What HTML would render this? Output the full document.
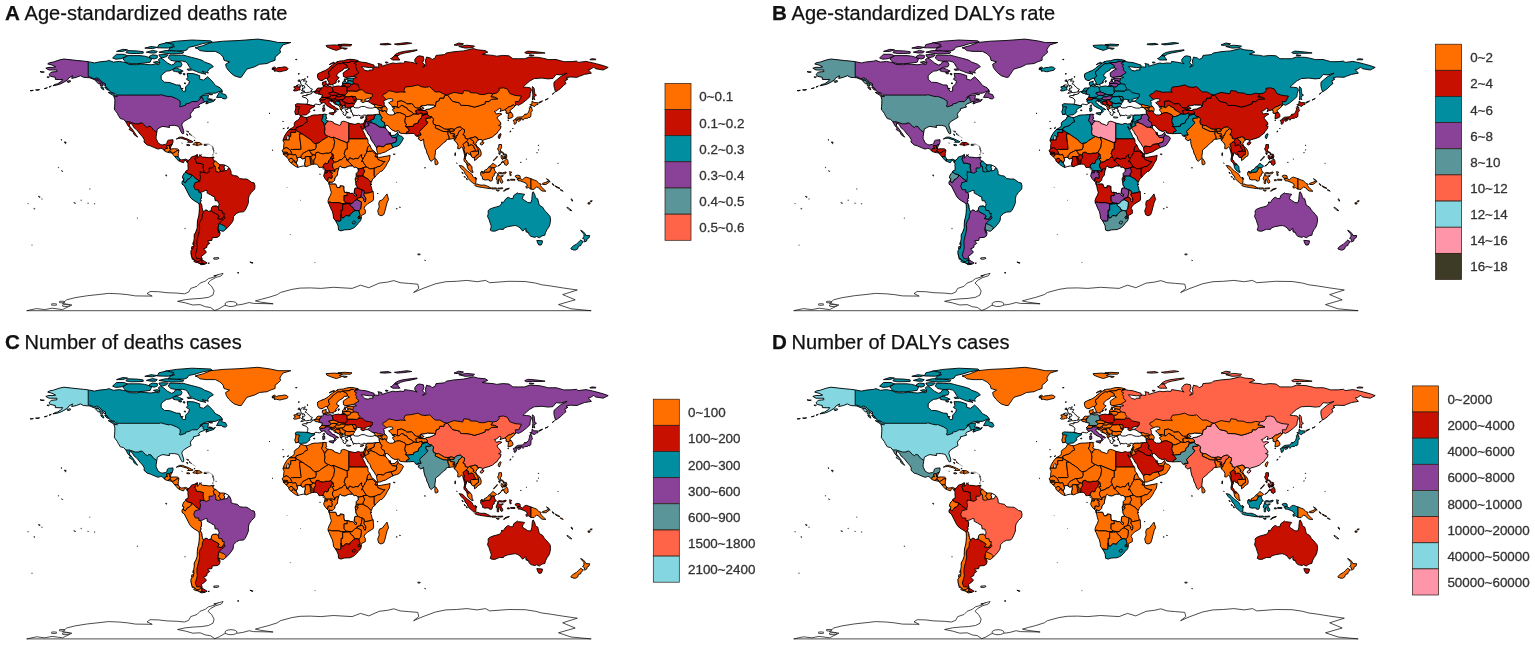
<!DOCTYPE html>
<html lang="en"><head><meta charset="utf-8"><title>Global burden maps</title>
<style>html,body{margin:0;padding:0;background:#fff}svg{display:block;filter:blur(0.4px)}text{font-family:"Liberation Sans",Arial,Helvetica,sans-serif;fill:#111}.t{font-size:20.05px;stroke:#111;stroke-width:0.25px}.t tspan.b{font-weight:700;font-size:20.6px}.l{font-size:13.4px;fill:#333;stroke:#333;stroke-width:0.3px}.m path{stroke:#000;stroke-width:0.9;stroke-linejoin:round}</style></head><body>
<svg width="1535" height="647" viewBox="0 0 1535 647">
<rect width="1535" height="647" fill="#fff"/>
<defs>
<clipPath id="c_namerica"><path d="M45.8 68.2L49.0 67.3L52.9 67.4L55.6 66.9L52.1 65.1L47.7 63.9L49.0 62.9L53.7 61.9L59.2 60.0L63.9 59.0L71.0 59.8L77.2 60.5L83.5 61.1L88.2 61.7L94.5 62.9L99.2 61.9L107.1 61.1L108.6 60.3L113.4 62.1L119.6 61.4L125.9 62.7L129.1 64.5L136.9 64.7L140.0 64.0L144.8 64.3L151.0 64.8L155.7 63.9L158.9 64.7L159.7 62.7L158.4 59.5L160.5 58.0L163.6 59.5L165.2 61.1L167.5 63.0L171.4 65.1L173.8 64.3L175.4 61.9L177.7 61.4L180.9 62.2L182.0 64.3L180.9 66.8L176.2 67.3L173.0 69.2L169.9 70.8L166.7 71.1L163.6 73.2L161.2 75.7L161.2 79.2L164.4 82.2L169.9 82.5L176.2 84.9L180.1 85.1L180.9 88.6L183.2 91.4L185.6 91.1L185.6 87.0L188.7 83.8L189.5 81.3L186.4 79.2L187.9 77.3L187.1 73.4L193.4 73.6L199.7 75.7L199.7 79.2L203.6 80.1L207.6 76.8L212.3 81.3L215.4 85.4L220.1 87.8L222.2 90.3L220.1 91.2L215.4 93.2L209.1 93.2L204.4 94.3L199.7 97.5L203.6 95.4L208.3 94.8L208.3 96.7L207.6 99.2L209.1 100.0L213.0 100.3L215.4 99.2L213.8 101.3L209.1 102.7L206.0 104.0L206.0 102.4L208.3 101.1L204.4 101.6L204.4 102.2L199.7 104.0L198.6 105.6L199.7 106.9L196.6 107.8L193.4 108.7L193.4 110.5L191.4 112.1L190.3 114.6L191.1 117.3L187.9 119.1L184.8 121.0L182.4 123.0L181.8 125.1L183.7 130.8L183.7 133.5L182.4 133.8L180.9 131.6L179.8 129.1L178.5 126.4L176.9 125.9L174.6 125.4L171.4 125.4L169.1 125.6L169.6 127.4L166.7 127.0L162.8 126.4L160.5 127.2L157.3 129.1L156.8 132.4L156.2 136.4L156.1 138.4L158.1 142.9L160.5 144.4L162.0 145.0L165.2 144.4L166.7 143.7L167.5 140.8L168.3 140.2L173.0 139.7L173.0 142.1L171.9 144.9L171.1 146.2L170.2 148.6L171.4 148.9L174.6 148.7L177.7 148.9L179.0 150.2L178.3 153.4L178.2 156.7L179.3 158.3L180.9 159.9L184.0 159.6L185.6 159.1L188.1 160.4L187.3 162.8L186.4 160.9L184.8 160.1L183.5 162.7L181.3 162.0L179.3 161.1L178.2 160.6L176.2 158.3L174.9 156.8L172.2 153.6L171.8 153.0L169.1 152.6L165.9 151.8L164.7 151.0L162.0 148.4L160.5 148.4L158.1 149.1L154.2 147.6L150.2 145.8L147.1 144.9L144.0 142.1L144.3 139.7L142.6 136.9L140.0 134.0L137.8 131.2L136.1 129.3L133.8 127.5L132.2 124.3L129.5 123.1L129.5 125.9L132.2 129.1L134.5 132.4L136.4 135.3L137.7 137.1L136.4 136.4L133.8 134.3L133.3 132.1L130.6 130.4L129.1 129.5L130.3 128.0L128.0 125.9L126.5 123.0L125.8 121.8L123.7 119.4L120.3 118.6L118.2 115.2L117.3 113.3L115.2 110.5L114.3 109.1L114.6 106.5L114.8 103.2L114.9 99.7L113.8 96.1L117.3 96.7L116.5 95.1L114.9 93.5L110.2 91.9L108.6 89.4L105.5 86.2L103.9 84.6L100.8 82.2L97.7 79.7L94.5 79.7L89.8 77.8L83.5 77.3L80.4 75.7L76.5 77.3L71.7 78.4L72.5 75.7L68.6 78.1L67.8 79.7L63.9 82.2L60.8 83.8L56.8 85.1L52.9 85.7L55.3 84.3L57.6 83.8L61.5 81.3L62.6 79.4L60.0 79.6L55.3 79.4L55.3 77.3L50.5 76.3L49.0 74.5L50.5 73.1L51.3 72.1L56.8 71.6L56.8 70.0L53.7 70.0L49.0 70.0Z"/></clipPath>
<clipPath id="c_samerica"><path d="M188.1 160.4L190.3 159.1L191.1 157.3L192.2 156.7L195.0 155.9L197.3 154.4L197.7 156.7L197.0 158.3L199.7 155.9L199.7 154.7L202.1 157.0L206.0 157.3L209.1 157.8L212.3 157.2L212.6 158.3L213.8 160.7L215.7 161.1L217.8 163.2L220.1 164.8L223.2 164.8L224.8 165.1L228.0 166.7L229.5 168.0L231.1 171.6L231.1 174.5L233.5 175.3L234.2 175.6L237.4 176.1L239.7 178.6L243.7 179.0L246.8 179.0L249.2 180.5L251.5 182.3L254.2 182.9L255.0 185.8L254.7 189.1L251.5 192.3L249.2 195.6L248.4 198.8L248.4 202.8L246.8 206.9L245.2 210.1L243.7 211.8L239.7 212.1L236.6 213.4L233.5 216.6L233.1 220.7L230.3 224.7L228.0 227.2L225.6 229.6L223.4 231.2L221.4 231.0L218.1 229.6L219.8 232.0L220.1 233.6L219.3 236.1L217.0 237.4L212.3 237.7L211.8 240.4L207.6 240.9L209.7 243.4L207.1 245.0L206.8 247.4L203.6 249.0L206.0 251.4L206.3 252.3L203.6 254.7L201.3 256.3L202.2 259.2L198.1 261.7L196.6 261.2L194.2 259.6L191.8 257.1L191.1 253.9L190.9 250.6L193.4 248.2L193.9 245.0L193.7 241.7L194.2 238.5L194.2 234.8L195.8 232.0L197.2 228.0L197.3 223.1L197.7 219.9L198.8 215.8L199.1 212.6L199.4 208.5L199.2 204.3L197.3 202.5L194.2 200.7L191.1 198.3L189.7 196.4L188.4 193.9L186.4 189.9L184.3 185.8L182.0 184.2L182.0 181.8L183.5 180.0L184.0 178.6L182.4 178.1L182.7 176.1L184.0 173.7L185.6 172.1L185.9 170.9L187.9 170.3L188.2 168.0L187.9 165.6L188.1 163.2L187.3 162.8Z"/></clipPath>
<clipPath id="c_africa"><path d="M300.3 116.5L301.3 116.3L304.9 117.3L306.5 117.6L309.6 116.5L312.0 115.4L314.3 114.9L317.4 114.9L321.4 114.6L325.0 114.1L326.9 114.6L326.1 115.4L326.2 117.0L326.9 118.6L325.3 119.4L326.9 120.7L329.2 121.2L330.3 121.2L333.5 122.2L333.9 123.5L337.1 124.4L339.4 125.4L341.0 124.3L341.0 122.2L343.4 121.2L345.7 121.7L348.9 123.1L352.0 123.8L355.1 124.4L356.7 123.8L358.3 123.3L360.3 124.0L363.3 123.8L364.4 126.7L363.5 129.1L363.3 129.6L362.2 128.7L360.8 126.1L360.6 126.7L361.4 128.3L362.7 130.4L363.8 132.4L365.3 135.6L365.5 136.4L367.5 138.9L368.0 140.5L368.0 142.9L370.0 145.3L371.6 149.2L374.0 151.0L376.3 153.4L377.6 154.2L377.1 155.9L378.7 157.5L381.8 157.0L385.0 156.4L388.1 155.9L390.1 155.2L389.8 157.5L389.4 159.9L387.3 163.2L385.7 166.4L383.4 169.6L381.8 171.3L380.7 171.3L378.7 172.9L376.3 175.3L374.9 177.3L372.7 178.9L371.9 181.0L371.1 182.6L370.5 185.0L371.6 187.5L372.1 190.7L373.2 191.5L373.3 194.8L373.7 198.0L373.2 200.4L370.8 202.0L367.7 203.7L366.1 205.3L364.6 206.9L364.1 208.5L365.3 210.1L365.3 213.4L361.4 215.5L361.3 216.6L361.3 218.2L360.6 220.7L358.3 223.1L356.7 225.2L354.3 227.5L352.8 228.4L349.9 229.6L347.3 229.7L344.1 229.9L341.0 230.9L338.6 230.1L338.3 227.6L338.2 225.9L336.8 223.1L335.5 220.8L333.5 218.2L333.2 215.0L332.4 211.6L330.8 208.5L329.2 204.5L328.1 202.4L328.1 200.4L328.9 198.0L330.6 194.8L331.3 192.3L330.3 189.1L329.7 185.8L328.9 184.2L328.8 182.6L328.1 181.8L326.9 180.7L325.0 178.6L323.7 176.1L324.2 173.7L324.7 172.9L325.0 170.8L324.8 168.8L324.5 168.0L322.9 167.2L320.6 167.4L319.0 167.5L318.2 165.6L316.7 164.3L314.9 164.1L312.7 164.3L311.5 164.6L309.6 165.3L306.5 166.7L304.9 166.2L303.3 165.9L300.2 166.6L297.8 167.4L295.5 166.4L292.6 164.3L291.5 163.3L290.0 162.3L288.9 160.7L288.7 159.1L286.8 157.5L286.1 156.7L284.5 155.1L283.4 154.4L283.2 152.6L282.1 150.7L283.7 148.6L283.7 145.3L284.2 142.9L282.9 140.5L284.5 136.1L286.8 132.4L289.2 129.6L292.3 127.8L293.9 126.7L294.4 125.1L294.2 123.5L295.2 121.8L297.7 120.1L298.9 119.4Z"/></clipPath>
<clipPath id="c_eurasia"><path d="M295.6 114.6L294.8 111.8L295.8 108.9L295.8 106.6L295.2 104.8L297.0 103.7L301.0 103.9L304.1 104.0L306.8 104.2L307.7 102.4L307.9 100.0L306.1 98.0L302.5 96.9L302.2 96.1L304.9 95.4L307.1 95.8L306.8 94.0L307.9 94.5L309.9 94.3L312.0 93.3L312.1 92.0L313.5 91.7L315.1 91.2L316.2 90.3L317.0 88.6L318.2 88.0L320.6 88.0L322.5 87.7L323.3 87.0L323.1 85.4L322.3 84.4L322.5 82.2L324.5 81.8L326.2 81.0L325.9 83.0L326.6 83.5L325.3 84.6L324.7 85.4L325.3 86.2L326.9 86.4L326.9 87.0L328.4 86.7L330.8 86.4L331.9 87.2L334.7 86.5L338.6 85.9L340.2 86.4L341.0 86.2L342.6 85.1L342.6 83.8L342.6 82.2L343.7 81.2L344.9 81.0L346.5 82.2L347.8 81.8L347.9 80.1L346.5 79.4L346.5 78.6L348.9 78.1L353.6 78.1L356.7 77.5L354.3 76.5L352.0 76.5L348.9 77.0L345.7 77.5L343.4 76.5L343.4 74.9L343.0 73.2L344.9 71.6L348.1 69.5L349.5 69.0L347.6 67.9L344.1 68.2L342.9 70.0L339.4 72.1L337.1 74.1L336.6 76.2L339.1 77.6L337.9 78.9L335.8 81.3L335.3 82.8L334.4 83.6L332.1 84.6L330.0 84.8L329.5 83.5L328.4 81.3L327.2 78.9L326.2 78.1L324.5 79.1L322.2 80.4L320.6 80.5L318.5 79.4L317.6 77.3L317.4 74.9L317.9 73.7L320.6 72.4L323.7 71.3L326.1 70.0L328.4 68.4L330.0 66.8L332.4 65.1L333.9 63.9L337.1 62.2L339.4 61.1L343.4 60.8L346.5 59.8L349.9 59.3L353.6 59.5L358.3 60.6L355.1 61.4L358.0 61.4L361.4 62.1L366.1 62.6L374.0 65.1L374.4 66.8L372.4 67.4L369.3 67.6L363.8 66.8L361.4 66.6L363.8 69.2L364.6 70.3L368.5 71.1L369.3 70.0L373.2 70.0L372.4 68.4L375.5 66.8L378.7 67.3L378.7 64.7L377.9 63.5L381.8 64.3L381.8 66.3L386.5 64.7L392.8 63.0L395.9 63.5L400.7 62.9L403.8 63.4L404.6 61.4L410.1 62.2L414.8 63.0L417.1 63.9L414.8 61.4L414.8 59.5L417.1 56.6L419.5 55.8L423.4 56.6L423.9 59.5L422.6 62.7L425.0 65.1L422.6 67.1L425.8 66.0L425.8 63.5L425.3 61.1L426.6 57.0L428.1 57.5L430.5 57.9L432.1 59.5L435.2 57.9L436.0 55.4L444.6 54.6L446.2 53.0L454.0 51.7L463.5 50.9L473.4 48.6L477.6 49.8L485.4 50.6L487.8 52.2L482.3 54.3L487.0 54.9L493.3 55.4L496.4 56.2L502.7 55.4L509.0 55.8L512.9 58.7L518.4 58.7L524.7 58.7L529.4 57.0L538.8 57.4L545.1 58.7L548.2 59.6L556.1 59.5L560.8 60.8L563.9 61.7L571.8 61.6L576.5 61.1L578.1 62.4L585.9 61.4L592.2 62.7L596.9 63.9L603.2 65.6L608.2 67.4L603.2 70.0L595.3 68.7L593.8 67.1L590.6 69.2L588.3 69.7L591.4 73.2L584.4 74.4L579.6 76.2L577.0 77.3L570.2 77.0L566.3 77.6L567.1 79.7L564.7 80.9L566.0 83.5L563.6 85.4L560.8 88.3L558.1 90.3L555.6 91.9L554.5 88.6L553.9 85.4L554.0 82.2L556.9 79.7L560.8 76.5L565.5 74.1L567.1 73.2L560.8 74.9L556.1 74.5L553.0 78.4L548.2 78.9L542.0 78.1L534.1 78.6L529.4 81.3L524.7 85.4L523.1 87.0L526.3 87.3L530.2 87.8L531.4 89.9L530.2 93.5L529.9 96.7L526.3 100.0L522.3 103.2L518.4 105.3L516.8 104.5L514.8 106.0L513.2 108.1L510.6 109.7L509.8 111.0L511.3 112.6L512.8 114.6L512.9 116.5L512.1 117.6L509.8 118.3L508.0 118.8L508.2 116.2L508.4 114.6L507.4 113.4L505.9 112.9L506.3 110.8L504.8 109.9L501.1 111.0L500.0 111.6L501.1 108.9L499.6 108.2L496.4 110.8L494.4 111.3L495.6 112.9L496.4 114.1L499.3 113.3L501.9 114.1L499.6 115.4L497.2 117.3L497.2 118.6L498.8 120.2L500.8 123.0L500.8 124.6L498.5 125.4L501.1 126.2L500.4 128.7L498.0 131.6L497.2 133.2L494.9 134.8L492.5 136.9L488.9 138.4L487.0 138.9L483.9 139.8L482.8 140.5L482.6 141.6L482.0 139.7L479.6 139.5L477.3 140.8L475.7 143.7L476.8 146.2L479.5 148.6L481.0 151.8L481.2 154.2L480.7 155.9L477.6 157.7L476.8 159.1L474.5 160.6L474.5 158.3L473.5 157.7L472.1 157.3L471.3 155.9L470.5 154.7L468.2 153.9L467.9 152.8L466.6 153.0L466.4 155.1L465.3 157.5L465.5 159.6L466.9 160.9L467.4 162.8L469.1 163.3L470.1 164.5L471.9 166.7L472.1 170.0L473.2 172.2L472.1 172.4L470.1 170.9L468.6 169.6L467.5 167.7L467.1 165.6L466.8 164.0L465.8 162.8L464.2 161.2L463.9 159.1L464.4 157.5L464.6 155.1L463.8 151.8L463.0 149.4L462.8 147.8L461.6 147.0L459.2 148.9L457.7 148.6L458.0 145.3L456.9 142.9L455.3 141.6L454.4 140.5L453.7 138.4L451.7 138.9L449.3 139.2L447.8 139.3L446.2 140.0L445.9 141.3L443.8 142.6L441.5 144.9L438.8 147.4L436.8 148.9L435.5 150.2L435.4 152.6L434.9 155.9L434.9 157.8L433.6 159.4L432.4 160.1L431.3 161.4L429.7 159.9L429.2 158.3L428.1 155.4L427.0 153.4L426.3 150.2L425.0 147.8L423.9 143.7L423.7 140.5L423.4 138.9L422.8 140.0L420.8 140.8L417.9 138.4L419.5 137.2L417.1 136.4L415.4 135.6L414.8 134.3L414.0 133.4L410.1 133.5L406.3 133.7L402.2 133.4L399.6 132.9L398.8 130.8L395.2 131.4L392.0 129.9L389.7 127.8L388.1 125.7L386.5 125.3L385.7 125.9L385.0 126.9L385.7 128.3L387.3 130.4L388.4 131.6L389.4 133.2L390.0 132.2L390.6 134.0L390.5 135.1L392.8 135.5L395.2 135.0L396.4 133.5L397.8 132.1L398.1 134.0L399.1 135.6L401.6 136.3L403.5 138.1L401.9 141.3L400.3 143.7L399.1 145.3L396.3 146.5L394.4 147.0L391.6 148.3L388.1 150.2L385.7 151.8L381.8 153.0L380.2 153.8L377.9 153.9L377.4 152.6L376.8 150.2L376.6 147.9L375.5 146.2L374.0 143.7L371.1 139.7L370.0 136.4L368.0 134.0L366.9 131.6L365.0 129.1L364.4 126.7L363.3 123.8L364.2 122.3L364.7 120.9L365.3 119.6L366.0 118.4L365.8 117.0L366.1 116.2L366.4 115.2L365.3 115.2L363.8 115.0L362.2 116.0L360.6 116.0L358.3 114.9L357.5 115.7L355.1 115.4L353.6 115.0L352.5 114.6L352.5 112.9L351.2 112.1L351.7 110.5L350.7 109.7L350.7 109.2L350.4 108.4L348.9 108.2L347.3 108.6L347.6 109.5L346.5 109.4L345.6 108.9L345.1 109.7L345.7 110.8L346.5 112.1L347.3 112.9L346.0 112.9L346.0 113.8L345.7 115.4L344.8 115.4L343.7 114.9L342.9 113.3L343.7 112.5L342.6 112.1L342.1 111.3L341.3 110.3L340.2 108.9L340.1 107.3L339.7 106.5L338.6 105.6L337.1 104.8L334.7 104.0L333.5 102.9L332.4 101.3L331.1 101.8L331.0 100.6L329.1 101.0L328.9 102.7L330.8 103.9L331.9 105.6L334.7 106.6L334.7 107.4L337.1 108.4L338.6 109.5L337.9 110.0L336.3 108.9L335.7 110.0L336.4 111.3L335.5 112.3L334.7 113.1L334.2 112.6L334.7 110.8L333.9 109.7L332.8 108.7L331.9 108.4L330.0 107.6L328.8 106.8L326.9 105.6L325.9 104.4L325.3 103.2L323.4 102.6L321.4 103.5L319.8 104.7L317.4 104.4L315.9 104.0L314.5 104.7L314.6 105.8L314.6 106.6L313.1 107.4L310.9 108.4L309.3 110.5L309.9 111.6L308.7 112.9L307.2 114.1L306.1 114.9L302.7 115.0L301.1 116.0L299.7 115.2L298.6 114.2Z"/></clipPath>
</defs>
<g class="m" transform="translate(0,0)">
<path d="M300.7 93.3L303.3 93.0L304.1 92.5L306.5 92.5L309.6 92.2L311.6 91.7L311.8 91.2L310.7 91.1L312.1 90.1L312.3 89.1L310.4 88.6L309.9 87.8L309.4 87.0L307.7 86.0L307.2 85.1L306.5 84.1L304.9 83.8L305.7 83.1L306.5 82.2L306.8 81.2L304.1 81.0L303.3 81.2L304.7 79.6L301.8 79.6L301.3 80.4L300.5 81.7L300.7 83.0L301.0 84.6L301.9 84.9L301.8 85.7L304.1 85.6L304.9 87.0L304.7 88.0L302.5 88.2L303.0 89.0L302.1 89.0L303.2 89.6L301.4 90.4L303.0 90.9L304.9 91.2L304.1 91.6L302.5 91.9Z" fill="#FFFFFF"/>
<path d="M300.2 89.9L299.7 88.2L300.2 86.7L298.1 86.9L296.7 86.2L298.1 84.9L296.3 85.7L296.3 86.5L293.9 86.7L294.2 88.0L295.5 88.3L294.7 89.3L293.4 90.1L293.9 90.9L296.3 90.9L298.6 90.1Z" fill="#C71000"/>
<path d="M300.2 86.7L301.0 86.2L299.9 85.1L298.1 84.9L296.7 86.2L298.1 86.9Z" fill="#FFFFFF"/>
<path d="M271.9 68.4L274.3 66.9L276.6 68.4L278.2 67.6L281.3 67.4L284.5 66.8L286.8 67.3L288.2 68.9L286.8 70.2L282.9 71.1L279.8 71.8L276.6 71.1L274.0 71.1L275.1 70.3L271.9 69.4L275.1 68.7Z" fill="#C71000"/>
<path d="M326.1 45.4L334.7 44.9L342.6 45.7L339.4 47.3L342.6 48.1L336.3 50.4L331.6 48.9L326.9 47.0Z" fill="#C71000"/>
<path d="M337.9 44.6L344.1 44.1L352.0 44.6L350.4 46.0L342.6 45.9Z" fill="#C71000"/>
<path d="M342.6 47.8L347.3 48.3L345.7 49.3L343.4 48.9Z" fill="#C71000"/>
<path d="M390.5 58.5L392.8 60.0L395.9 60.0L399.9 60.0L398.3 57.9L397.2 55.9L394.4 55.8L392.8 57.0L392.0 58.2Z" fill="#C71000"/>
<path d="M394.4 55.4L398.3 55.6L400.7 54.1L404.6 53.0L411.7 51.7L417.1 50.4L417.1 49.8L411.7 50.4L403.8 51.4L399.1 52.5L395.9 54.1Z" fill="#C71000"/>
<path d="M380.2 43.9L388.1 43.4L391.2 44.4L385.0 44.9L380.2 44.6Z" fill="#C71000"/>
<path d="M394.4 44.1L400.7 43.3L406.9 42.5L411.7 43.3L403.8 44.4L397.5 44.9Z" fill="#C71000"/>
<path d="M458.8 46.5L466.6 45.2L474.5 46.0L472.9 47.7L465.0 48.1Z" fill="#C71000"/>
<path d="M454.0 44.9L458.8 43.0L463.5 43.8L461.9 44.9L455.6 45.4Z" fill="#C71000"/>
<path d="M524.7 52.5L527.8 51.1L537.2 51.9L542.0 52.5L545.1 53.0L538.8 53.3L532.5 53.2L526.3 53.5Z" fill="#C71000"/>
<path d="M529.4 54.8L534.1 55.3L532.5 55.9L529.4 55.6Z" fill="#C71000"/>
<path d="M589.8 59.5L592.2 58.7L596.1 59.2L595.3 59.8L590.3 59.8Z" fill="#C71000"/>
<path d="M385.7 61.9L388.1 62.4L387.3 63.2L385.4 62.7Z" fill="#C71000"/>
<path d="M532.5 86.5L534.1 88.2L534.6 91.9L534.9 94.3L536.5 95.1L534.1 96.7L534.4 98.8L534.9 99.8L533.3 98.8L532.5 100.0L532.5 97.5L532.9 95.1L532.5 91.9L532.2 88.6Z" fill="#C71000"/>
<path d="M529.4 107.3L531.0 105.6L529.9 104.4L531.8 104.4L532.1 101.0L534.1 102.6L537.7 102.7L538.0 104.4L535.7 105.0L534.6 106.5L532.1 105.5L530.2 106.5Z" fill="#FF6F00"/>
<path d="M531.0 107.3L531.8 107.4L531.8 108.9L532.5 110.5L531.0 112.5L531.0 114.6L530.7 116.7L529.1 117.8L528.9 117.0L527.5 118.3L524.7 118.4L524.4 118.9L522.8 120.2L521.7 118.9L522.0 118.3L518.4 118.9L515.3 119.4L515.3 118.8L517.6 117.2L520.0 117.0L523.1 116.7L524.4 114.6L525.2 113.8L525.2 114.9L527.0 113.9L528.6 112.1L529.4 109.7L529.4 108.1Z" fill="#FF6F00"/>
<path d="M515.1 119.6L516.4 120.1L516.7 121.4L515.9 123.6L514.8 124.3L514.0 123.8L514.2 121.8L513.2 121.0L513.4 120.2Z" fill="#FF6F00"/>
<path d="M517.6 119.4L520.8 119.1L521.1 119.7L520.3 120.6L518.4 121.4L517.5 120.4Z" fill="#FF6F00"/>
<path d="M500.4 133.5L501.1 134.0L500.4 136.4L499.3 138.9L498.2 137.2L498.5 135.6L499.6 134.0Z" fill="#C71000"/>
<path d="M480.3 143.2L481.5 142.1L483.4 141.9L483.9 142.7L483.1 144.0L481.7 145.0L480.3 144.5Z" fill="#FF6F00"/>
<path d="M435.0 158.8L435.7 158.6L437.1 160.7L438.0 162.3L437.9 164.0L436.1 164.9L435.2 164.5L434.9 162.3L434.9 160.7Z" fill="#FF6F00"/>
<path d="M498.9 144.5L501.5 144.5L501.6 147.8L500.5 149.4L500.7 151.5L502.7 152.0L504.4 154.1L503.2 153.4L501.1 152.3L499.3 152.1L498.9 151.0L498.0 150.2L497.7 148.1L498.6 147.6Z" fill="#FF6F00"/>
<path d="M501.1 163.2L502.4 161.2L504.0 161.2L505.5 160.2L506.6 158.6L507.9 160.7L508.2 164.0L506.6 164.8L506.5 165.4L504.6 164.5L504.3 162.7L502.7 162.3Z" fill="#FF6F00"/>
<path d="M504.8 154.2L506.3 154.2L506.9 156.4L506.2 158.0L505.5 158.0L505.1 156.2Z" fill="#FF6F00"/>
<path d="M501.1 155.4L502.9 155.9L503.2 157.5L502.7 159.8L501.9 159.1L501.1 157.5Z" fill="#FF6F00"/>
<path d="M498.6 152.8L500.2 153.0L500.0 154.6L499.4 154.6Z" fill="#FF6F00"/>
<path d="M493.6 160.9L494.9 159.6L497.1 157.3L497.2 156.2L496.4 157.5L494.9 158.6L493.6 160.2Z" fill="#FF6F00"/>
<path d="M480.7 172.1L481.7 171.3L482.3 172.9L483.9 172.9L485.8 172.1L489.4 172.1L490.9 169.6L491.1 167.7L494.1 167.7L494.2 168.8L494.9 170.9L496.4 172.9L494.5 173.2L494.1 175.8L492.5 176.9L492.5 179.4L491.7 181.0L489.7 181.1L489.4 180.0L487.0 179.7L485.0 180.0L482.6 179.2L482.3 176.9L480.7 175.0Z" fill="#FF6F00"/>
<path d="M481.7 171.3L484.2 172.1L484.5 170.3L487.0 169.3L488.6 167.2L490.9 165.6L492.8 163.2L494.4 164.3L496.7 166.1L495.2 167.5L494.1 167.7L491.1 167.7L490.9 169.6L489.4 172.1L485.8 172.1L483.9 172.9L482.3 172.9Z" fill="#FF6F00"/>
<path d="M488.6 167.2L489.5 166.4L490.6 166.6L490.2 167.7L489.4 167.7Z" fill="#FFFFFF"/>
<path d="M459.2 165.4L462.7 166.1L464.6 168.3L467.4 170.9L469.7 172.6L472.1 174.5L472.9 176.4L474.5 178.2L476.0 179.4L475.9 181.8L475.7 183.9L473.8 183.9L472.1 182.3L470.2 180.8L468.2 178.6L467.1 176.0L465.0 173.7L464.6 171.7L462.7 170.0L461.1 168.3Z" fill="#FF6F00"/>
<path d="M474.8 185.5L476.2 184.1L477.6 184.1L479.9 185.0L483.1 185.2L483.9 184.9L486.4 185.7L489.4 187.0L489.4 188.6L486.2 188.1L482.3 187.5L479.9 187.1L476.8 186.5Z" fill="#FF6F00"/>
<path d="M497.7 173.2L499.3 172.4L502.7 172.9L505.9 171.9L506.2 172.9L504.3 173.9L499.6 173.7L498.3 174.5L498.2 175.8L500.4 176.0L503.2 175.6L503.2 176.1L500.7 177.4L501.9 179.7L503.0 181.8L501.9 183.4L500.4 182.3L499.6 178.9L498.5 179.2L498.6 182.3L498.6 183.6L497.2 183.6L497.2 180.2L496.1 178.9L496.9 176.6L497.7 174.5Z" fill="#FF6F00"/>
<path d="M489.5 187.8L491.2 187.8L490.9 188.8L489.8 188.4Z" fill="#FF6F00"/>
<path d="M491.7 187.9L493.3 187.9L496.4 187.9L496.4 188.8L493.3 189.1L491.7 188.9Z" fill="#FF6F00"/>
<path d="M497.7 188.1L499.6 188.1L502.7 187.8L502.7 188.6L499.6 188.9L497.7 188.8Z" fill="#FF6F00"/>
<path d="M496.4 189.7L499.3 190.5L498.0 191.2L496.4 190.4Z" fill="#FF6F00"/>
<path d="M503.5 191.2L504.9 189.6L505.9 189.1L505.9 189.9L504.8 191.0Z" fill="#FF6F00"/>
<path d="M505.9 189.1L509.3 188.1L509.0 188.8L505.9 189.9Z" fill="#FF6F00"/>
<path d="M509.8 171.3L510.6 172.1L511.7 172.1L510.6 173.7L511.3 175.3L510.2 175.8L509.8 173.7Z" fill="#FF6F00"/>
<path d="M510.6 179.2L515.0 179.4L515.0 180.2L510.6 180.2Z" fill="#FF6F00"/>
<path d="M507.4 179.7L509.3 179.7L509.3 180.7L507.4 180.7Z" fill="#FF6F00"/>
<path d="M515.3 175.8L517.6 175.1L520.0 175.8L520.3 178.6L522.3 179.8L524.7 177.7L526.3 177.1L531.0 178.7L531.0 189.2L528.6 187.6L526.3 188.1L525.9 186.3L527.5 185.8L526.3 183.4L523.1 182.0L520.0 180.8L518.4 181.0L518.1 179.8L516.8 179.0L519.7 178.4L517.3 178.1L515.3 176.8Z" fill="#FF6F00"/>
<path d="M531.0 178.7L534.1 180.0L536.5 180.7L538.8 183.4L541.2 184.2L540.4 185.5L542.0 187.5L543.5 189.1L545.9 191.2L544.3 191.3L542.0 190.9L540.4 189.9L538.8 187.8L536.5 187.0L534.9 188.3L534.1 189.4L531.0 189.2Z" fill="#FF6F00"/>
<path d="M542.4 183.4L545.1 182.6L548.2 181.3L548.7 182.6L545.9 184.5L542.7 184.5Z" fill="#FF6F00"/>
<path d="M546.4 178.7L549.0 180.2L550.1 182.1L549.3 181.8L547.5 179.7Z" fill="#FF6F00"/>
<path d="M552.3 183.4L554.2 185.0L553.7 185.7L552.6 184.7Z" fill="#FF6F00"/>
<path d="M555.3 185.8L557.7 187.1L560.0 188.3L559.2 188.4L556.9 187.5L555.3 186.5Z" fill="#FF6F00"/>
<path d="M560.5 189.6L562.4 190.4L563.2 191.2L561.6 190.7L560.3 190.1Z" fill="#FF6F00"/>
<path d="M571.2 198.8L572.3 199.6L572.6 201.2L571.8 200.7L571.2 199.6Z" fill="#FF6F00"/>
<path d="M567.1 207.1L569.4 208.5L571.8 210.6L571.0 210.8L568.6 209.3L567.1 207.7Z" fill="#FFFFFF"/>
<path d="M588.0 202.7L590.0 202.8L590.0 204.0L588.0 204.0Z" fill="#FF6F00"/>
<path d="M590.3 200.9L592.2 200.7L591.4 201.9L590.2 201.7Z" fill="#FF6F00"/>
<path d="M536.8 240.4L542.4 240.8L542.4 242.5L541.2 245.0L538.8 245.0L537.6 242.9Z" fill="#008EA0"/>
<path d="M580.7 230.2L583.3 231.7L585.1 233.8L585.9 235.4L589.8 235.6L588.9 238.0L587.3 238.5L586.7 240.9L584.7 241.9L584.0 241.4L584.7 239.6L582.5 238.3L584.0 236.9L583.9 234.4L583.1 233.3L581.2 231.2Z" fill="#008EA0"/>
<path d="M580.7 240.1L583.3 241.7L581.2 244.2L580.9 245.5L578.5 246.3L577.6 248.9L575.7 250.0L573.8 250.0L571.0 249.0L571.0 248.2L573.4 245.8L576.5 244.2L578.5 242.2L580.0 240.6Z" fill="#008EA0"/>
<path d="M329.1 112.9L334.1 112.5L333.3 115.0L330.8 114.2L329.1 113.6Z" fill="#C71000"/>
<path d="M322.5 108.1L324.7 107.8L324.8 110.8L322.9 111.5L322.8 109.7Z" fill="#C71000"/>
<path d="M323.1 105.6L324.4 104.8L324.5 106.5L324.0 107.4L323.1 106.8Z" fill="#FFFFFF"/>
<path d="M346.5 116.8L348.1 117.0L350.9 117.3L350.7 117.8L348.1 118.0L346.5 117.5Z" fill="#FFFFFF"/>
<path d="M360.3 117.8L361.4 117.2L363.9 116.7L363.0 117.8L361.4 118.4L360.5 118.3Z" fill="#C71000"/>
<path d="M326.9 84.3L329.4 83.6L329.4 85.1L328.1 85.9L326.9 85.1Z" fill="#C71000"/>
<path d="M338.2 80.7L339.4 80.7L339.0 82.2L338.0 82.0Z" fill="#C71000"/>
<path d="M313.4 110.3L314.6 109.9L314.9 110.5L314.0 110.8Z" fill="#C71000"/>
<path d="M176.3 139.0L179.3 137.2L182.4 137.1L184.8 138.1L187.9 139.2L191.1 140.8L193.1 141.8L191.8 142.3L187.6 142.3L188.7 141.1L186.4 139.7L183.2 138.9L180.9 138.1L178.5 138.5Z" fill="#C71000"/>
<path d="M192.8 144.7L195.0 142.3L197.0 142.4L197.0 145.5L195.8 145.0Z" fill="#FF6F00"/>
<path d="M197.0 142.4L199.7 142.6L202.2 144.4L201.3 144.7L198.9 145.0L197.3 145.8L197.0 145.5Z" fill="#FF6F00"/>
<path d="M186.7 144.7L188.7 144.5L190.0 145.3L188.4 145.7L186.7 145.2Z" fill="#C71000"/>
<path d="M204.1 144.5L206.6 144.7L206.5 145.3L204.1 145.3Z" fill="#C71000"/>
<path d="M212.6 157.2L214.0 157.0L213.8 158.1L212.6 158.1Z" fill="#C71000"/>
<path d="M186.7 131.2L188.4 131.4L188.7 132.1L187.1 131.7Z" fill="#C71000"/>
<path d="M186.8 133.8L187.6 134.6L187.6 135.6L186.8 135.0Z" fill="#C71000"/>
<path d="M216.5 97.4L219.3 92.4L222.5 90.9L221.7 93.5L225.6 94.6L226.9 97.5L225.6 99.0L222.5 98.5L221.7 97.4Z" fill="#008EA0"/>
<path d="M108.2 92.4L112.9 93.2L115.7 95.9L113.4 95.6Z" fill="#008EA0"/>
<path d="M100.8 86.9L102.8 87.0L103.9 89.9L101.6 88.6Z" fill="#008EA0"/>
<path d="M208.3 93.7L212.6 94.6L210.7 94.8Z" fill="#008EA0"/>
<path d="M208.6 98.7L212.3 99.3L211.5 100.0L209.1 99.5Z" fill="#008EA0"/>
<path d="M67.0 81.3L70.2 80.5L70.5 81.7L67.8 82.5Z" fill="#8A4198"/>
<path d="M201.9 259.7L201.9 263.4L205.2 263.9L201.3 264.4L197.3 262.5L195.8 261.2L198.9 261.2L198.9 260.0Z" fill="#C71000"/>
<path d="M201.9 259.7L207.2 263.0L205.2 263.9L201.9 263.4Z" fill="#C71000"/>
<path d="M213.8 257.9L218.5 257.6L218.9 258.4L217.0 259.2L213.8 259.1Z" fill="#FFFFFF"/>
<path d="M193.1 242.2L194.2 242.2L194.2 244.8L192.8 244.5Z" fill="#C71000"/>
<path d="M173.0 68.9L176.2 67.9L179.3 69.2L183.2 71.1L179.3 72.0L175.4 71.6L173.0 70.8Z" fill="#008EA0"/>
<path d="M122.8 58.7L127.5 55.6L140.0 55.6L144.8 56.2L151.8 58.2L150.2 62.2L143.2 63.2L136.9 63.7L131.4 63.7L125.9 62.7L124.3 60.6Z" fill="#008EA0"/>
<path d="M112.6 57.9L116.5 54.3L124.3 54.3L127.5 55.8L121.2 58.7L115.7 59.2Z" fill="#008EA0"/>
<path d="M125.9 52.7L127.5 50.6L136.9 50.9L143.2 51.7L143.2 53.2L136.9 53.5L130.6 53.6Z" fill="#008EA0"/>
<path d="M149.5 56.2L152.6 54.8L157.3 55.4L157.3 57.9L154.2 59.0L149.5 57.9Z" fill="#008EA0"/>
<path d="M158.9 54.8L163.6 54.5L168.3 54.9L166.7 56.6L162.0 57.9L159.7 56.6Z" fill="#008EA0"/>
<path d="M153.4 62.2L157.3 61.4L159.7 62.7L156.5 63.5Z" fill="#008EA0"/>
<path d="M158.9 52.2L165.2 50.6L176.2 50.6L184.0 52.2L182.4 53.6L171.4 53.8L165.2 53.3Z" fill="#008EA0"/>
<path d="M146.3 52.2L152.6 50.4L157.3 51.4L155.7 53.0L151.0 53.0Z" fill="#008EA0"/>
<path d="M168.3 50.6L169.9 48.1L174.6 46.5L165.2 43.0L176.2 41.2L191.8 40.0L210.7 40.8L212.3 42.0L202.8 43.6L195.0 46.0L188.7 47.3L187.1 49.8L184.0 50.9L176.2 50.9Z" fill="#008EA0"/>
<path d="M157.3 47.8L158.9 44.6L166.7 42.8L173.8 44.4L172.2 46.8L168.3 48.0Z" fill="#008EA0"/>
<path d="M144.8 48.1L151.0 46.5L157.3 47.3L152.6 48.6Z" fill="#008EA0"/>
<path d="M116.5 51.4L122.8 49.3L127.5 49.8L122.8 51.4Z" fill="#008EA0"/>
<path d="M64.7 141.8L66.2 142.4L65.5 143.7L64.7 142.9Z" fill="#8A4198"/>
<path d="M61.2 139.5L62.0 140.0L61.5 140.2Z" fill="#8A4198"/>
<path d="M393.3 154.1L395.2 154.2L394.4 154.6Z" fill="#FF6F00"/>
<path d="M396.4 208.4L397.2 208.7L396.7 209.2Z" fill="#FFFFFF"/>
<path d="M399.7 206.9L400.3 207.2L399.9 207.7Z" fill="#FF6F00"/>
<path d="M377.4 193.0L377.9 193.6L377.6 193.9Z" fill="#FF6F00"/>
<path d="M283.1 128.5L284.2 128.3L283.5 129.1Z" fill="#C71000"/>
<path d="M287.3 128.2L288.4 127.2L287.9 128.8Z" fill="#C71000"/>
<path d="M272.2 149.9L272.9 150.2L272.5 150.4Z" fill="#FF6F00"/>
<path d="M269.1 113.3L270.0 113.3L269.6 113.4Z" fill="#C71000"/>
<path d="M282.6 121.4L283.4 121.5L282.9 121.7Z" fill="#C71000"/>
<path d="M165.9 174.8L166.7 175.3L166.4 176.1L165.8 175.6Z" fill="#008EA0"/>
<path d="M417.9 253.9L420.3 254.2L419.5 255.0L417.9 254.7Z" fill="#FFFFFF"/>
<path d="M249.9 262.0L253.1 262.8L252.3 263.3Z" fill="#FFFFFF"/>
<path d="M298.1 73.7L299.4 73.6L298.9 74.4Z" fill="#C71000"/>
<path d="M307.2 76.3L308.0 76.8L307.6 77.5Z" fill="#FFFFFF"/>
<path d="M295.5 59.5L297.0 59.3L296.6 59.8Z" fill="#C71000"/>
<path d="M538.8 102.4L542.7 100.8L542.0 101.6L538.8 103.2Z" fill="#C71000"/>
<path d="M545.1 100.0L548.2 98.4L547.5 99.2Z" fill="#C71000"/>
<path d="M552.2 94.3L554.5 92.4L553.7 93.5Z" fill="#C71000"/>
<path d="M566.3 78.9L567.9 78.9L567.1 79.7Z" fill="#C71000"/>
<path d="M322.9 168.5L323.6 168.8L323.3 169.3Z" fill="#C71000"/>
<path d="M371.1 183.9L371.6 184.2L371.5 184.9Z" fill="#C71000"/>
<path d="M49.0 87.0L51.3 86.0L50.5 86.7Z" fill="#8A4198"/>
<path d="M44.3 88.6L47.4 87.7L46.6 88.3Z" fill="#8A4198"/>
<path d="M35.6 89.9L39.6 89.6L38.0 90.3Z" fill="#8A4198"/>
<path d="M30.1 90.6L33.3 90.3L31.7 90.9Z" fill="#8A4198"/>
<path d="M40.0 71.6L44.3 72.0L41.9 72.4Z" fill="#8A4198"/>
<path d="M46.9 77.0L49.5 76.8L48.5 77.6Z" fill="#8A4198"/>
<path d="M95.3 80.5L98.0 80.1L100.5 82.8L98.4 83.8Z" fill="#8A4198"/>
<path d="M99.8 83.5L102.0 83.9L103.1 85.7L100.5 85.9Z" fill="#8A4198"/>
<path d="M104.7 87.0L107.1 87.7L108.6 90.3L107.1 89.8L105.5 88.3Z" fill="#008EA0"/>
<path d="M461.9 172.1L463.3 173.0L462.8 173.7Z" fill="#FF6F00"/>
<path d="M464.4 176.1L465.5 177.3L465.0 177.7L464.2 176.8Z" fill="#FF6F00"/>
<path d="M466.3 178.2L467.4 179.7L466.9 179.8Z" fill="#FF6F00"/>
<path d="M474.9 177.1L477.1 178.7L476.3 179.4L475.2 178.1Z" fill="#FF6F00"/>
<path d="M497.7 166.2L499.6 164.8L501.1 163.6L499.9 165.1Z" fill="#FF6F00"/>
<path d="M504.8 156.0L505.9 156.4L505.9 158.3L505.5 158.3Z" fill="#FF6F00"/>
<path d="M503.2 157.5L504.3 156.4L504.3 158.0L503.5 158.9Z" fill="#FF6F00"/>
<path d="M504.0 158.5L505.2 158.1L504.9 158.9Z" fill="#FF6F00"/>
<path d="M503.0 154.2L504.3 154.7L503.7 155.2Z" fill="#FF6F00"/>
<path d="M536.8 152.6L537.2 152.5L536.9 153.1Z" fill="#FFFFFF"/>
<path d="M538.2 149.9L538.7 149.7L538.5 150.2Z" fill="#FFFFFF"/>
<path d="M538.2 145.3L538.7 145.0L538.5 145.7Z" fill="#FFFFFF"/>
<path d="M520.6 162.2L521.1 162.0L520.9 162.7Z" fill="#FFFFFF"/>
<path d="M526.3 158.9L526.7 158.9L526.4 159.3Z" fill="#FFFFFF"/>
<path d="M557.8 163.2L558.3 163.2L558.0 163.5Z" fill="#FFFFFF"/>
<path d="M510.1 131.1L511.0 131.1L510.1 132.2Z" fill="#FF6F00"/>
<path d="M512.6 128.5L513.2 128.5L512.8 129.0Z" fill="#FF6F00"/>
<path d="M507.7 120.2L508.8 120.2L508.2 120.7Z" fill="#FF6F00"/>
<path d="M455.1 152.6L455.6 153.0L455.3 155.7L454.8 155.4Z" fill="#FF6F00"/>
<path d="M456.7 162.8L457.2 163.2L456.9 163.5Z" fill="#FF6F00"/>
<path d="M34.4 208.7L34.9 208.8L34.5 209.2Z" fill="#FFFFFF"/>
<path d="M38.5 196.4L40.2 197.0L39.1 197.2Z" fill="#FFFFFF"/>
<path d="M74.7 202.8L75.4 203.0L75.0 203.5Z" fill="#FFFFFF"/>
<path d="M62.3 171.3L62.8 171.4L62.5 171.7Z" fill="#FFFFFF"/>
<path d="M207.7 122.0L208.2 122.0L207.9 122.3Z" fill="#FFFFFF"/>
<path d="M212.6 147.9L213.5 147.9L213.0 148.6Z" fill="#FFFFFF"/>
<path d="M213.5 150.4L214.1 150.7L213.8 151.2Z" fill="#FFFFFF"/>
<path d="M213.7 151.8L214.0 152.1L213.8 152.3Z" fill="#FFFFFF"/>
<path d="M215.9 153.0L216.3 153.1L216.0 153.4Z" fill="#FFFFFF"/>
<path d="M212.6 154.7L212.9 154.9L212.7 155.1Z" fill="#FFFFFF"/>
<path d="M213.0 149.2L213.4 149.6L213.2 149.9Z" fill="#FFFFFF"/>
<path d="M212.4 146.6L212.7 146.8L212.6 147.0Z" fill="#FFFFFF"/>
<path d="M207.7 144.7L208.2 144.7L207.9 144.9Z" fill="#FFFFFF"/>
<path d="M201.0 154.4L201.6 154.9L201.3 154.9Z" fill="#FFFFFF"/>
<path d="M189.0 133.4L190.0 133.7L190.0 134.5L189.7 134.0Z" fill="#C71000"/>
<path d="M190.8 134.6L191.4 135.3L191.2 135.6Z" fill="#C71000"/>
<path d="M193.9 140.5L195.0 140.2L194.7 140.6Z" fill="#C71000"/>
<path d="M181.8 143.1L182.3 143.2L182.0 143.2Z" fill="#FFFFFF"/>
<path d="M319.8 173.9L320.3 174.0L320.0 174.5Z" fill="#FFFFFF"/>
<path d="M396.6 182.0L396.9 182.1L396.7 182.3Z" fill="#FFFFFF"/>
<path d="M424.8 167.2L425.2 167.7L425.0 168.3Z" fill="#FFFFFF"/>
<path d="M213.8 275.8L218.5 274.8L219.3 275.3L215.4 276.2Z" fill="#FFFFFF"/>
<path d="M237.4 272.7L239.0 272.7L238.2 273.0Z" fill="#FFFFFF"/>
<path d="M424.7 260.4L425.5 260.5L425.0 260.7Z" fill="#008EA0"/>
<path d="M314.8 262.6L315.1 262.6L314.9 262.8Z" fill="#C71000"/>
<path d="M290.1 234.6L290.4 234.6L290.3 234.8Z" fill="#FFFFFF"/>
<path d="M300.5 200.3L300.8 200.3L300.7 200.4Z" fill="#FFFFFF"/>
<path d="M287.0 187.3L287.1 187.3L287.1 187.5Z" fill="#FFFFFF"/>
<path d="M187.9 64.3L191.1 64.0L192.6 65.1L189.5 65.6Z" fill="#008EA0"/>
<path d="M178.5 72.6L181.6 72.6L181.2 73.9L179.3 73.7Z" fill="#008EA0"/>
<path d="M183.2 73.6L184.8 73.6L184.8 74.9L183.5 74.7Z" fill="#008EA0"/>
<path d="M180.9 88.3L183.2 88.5L182.4 89.1Z" fill="#008EA0"/>
<path d="M184.0 83.0L185.6 83.0L185.1 84.1Z" fill="#008EA0"/>
<path d="M329.2 64.7L332.4 63.5L334.7 62.9L333.9 62.2L330.8 63.5Z" fill="#C71000"/>
<path d="M336.3 62.4L337.9 61.7L337.1 61.6Z" fill="#C71000"/>
<path d="M322.5 71.6L323.7 71.3L322.9 71.1Z" fill="#C71000"/>
<path d="M344.0 79.7L346.2 79.6L345.4 80.5L344.0 80.4Z" fill="#008EA0"/>
<path d="M344.5 78.9L345.7 78.9L345.2 79.4Z" fill="#008EA0"/>
<path d="M335.3 83.3L336.4 81.7L335.7 83.3Z" fill="#C71000"/>
<path d="M332.7 84.9L333.3 85.2L332.8 85.4Z" fill="#C71000"/>
<path d="M325.0 84.6L326.6 84.6L326.4 85.2L325.3 85.2Z" fill="#C71000"/>
<path d="M353.1 115.5L353.9 115.5L353.4 116.3Z" fill="#FFFFFF"/>
<path d="M350.3 110.8L351.4 110.8L350.9 111.3Z" fill="#FFFFFF"/>
<path d="M346.0 111.5L347.6 112.0L348.1 112.8L346.7 112.1Z" fill="#FFFFFF"/>
<path d="M298.3 80.1L299.9 79.9L299.2 80.9L298.0 81.3Z" fill="#FFFFFF"/>
<path d="M299.2 81.2L300.5 81.2L300.2 82.0Z" fill="#FFFFFF"/>
<path d="M304.4 78.8L305.5 78.8L304.9 79.2Z" fill="#FFFFFF"/>
<path d="M302.2 86.4L302.8 86.5L302.4 86.9Z" fill="#FFFFFF"/>
<path d="M191.8 246.6L193.7 246.6L193.4 249.0L191.5 249.0Z" fill="#C71000"/>
<path d="M191.1 252.3L192.6 252.6L192.6 255.5L191.4 255.5Z" fill="#C71000"/>
<path d="M191.8 256.3L193.7 256.8L194.2 259.6L192.2 259.2Z" fill="#C71000"/>
<path d="M194.2 260.4L196.6 260.7L198.1 262.3L195.8 262.5L193.7 261.3Z" fill="#C71000"/>
<path d="M199.7 263.6L203.6 263.6L204.1 264.2L201.3 264.7Z" fill="#C71000"/>
<path d="M208.0 263.1L209.4 263.1L208.8 263.4Z" fill="#C71000"/>
<path d="M195.0 47.8L202.8 45.7L210.7 42.5L223.2 41.2L239.0 40.5L257.8 39.1L270.4 40.8L278.2 42.5L290.8 42.5L282.9 44.9L281.3 47.3L279.8 49.8L280.6 52.2L278.2 54.6L275.1 57.0L275.1 60.3L270.4 61.9L267.2 63.5L259.4 64.3L254.7 66.8L249.9 68.2L246.8 69.2L245.2 71.6L242.9 74.9L241.3 77.3L239.0 77.3L234.2 75.7L231.1 73.2L228.7 70.8L226.4 67.6L225.6 64.3L229.5 61.9L224.0 60.3L223.2 57.0L220.1 53.8L215.4 51.4L206.0 51.4L199.7 50.6L198.1 48.9Z" fill="#008EA0"/>
<path d="M213.4 66.6L209.1 69.2L207.6 71.6L208.3 73.1L202.1 71.3L206.0 74.2L199.7 72.8L196.6 71.6L192.6 70.0L187.9 70.3L187.1 69.2L191.1 68.7L189.5 67.1L188.4 65.1L187.5 63.5L185.6 61.9L182.4 61.1L176.9 61.3L174.6 61.1L170.7 60.3L169.9 59.5L168.3 57.9L169.9 54.9L176.2 55.1L181.6 55.4L183.2 55.1L187.1 56.2L191.8 57.4L198.1 59.0L202.1 60.3L204.4 61.9L210.7 64.3Z" fill="#008EA0"/>
<path d="M387.0 193.9L388.6 199.6L387.3 202.0L386.2 206.1L385.0 210.9L383.7 214.7L381.0 215.8L378.7 214.7L377.7 210.9L379.2 206.9L378.7 203.7L379.5 200.9L382.3 199.9L385.0 196.4Z" fill="#FF6F00"/>
<path d="M488.1 210.9L489.4 209.3L492.8 207.9L496.4 206.9L499.6 206.1L501.5 203.7L501.6 202.0L503.5 202.5L504.3 200.9L505.9 198.8L508.2 197.2L510.6 198.5L512.9 198.6L513.7 195.6L515.0 194.6L517.6 192.8L518.4 193.5L522.3 193.9L524.7 194.3L523.1 196.4L522.3 198.8L524.7 200.4L527.8 202.5L530.7 202.8L531.8 199.6L532.1 195.6L532.5 192.3L533.3 191.8L534.9 194.8L535.4 197.7L537.7 198.8L538.5 202.0L539.3 205.3L542.7 207.2L544.3 210.1L546.4 212.1L548.2 214.2L550.1 216.6L550.6 220.2L549.8 224.7L548.6 227.5L547.0 229.6L545.4 232.8L544.9 235.2L542.0 235.9L539.3 237.8L536.5 236.5L534.9 237.4L531.0 236.4L528.9 234.4L528.6 232.5L526.6 232.2L527.0 230.9L525.9 231.5L525.8 228.0L523.1 230.9L521.9 230.4L520.3 228.0L517.6 226.3L515.3 225.5L512.1 225.9L507.4 226.8L504.3 228.0L503.5 229.4L499.6 229.3L497.2 230.2L494.9 231.2L491.7 231.0L490.2 230.1L491.1 227.2L491.2 226.0L490.2 223.1L488.9 219.1L487.5 216.6L488.3 213.4Z" fill="#008EA0"/>
<g clip-path="url(#c_namerica)">
<path d="M42.7 36.8L231.1 36.8L231.1 109.7L42.7 109.7Z" fill="#008EA0"/>
<path d="M121.2 121.0L160.5 121.0L176.2 132.4L176.2 144.5L171.0 144.5L169.7 145.3L169.7 145.7L166.7 145.7L166.7 146.6L167.7 148.4L165.6 148.6L164.8 149.9L164.8 151.0L163.6 153.4L121.2 142.1Z" fill="#C71000"/>
<path d="M105.5 95.1L116.0 95.1L160.1 95.1L160.8 94.6L165.2 95.9L169.1 96.7L170.7 96.3L176.5 98.7L178.5 100.0L180.1 101.1L180.2 104.8L179.3 106.1L180.1 106.9L185.6 105.2L185.6 104.0L189.5 103.2L191.8 101.6L197.3 101.6L198.9 100.0L201.0 97.7L202.8 97.9L203.2 100.5L204.4 101.9L215.4 106.5L191.8 142.1L158.9 135.6L157.2 132.5L153.4 129.9L151.0 126.7L148.7 126.2L147.6 127.5L145.5 126.4L142.4 123.0L139.7 123.0L139.7 123.8L135.3 123.8L129.4 121.8L125.8 121.8L105.5 122.7Z" fill="#8A4198"/>
<path d="M88.2 57.9L88.2 76.8L91.4 77.3L93.7 78.9L96.9 77.8L100.0 79.7L102.4 82.2L105.5 83.8L105.5 85.9L97.7 88.6L34.9 93.5L34.9 57.9Z" fill="#8A4198"/>
<path d="M164.8 151.0L164.8 149.9L165.6 148.6L167.7 148.4L166.7 146.6L166.7 145.7L169.7 145.7L169.6 148.7L171.1 149.1L169.4 151.2L168.1 152.3L166.7 154.2L163.6 152.6Z" fill="#FF6F00"/>
<path d="M169.7 145.7L169.7 145.3L171.0 144.5L173.0 144.5L172.2 148.7L169.6 148.7Z" fill="#C71000"/>
<path d="M169.4 151.2L171.1 149.1L171.4 147.0L179.3 147.0L180.1 150.2L176.9 150.7L175.1 152.0L173.5 153.0L172.5 153.4L171.9 153.0L171.4 152.0Z" fill="#FF6F00"/>
<path d="M168.1 152.3L169.4 151.2L171.4 152.0L171.9 153.0L171.4 154.2L167.5 153.8Z" fill="#FF6F00"/>
<path d="M171.9 153.0L172.5 153.4L173.5 153.0L175.1 152.0L176.9 150.7L180.1 150.2L180.1 156.8L178.2 156.8L176.6 156.7L175.1 156.5L173.8 157.5L170.7 154.2Z" fill="#FF6F00"/>
<path d="M175.1 156.5L176.6 156.7L178.2 156.8L180.1 156.8L180.1 158.9L179.4 159.1L179.4 161.4L179.3 162.3L173.8 159.1Z" fill="#008EA0"/>
<path d="M180.1 158.9L179.4 159.1L179.4 161.4L179.3 162.3L184.0 164.0L187.3 162.8L188.1 160.4L188.7 158.3L180.9 158.3Z" fill="#C71000"/>
</g>
<path d="M45.8 68.2L49.0 67.3L52.9 67.4L55.6 66.9L52.1 65.1L47.7 63.9L49.0 62.9L53.7 61.9L59.2 60.0L63.9 59.0L71.0 59.8L77.2 60.5L83.5 61.1L88.2 61.7L94.5 62.9L99.2 61.9L107.1 61.1L108.6 60.3L113.4 62.1L119.6 61.4L125.9 62.7L129.1 64.5L136.9 64.7L140.0 64.0L144.8 64.3L151.0 64.8L155.7 63.9L158.9 64.7L159.7 62.7L158.4 59.5L160.5 58.0L163.6 59.5L165.2 61.1L167.5 63.0L171.4 65.1L173.8 64.3L175.4 61.9L177.7 61.4L180.9 62.2L182.0 64.3L180.9 66.8L176.2 67.3L173.0 69.2L169.9 70.8L166.7 71.1L163.6 73.2L161.2 75.7L161.2 79.2L164.4 82.2L169.9 82.5L176.2 84.9L180.1 85.1L180.9 88.6L183.2 91.4L185.6 91.1L185.6 87.0L188.7 83.8L189.5 81.3L186.4 79.2L187.9 77.3L187.1 73.4L193.4 73.6L199.7 75.7L199.7 79.2L203.6 80.1L207.6 76.8L212.3 81.3L215.4 85.4L220.1 87.8L222.2 90.3L220.1 91.2L215.4 93.2L209.1 93.2L204.4 94.3L199.7 97.5L203.6 95.4L208.3 94.8L208.3 96.7L207.6 99.2L209.1 100.0L213.0 100.3L215.4 99.2L213.8 101.3L209.1 102.7L206.0 104.0L206.0 102.4L208.3 101.1L204.4 101.6L204.4 102.2L199.7 104.0L198.6 105.6L199.7 106.9L196.6 107.8L193.4 108.7L193.4 110.5L191.4 112.1L190.3 114.6L191.1 117.3L187.9 119.1L184.8 121.0L182.4 123.0L181.8 125.1L183.7 130.8L183.7 133.5L182.4 133.8L180.9 131.6L179.8 129.1L178.5 126.4L176.9 125.9L174.6 125.4L171.4 125.4L169.1 125.6L169.6 127.4L166.7 127.0L162.8 126.4L160.5 127.2L157.3 129.1L156.8 132.4L156.2 136.4L156.1 138.4L158.1 142.9L160.5 144.4L162.0 145.0L165.2 144.4L166.7 143.7L167.5 140.8L168.3 140.2L173.0 139.7L173.0 142.1L171.9 144.9L171.1 146.2L170.2 148.6L171.4 148.9L174.6 148.7L177.7 148.9L179.0 150.2L178.3 153.4L178.2 156.7L179.3 158.3L180.9 159.9L184.0 159.6L185.6 159.1L188.1 160.4L187.3 162.8L186.4 160.9L184.8 160.1L183.5 162.7L181.3 162.0L179.3 161.1L178.2 160.6L176.2 158.3L174.9 156.8L172.2 153.6L171.8 153.0L169.1 152.6L165.9 151.8L164.7 151.0L162.0 148.4L160.5 148.4L158.1 149.1L154.2 147.6L150.2 145.8L147.1 144.9L144.0 142.1L144.3 139.7L142.6 136.9L140.0 134.0L137.8 131.2L136.1 129.3L133.8 127.5L132.2 124.3L129.5 123.1L129.5 125.9L132.2 129.1L134.5 132.4L136.4 135.3L137.7 137.1L136.4 136.4L133.8 134.3L133.3 132.1L130.6 130.4L129.1 129.5L130.3 128.0L128.0 125.9L126.5 123.0L125.8 121.8L123.7 119.4L120.3 118.6L118.2 115.2L117.3 113.3L115.2 110.5L114.3 109.1L114.6 106.5L114.8 103.2L114.9 99.7L113.8 96.1L117.3 96.7L116.5 95.1L114.9 93.5L110.2 91.9L108.6 89.4L105.5 86.2L103.9 84.6L100.8 82.2L97.7 79.7L94.5 79.7L89.8 77.8L83.5 77.3L80.4 75.7L76.5 77.3L71.7 78.4L72.5 75.7L68.6 78.1L67.8 79.7L63.9 82.2L60.8 83.8L56.8 85.1L52.9 85.7L55.3 84.3L57.6 83.8L61.5 81.3L62.6 79.4L60.0 79.6L55.3 79.4L55.3 77.3L50.5 76.3L49.0 74.5L50.5 73.1L51.3 72.1L56.8 71.6L56.8 70.0L53.7 70.0L49.0 70.0Z" fill="none"/>
<g clip-path="url(#c_samerica)">
<path d="M176.2 150.2L262.5 150.2L262.5 271.7L176.2 271.7Z" fill="#C71000"/>
<path d="M204.1 211.4L205.5 209.8L207.2 210.3L208.6 211.4L211.2 210.5L213.0 212.2L215.4 213.4L217.8 214.7L219.2 216.0L217.6 218.7L220.9 219.1L222.0 218.9L223.9 216.0L225.1 217.8L224.0 219.1L222.0 220.3L219.2 223.4L218.5 225.5L218.2 228.0L217.9 229.6L221.7 232.8L223.2 268.5L184.0 268.5L184.0 211.4Z" fill="#C71000"/>
<path d="M200.5 202.8L201.1 203.7L201.9 205.3L202.1 207.7L202.5 209.3L203.2 211.4L204.1 211.4L202.4 214.2L202.1 218.2L200.0 221.5L199.2 224.7L199.7 228.4L198.9 232.8L197.8 236.9L196.9 240.9L197.0 245.0L197.3 247.4L196.6 250.6L195.3 254.7L196.1 257.1L196.7 258.7L199.7 258.7L202.2 259.4L202.8 265.2L184.0 265.2L184.0 202.8Z" fill="#C71000"/>
<path d="M225.8 229.1L226.1 227.5L224.8 226.2L223.2 225.2L221.7 224.6L219.2 223.4L218.5 225.5L218.2 228.0L217.9 229.6L218.5 232.8L226.4 232.8Z" fill="#008EA0"/>
<path d="M218.2 207.1L218.9 210.3L222.0 210.6L222.5 213.4L224.3 213.4L223.9 216.0L222.0 218.9L220.9 219.1L217.6 218.7L219.2 216.0L217.8 214.7L215.4 213.4L213.0 212.2L211.2 210.5L211.5 207.7L212.6 206.3L216.2 205.8Z" fill="#C71000"/>
<path d="M200.5 192.3L202.8 191.8L205.2 190.5L207.1 190.4L207.2 193.1L210.7 194.9L213.0 196.4L214.6 196.9L215.1 200.7L217.9 200.9L218.2 202.8L219.2 203.7L218.5 206.6L218.2 207.1L216.2 205.8L212.6 206.3L211.5 207.7L211.2 210.5L208.6 211.4L207.2 210.3L205.5 209.8L204.1 211.4L203.2 211.4L202.5 209.3L202.1 207.7L201.9 205.3L201.1 203.7L200.5 202.8L200.3 202.5L201.0 200.7L200.5 199.6L201.3 198.0L201.6 194.8Z" fill="#FFFFFF"/>
<path d="M199.7 181.3L195.0 182.6L193.7 186.3L195.3 189.7L198.9 189.9L198.8 192.3L200.5 192.3L201.6 194.8L201.3 198.0L200.5 199.6L201.0 200.7L200.3 202.5L200.5 202.8L199.2 204.3L196.6 205.3L179.3 190.7L179.3 180.0L183.5 180.0L183.5 181.6L185.3 182.6L186.4 181.0L187.5 179.4L189.5 178.6L191.1 176.9L191.5 174.7L194.2 176.9L195.8 178.4L199.2 180.7Z" fill="#008EA0"/>
<path d="M185.9 172.2L187.9 173.7L191.1 174.5L191.5 174.7L191.1 176.9L189.5 178.6L187.5 179.4L186.4 181.0L185.3 182.6L183.5 181.6L183.5 180.0L179.3 180.0L179.3 171.3Z" fill="#008EA0"/>
<path d="M188.1 160.4L187.3 162.8L184.0 164.8L184.0 171.3L185.9 172.2L187.9 173.7L191.1 174.5L191.5 174.7L194.2 176.9L195.8 178.4L199.2 180.7L199.7 181.3L200.6 176.4L199.7 174.5L200.5 173.4L200.0 171.7L204.6 172.6L203.9 171.3L203.2 167.2L203.6 164.5L199.7 163.2L196.6 163.2L196.1 161.5L195.0 159.1L195.8 156.7L197.7 155.4L198.1 153.4L190.3 155.1Z" fill="#C71000"/>
<path d="M197.7 155.4L195.8 156.7L195.0 159.1L196.1 161.5L196.6 163.2L199.7 163.2L203.6 164.5L203.2 167.2L203.9 171.3L204.6 172.6L206.8 173.2L209.9 171.3L209.1 170.4L209.1 168.0L212.3 168.0L214.3 166.1L213.4 163.2L215.4 160.7L217.0 158.3L212.3 153.4L198.1 153.4Z" fill="#C71000"/>
<path d="M215.4 160.7L213.4 163.2L214.3 166.1L215.2 166.1L215.7 168.0L215.9 171.6L218.5 172.1L220.9 171.4L219.6 169.2L218.5 168.0L219.6 166.4L220.0 164.9L220.1 162.3L217.0 159.1Z" fill="#FF6F00"/>
<path d="M220.0 164.9L219.6 166.4L218.5 168.0L219.6 169.2L220.9 171.4L221.7 171.4L223.9 170.8L224.8 168.8L224.0 167.2L224.8 165.1L224.8 162.3L220.1 162.3Z" fill="#C71000"/>
<path d="M224.8 165.1L224.0 167.2L224.8 168.8L223.9 170.8L227.2 170.4L228.6 167.7L231.1 166.4L224.8 162.3Z" fill="#FFFFFF"/>
</g>
<path d="M188.1 160.4L190.3 159.1L191.1 157.3L192.2 156.7L195.0 155.9L197.3 154.4L197.7 156.7L197.0 158.3L199.7 155.9L199.7 154.7L202.1 157.0L206.0 157.3L209.1 157.8L212.3 157.2L212.6 158.3L213.8 160.7L215.7 161.1L217.8 163.2L220.1 164.8L223.2 164.8L224.8 165.1L228.0 166.7L229.5 168.0L231.1 171.6L231.1 174.5L233.5 175.3L234.2 175.6L237.4 176.1L239.7 178.6L243.7 179.0L246.8 179.0L249.2 180.5L251.5 182.3L254.2 182.9L255.0 185.8L254.7 189.1L251.5 192.3L249.2 195.6L248.4 198.8L248.4 202.8L246.8 206.9L245.2 210.1L243.7 211.8L239.7 212.1L236.6 213.4L233.5 216.6L233.1 220.7L230.3 224.7L228.0 227.2L225.6 229.6L223.4 231.2L221.4 231.0L218.1 229.6L219.8 232.0L220.1 233.6L219.3 236.1L217.0 237.4L212.3 237.7L211.8 240.4L207.6 240.9L209.7 243.4L207.1 245.0L206.8 247.4L203.6 249.0L206.0 251.4L206.3 252.3L203.6 254.7L201.3 256.3L202.2 259.2L198.1 261.7L196.6 261.2L194.2 259.6L191.8 257.1L191.1 253.9L190.9 250.6L193.4 248.2L193.9 245.0L193.7 241.7L194.2 238.5L194.2 234.8L195.8 232.0L197.2 228.0L197.3 223.1L197.7 219.9L198.8 215.8L199.1 212.6L199.4 208.5L199.2 204.3L197.3 202.5L194.2 200.7L191.1 198.3L189.7 196.4L188.4 193.9L186.4 189.9L184.3 185.8L182.0 184.2L182.0 181.8L183.5 180.0L184.0 178.6L182.4 178.1L182.7 176.1L184.0 173.7L185.6 172.1L185.9 170.9L187.9 170.3L188.2 168.0L187.9 165.6L188.1 163.2L187.3 162.8Z" fill="none"/>
<g clip-path="url(#c_africa)">
<path d="M278.2 109.7L395.9 109.7L395.9 239.3L278.2 239.3Z" fill="#FF6F00"/>
<path d="M299.4 115.4L306.1 116.2L306.1 117.6L306.9 119.4L307.7 121.8L304.9 123.0L303.9 124.4L301.8 125.9L299.4 126.5L295.9 128.0L295.9 129.6L288.9 129.6L286.1 127.5L292.3 122.7L293.9 118.6Z" fill="#C71000"/>
<path d="M295.9 129.6L295.9 132.4L290.8 132.4L290.8 136.4L289.2 137.2L289.2 140.0L282.9 140.0L279.8 140.0L279.8 135.6L286.1 129.1L288.9 129.6Z" fill="#C71000"/>
<path d="M306.1 116.2L306.1 117.6L306.9 119.4L307.7 121.8L304.9 123.0L303.9 124.4L301.8 125.9L299.4 126.5L295.9 128.0L295.9 130.3L302.1 134.0L311.5 140.3L311.5 141.0L314.6 143.6L316.2 143.4L319.0 142.9L321.4 140.8L328.4 136.4L325.3 134.8L324.5 131.9L325.1 129.1L324.5 125.6L323.7 122.7L321.5 120.7L322.6 117.8L323.1 114.7L323.1 112.9L309.6 112.9Z" fill="#C71000"/>
<path d="M323.1 112.9L323.1 114.7L322.6 117.8L321.5 120.7L323.7 122.7L324.5 125.6L325.8 124.4L325.8 123.0L327.7 121.8L327.7 120.7L329.2 119.4L328.4 112.9Z" fill="#008EA0"/>
<path d="M327.7 120.2L327.7 121.8L325.8 123.0L325.8 124.4L324.5 125.6L325.1 129.1L324.5 131.9L325.3 134.8L328.4 136.4L331.9 137.9L333.2 137.2L347.3 142.9L347.3 142.1L348.9 142.1L348.9 138.9L348.9 120.2Z" fill="#FF6348"/>
<path d="M348.9 120.2L348.9 138.9L367.5 138.9L369.3 135.6L366.1 125.9L364.4 126.7L363.3 123.8L363.0 120.2Z" fill="#C71000"/>
<path d="M286.5 140.0L289.2 140.0L289.2 137.2L288.2 135.1L287.0 136.3Z" fill="#FFFFFF"/>
<path d="M279.8 140.0L289.2 140.0L289.2 137.2L290.8 136.4L290.8 132.4L295.9 132.4L295.9 130.3L302.1 134.0L299.4 134.0L301.0 147.8L301.3 148.1L300.8 149.4L295.0 149.4L292.8 149.6L291.5 149.2L290.4 150.5L289.2 149.4L286.8 147.6L283.7 148.6L279.8 148.6Z" fill="#FF6F00"/>
<path d="M302.1 134.0L311.5 140.3L311.5 141.0L314.6 143.6L316.2 143.4L316.2 147.3L315.1 149.6L311.0 150.4L308.8 150.2L306.5 151.5L304.9 152.3L303.3 153.0L302.5 154.2L301.3 155.4L301.0 157.7L299.9 157.3L297.0 158.0L296.6 156.7L295.5 154.4L293.1 155.1L291.7 154.4L291.7 153.4L290.4 150.5L291.5 149.2L292.8 149.6L295.0 149.4L300.8 149.4L301.3 148.1L301.0 147.8L299.4 134.0Z" fill="#FF6F00"/>
<path d="M279.8 148.6L283.7 148.6L286.8 147.6L289.2 149.4L290.4 150.5L291.7 153.4L291.7 154.4L288.1 154.1L286.1 153.9L283.4 154.4L279.8 154.4Z" fill="#FF6F00"/>
<path d="M279.8 152.1L286.1 152.1L287.9 152.6L286.1 153.1L279.8 153.1Z" fill="#FF6F00"/>
<path d="M283.4 154.4L286.1 153.9L288.1 154.1L288.1 155.5L286.1 156.7L282.9 157.5L281.3 154.4Z" fill="#FF6F00"/>
<path d="M286.1 156.7L288.1 155.5L288.1 154.1L291.7 154.4L293.1 155.1L295.5 154.4L296.6 156.7L297.0 158.0L297.7 159.9L296.6 162.2L294.8 162.5L294.8 160.9L293.4 160.7L293.0 159.8L292.0 158.3L290.0 158.5L288.7 159.9L286.1 160.7L283.7 157.5Z" fill="#FF6F00"/>
<path d="M288.7 159.9L290.0 158.5L292.0 158.3L293.0 159.8L293.4 160.7L291.5 163.3L290.0 164.8L286.8 160.7Z" fill="#FF6F00"/>
<path d="M291.5 163.3L293.4 160.7L294.8 160.9L294.8 162.5L296.6 162.2L296.3 164.0L297.8 165.1L297.8 167.4L297.8 168.8L290.8 165.6Z" fill="#FF6F00"/>
<path d="M297.8 168.8L297.8 167.4L297.8 165.1L296.3 164.0L296.6 162.2L297.7 159.9L297.0 158.0L299.9 157.3L301.0 157.7L302.2 158.8L304.9 158.5L305.4 159.3L305.2 161.9L304.6 163.5L305.2 166.2L305.2 168.8Z" fill="#FFFFFF"/>
<path d="M301.0 157.7L301.3 155.4L302.5 154.2L303.3 153.0L304.9 152.3L306.5 151.5L308.8 150.2L309.9 150.4L310.2 151.8L311.2 152.8L311.2 153.8L313.1 154.4L313.4 155.2L311.8 156.0L311.0 156.7L309.4 156.5L305.2 156.7L305.2 158.8L304.9 158.5L302.2 158.8Z" fill="#FF6F00"/>
<path d="M305.2 168.8L305.2 166.2L304.6 163.5L305.2 161.9L305.4 159.3L305.2 158.8L305.2 156.7L309.4 156.5L310.1 157.8L310.4 160.2L310.5 162.5L310.4 163.5L311.5 164.6L311.5 168.0Z" fill="#FF6F00"/>
<path d="M311.5 168.0L311.5 164.6L310.4 163.5L310.5 162.5L310.4 160.2L310.1 157.8L309.4 156.5L311.0 156.7L310.9 157.8L312.1 159.9L312.1 164.5L312.1 168.0Z" fill="#FF6F00"/>
<path d="M312.1 168.0L312.1 164.5L312.1 159.9L310.9 157.8L311.0 156.7L311.8 156.0L313.4 155.2L314.0 154.4L315.3 155.5L315.6 157.5L314.0 159.9L313.8 164.1L313.8 168.0Z" fill="#FF6F00"/>
<path d="M313.8 168.0L313.8 164.1L314.0 159.9L315.6 157.5L315.3 155.5L315.9 152.6L318.2 152.0L320.6 153.4L323.7 153.8L325.3 153.0L328.4 153.1L331.0 152.3L331.9 154.2L332.5 155.9L331.3 156.7L330.3 159.1L328.8 160.7L328.1 163.2L326.9 163.8L325.6 163.2L324.2 164.0L323.1 166.7L323.1 169.6Z" fill="#FF6F00"/>
<path d="M316.2 143.4L319.0 142.9L321.4 140.8L328.4 136.4L331.9 137.9L333.2 137.2L334.7 141.6L334.1 145.3L333.9 147.1L331.0 152.3L328.4 153.1L325.3 153.0L323.7 153.8L320.6 153.4L318.2 152.0L315.9 152.6L315.3 155.5L314.0 154.4L313.1 154.4L311.2 153.8L311.2 152.8L310.2 151.8L309.9 150.4L311.0 150.4L315.1 149.6L316.2 147.3Z" fill="#FF6F00"/>
<path d="M333.2 137.2L347.3 142.9L347.3 149.1L345.6 149.4L344.8 151.8L344.1 153.9L345.6 156.0L344.9 156.8L343.7 157.3L341.6 159.8L339.4 159.9L339.3 160.6L336.3 162.0L333.9 162.3L333.3 160.7L331.6 158.6L333.9 158.3L333.2 156.7L333.2 154.9L332.5 153.9L331.9 154.2L331.0 152.3L333.9 147.1L334.1 145.3L334.7 141.6Z" fill="#FF6F00"/>
<path d="M348.9 138.9L348.9 142.1L347.3 142.1L347.3 149.1L345.6 149.4L344.8 151.8L344.1 153.9L345.6 156.0L344.9 156.8L346.8 158.8L346.5 160.1L348.5 160.2L349.6 157.8L352.0 158.9L353.6 159.3L355.9 158.3L358.0 158.8L360.3 155.5L361.7 154.7L361.4 157.0L363.0 159.1L363.5 157.5L364.6 156.7L365.3 154.2L366.4 153.4L366.9 151.3L367.7 147.0L370.0 145.3L372.4 142.1L367.5 138.9Z" fill="#FF6F00"/>
<path d="M346.5 160.1L348.5 160.2L349.6 157.8L352.0 158.9L353.6 159.3L355.9 158.3L358.0 158.8L360.3 155.5L361.7 154.7L361.4 157.0L363.0 159.1L361.4 161.7L362.7 160.9L364.1 163.6L365.8 165.9L366.0 167.0L363.0 167.7L362.2 168.3L359.8 168.7L358.1 168.8L355.9 167.2L354.2 167.5L352.6 166.1L351.0 164.0L349.2 162.3L348.1 161.2Z" fill="#FF6F00"/>
<path d="M366.9 151.3L368.5 151.5L370.0 151.0L372.4 151.0L374.0 152.6L376.2 154.2L375.2 155.9L375.2 156.7L377.0 156.8L377.9 159.3L380.2 160.4L383.4 161.5L385.0 161.5L380.2 166.4L377.9 166.6L375.5 167.9L374.0 168.2L371.6 168.8L369.3 168.7L367.5 167.4L366.0 167.0L365.8 165.9L364.1 163.6L362.7 160.9L361.4 161.7L363.0 159.1L363.5 157.5L364.6 156.7L365.3 154.2L366.4 153.4Z" fill="#FF6F00"/>
<path d="M370.0 145.3L367.7 147.0L366.9 151.3L368.5 151.5L370.0 151.0L372.4 151.0L374.0 152.6L376.2 154.2L377.3 153.9L378.7 153.4L372.4 143.7Z" fill="#FF6F00"/>
<path d="M377.3 153.9L376.2 154.2L375.2 155.9L375.2 156.7L377.0 156.8L377.6 155.9L378.7 155.1Z" fill="#FF6F00"/>
<path d="M377.0 156.8L377.9 159.3L380.2 160.4L383.4 161.5L385.0 161.5L380.2 166.4L377.9 166.6L375.5 167.9L374.0 168.2L374.0 175.8L374.9 177.3L375.5 179.4L392.8 166.4L392.8 153.4L378.7 155.1L377.6 155.9Z" fill="#FF6F00"/>
<path d="M374.9 177.3L374.0 175.8L374.0 168.2L371.6 168.8L369.3 168.7L367.5 167.4L366.0 167.0L363.0 167.7L363.8 169.6L364.6 171.7L363.1 173.9L362.8 176.1L368.6 179.4L368.8 180.2L371.1 182.1L373.2 183.4L376.3 178.6Z" fill="#FF6F00"/>
<path d="M358.1 168.8L359.8 168.7L362.2 168.3L363.0 167.7L363.8 169.6L364.6 171.7L363.1 173.9L362.8 176.1L357.5 176.1L356.1 176.8L356.1 175.3L356.2 173.4L358.6 170.9L358.0 170.6Z" fill="#C71000"/>
<path d="M362.8 176.1L368.6 179.4L368.8 180.2L371.1 182.1L374.0 182.6L374.8 191.5L373.2 191.5L369.3 192.8L366.1 193.3L364.4 193.1L363.8 190.7L362.2 189.9L360.6 189.4L358.3 188.4L357.8 187.9L355.9 185.0L355.6 181.8L356.7 181.5L358.0 179.8L357.5 178.4L358.0 177.3L357.5 176.1Z" fill="#C71000"/>
<path d="M355.1 178.9L356.1 176.8L357.5 176.1L358.0 177.3L357.5 178.4L356.4 179.0Z" fill="#FF6F00"/>
<path d="M355.1 178.9L356.4 179.0L357.5 178.4L358.0 179.8L356.7 181.5L355.6 181.8Z" fill="#FF6F00"/>
<path d="M323.1 169.6L323.1 166.7L324.2 164.0L325.6 163.2L326.9 163.8L328.1 163.2L328.8 160.7L330.3 159.1L331.3 156.7L332.5 155.9L331.9 154.2L332.5 153.9L333.2 154.9L333.2 156.7L333.9 158.3L331.6 158.6L333.3 160.7L333.9 162.3L332.4 164.8L332.7 167.0L334.4 169.6L334.9 170.9L334.9 171.7L332.4 170.9L330.5 170.9L327.3 170.9L325.0 170.8L322.9 170.8Z" fill="#C71000"/>
<path d="M333.9 162.3L336.3 162.0L339.3 160.6L339.4 159.9L341.6 159.8L343.7 157.3L344.9 156.8L346.8 158.8L346.5 160.1L348.1 161.2L349.2 162.3L351.0 164.0L352.6 166.1L349.6 166.1L348.1 166.4L344.9 167.9L341.8 167.4L340.2 166.2L338.8 167.5L338.8 168.8L337.1 168.7L335.5 169.2L334.9 170.9L334.4 169.6L332.7 167.0L332.4 164.8Z" fill="#FF6F00"/>
<path d="M322.9 170.8L325.0 170.8L327.3 170.9L327.3 172.9L324.7 172.9L322.9 172.9Z" fill="#C71000"/>
<path d="M322.2 172.9L324.7 172.9L327.3 172.9L327.3 170.9L330.5 170.9L330.3 172.4L331.9 172.2L332.4 173.7L331.4 174.5L332.2 175.3L332.2 177.6L331.7 178.4L330.0 178.2L329.2 177.7L327.8 178.4L328.3 180.2L327.0 180.8L325.3 181.8L322.2 176.1Z" fill="#C71000"/>
<path d="M325.3 181.8L327.0 180.8L328.3 180.2L327.8 178.4L329.2 177.7L330.0 178.2L331.7 178.4L332.2 177.6L332.2 175.3L331.4 174.5L332.4 173.7L331.9 172.2L330.3 172.4L330.5 170.9L332.4 170.9L334.9 171.7L334.9 170.9L335.5 169.2L337.1 168.7L338.8 168.8L338.0 170.8L337.5 173.7L337.4 175.3L336.0 176.4L335.0 178.1L334.7 180.2L333.5 181.5L332.2 182.4L330.8 182.3L330.0 182.0L329.4 181.6L328.8 182.6L326.9 183.4Z" fill="#FF6F00"/>
<path d="M326.9 183.9L328.9 184.2L330.3 184.1L335.7 184.1L337.1 187.6L340.1 187.5L340.2 185.8L343.8 186.3L343.8 189.9L344.6 192.6L347.1 192.2L347.8 192.8L349.3 192.6L349.5 193.6L352.3 193.3L354.2 194.8L355.1 196.2L356.4 196.2L356.4 194.3L354.2 193.6L354.5 189.9L355.0 188.3L357.8 187.9L355.9 185.0L355.6 181.8L355.1 178.9L356.1 176.8L356.1 175.3L356.2 173.4L358.6 170.9L358.0 170.6L358.1 168.8L355.9 167.2L354.2 167.5L352.6 166.1L349.6 166.1L348.1 166.4L344.9 167.9L341.8 167.4L340.2 166.2L338.8 167.5L338.8 168.8L338.0 170.8L337.5 173.7L337.4 175.3L336.0 176.4L335.0 178.1L334.7 180.2L333.5 181.5L332.2 182.4L330.8 182.3L330.0 182.0L329.4 182.9L328.8 183.9Z" fill="#FFFFFF"/>
<path d="M326.9 202.4L328.1 202.4L330.0 202.0L331.6 202.7L338.6 202.7L342.6 203.7L346.3 203.0L344.1 200.7L344.1 195.6L347.3 195.6L347.1 192.2L344.6 192.6L343.8 189.9L343.8 186.3L340.2 185.8L340.1 187.5L337.1 187.6L335.7 184.1L330.3 184.1L328.9 184.2L326.9 184.2Z" fill="#FF6F00"/>
<path d="M326.9 183.9L328.8 183.9L329.4 182.9L330.0 182.0L329.4 181.6L328.8 182.6L326.9 182.9Z" fill="#FF6F00"/>
<path d="M347.1 192.2L347.8 192.8L349.3 192.6L349.5 193.6L352.3 193.3L354.2 194.8L355.1 196.2L356.4 196.2L356.4 194.3L354.2 193.6L354.5 189.9L355.0 188.3L357.8 187.9L358.3 188.4L360.6 189.4L362.2 189.9L361.9 192.0L361.4 194.8L360.9 196.4L361.7 197.2L357.0 198.5L357.3 199.8L355.0 200.4L352.0 203.7L349.3 203.3L346.3 203.0L344.1 200.7L344.1 195.6L347.3 195.6Z" fill="#C71000"/>
<path d="M362.2 189.9L363.8 190.7L364.4 193.1L363.9 194.8L364.6 196.4L365.8 198.0L365.8 200.4L365.0 202.2L363.5 200.4L363.8 198.8L361.7 197.2L360.9 196.4L361.4 194.8L361.9 192.0Z" fill="#8A4198"/>
<path d="M374.8 191.5L373.2 191.5L369.3 192.8L366.1 193.3L364.4 193.1L363.9 194.8L364.6 196.4L365.8 198.0L365.8 200.4L365.0 202.2L363.5 200.4L363.8 198.8L361.7 197.2L357.0 198.5L357.3 199.8L359.8 201.2L361.4 202.0L361.1 205.3L360.6 209.0L358.7 210.8L359.8 214.2L359.8 216.5L360.0 217.9L361.3 218.1L363.0 218.2L367.7 213.4L375.5 198.8Z" fill="#FF6F00"/>
<path d="M349.3 203.3L352.0 203.7L355.0 200.4L357.3 199.8L359.8 201.2L361.4 202.0L361.1 205.3L360.6 209.0L358.7 210.8L355.8 210.5L353.6 209.5L353.1 207.7L350.7 206.1Z" fill="#8A4198"/>
<path d="M349.3 203.3L350.7 206.1L353.1 207.7L353.6 209.5L355.8 210.5L353.6 211.4L352.0 212.7L350.3 214.5L349.6 216.1L345.7 215.5L343.7 217.9L342.1 218.1L341.0 214.7L341.0 210.1L342.6 210.1L342.6 204.1L346.2 203.7L348.1 203.7Z" fill="#C71000"/>
<path d="M326.9 202.4L328.1 202.4L330.0 202.0L331.6 202.7L338.6 202.7L342.6 203.7L346.3 203.0L349.3 203.3L348.1 203.7L346.2 203.7L342.6 204.1L342.6 210.1L341.0 210.1L341.0 214.7L341.0 220.5L339.4 221.3L337.1 221.0L335.5 220.8L333.2 221.5L328.4 210.1Z" fill="#C71000"/>
<path d="M333.2 221.5L335.5 220.8L337.1 221.0L339.4 221.3L341.0 220.5L341.0 214.7L342.1 218.1L343.7 217.9L345.7 215.5L349.6 216.1L350.3 214.5L352.0 212.7L353.6 211.4L355.8 210.5L358.7 210.8L359.8 214.2L359.8 216.5L358.7 216.3L358.0 217.9L358.7 218.7L360.0 217.9L361.3 218.1L363.0 218.2L361.4 232.8L336.3 232.8Z" fill="#008EA0"/>
<path d="M352.0 222.5L353.6 221.2L354.8 221.0L355.8 222.3L355.1 223.4L353.9 224.1L352.5 223.6Z" fill="#008EA0"/>
<path d="M359.8 216.5L358.7 216.3L358.0 217.9L358.7 218.7L360.0 217.9Z" fill="#C71000"/>
</g>
<path d="M300.3 116.5L301.3 116.3L304.9 117.3L306.5 117.6L309.6 116.5L312.0 115.4L314.3 114.9L317.4 114.9L321.4 114.6L325.0 114.1L326.9 114.6L326.1 115.4L326.2 117.0L326.9 118.6L325.3 119.4L326.9 120.7L329.2 121.2L330.3 121.2L333.5 122.2L333.9 123.5L337.1 124.4L339.4 125.4L341.0 124.3L341.0 122.2L343.4 121.2L345.7 121.7L348.9 123.1L352.0 123.8L355.1 124.4L356.7 123.8L358.3 123.3L360.3 124.0L363.3 123.8L364.4 126.7L363.5 129.1L363.3 129.6L362.2 128.7L360.8 126.1L360.6 126.7L361.4 128.3L362.7 130.4L363.8 132.4L365.3 135.6L365.5 136.4L367.5 138.9L368.0 140.5L368.0 142.9L370.0 145.3L371.6 149.2L374.0 151.0L376.3 153.4L377.6 154.2L377.1 155.9L378.7 157.5L381.8 157.0L385.0 156.4L388.1 155.9L390.1 155.2L389.8 157.5L389.4 159.9L387.3 163.2L385.7 166.4L383.4 169.6L381.8 171.3L380.7 171.3L378.7 172.9L376.3 175.3L374.9 177.3L372.7 178.9L371.9 181.0L371.1 182.6L370.5 185.0L371.6 187.5L372.1 190.7L373.2 191.5L373.3 194.8L373.7 198.0L373.2 200.4L370.8 202.0L367.7 203.7L366.1 205.3L364.6 206.9L364.1 208.5L365.3 210.1L365.3 213.4L361.4 215.5L361.3 216.6L361.3 218.2L360.6 220.7L358.3 223.1L356.7 225.2L354.3 227.5L352.8 228.4L349.9 229.6L347.3 229.7L344.1 229.9L341.0 230.9L338.6 230.1L338.3 227.6L338.2 225.9L336.8 223.1L335.5 220.8L333.5 218.2L333.2 215.0L332.4 211.6L330.8 208.5L329.2 204.5L328.1 202.4L328.1 200.4L328.9 198.0L330.6 194.8L331.3 192.3L330.3 189.1L329.7 185.8L328.9 184.2L328.8 182.6L328.1 181.8L326.9 180.7L325.0 178.6L323.7 176.1L324.2 173.7L324.7 172.9L325.0 170.8L324.8 168.8L324.5 168.0L322.9 167.2L320.6 167.4L319.0 167.5L318.2 165.6L316.7 164.3L314.9 164.1L312.7 164.3L311.5 164.6L309.6 165.3L306.5 166.7L304.9 166.2L303.3 165.9L300.2 166.6L297.8 167.4L295.5 166.4L292.6 164.3L291.5 163.3L290.0 162.3L288.9 160.7L288.7 159.1L286.8 157.5L286.1 156.7L284.5 155.1L283.4 154.4L283.2 152.6L282.1 150.7L283.7 148.6L283.7 145.3L284.2 142.9L282.9 140.5L284.5 136.1L286.8 132.4L289.2 129.6L292.3 127.8L293.9 126.7L294.4 125.1L294.2 123.5L295.2 121.8L297.7 120.1L298.9 119.4Z" fill="none"/>
<g clip-path="url(#c_eurasia)">
<path d="M286.1 36.8L615.8 36.8L615.8 174.5L286.1 174.5Z" fill="#C71000"/>
<path d="M446.7 95.0L447.4 94.8L452.5 101.3L459.5 102.9L460.9 105.3L468.2 105.5L474.5 107.1L479.2 105.8L485.1 103.7L485.3 101.6L488.6 101.6L491.7 99.2L497.7 98.8L494.5 97.2L490.9 96.9L492.8 93.8L496.9 93.0L499.3 90.3L498.8 88.3L503.5 87.8L507.4 89.1L509.8 93.5L515.0 95.4L521.5 96.1L518.7 101.6L515.3 101.6L515.6 104.8L514.6 105.8L513.4 104.8L510.6 106.5L508.7 106.9L504.8 109.9L504.3 112.9L509.0 125.9L502.7 138.9L485.4 143.7L479.2 139.7L477.0 138.9L477.1 137.6L474.9 136.8L472.6 137.7L470.1 138.2L469.3 138.2L468.3 139.3L465.3 138.5L464.7 135.6L462.8 134.8L464.2 132.7L464.6 129.9L462.4 128.7L460.3 126.9L457.2 127.5L454.2 129.5L451.7 128.8L450.1 128.8L449.0 129.1L447.9 129.3L444.6 129.1L441.5 127.2L438.3 125.4L436.8 125.6L433.6 124.3L432.8 121.7L433.6 118.9L431.7 117.0L428.9 116.2L427.2 114.1L427.4 112.1L425.5 110.5L425.8 109.5L429.7 108.9L432.8 107.6L435.5 106.1L435.5 105.2L436.0 101.8L438.8 100.8L439.9 98.0L443.8 98.2L444.1 96.1Z" fill="#FF6F00"/>
<path d="M447.4 94.8L452.5 101.3L459.5 102.9L460.9 105.3L468.2 105.5L474.5 107.1L479.2 105.8L485.1 103.7L485.3 101.6L488.6 101.6L491.7 99.2L497.7 98.8L494.5 97.2L490.9 96.9L492.8 93.8L488.6 93.2L483.9 94.6L479.2 94.3L476.8 93.0L470.1 92.7L469.7 91.2L463.9 90.6L462.7 93.8L454.0 92.4Z" fill="#FF6F00"/>
<path d="M504.8 109.9L508.7 106.9L510.6 106.5L513.4 104.8L514.6 105.8L516.1 106.5L513.7 111.3L511.2 112.0L508.5 113.3L505.9 113.4L504.3 112.9Z" fill="#FF6F00"/>
<path d="M511.2 112.0L508.5 113.3L505.9 113.4L505.9 119.4L513.7 119.4L514.5 112.9Z" fill="#FF6F00"/>
<path d="M382.6 95.9L383.4 94.3L385.7 93.5L388.9 90.7L392.8 91.4L395.9 92.4L400.7 91.9L405.4 92.2L403.8 90.3L405.4 87.0L411.7 86.4L417.9 84.9L421.1 86.7L425.0 87.3L429.7 86.7L435.2 91.9L439.9 91.9L443.8 94.1L446.7 95.0L444.1 96.1L443.8 98.2L439.9 98.0L438.8 100.8L436.0 101.8L435.5 105.2L435.5 106.1L433.6 105.2L427.4 105.0L425.0 105.6L421.1 106.0L419.5 108.1L416.4 108.1L414.0 106.5L413.2 104.8L411.5 103.7L406.9 104.0L405.4 102.6L401.4 100.8L397.5 101.6L397.5 107.6L395.6 106.5L392.8 106.5L392.0 106.8L389.7 104.8L388.1 101.6L386.5 99.5L385.7 99.0L383.4 96.7Z" fill="#FF6F00"/>
<path d="M397.5 107.6L397.5 101.6L401.4 100.8L405.4 102.6L406.9 104.0L411.5 103.7L413.2 104.8L414.0 106.5L416.4 108.1L419.5 108.1L421.1 106.0L422.6 107.3L424.2 108.4L422.2 109.4L420.3 108.4L420.3 109.4L417.9 109.4L417.1 110.5L415.6 110.8L416.4 112.9L416.0 114.2L414.0 113.9L411.7 112.1L407.7 109.7L406.8 107.8L403.8 106.8L403.8 106.1L401.4 105.3L399.1 107.6Z" fill="#FF6F00"/>
<path d="M392.0 106.8L392.8 106.5L395.6 106.5L397.5 107.6L399.1 107.6L401.4 105.3L403.8 106.1L403.8 106.8L406.8 107.8L407.7 109.7L411.7 112.1L414.0 113.9L410.9 115.7L408.5 116.5L405.7 116.8L405.4 115.2L402.7 113.8L399.6 112.6L396.7 112.9L394.4 114.1L394.2 114.1L391.2 113.8L389.7 109.7Z" fill="#FF6F00"/>
<path d="M420.3 107.3L421.1 106.0L425.0 105.6L427.4 105.0L433.6 105.2L435.5 106.1L432.8 107.6L429.7 108.9L425.8 109.5L425.5 110.5L421.9 110.5L418.7 110.3L420.3 109.4L422.2 109.4L424.2 108.4L422.6 107.3L421.1 106.0Z" fill="#FFFFFF"/>
<path d="M416.0 114.2L416.4 112.9L415.6 110.8L417.1 110.5L417.9 109.4L420.3 109.4L420.3 108.4L420.3 109.4L418.7 110.3L421.9 110.5L425.5 110.5L427.4 112.1L427.2 114.1L424.2 114.1L421.9 114.9L421.9 112.9L419.8 113.6L418.7 114.2Z" fill="#C71000"/>
<path d="M405.7 116.8L408.5 116.5L410.9 115.7L414.0 113.9L416.0 114.2L418.7 114.2L419.8 113.6L421.9 112.9L421.9 114.9L424.2 114.1L427.2 114.1L425.0 114.7L421.9 115.7L421.4 118.3L419.5 119.4L418.7 121.0L418.4 122.8L415.6 123.8L413.8 124.4L413.5 126.2L407.7 126.9L405.2 126.2L406.6 124.3L405.1 123.5L404.7 120.2Z" fill="#FF6F00"/>
<path d="M431.7 117.0L433.6 118.9L432.8 121.7L433.6 124.3L436.8 125.6L435.4 125.6L435.4 127.8L440.4 130.1L443.1 131.4L447.9 131.7L447.9 129.3L449.0 129.1L449.3 130.3L449.3 131.1L454.0 131.1L454.2 129.5L457.2 127.5L460.3 126.9L462.4 128.7L460.6 130.4L458.9 131.6L458.1 133.8L457.2 135.8L456.1 135.6L456.2 138.1L455.0 139.0L454.5 136.1L453.3 137.2L452.8 135.6L454.4 135.1L454.7 134.0L450.6 133.5L450.6 132.5L448.5 131.7L447.9 132.7L448.1 134.8L449.2 136.9L449.0 138.1L449.3 139.2L449.3 142.1L438.3 166.4L419.5 166.4L413.2 138.9L416.7 136.1L417.6 135.1L421.1 135.0L420.0 132.9L419.5 131.4L421.1 129.5L424.2 126.7L426.6 124.3L427.8 122.2L425.8 121.0L425.8 118.3L430.5 117.8Z" fill="#FF6F00"/>
<path d="M406.3 133.7L406.5 131.9L408.8 131.1L409.0 130.4L408.2 128.7L405.2 126.2L407.7 126.9L413.5 126.2L413.8 124.4L415.6 123.8L418.4 122.8L418.7 121.0L419.5 119.4L421.4 118.3L421.9 115.7L425.0 114.7L427.2 114.1L428.9 116.2L431.7 117.0L430.5 117.8L425.8 118.3L425.8 121.0L427.8 122.2L426.6 124.3L424.2 126.7L421.1 129.5L419.5 131.4L420.0 132.9L421.1 135.0L417.6 135.1L416.7 136.1L413.2 138.9L406.3 137.2Z" fill="#C71000"/>
<path d="M435.4 125.6L436.8 125.6L438.3 125.4L441.5 127.2L444.6 129.1L447.9 129.3L447.9 131.7L443.1 131.4L440.4 130.1L435.4 127.8Z" fill="#FF6F00"/>
<path d="M449.3 130.3L449.3 131.1L454.0 131.1L454.2 129.5L451.7 128.8L450.1 128.8Z" fill="#FF6F00"/>
<path d="M449.3 142.1L449.3 139.2L449.0 138.1L449.2 136.9L448.1 134.8L447.9 132.7L448.5 131.7L450.6 132.5L450.6 133.5L454.7 134.0L454.4 135.1L452.8 135.6L453.3 137.2L454.5 136.1L455.0 139.0L454.5 140.8L454.0 142.1Z" fill="#FF6F00"/>
<path d="M454.0 142.1L454.5 140.8L455.0 139.0L456.2 138.1L456.1 135.6L457.2 135.8L458.1 133.8L458.9 131.6L460.6 130.4L462.4 128.7L464.6 129.9L464.2 132.7L462.8 134.8L464.7 135.6L465.3 138.5L468.3 139.3L466.8 141.5L464.9 142.6L463.1 144.5L464.4 147.8L463.8 149.9L465.3 153.4L466.0 155.4L464.7 158.3L461.9 159.9L454.0 150.2Z" fill="#FF6F00"/>
<path d="M466.8 141.5L467.5 142.9L468.5 142.9L468.2 146.0L469.9 145.0L471.8 144.7L474.0 146.3L474.1 148.1L475.4 149.2L475.2 151.2L471.3 151.5L470.4 152.5L471.2 155.5L469.7 158.3L471.3 162.3L469.9 164.5L468.3 165.3L466.8 164.1L465.0 164.8L461.9 159.9L464.7 158.3L466.0 155.4L465.3 153.4L463.8 149.9L464.4 147.8L463.1 144.5L464.9 142.6Z" fill="#FF6F00"/>
<path d="M466.8 141.5L468.3 139.3L469.3 138.2L470.1 138.2L471.3 139.7L472.9 140.6L474.1 142.3L472.9 142.9L474.8 144.4L477.0 147.0L478.4 149.9L478.4 151.0L476.0 151.3L475.2 151.2L475.4 149.2L474.1 148.1L474.0 146.3L471.8 144.7L469.9 145.0L468.2 146.0L468.5 142.9L467.5 142.9Z" fill="#FF6F00"/>
<path d="M470.1 138.2L472.6 137.7L474.9 136.8L477.1 137.6L477.0 138.9L479.2 139.7L482.3 142.1L483.9 155.1L477.6 163.2L472.1 160.7L473.5 157.7L475.7 156.7L476.0 155.5L478.5 154.2L478.4 151.0L478.4 149.9L477.0 147.0L474.8 144.4L472.9 142.9L474.1 142.3L472.9 140.6L471.3 139.7Z" fill="#FF6F00"/>
<path d="M471.2 155.5L470.4 152.5L471.3 151.5L475.2 151.2L476.0 151.3L478.4 151.0L478.5 154.2L476.0 155.5L475.7 156.7L473.5 157.7L472.1 159.1L470.5 157.5Z" fill="#FF6F00"/>
<path d="M466.8 164.1L468.3 165.3L469.9 164.5L471.3 162.3L474.5 168.0L474.5 172.9L472.1 173.2L466.6 169.6L465.0 164.8Z" fill="#FF6F00"/>
<path d="M379.0 110.7L379.9 110.2L382.6 111.5L385.0 110.3L386.4 112.3L387.3 112.1L389.7 112.9L393.6 112.9L394.2 114.1L394.4 114.1L396.7 112.9L399.6 112.6L402.7 113.8L405.4 115.2L405.7 116.8L404.7 120.2L405.1 123.5L406.6 124.3L405.2 126.2L408.2 128.7L409.0 130.4L408.8 131.1L406.5 131.9L406.3 133.7L406.3 137.2L398.3 133.2L392.8 133.2L387.3 127.5L385.7 125.9L384.5 124.3L384.6 122.7L381.8 121.0L381.0 119.4L382.1 117.8L381.0 116.2L379.9 114.2L379.3 112.9L379.0 111.3Z" fill="#FF6F00"/>
<path d="M385.7 125.9L385.0 125.9L384.5 125.7L382.6 127.4L379.8 127.2L375.5 124.3L371.1 122.5L370.5 120.4L374.0 118.8L374.3 116.2L376.2 114.4L379.9 114.2L381.0 116.2L382.1 117.8L381.0 119.4L381.8 121.0L384.6 122.7L384.5 124.3Z" fill="#008EA0"/>
<path d="M382.6 127.4L384.5 125.7L385.0 125.9L386.5 126.7L386.2 128.3L385.6 128.3L384.2 127.7Z" fill="#008EA0"/>
<path d="M365.3 116.3L366.0 116.3L366.4 116.3L367.2 114.9L369.3 114.9L372.4 114.9L376.2 114.4L374.3 116.2L374.0 118.8L370.5 120.4L367.4 122.2L365.8 121.5L365.8 120.6L366.7 119.4L366.7 118.4L366.0 118.4L365.3 118.4Z" fill="#C71000"/>
<path d="M364.2 120.9L364.7 120.9L365.8 120.6L366.7 119.4L366.7 118.4L366.0 118.4L365.0 118.4Z" fill="#C71000"/>
<path d="M362.7 123.8L363.3 123.8L364.4 126.7L365.2 123.8L365.3 121.8L365.8 121.5L365.8 120.6L364.7 120.9L363.8 120.9Z" fill="#C71000"/>
<path d="M364.4 126.7L365.2 123.8L365.3 121.8L365.8 121.5L367.4 122.2L370.5 120.4L371.1 122.5L367.7 123.5L369.3 125.1L368.5 125.9L367.2 126.1L366.1 127.2L364.4 126.9Z" fill="#8A4198"/>
<path d="M363.8 126.9L364.4 126.9L366.1 127.2L367.2 126.1L368.5 125.9L369.3 125.1L367.7 123.5L371.1 122.5L375.5 124.3L379.8 127.2L382.6 127.4L384.2 127.7L385.6 128.3L387.3 128.8L389.7 131.1L389.4 134.3L390.5 135.1L392.2 137.4L396.3 137.7L396.9 138.9L395.9 142.1L391.2 143.7L386.5 144.4L385.3 145.0L383.4 147.0L380.2 146.3L377.7 146.2L377.4 147.4L376.6 147.9L374.0 148.6L366.1 134.0Z" fill="#8A4198"/>
<path d="M376.6 147.9L377.4 147.4L377.7 146.2L380.2 146.3L383.4 147.0L385.3 145.0L386.5 144.4L391.2 143.7L393.0 147.6L393.6 150.2L380.2 156.7L375.5 154.2L374.8 148.6Z" fill="#FF6F00"/>
<path d="M393.0 147.6L391.2 143.7L395.9 142.1L396.9 138.9L396.3 137.7L397.5 135.5L398.0 134.2L399.9 133.2L405.4 138.1L400.7 147.0L393.6 150.2Z" fill="#008EA0"/>
<path d="M390.5 135.1L392.2 137.4L396.3 137.7L397.5 135.5L398.0 134.2L399.9 133.2L398.0 130.8L394.4 133.2L390.5 134.0Z" fill="#008EA0"/>
<path d="M389.4 134.3L390.5 135.1L391.2 134.0L390.5 131.6L389.0 132.4Z" fill="#008EA0"/>
<path d="M349.6 109.7L350.4 108.4L351.0 106.9L353.6 106.0L356.7 106.5L364.6 105.2L374.8 106.5L374.8 107.3L377.9 107.9L378.2 109.5L379.9 110.2L379.0 110.7L379.0 111.3L379.3 112.9L379.9 114.2L376.2 114.4L372.4 114.9L369.3 114.9L367.2 114.9L366.4 116.3L365.3 116.3L361.4 117.0L352.0 116.5L349.6 112.9Z" fill="#FFFFFF"/>
<path d="M372.4 104.2L376.3 104.5L378.4 105.5L381.0 105.6L382.4 106.6L382.6 107.9L380.2 107.6L377.9 107.9L374.8 107.3L374.0 106.5L371.6 104.8Z" fill="#FF6F00"/>
<path d="M377.9 107.9L380.2 107.6L381.2 108.4L382.6 110.5L382.6 111.5L381.0 110.5L379.9 110.2L378.2 109.5Z" fill="#FF6F00"/>
<path d="M380.2 107.6L382.6 107.9L382.4 106.6L385.9 106.8L388.9 108.1L388.1 112.3L386.4 112.3L385.0 110.3L382.6 111.5L382.6 110.5L381.2 108.4Z" fill="#FF6F00"/>
<path d="M344.5 96.1L345.1 95.0L347.3 92.7L346.7 90.9L352.0 90.9L357.5 91.2L358.3 90.1L362.2 89.8L365.3 92.7L369.3 93.5L372.4 94.1L372.4 96.7L369.7 98.2L367.7 101.6L361.4 103.2L356.2 101.3L353.9 100.8L356.5 99.2L355.4 96.7L351.4 96.3L348.1 96.9L345.6 96.7Z" fill="#FF6F00"/>
<path d="M351.4 96.3L353.7 98.7L353.9 100.8L356.5 99.2L355.4 96.7Z" fill="#C71000"/>
<path d="M346.5 87.0L347.1 89.1L346.7 90.9L352.0 90.9L357.5 91.2L358.3 90.1L359.8 88.3L358.3 86.2L358.1 84.4L353.9 83.6L351.4 84.3L349.6 86.7Z" fill="#C71000"/>
<path d="M342.6 84.9L342.6 83.6L348.7 83.1L351.4 84.3L349.6 86.7L346.5 87.0L345.4 86.4L345.2 85.6L341.8 84.9Z" fill="#C71000"/>
<path d="M341.8 83.6L342.6 83.6L348.7 83.1L351.4 84.3L353.9 83.6L352.6 81.3L349.6 80.5L347.9 80.7L345.7 80.2L341.8 80.9Z" fill="#008EA0"/>
<path d="M345.7 80.2L347.9 80.7L349.6 80.5L352.6 81.3L353.1 80.5L353.6 78.1L353.6 77.3L344.9 77.6Z" fill="#008EA0"/>
<path d="M347.6 67.9L346.7 65.1L341.9 62.7L349.9 62.4L350.4 61.1L353.6 61.1L355.1 62.6L354.3 63.5L356.7 64.8L355.1 66.3L356.7 68.1L356.1 69.7L359.1 72.6L353.2 76.5L347.3 77.8L341.8 77.3L341.8 71.6Z" fill="#C71000"/>
<path d="M347.6 67.9L346.7 65.1L341.9 62.7L341.0 63.7L337.9 63.5L334.7 66.0L332.4 67.6L330.8 70.0L328.4 71.6L328.8 74.9L329.7 75.7L328.1 77.6L327.2 78.9L326.6 80.5L328.4 85.4L332.4 85.4L340.2 78.9L339.4 74.1L344.1 70.0Z" fill="#C71000"/>
<path d="M341.9 62.7L341.0 63.7L337.9 63.5L334.7 66.0L332.4 67.6L330.8 70.0L328.4 71.6L328.8 74.9L329.7 75.7L328.1 77.6L327.2 78.9L326.6 80.5L320.6 81.3L315.1 78.9L315.9 72.4L328.4 64.3L341.0 58.7L359.8 58.7L358.0 61.4L355.1 62.6L353.6 61.1L350.4 61.1L349.9 62.4Z" fill="#C71000"/>
<path d="M331.9 86.2L331.9 87.2L332.5 89.4L333.2 91.9L334.7 92.5L336.3 92.9L339.1 94.3L341.0 94.8L345.1 95.0L347.3 92.7L346.7 90.9L347.1 89.1L346.5 87.0L345.4 86.4L340.7 86.4L339.4 85.4L334.7 85.4Z" fill="#C71000"/>
<path d="M320.9 87.0L323.1 85.6L325.1 85.7L326.9 85.4L331.9 86.2L331.9 87.2L332.5 89.4L333.2 91.9L328.8 93.0L331.3 95.6L329.7 97.2L326.1 97.5L324.7 97.5L321.5 97.4L322.5 95.1L319.6 94.3L319.6 93.0L319.2 92.4L319.0 90.6L320.6 89.9L320.9 88.2Z" fill="#C71000"/>
<path d="M323.1 85.6L325.1 85.7L327.7 85.4L327.7 80.5L321.4 80.5L321.4 85.4Z" fill="#C71000"/>
<path d="M314.3 91.2L314.9 91.2L316.4 91.2L317.4 91.1L318.9 91.9L319.2 92.4L319.0 90.6L320.6 89.9L320.9 88.2L320.9 87.0L315.9 87.0Z" fill="#C71000"/>
<path d="M313.5 91.7L314.9 91.2L316.4 91.2L317.4 91.1L318.9 91.9L319.2 92.4L319.6 93.0L318.7 94.3L317.1 93.3L316.2 93.5L314.3 92.4L313.2 91.4Z" fill="#C71000"/>
<path d="M313.2 91.4L313.5 91.7L314.3 92.4L316.2 93.5L317.1 93.3L318.7 94.3L319.6 94.3L322.5 95.1L321.5 97.4L319.2 99.7L320.6 100.1L320.1 101.4L321.7 103.1L321.4 103.5L321.4 105.6L314.6 106.5L314.6 105.8L310.7 105.2L306.8 104.2L304.9 102.4L300.2 95.9L306.5 92.7Z" fill="#FFFFFF"/>
<path d="M315.1 106.5L314.6 105.8L310.7 105.2L306.8 104.2L304.9 102.4L293.9 102.4L293.9 117.0L309.6 116.5L315.9 109.7Z" fill="#C71000"/>
<path d="M293.9 115.4L298.0 114.2L298.6 112.6L298.1 110.5L298.8 108.9L299.9 107.1L296.7 106.5L295.6 106.6L293.9 106.5Z" fill="#C71000"/>
<path d="M319.2 99.7L321.5 97.4L324.7 97.5L326.1 98.5L325.5 99.5L323.7 100.1L320.6 100.1Z" fill="#C71000"/>
<path d="M324.7 97.5L326.1 97.5L329.7 97.2L331.3 95.6L333.2 95.1L336.3 95.4L336.4 96.7L334.9 98.7L332.4 99.3L329.1 98.8L326.1 98.5Z" fill="#C71000"/>
<path d="M321.4 103.5L321.7 103.1L320.1 101.4L320.6 100.1L323.7 100.1L325.5 99.5L326.1 98.5L329.1 98.8L331.1 99.2L331.0 100.6L330.0 102.4L339.4 108.9L336.3 114.6L331.6 109.7L323.7 104.0Z" fill="#C71000"/>
<path d="M328.8 93.0L333.2 91.9L334.7 92.5L336.3 92.9L339.1 94.3L336.3 95.4L333.2 95.1L331.3 95.6Z" fill="#C71000"/>
<path d="M336.3 95.4L339.1 94.3L341.0 94.8L345.1 95.0L344.5 96.1L341.8 95.9L339.1 97.1L336.4 96.7Z" fill="#C71000"/>
<path d="M334.9 98.7L336.4 96.7L339.1 97.1L341.8 95.9L344.5 96.1L345.6 96.7L343.4 99.7L341.5 99.8L339.1 100.1L336.3 100.0Z" fill="#C71000"/>
<path d="M341.5 99.8L343.4 99.7L345.6 96.7L348.1 96.9L351.4 96.3L353.7 98.7L353.9 100.8L356.2 101.3L356.7 102.4L354.5 103.7L352.0 103.1L348.9 103.7L345.2 102.9L344.9 102.1L343.2 101.9Z" fill="#C71000"/>
<path d="M345.2 102.9L348.9 103.7L352.0 103.1L354.5 103.7L355.1 104.8L353.6 106.5L351.0 106.9L348.9 107.6L345.7 107.6L344.8 106.0L344.9 104.5Z" fill="#C71000"/>
<path d="M331.1 99.2L332.4 99.3L334.9 98.7L335.5 99.3L333.9 100.8L331.0 100.8Z" fill="#C71000"/>
<path d="M331.0 100.8L333.9 100.8L335.5 99.3L336.3 100.0L339.1 100.1L339.7 101.6L336.3 101.3L334.7 101.9L335.5 103.2L337.4 104.8L338.6 105.8L336.3 105.6L332.4 103.2L330.3 101.6Z" fill="#C71000"/>
<path d="M334.7 101.9L336.3 101.3L339.7 101.6L340.2 103.2L339.4 104.4L338.6 105.5L337.4 104.8L335.5 103.2Z" fill="#008EA0"/>
<path d="M339.1 100.1L341.5 99.8L343.2 101.9L344.9 102.1L345.2 102.9L344.9 104.5L344.8 106.0L343.4 106.1L341.8 105.2L340.2 104.5L340.2 103.2L339.7 101.6Z" fill="#C71000"/>
<path d="M338.6 105.8L338.6 105.5L339.4 104.4L340.2 104.5L341.5 105.2L340.4 105.6L339.9 106.6L338.6 106.5Z" fill="#FF6F00"/>
<path d="M341.5 105.2L341.8 105.2L343.4 106.1L343.0 106.5L341.9 106.5L341.2 105.6Z" fill="#FFFFFF"/>
<path d="M341.8 108.1L341.9 106.5L343.0 106.5L343.4 106.1L344.8 106.0L345.7 107.6L344.9 107.9L342.6 108.2Z" fill="#FFFFFF"/>
<path d="M339.4 106.5L339.9 106.6L340.4 105.6L341.2 105.6L341.9 106.5L341.8 108.1L342.6 108.2L342.1 109.2L341.0 110.2L339.4 109.7Z" fill="#FF6F00"/>
<path d="M341.0 110.2L342.1 109.2L342.6 108.2L344.9 107.9L345.7 107.6L348.9 107.6L351.0 106.9L350.4 108.4L349.6 109.7L348.9 116.2L342.6 116.2L340.2 111.3Z" fill="#FFFFFF"/>
</g>
<path d="M295.6 114.6L294.8 111.8L295.8 108.9L295.8 106.6L295.2 104.8L297.0 103.7L301.0 103.9L304.1 104.0L306.8 104.2L307.7 102.4L307.9 100.0L306.1 98.0L302.5 96.9L302.2 96.1L304.9 95.4L307.1 95.8L306.8 94.0L307.9 94.5L309.9 94.3L312.0 93.3L312.1 92.0L313.5 91.7L315.1 91.2L316.2 90.3L317.0 88.6L318.2 88.0L320.6 88.0L322.5 87.7L323.3 87.0L323.1 85.4L322.3 84.4L322.5 82.2L324.5 81.8L326.2 81.0L325.9 83.0L326.6 83.5L325.3 84.6L324.7 85.4L325.3 86.2L326.9 86.4L326.9 87.0L328.4 86.7L330.8 86.4L331.9 87.2L334.7 86.5L338.6 85.9L340.2 86.4L341.0 86.2L342.6 85.1L342.6 83.8L342.6 82.2L343.7 81.2L344.9 81.0L346.5 82.2L347.8 81.8L347.9 80.1L346.5 79.4L346.5 78.6L348.9 78.1L353.6 78.1L356.7 77.5L354.3 76.5L352.0 76.5L348.9 77.0L345.7 77.5L343.4 76.5L343.4 74.9L343.0 73.2L344.9 71.6L348.1 69.5L349.5 69.0L347.6 67.9L344.1 68.2L342.9 70.0L339.4 72.1L337.1 74.1L336.6 76.2L339.1 77.6L337.9 78.9L335.8 81.3L335.3 82.8L334.4 83.6L332.1 84.6L330.0 84.8L329.5 83.5L328.4 81.3L327.2 78.9L326.2 78.1L324.5 79.1L322.2 80.4L320.6 80.5L318.5 79.4L317.6 77.3L317.4 74.9L317.9 73.7L320.6 72.4L323.7 71.3L326.1 70.0L328.4 68.4L330.0 66.8L332.4 65.1L333.9 63.9L337.1 62.2L339.4 61.1L343.4 60.8L346.5 59.8L349.9 59.3L353.6 59.5L358.3 60.6L355.1 61.4L358.0 61.4L361.4 62.1L366.1 62.6L374.0 65.1L374.4 66.8L372.4 67.4L369.3 67.6L363.8 66.8L361.4 66.6L363.8 69.2L364.6 70.3L368.5 71.1L369.3 70.0L373.2 70.0L372.4 68.4L375.5 66.8L378.7 67.3L378.7 64.7L377.9 63.5L381.8 64.3L381.8 66.3L386.5 64.7L392.8 63.0L395.9 63.5L400.7 62.9L403.8 63.4L404.6 61.4L410.1 62.2L414.8 63.0L417.1 63.9L414.8 61.4L414.8 59.5L417.1 56.6L419.5 55.8L423.4 56.6L423.9 59.5L422.6 62.7L425.0 65.1L422.6 67.1L425.8 66.0L425.8 63.5L425.3 61.1L426.6 57.0L428.1 57.5L430.5 57.9L432.1 59.5L435.2 57.9L436.0 55.4L444.6 54.6L446.2 53.0L454.0 51.7L463.5 50.9L473.4 48.6L477.6 49.8L485.4 50.6L487.8 52.2L482.3 54.3L487.0 54.9L493.3 55.4L496.4 56.2L502.7 55.4L509.0 55.8L512.9 58.7L518.4 58.7L524.7 58.7L529.4 57.0L538.8 57.4L545.1 58.7L548.2 59.6L556.1 59.5L560.8 60.8L563.9 61.7L571.8 61.6L576.5 61.1L578.1 62.4L585.9 61.4L592.2 62.7L596.9 63.9L603.2 65.6L608.2 67.4L603.2 70.0L595.3 68.7L593.8 67.1L590.6 69.2L588.3 69.7L591.4 73.2L584.4 74.4L579.6 76.2L577.0 77.3L570.2 77.0L566.3 77.6L567.1 79.7L564.7 80.9L566.0 83.5L563.6 85.4L560.8 88.3L558.1 90.3L555.6 91.9L554.5 88.6L553.9 85.4L554.0 82.2L556.9 79.7L560.8 76.5L565.5 74.1L567.1 73.2L560.8 74.9L556.1 74.5L553.0 78.4L548.2 78.9L542.0 78.1L534.1 78.6L529.4 81.3L524.7 85.4L523.1 87.0L526.3 87.3L530.2 87.8L531.4 89.9L530.2 93.5L529.9 96.7L526.3 100.0L522.3 103.2L518.4 105.3L516.8 104.5L514.8 106.0L513.2 108.1L510.6 109.7L509.8 111.0L511.3 112.6L512.8 114.6L512.9 116.5L512.1 117.6L509.8 118.3L508.0 118.8L508.2 116.2L508.4 114.6L507.4 113.4L505.9 112.9L506.3 110.8L504.8 109.9L501.1 111.0L500.0 111.6L501.1 108.9L499.6 108.2L496.4 110.8L494.4 111.3L495.6 112.9L496.4 114.1L499.3 113.3L501.9 114.1L499.6 115.4L497.2 117.3L497.2 118.6L498.8 120.2L500.8 123.0L500.8 124.6L498.5 125.4L501.1 126.2L500.4 128.7L498.0 131.6L497.2 133.2L494.9 134.8L492.5 136.9L488.9 138.4L487.0 138.9L483.9 139.8L482.8 140.5L482.6 141.6L482.0 139.7L479.6 139.5L477.3 140.8L475.7 143.7L476.8 146.2L479.5 148.6L481.0 151.8L481.2 154.2L480.7 155.9L477.6 157.7L476.8 159.1L474.5 160.6L474.5 158.3L473.5 157.7L472.1 157.3L471.3 155.9L470.5 154.7L468.2 153.9L467.9 152.8L466.6 153.0L466.4 155.1L465.3 157.5L465.5 159.6L466.9 160.9L467.4 162.8L469.1 163.3L470.1 164.5L471.9 166.7L472.1 170.0L473.2 172.2L472.1 172.4L470.1 170.9L468.6 169.6L467.5 167.7L467.1 165.6L466.8 164.0L465.8 162.8L464.2 161.2L463.9 159.1L464.4 157.5L464.6 155.1L463.8 151.8L463.0 149.4L462.8 147.8L461.6 147.0L459.2 148.9L457.7 148.6L458.0 145.3L456.9 142.9L455.3 141.6L454.4 140.5L453.7 138.4L451.7 138.9L449.3 139.2L447.8 139.3L446.2 140.0L445.9 141.3L443.8 142.6L441.5 144.9L438.8 147.4L436.8 148.9L435.5 150.2L435.4 152.6L434.9 155.9L434.9 157.8L433.6 159.4L432.4 160.1L431.3 161.4L429.7 159.9L429.2 158.3L428.1 155.4L427.0 153.4L426.3 150.2L425.0 147.8L423.9 143.7L423.7 140.5L423.4 138.9L422.8 140.0L420.8 140.8L417.9 138.4L419.5 137.2L417.1 136.4L415.4 135.6L414.8 134.3L414.0 133.4L410.1 133.5L406.3 133.7L402.2 133.4L399.6 132.9L398.8 130.8L395.2 131.4L392.0 129.9L389.7 127.8L388.1 125.7L386.5 125.3L385.7 125.9L385.0 126.9L385.7 128.3L387.3 130.4L388.4 131.6L389.4 133.2L390.0 132.2L390.6 134.0L390.5 135.1L392.8 135.5L395.2 135.0L396.4 133.5L397.8 132.1L398.1 134.0L399.1 135.6L401.6 136.3L403.5 138.1L401.9 141.3L400.3 143.7L399.1 145.3L396.3 146.5L394.4 147.0L391.6 148.3L388.1 150.2L385.7 151.8L381.8 153.0L380.2 153.8L377.9 153.9L377.4 152.6L376.8 150.2L376.6 147.9L375.5 146.2L374.0 143.7L371.1 139.7L370.0 136.4L368.0 134.0L366.9 131.6L365.0 129.1L364.4 126.7L363.3 123.8L364.2 122.3L364.7 120.9L365.3 119.6L366.0 118.4L365.8 117.0L366.1 116.2L366.4 115.2L365.3 115.2L363.8 115.0L362.2 116.0L360.6 116.0L358.3 114.9L357.5 115.7L355.1 115.4L353.6 115.0L352.5 114.6L352.5 112.9L351.2 112.1L351.7 110.5L350.7 109.7L350.7 109.2L350.4 108.4L348.9 108.2L347.3 108.6L347.6 109.5L346.5 109.4L345.6 108.9L345.1 109.7L345.7 110.8L346.5 112.1L347.3 112.9L346.0 112.9L346.0 113.8L345.7 115.4L344.8 115.4L343.7 114.9L342.9 113.3L343.7 112.5L342.6 112.1L342.1 111.3L341.3 110.3L340.2 108.9L340.1 107.3L339.7 106.5L338.6 105.6L337.1 104.8L334.7 104.0L333.5 102.9L332.4 101.3L331.1 101.8L331.0 100.6L329.1 101.0L328.9 102.7L330.8 103.9L331.9 105.6L334.7 106.6L334.7 107.4L337.1 108.4L338.6 109.5L337.9 110.0L336.3 108.9L335.7 110.0L336.4 111.3L335.5 112.3L334.7 113.1L334.2 112.6L334.7 110.8L333.9 109.7L332.8 108.7L331.9 108.4L330.0 107.6L328.8 106.8L326.9 105.6L325.9 104.4L325.3 103.2L323.4 102.6L321.4 103.5L319.8 104.7L317.4 104.4L315.9 104.0L314.5 104.7L314.6 105.8L314.6 106.6L313.1 107.4L310.9 108.4L309.3 110.5L309.9 111.6L308.7 112.9L307.2 114.1L306.1 114.9L302.7 115.0L301.1 116.0L299.7 115.2L298.6 114.2Z" fill="none"/>
<path d="M26.7 310.7L36.5 308.6L44.8 309.6L52.1 308.2L62.5 309.6L71.9 305.0L62.5 303.4L66.7 299.8L75.0 297.7L87.6 295.7L98.0 294.6L108.4 293.4L118.8 293.8L127.2 294.6L135.5 295.9L152.2 296.1L147.0 293.6L150.1 291.5L158.4 291.7L166.8 292.7L177.2 293.1L184.5 293.8L188.7 292.1L190.7 288.4L197.0 286.3L200.1 283.1L205.3 281.1L208.5 278.6L214.7 276.9L217.8 274.8L223.1 273.3L221.4 275.8L215.8 277.5L210.5 280.4L208.0 283.1L211.6 286.3L214.1 290.9L213.0 295.0L208.5 297.3L201.2 298.4L193.9 298.8L185.5 299.6L177.6 301.3L185.5 302.9L192.8 305.0L200.1 304.6L205.3 306.7L210.5 307.5L214.7 310.5L218.9 308.8L224.1 305.7L229.3 304.6L237.6 305.0L242.9 304.2L249.1 302.5L253.3 303.4L273.1 303.8L260.6 302.1L255.4 300.9L261.6 299.2L268.9 297.3L277.3 294.6L280.4 292.5L291.8 289.4L300.2 288.1L310.4 287.9L320.8 288.4L333.4 287.3L352.1 288.4L360.5 285.2L368.8 287.7L379.2 283.1L387.6 282.1L393.8 280.6L400.1 282.7L408.4 283.4L417.8 284.2L418.8 288.4L413.6 292.5L423.0 288.4L435.5 283.8L445.9 281.7L456.3 281.3L466.8 280.4L477.2 281.7L485.5 280.4L489.7 282.7L498.0 282.1L508.5 281.3L525.1 281.5L535.6 283.1L541.8 284.8L550.2 285.9L562.7 287.9L577.3 290.0L562.7 294.6L575.2 299.8L558.5 304.6L571.0 308.8L591.2 310.7Z" fill="#fff" style="stroke-width:0.7"/>
<ellipse cx="54.0" cy="304.5" rx="3.0" ry="0.8" fill="#fff" stroke="#000" stroke-width="0.7"/>
<ellipse cx="62.0" cy="302.0" rx="3.0" ry="0.8" fill="#fff" stroke="#000" stroke-width="0.7"/>
<ellipse cx="66.0" cy="305.5" rx="4.0" ry="1.0" fill="#fff" stroke="#000" stroke-width="0.7"/>
<ellipse cx="231.0" cy="304.0" rx="6.0" ry="2.5" fill="#fff" stroke="#000" stroke-width="0.7"/>
<circle cx="39.0" cy="196.5" r="0.7" fill="#555" stroke="none"/>
<circle cx="34.2" cy="208.4" r="0.7" fill="#555" stroke="none"/>
<circle cx="28.1" cy="203.6" r="0.7" fill="#555" stroke="none"/>
<circle cx="74.2" cy="202.5" r="0.7" fill="#555" stroke="none"/>
<circle cx="81.2" cy="200.3" r="0.7" fill="#555" stroke="none"/>
<circle cx="88.1" cy="203.2" r="0.7" fill="#555" stroke="none"/>
<circle cx="94.6" cy="203.8" r="0.7" fill="#555" stroke="none"/>
<circle cx="89.8" cy="188.9" r="0.7" fill="#555" stroke="none"/>
<circle cx="61.7" cy="170.7" r="0.7" fill="#555" stroke="none"/>
<circle cx="58.5" cy="167.5" r="0.7" fill="#555" stroke="none"/>
<circle cx="32.0" cy="245.1" r="0.7" fill="#555" stroke="none"/>
<circle cx="137.4" cy="218.1" r="0.7" fill="#555" stroke="none"/>
<circle cx="42.0" cy="199.0" r="0.7" fill="#555" stroke="none"/>
<circle cx="185.0" cy="228.5" r="0.7" fill="#555" stroke="none"/>
<path d="M185.5 130.2L189.0 132.7L192.4 136.1L195.9 138.2" fill="none" style="stroke:#666;stroke-width:0.5"/>
<path d="M203.6 144.1L208.4 143.8L211.9 145.9L213.3 149.3L213.7 152.8L213.0 155.6" fill="none" style="stroke:#666;stroke-width:0.5"/>
<path d="M355.3 107.8L353.9 107.3L353.6 106.5L353.4 105.3L354.5 104.2L354.7 103.2L356.2 101.3L356.7 100.3L357.8 99.2L359.8 99.5L362.4 100.0L360.6 101.0L362.0 102.2L363.0 102.6L365.2 101.6L366.9 101.3L368.2 101.6L370.0 102.6L372.4 104.2L374.0 104.8L374.9 106.1L374.8 107.3L372.4 108.1L369.3 108.1L366.9 107.6L364.6 106.5L361.4 106.5L358.3 107.9Z" fill="#fff"/>
<path d="M364.6 99.7L366.9 98.8L369.3 98.2L371.3 98.0L369.6 99.5L368.9 100.3L367.4 101.0L365.3 101.0Z" fill="#fff"/>
<path d="M383.4 100.8L385.7 100.0L388.1 98.8L391.2 98.7L392.8 99.2L392.8 101.1L390.5 101.3L389.7 102.4L388.6 102.7L390.5 104.5L392.0 105.6L392.3 107.3L394.4 107.3L395.2 108.1L392.8 108.9L392.8 110.5L394.4 112.1L394.4 114.1L392.8 114.9L389.7 115.0L387.3 113.9L386.5 112.5L386.8 110.8L387.3 109.2L386.5 107.3L385.0 106.0L384.2 104.8L384.2 102.4Z" fill="#fff"/>
</g>
<g class="m" transform="translate(767,0)">
<path d="M300.7 93.3L303.3 93.0L304.1 92.5L306.5 92.5L309.6 92.2L311.6 91.7L311.8 91.2L310.7 91.1L312.1 90.1L312.3 89.1L310.4 88.6L309.9 87.8L309.4 87.0L307.7 86.0L307.2 85.1L306.5 84.1L304.9 83.8L305.7 83.1L306.5 82.2L306.8 81.2L304.1 81.0L303.3 81.2L304.7 79.6L301.8 79.6L301.3 80.4L300.5 81.7L300.7 83.0L301.0 84.6L301.9 84.9L301.8 85.7L304.1 85.6L304.9 87.0L304.7 88.0L302.5 88.2L303.0 89.0L302.1 89.0L303.2 89.6L301.4 90.4L303.0 90.9L304.9 91.2L304.1 91.6L302.5 91.9Z" fill="#FFFFFF"/>
<path d="M300.2 89.9L299.7 88.2L300.2 86.7L298.1 86.9L296.7 86.2L298.1 84.9L296.3 85.7L296.3 86.5L293.9 86.7L294.2 88.0L295.5 88.3L294.7 89.3L293.4 90.1L293.9 90.9L296.3 90.9L298.6 90.1Z" fill="#008EA0"/>
<path d="M300.2 86.7L301.0 86.2L299.9 85.1L298.1 84.9L296.7 86.2L298.1 86.9Z" fill="#FFFFFF"/>
<path d="M271.9 68.4L274.3 66.9L276.6 68.4L278.2 67.6L281.3 67.4L284.5 66.8L286.8 67.3L288.2 68.9L286.8 70.2L282.9 71.1L279.8 71.8L276.6 71.1L274.0 71.1L275.1 70.3L271.9 69.4L275.1 68.7Z" fill="#008EA0"/>
<path d="M326.1 45.4L334.7 44.9L342.6 45.7L339.4 47.3L342.6 48.1L336.3 50.4L331.6 48.9L326.9 47.0Z" fill="#008EA0"/>
<path d="M337.9 44.6L344.1 44.1L352.0 44.6L350.4 46.0L342.6 45.9Z" fill="#008EA0"/>
<path d="M342.6 47.8L347.3 48.3L345.7 49.3L343.4 48.9Z" fill="#008EA0"/>
<path d="M390.5 58.5L392.8 60.0L395.9 60.0L399.9 60.0L398.3 57.9L397.2 55.9L394.4 55.8L392.8 57.0L392.0 58.2Z" fill="#008EA0"/>
<path d="M394.4 55.4L398.3 55.6L400.7 54.1L404.6 53.0L411.7 51.7L417.1 50.4L417.1 49.8L411.7 50.4L403.8 51.4L399.1 52.5L395.9 54.1Z" fill="#008EA0"/>
<path d="M380.2 43.9L388.1 43.4L391.2 44.4L385.0 44.9L380.2 44.6Z" fill="#008EA0"/>
<path d="M394.4 44.1L400.7 43.3L406.9 42.5L411.7 43.3L403.8 44.4L397.5 44.9Z" fill="#008EA0"/>
<path d="M458.8 46.5L466.6 45.2L474.5 46.0L472.9 47.7L465.0 48.1Z" fill="#008EA0"/>
<path d="M454.0 44.9L458.8 43.0L463.5 43.8L461.9 44.9L455.6 45.4Z" fill="#008EA0"/>
<path d="M524.7 52.5L527.8 51.1L537.2 51.9L542.0 52.5L545.1 53.0L538.8 53.3L532.5 53.2L526.3 53.5Z" fill="#008EA0"/>
<path d="M529.4 54.8L534.1 55.3L532.5 55.9L529.4 55.6Z" fill="#008EA0"/>
<path d="M589.8 59.5L592.2 58.7L596.1 59.2L595.3 59.8L590.3 59.8Z" fill="#008EA0"/>
<path d="M385.7 61.9L388.1 62.4L387.3 63.2L385.4 62.7Z" fill="#008EA0"/>
<path d="M532.5 86.5L534.1 88.2L534.6 91.9L534.9 94.3L536.5 95.1L534.1 96.7L534.4 98.8L534.9 99.8L533.3 98.8L532.5 100.0L532.5 97.5L532.9 95.1L532.5 91.9L532.2 88.6Z" fill="#008EA0"/>
<path d="M529.4 107.3L531.0 105.6L529.9 104.4L531.8 104.4L532.1 101.0L534.1 102.6L537.7 102.7L538.0 104.4L535.7 105.0L534.6 106.5L532.1 105.5L530.2 106.5Z" fill="#C71000"/>
<path d="M531.0 107.3L531.8 107.4L531.8 108.9L532.5 110.5L531.0 112.5L531.0 114.6L530.7 116.7L529.1 117.8L528.9 117.0L527.5 118.3L524.7 118.4L524.4 118.9L522.8 120.2L521.7 118.9L522.0 118.3L518.4 118.9L515.3 119.4L515.3 118.8L517.6 117.2L520.0 117.0L523.1 116.7L524.4 114.6L525.2 113.8L525.2 114.9L527.0 113.9L528.6 112.1L529.4 109.7L529.4 108.1Z" fill="#C71000"/>
<path d="M515.1 119.6L516.4 120.1L516.7 121.4L515.9 123.6L514.8 124.3L514.0 123.8L514.2 121.8L513.2 121.0L513.4 120.2Z" fill="#C71000"/>
<path d="M517.6 119.4L520.8 119.1L521.1 119.7L520.3 120.6L518.4 121.4L517.5 120.4Z" fill="#C71000"/>
<path d="M500.4 133.5L501.1 134.0L500.4 136.4L499.3 138.9L498.2 137.2L498.5 135.6L499.6 134.0Z" fill="#008EA0"/>
<path d="M480.3 143.2L481.5 142.1L483.4 141.9L483.9 142.7L483.1 144.0L481.7 145.0L480.3 144.5Z" fill="#C71000"/>
<path d="M435.0 158.8L435.7 158.6L437.1 160.7L438.0 162.3L437.9 164.0L436.1 164.9L435.2 164.5L434.9 162.3L434.9 160.7Z" fill="#FF6F00"/>
<path d="M498.9 144.5L501.5 144.5L501.6 147.8L500.5 149.4L500.7 151.5L502.7 152.0L504.4 154.1L503.2 153.4L501.1 152.3L499.3 152.1L498.9 151.0L498.0 150.2L497.7 148.1L498.6 147.6Z" fill="#C71000"/>
<path d="M501.1 163.2L502.4 161.2L504.0 161.2L505.5 160.2L506.6 158.6L507.9 160.7L508.2 164.0L506.6 164.8L506.5 165.4L504.6 164.5L504.3 162.7L502.7 162.3Z" fill="#C71000"/>
<path d="M504.8 154.2L506.3 154.2L506.9 156.4L506.2 158.0L505.5 158.0L505.1 156.2Z" fill="#C71000"/>
<path d="M501.1 155.4L502.9 155.9L503.2 157.5L502.7 159.8L501.9 159.1L501.1 157.5Z" fill="#C71000"/>
<path d="M498.6 152.8L500.2 153.0L500.0 154.6L499.4 154.6Z" fill="#C71000"/>
<path d="M493.6 160.9L494.9 159.6L497.1 157.3L497.2 156.2L496.4 157.5L494.9 158.6L493.6 160.2Z" fill="#C71000"/>
<path d="M480.7 172.1L481.7 171.3L482.3 172.9L483.9 172.9L485.8 172.1L489.4 172.1L490.9 169.6L491.1 167.7L494.1 167.7L494.2 168.8L494.9 170.9L496.4 172.9L494.5 173.2L494.1 175.8L492.5 176.9L492.5 179.4L491.7 181.0L489.7 181.1L489.4 180.0L487.0 179.7L485.0 180.0L482.6 179.2L482.3 176.9L480.7 175.0Z" fill="#FF6F00"/>
<path d="M481.7 171.3L484.2 172.1L484.5 170.3L487.0 169.3L488.6 167.2L490.9 165.6L492.8 163.2L494.4 164.3L496.7 166.1L495.2 167.5L494.1 167.7L491.1 167.7L490.9 169.6L489.4 172.1L485.8 172.1L483.9 172.9L482.3 172.9Z" fill="#008EA0"/>
<path d="M488.6 167.2L489.5 166.4L490.6 166.6L490.2 167.7L489.4 167.7Z" fill="#FFFFFF"/>
<path d="M459.2 165.4L462.7 166.1L464.6 168.3L467.4 170.9L469.7 172.6L472.1 174.5L472.9 176.4L474.5 178.2L476.0 179.4L475.9 181.8L475.7 183.9L473.8 183.9L472.1 182.3L470.2 180.8L468.2 178.6L467.1 176.0L465.0 173.7L464.6 171.7L462.7 170.0L461.1 168.3Z" fill="#FF6F00"/>
<path d="M474.8 185.5L476.2 184.1L477.6 184.1L479.9 185.0L483.1 185.2L483.9 184.9L486.4 185.7L489.4 187.0L489.4 188.6L486.2 188.1L482.3 187.5L479.9 187.1L476.8 186.5Z" fill="#FF6F00"/>
<path d="M497.7 173.2L499.3 172.4L502.7 172.9L505.9 171.9L506.2 172.9L504.3 173.9L499.6 173.7L498.3 174.5L498.2 175.8L500.4 176.0L503.2 175.6L503.2 176.1L500.7 177.4L501.9 179.7L503.0 181.8L501.9 183.4L500.4 182.3L499.6 178.9L498.5 179.2L498.6 182.3L498.6 183.6L497.2 183.6L497.2 180.2L496.1 178.9L496.9 176.6L497.7 174.5Z" fill="#FF6F00"/>
<path d="M489.5 187.8L491.2 187.8L490.9 188.8L489.8 188.4Z" fill="#FF6F00"/>
<path d="M491.7 187.9L493.3 187.9L496.4 187.9L496.4 188.8L493.3 189.1L491.7 188.9Z" fill="#FF6F00"/>
<path d="M497.7 188.1L499.6 188.1L502.7 187.8L502.7 188.6L499.6 188.9L497.7 188.8Z" fill="#FF6F00"/>
<path d="M496.4 189.7L499.3 190.5L498.0 191.2L496.4 190.4Z" fill="#FF6F00"/>
<path d="M503.5 191.2L504.9 189.6L505.9 189.1L505.9 189.9L504.8 191.0Z" fill="#FF6F00"/>
<path d="M505.9 189.1L509.3 188.1L509.0 188.8L505.9 189.9Z" fill="#FF6F00"/>
<path d="M509.8 171.3L510.6 172.1L511.7 172.1L510.6 173.7L511.3 175.3L510.2 175.8L509.8 173.7Z" fill="#FF6F00"/>
<path d="M510.6 179.2L515.0 179.4L515.0 180.2L510.6 180.2Z" fill="#FF6F00"/>
<path d="M507.4 179.7L509.3 179.7L509.3 180.7L507.4 180.7Z" fill="#FF6F00"/>
<path d="M515.3 175.8L517.6 175.1L520.0 175.8L520.3 178.6L522.3 179.8L524.7 177.7L526.3 177.1L531.0 178.7L531.0 189.2L528.6 187.6L526.3 188.1L525.9 186.3L527.5 185.8L526.3 183.4L523.1 182.0L520.0 180.8L518.4 181.0L518.1 179.8L516.8 179.0L519.7 178.4L517.3 178.1L515.3 176.8Z" fill="#FF6F00"/>
<path d="M531.0 178.7L534.1 180.0L536.5 180.7L538.8 183.4L541.2 184.2L540.4 185.5L542.0 187.5L543.5 189.1L545.9 191.2L544.3 191.3L542.0 190.9L540.4 189.9L538.8 187.8L536.5 187.0L534.9 188.3L534.1 189.4L531.0 189.2Z" fill="#FF6F00"/>
<path d="M542.4 183.4L545.1 182.6L548.2 181.3L548.7 182.6L545.9 184.5L542.7 184.5Z" fill="#FF6F00"/>
<path d="M546.4 178.7L549.0 180.2L550.1 182.1L549.3 181.8L547.5 179.7Z" fill="#FF6F00"/>
<path d="M552.3 183.4L554.2 185.0L553.7 185.7L552.6 184.7Z" fill="#FF6F00"/>
<path d="M555.3 185.8L557.7 187.1L560.0 188.3L559.2 188.4L556.9 187.5L555.3 186.5Z" fill="#FF6F00"/>
<path d="M560.5 189.6L562.4 190.4L563.2 191.2L561.6 190.7L560.3 190.1Z" fill="#FF6F00"/>
<path d="M571.2 198.8L572.3 199.6L572.6 201.2L571.8 200.7L571.2 199.6Z" fill="#FF6F00"/>
<path d="M567.1 207.1L569.4 208.5L571.8 210.6L571.0 210.8L568.6 209.3L567.1 207.7Z" fill="#FFFFFF"/>
<path d="M588.0 202.7L590.0 202.8L590.0 204.0L588.0 204.0Z" fill="#FF6F00"/>
<path d="M590.3 200.9L592.2 200.7L591.4 201.9L590.2 201.7Z" fill="#FF6F00"/>
<path d="M536.8 240.4L542.4 240.8L542.4 242.5L541.2 245.0L538.8 245.0L537.6 242.9Z" fill="#8A4198"/>
<path d="M580.7 230.2L583.3 231.7L585.1 233.8L585.9 235.4L589.8 235.6L588.9 238.0L587.3 238.5L586.7 240.9L584.7 241.9L584.0 241.4L584.7 239.6L582.5 238.3L584.0 236.9L583.9 234.4L583.1 233.3L581.2 231.2Z" fill="#8A4198"/>
<path d="M580.7 240.1L583.3 241.7L581.2 244.2L580.9 245.5L578.5 246.3L577.6 248.9L575.7 250.0L573.8 250.0L571.0 249.0L571.0 248.2L573.4 245.8L576.5 244.2L578.5 242.2L580.0 240.6Z" fill="#8A4198"/>
<path d="M329.1 112.9L334.1 112.5L333.3 115.0L330.8 114.2L329.1 113.6Z" fill="#008EA0"/>
<path d="M322.5 108.1L324.7 107.8L324.8 110.8L322.9 111.5L322.8 109.7Z" fill="#008EA0"/>
<path d="M323.1 105.6L324.4 104.8L324.5 106.5L324.0 107.4L323.1 106.8Z" fill="#FFFFFF"/>
<path d="M346.5 116.8L348.1 117.0L350.9 117.3L350.7 117.8L348.1 118.0L346.5 117.5Z" fill="#FFFFFF"/>
<path d="M360.3 117.8L361.4 117.2L363.9 116.7L363.0 117.8L361.4 118.4L360.5 118.3Z" fill="#008EA0"/>
<path d="M326.9 84.3L329.4 83.6L329.4 85.1L328.1 85.9L326.9 85.1Z" fill="#008EA0"/>
<path d="M338.2 80.7L339.4 80.7L339.0 82.2L338.0 82.0Z" fill="#008EA0"/>
<path d="M313.4 110.3L314.6 109.9L314.9 110.5L314.0 110.8Z" fill="#008EA0"/>
<path d="M176.3 139.0L179.3 137.2L182.4 137.1L184.8 138.1L187.9 139.2L191.1 140.8L193.1 141.8L191.8 142.3L187.6 142.3L188.7 141.1L186.4 139.7L183.2 138.9L180.9 138.1L178.5 138.5Z" fill="#008EA0"/>
<path d="M192.8 144.7L195.0 142.3L197.0 142.4L197.0 145.5L195.8 145.0Z" fill="#C71000"/>
<path d="M197.0 142.4L199.7 142.6L202.2 144.4L201.3 144.7L198.9 145.0L197.3 145.8L197.0 145.5Z" fill="#C71000"/>
<path d="M186.7 144.7L188.7 144.5L190.0 145.3L188.4 145.7L186.7 145.2Z" fill="#008EA0"/>
<path d="M204.1 144.5L206.6 144.7L206.5 145.3L204.1 145.3Z" fill="#008EA0"/>
<path d="M212.6 157.2L214.0 157.0L213.8 158.1L212.6 158.1Z" fill="#008EA0"/>
<path d="M186.7 131.2L188.4 131.4L188.7 132.1L187.1 131.7Z" fill="#008EA0"/>
<path d="M186.8 133.8L187.6 134.6L187.6 135.6L186.8 135.0Z" fill="#008EA0"/>
<path d="M216.5 97.4L219.3 92.4L222.5 90.9L221.7 93.5L225.6 94.6L226.9 97.5L225.6 99.0L222.5 98.5L221.7 97.4Z" fill="#8A4198"/>
<path d="M108.2 92.4L112.9 93.2L115.7 95.9L113.4 95.6Z" fill="#8A4198"/>
<path d="M100.8 86.9L102.8 87.0L103.9 89.9L101.6 88.6Z" fill="#8A4198"/>
<path d="M208.3 93.7L212.6 94.6L210.7 94.8Z" fill="#8A4198"/>
<path d="M208.6 98.7L212.3 99.3L211.5 100.0L209.1 99.5Z" fill="#8A4198"/>
<path d="M67.0 81.3L70.2 80.5L70.5 81.7L67.8 82.5Z" fill="#5A9599"/>
<path d="M201.9 259.7L201.9 263.4L205.2 263.9L201.3 264.4L197.3 262.5L195.8 261.2L198.9 261.2L198.9 260.0Z" fill="#008EA0"/>
<path d="M201.9 259.7L207.2 263.0L205.2 263.9L201.9 263.4Z" fill="#8A4198"/>
<path d="M213.8 257.9L218.5 257.6L218.9 258.4L217.0 259.2L213.8 259.1Z" fill="#FFFFFF"/>
<path d="M193.1 242.2L194.2 242.2L194.2 244.8L192.8 244.5Z" fill="#008EA0"/>
<path d="M173.0 68.9L176.2 67.9L179.3 69.2L183.2 71.1L179.3 72.0L175.4 71.6L173.0 70.8Z" fill="#8A4198"/>
<path d="M122.8 58.7L127.5 55.6L140.0 55.6L144.8 56.2L151.8 58.2L150.2 62.2L143.2 63.2L136.9 63.7L131.4 63.7L125.9 62.7L124.3 60.6Z" fill="#8A4198"/>
<path d="M112.6 57.9L116.5 54.3L124.3 54.3L127.5 55.8L121.2 58.7L115.7 59.2Z" fill="#8A4198"/>
<path d="M125.9 52.7L127.5 50.6L136.9 50.9L143.2 51.7L143.2 53.2L136.9 53.5L130.6 53.6Z" fill="#8A4198"/>
<path d="M149.5 56.2L152.6 54.8L157.3 55.4L157.3 57.9L154.2 59.0L149.5 57.9Z" fill="#8A4198"/>
<path d="M158.9 54.8L163.6 54.5L168.3 54.9L166.7 56.6L162.0 57.9L159.7 56.6Z" fill="#8A4198"/>
<path d="M153.4 62.2L157.3 61.4L159.7 62.7L156.5 63.5Z" fill="#8A4198"/>
<path d="M158.9 52.2L165.2 50.6L176.2 50.6L184.0 52.2L182.4 53.6L171.4 53.8L165.2 53.3Z" fill="#8A4198"/>
<path d="M146.3 52.2L152.6 50.4L157.3 51.4L155.7 53.0L151.0 53.0Z" fill="#8A4198"/>
<path d="M168.3 50.6L169.9 48.1L174.6 46.5L165.2 43.0L176.2 41.2L191.8 40.0L210.7 40.8L212.3 42.0L202.8 43.6L195.0 46.0L188.7 47.3L187.1 49.8L184.0 50.9L176.2 50.9Z" fill="#8A4198"/>
<path d="M157.3 47.8L158.9 44.6L166.7 42.8L173.8 44.4L172.2 46.8L168.3 48.0Z" fill="#8A4198"/>
<path d="M144.8 48.1L151.0 46.5L157.3 47.3L152.6 48.6Z" fill="#8A4198"/>
<path d="M116.5 51.4L122.8 49.3L127.5 49.8L122.8 51.4Z" fill="#8A4198"/>
<path d="M64.7 141.8L66.2 142.4L65.5 143.7L64.7 142.9Z" fill="#5A9599"/>
<path d="M61.2 139.5L62.0 140.0L61.5 140.2Z" fill="#5A9599"/>
<path d="M393.3 154.1L395.2 154.2L394.4 154.6Z" fill="#C71000"/>
<path d="M396.4 208.4L397.2 208.7L396.7 209.2Z" fill="#FFFFFF"/>
<path d="M399.7 206.9L400.3 207.2L399.9 207.7Z" fill="#C71000"/>
<path d="M377.4 193.0L377.9 193.6L377.6 193.9Z" fill="#C71000"/>
<path d="M283.1 128.5L284.2 128.3L283.5 129.1Z" fill="#008EA0"/>
<path d="M287.3 128.2L288.4 127.2L287.9 128.8Z" fill="#008EA0"/>
<path d="M272.2 149.9L272.9 150.2L272.5 150.4Z" fill="#C71000"/>
<path d="M269.1 113.3L270.0 113.3L269.6 113.4Z" fill="#008EA0"/>
<path d="M282.6 121.4L283.4 121.5L282.9 121.7Z" fill="#008EA0"/>
<path d="M165.9 174.8L166.7 175.3L166.4 176.1L165.8 175.6Z" fill="#5A9599"/>
<path d="M417.9 253.9L420.3 254.2L419.5 255.0L417.9 254.7Z" fill="#FFFFFF"/>
<path d="M249.9 262.0L253.1 262.8L252.3 263.3Z" fill="#FFFFFF"/>
<path d="M298.1 73.7L299.4 73.6L298.9 74.4Z" fill="#008EA0"/>
<path d="M307.2 76.3L308.0 76.8L307.6 77.5Z" fill="#FFFFFF"/>
<path d="M295.5 59.5L297.0 59.3L296.6 59.8Z" fill="#008EA0"/>
<path d="M538.8 102.4L542.7 100.8L542.0 101.6L538.8 103.2Z" fill="#008EA0"/>
<path d="M545.1 100.0L548.2 98.4L547.5 99.2Z" fill="#008EA0"/>
<path d="M552.2 94.3L554.5 92.4L553.7 93.5Z" fill="#008EA0"/>
<path d="M566.3 78.9L567.9 78.9L567.1 79.7Z" fill="#008EA0"/>
<path d="M322.9 168.5L323.6 168.8L323.3 169.3Z" fill="#8A4198"/>
<path d="M371.1 183.9L371.6 184.2L371.5 184.9Z" fill="#008EA0"/>
<path d="M49.0 87.0L51.3 86.0L50.5 86.7Z" fill="#5A9599"/>
<path d="M44.3 88.6L47.4 87.7L46.6 88.3Z" fill="#5A9599"/>
<path d="M35.6 89.9L39.6 89.6L38.0 90.3Z" fill="#5A9599"/>
<path d="M30.1 90.6L33.3 90.3L31.7 90.9Z" fill="#5A9599"/>
<path d="M40.0 71.6L44.3 72.0L41.9 72.4Z" fill="#5A9599"/>
<path d="M46.9 77.0L49.5 76.8L48.5 77.6Z" fill="#5A9599"/>
<path d="M95.3 80.5L98.0 80.1L100.5 82.8L98.4 83.8Z" fill="#5A9599"/>
<path d="M99.8 83.5L102.0 83.9L103.1 85.7L100.5 85.9Z" fill="#5A9599"/>
<path d="M104.7 87.0L107.1 87.7L108.6 90.3L107.1 89.8L105.5 88.3Z" fill="#8A4198"/>
<path d="M461.9 172.1L463.3 173.0L462.8 173.7Z" fill="#FF6F00"/>
<path d="M464.4 176.1L465.5 177.3L465.0 177.7L464.2 176.8Z" fill="#FF6F00"/>
<path d="M466.3 178.2L467.4 179.7L466.9 179.8Z" fill="#FF6F00"/>
<path d="M474.9 177.1L477.1 178.7L476.3 179.4L475.2 178.1Z" fill="#FF6F00"/>
<path d="M497.7 166.2L499.6 164.8L501.1 163.6L499.9 165.1Z" fill="#C71000"/>
<path d="M504.8 156.0L505.9 156.4L505.9 158.3L505.5 158.3Z" fill="#C71000"/>
<path d="M503.2 157.5L504.3 156.4L504.3 158.0L503.5 158.9Z" fill="#C71000"/>
<path d="M504.0 158.5L505.2 158.1L504.9 158.9Z" fill="#C71000"/>
<path d="M503.0 154.2L504.3 154.7L503.7 155.2Z" fill="#C71000"/>
<path d="M536.8 152.6L537.2 152.5L536.9 153.1Z" fill="#FFFFFF"/>
<path d="M538.2 149.9L538.7 149.7L538.5 150.2Z" fill="#FFFFFF"/>
<path d="M538.2 145.3L538.7 145.0L538.5 145.7Z" fill="#FFFFFF"/>
<path d="M520.6 162.2L521.1 162.0L520.9 162.7Z" fill="#FFFFFF"/>
<path d="M526.3 158.9L526.7 158.9L526.4 159.3Z" fill="#FFFFFF"/>
<path d="M557.8 163.2L558.3 163.2L558.0 163.5Z" fill="#FFFFFF"/>
<path d="M510.1 131.1L511.0 131.1L510.1 132.2Z" fill="#C71000"/>
<path d="M512.6 128.5L513.2 128.5L512.8 129.0Z" fill="#C71000"/>
<path d="M507.7 120.2L508.8 120.2L508.2 120.7Z" fill="#C71000"/>
<path d="M455.1 152.6L455.6 153.0L455.3 155.7L454.8 155.4Z" fill="#FF6F00"/>
<path d="M456.7 162.8L457.2 163.2L456.9 163.5Z" fill="#FF6F00"/>
<path d="M34.4 208.7L34.9 208.8L34.5 209.2Z" fill="#FFFFFF"/>
<path d="M38.5 196.4L40.2 197.0L39.1 197.2Z" fill="#FFFFFF"/>
<path d="M74.7 202.8L75.4 203.0L75.0 203.5Z" fill="#FFFFFF"/>
<path d="M62.3 171.3L62.8 171.4L62.5 171.7Z" fill="#FFFFFF"/>
<path d="M207.7 122.0L208.2 122.0L207.9 122.3Z" fill="#FFFFFF"/>
<path d="M212.6 147.9L213.5 147.9L213.0 148.6Z" fill="#FFFFFF"/>
<path d="M213.5 150.4L214.1 150.7L213.8 151.2Z" fill="#FFFFFF"/>
<path d="M213.7 151.8L214.0 152.1L213.8 152.3Z" fill="#FFFFFF"/>
<path d="M215.9 153.0L216.3 153.1L216.0 153.4Z" fill="#FFFFFF"/>
<path d="M212.6 154.7L212.9 154.9L212.7 155.1Z" fill="#FFFFFF"/>
<path d="M213.0 149.2L213.4 149.6L213.2 149.9Z" fill="#FFFFFF"/>
<path d="M212.4 146.6L212.7 146.8L212.6 147.0Z" fill="#FFFFFF"/>
<path d="M207.7 144.7L208.2 144.7L207.9 144.9Z" fill="#FFFFFF"/>
<path d="M201.0 154.4L201.6 154.9L201.3 154.9Z" fill="#FFFFFF"/>
<path d="M189.0 133.4L190.0 133.7L190.0 134.5L189.7 134.0Z" fill="#008EA0"/>
<path d="M190.8 134.6L191.4 135.3L191.2 135.6Z" fill="#008EA0"/>
<path d="M193.9 140.5L195.0 140.2L194.7 140.6Z" fill="#008EA0"/>
<path d="M181.8 143.1L182.3 143.2L182.0 143.2Z" fill="#FFFFFF"/>
<path d="M319.8 173.9L320.3 174.0L320.0 174.5Z" fill="#FFFFFF"/>
<path d="M396.6 182.0L396.9 182.1L396.7 182.3Z" fill="#FFFFFF"/>
<path d="M424.8 167.2L425.2 167.7L425.0 168.3Z" fill="#FFFFFF"/>
<path d="M213.8 275.8L218.5 274.8L219.3 275.3L215.4 276.2Z" fill="#FFFFFF"/>
<path d="M237.4 272.7L239.0 272.7L238.2 273.0Z" fill="#FFFFFF"/>
<path d="M424.7 260.4L425.5 260.5L425.0 260.7Z" fill="#8A4198"/>
<path d="M314.8 262.6L315.1 262.6L314.9 262.8Z" fill="#008EA0"/>
<path d="M290.1 234.6L290.4 234.6L290.3 234.8Z" fill="#FFFFFF"/>
<path d="M300.5 200.3L300.8 200.3L300.7 200.4Z" fill="#FFFFFF"/>
<path d="M287.0 187.3L287.1 187.3L287.1 187.5Z" fill="#FFFFFF"/>
<path d="M187.9 64.3L191.1 64.0L192.6 65.1L189.5 65.6Z" fill="#8A4198"/>
<path d="M178.5 72.6L181.6 72.6L181.2 73.9L179.3 73.7Z" fill="#8A4198"/>
<path d="M183.2 73.6L184.8 73.6L184.8 74.9L183.5 74.7Z" fill="#8A4198"/>
<path d="M180.9 88.3L183.2 88.5L182.4 89.1Z" fill="#8A4198"/>
<path d="M184.0 83.0L185.6 83.0L185.1 84.1Z" fill="#8A4198"/>
<path d="M329.2 64.7L332.4 63.5L334.7 62.9L333.9 62.2L330.8 63.5Z" fill="#008EA0"/>
<path d="M336.3 62.4L337.9 61.7L337.1 61.6Z" fill="#008EA0"/>
<path d="M322.5 71.6L323.7 71.3L322.9 71.1Z" fill="#008EA0"/>
<path d="M344.0 79.7L346.2 79.6L345.4 80.5L344.0 80.4Z" fill="#8A4198"/>
<path d="M344.5 78.9L345.7 78.9L345.2 79.4Z" fill="#8A4198"/>
<path d="M335.3 83.3L336.4 81.7L335.7 83.3Z" fill="#008EA0"/>
<path d="M332.7 84.9L333.3 85.2L332.8 85.4Z" fill="#008EA0"/>
<path d="M325.0 84.6L326.6 84.6L326.4 85.2L325.3 85.2Z" fill="#008EA0"/>
<path d="M353.1 115.5L353.9 115.5L353.4 116.3Z" fill="#FFFFFF"/>
<path d="M350.3 110.8L351.4 110.8L350.9 111.3Z" fill="#FFFFFF"/>
<path d="M346.0 111.5L347.6 112.0L348.1 112.8L346.7 112.1Z" fill="#FFFFFF"/>
<path d="M298.3 80.1L299.9 79.9L299.2 80.9L298.0 81.3Z" fill="#FFFFFF"/>
<path d="M299.2 81.2L300.5 81.2L300.2 82.0Z" fill="#FFFFFF"/>
<path d="M304.4 78.8L305.5 78.8L304.9 79.2Z" fill="#FFFFFF"/>
<path d="M302.2 86.4L302.8 86.5L302.4 86.9Z" fill="#FFFFFF"/>
<path d="M191.8 246.6L193.7 246.6L193.4 249.0L191.5 249.0Z" fill="#008EA0"/>
<path d="M191.1 252.3L192.6 252.6L192.6 255.5L191.4 255.5Z" fill="#008EA0"/>
<path d="M191.8 256.3L193.7 256.8L194.2 259.6L192.2 259.2Z" fill="#008EA0"/>
<path d="M194.2 260.4L196.6 260.7L198.1 262.3L195.8 262.5L193.7 261.3Z" fill="#008EA0"/>
<path d="M199.7 263.6L203.6 263.6L204.1 264.2L201.3 264.7Z" fill="#008EA0"/>
<path d="M208.0 263.1L209.4 263.1L208.8 263.4Z" fill="#8A4198"/>
<path d="M195.0 47.8L202.8 45.7L210.7 42.5L223.2 41.2L239.0 40.5L257.8 39.1L270.4 40.8L278.2 42.5L290.8 42.5L282.9 44.9L281.3 47.3L279.8 49.8L280.6 52.2L278.2 54.6L275.1 57.0L275.1 60.3L270.4 61.9L267.2 63.5L259.4 64.3L254.7 66.8L249.9 68.2L246.8 69.2L245.2 71.6L242.9 74.9L241.3 77.3L239.0 77.3L234.2 75.7L231.1 73.2L228.7 70.8L226.4 67.6L225.6 64.3L229.5 61.9L224.0 60.3L223.2 57.0L220.1 53.8L215.4 51.4L206.0 51.4L199.7 50.6L198.1 48.9Z" fill="#8A4198"/>
<path d="M213.4 66.6L209.1 69.2L207.6 71.6L208.3 73.1L202.1 71.3L206.0 74.2L199.7 72.8L196.6 71.6L192.6 70.0L187.9 70.3L187.1 69.2L191.1 68.7L189.5 67.1L188.4 65.1L187.5 63.5L185.6 61.9L182.4 61.1L176.9 61.3L174.6 61.1L170.7 60.3L169.9 59.5L168.3 57.9L169.9 54.9L176.2 55.1L181.6 55.4L183.2 55.1L187.1 56.2L191.8 57.4L198.1 59.0L202.1 60.3L204.4 61.9L210.7 64.3Z" fill="#8A4198"/>
<path d="M387.0 193.9L388.6 199.6L387.3 202.0L386.2 206.1L385.0 210.9L383.7 214.7L381.0 215.8L378.7 214.7L377.7 210.9L379.2 206.9L378.7 203.7L379.5 200.9L382.3 199.9L385.0 196.4Z" fill="#C71000"/>
<path d="M488.1 210.9L489.4 209.3L492.8 207.9L496.4 206.9L499.6 206.1L501.5 203.7L501.6 202.0L503.5 202.5L504.3 200.9L505.9 198.8L508.2 197.2L510.6 198.5L512.9 198.6L513.7 195.6L515.0 194.6L517.6 192.8L518.4 193.5L522.3 193.9L524.7 194.3L523.1 196.4L522.3 198.8L524.7 200.4L527.8 202.5L530.7 202.8L531.8 199.6L532.1 195.6L532.5 192.3L533.3 191.8L534.9 194.8L535.4 197.7L537.7 198.8L538.5 202.0L539.3 205.3L542.7 207.2L544.3 210.1L546.4 212.1L548.2 214.2L550.1 216.6L550.6 220.2L549.8 224.7L548.6 227.5L547.0 229.6L545.4 232.8L544.9 235.2L542.0 235.9L539.3 237.8L536.5 236.5L534.9 237.4L531.0 236.4L528.9 234.4L528.6 232.5L526.6 232.2L527.0 230.9L525.9 231.5L525.8 228.0L523.1 230.9L521.9 230.4L520.3 228.0L517.6 226.3L515.3 225.5L512.1 225.9L507.4 226.8L504.3 228.0L503.5 229.4L499.6 229.3L497.2 230.2L494.9 231.2L491.7 231.0L490.2 230.1L491.1 227.2L491.2 226.0L490.2 223.1L488.9 219.1L487.5 216.6L488.3 213.4Z" fill="#8A4198"/>
<g clip-path="url(#c_namerica)">
<path d="M42.7 36.8L231.1 36.8L231.1 109.7L42.7 109.7Z" fill="#8A4198"/>
<path d="M121.2 121.0L160.5 121.0L176.2 132.4L176.2 144.5L171.0 144.5L169.7 145.3L169.7 145.7L166.7 145.7L166.7 146.6L167.7 148.4L165.6 148.6L164.8 149.9L164.8 151.0L163.6 153.4L121.2 142.1Z" fill="#8A4198"/>
<path d="M105.5 95.1L116.0 95.1L160.1 95.1L160.8 94.6L165.2 95.9L169.1 96.7L170.7 96.3L176.5 98.7L178.5 100.0L180.1 101.1L180.2 104.8L179.3 106.1L180.1 106.9L185.6 105.2L185.6 104.0L189.5 103.2L191.8 101.6L197.3 101.6L198.9 100.0L201.0 97.7L202.8 97.9L203.2 100.5L204.4 101.9L215.4 106.5L191.8 142.1L158.9 135.6L157.2 132.5L153.4 129.9L151.0 126.7L148.7 126.2L147.6 127.5L145.5 126.4L142.4 123.0L139.7 123.0L139.7 123.8L135.3 123.8L129.4 121.8L125.8 121.8L105.5 122.7Z" fill="#5A9599"/>
<path d="M88.2 57.9L88.2 76.8L91.4 77.3L93.7 78.9L96.9 77.8L100.0 79.7L102.4 82.2L105.5 83.8L105.5 85.9L97.7 88.6L34.9 93.5L34.9 57.9Z" fill="#5A9599"/>
<path d="M164.8 151.0L164.8 149.9L165.6 148.6L167.7 148.4L166.7 146.6L166.7 145.7L169.7 145.7L169.6 148.7L171.1 149.1L169.4 151.2L168.1 152.3L166.7 154.2L163.6 152.6Z" fill="#C71000"/>
<path d="M169.7 145.7L169.7 145.3L171.0 144.5L173.0 144.5L172.2 148.7L169.6 148.7Z" fill="#8A4198"/>
<path d="M169.4 151.2L171.1 149.1L171.4 147.0L179.3 147.0L180.1 150.2L176.9 150.7L175.1 152.0L173.5 153.0L172.5 153.4L171.9 153.0L171.4 152.0Z" fill="#C71000"/>
<path d="M168.1 152.3L169.4 151.2L171.4 152.0L171.9 153.0L171.4 154.2L167.5 153.8Z" fill="#C71000"/>
<path d="M171.9 153.0L172.5 153.4L173.5 153.0L175.1 152.0L176.9 150.7L180.1 150.2L180.1 156.8L178.2 156.8L176.6 156.7L175.1 156.5L173.8 157.5L170.7 154.2Z" fill="#C71000"/>
<path d="M175.1 156.5L176.6 156.7L178.2 156.8L180.1 156.8L180.1 158.9L179.4 159.1L179.4 161.4L179.3 162.3L173.8 159.1Z" fill="#008EA0"/>
<path d="M180.1 158.9L179.4 159.1L179.4 161.4L179.3 162.3L184.0 164.0L187.3 162.8L188.1 160.4L188.7 158.3L180.9 158.3Z" fill="#008EA0"/>
</g>
<path d="M45.8 68.2L49.0 67.3L52.9 67.4L55.6 66.9L52.1 65.1L47.7 63.9L49.0 62.9L53.7 61.9L59.2 60.0L63.9 59.0L71.0 59.8L77.2 60.5L83.5 61.1L88.2 61.7L94.5 62.9L99.2 61.9L107.1 61.1L108.6 60.3L113.4 62.1L119.6 61.4L125.9 62.7L129.1 64.5L136.9 64.7L140.0 64.0L144.8 64.3L151.0 64.8L155.7 63.9L158.9 64.7L159.7 62.7L158.4 59.5L160.5 58.0L163.6 59.5L165.2 61.1L167.5 63.0L171.4 65.1L173.8 64.3L175.4 61.9L177.7 61.4L180.9 62.2L182.0 64.3L180.9 66.8L176.2 67.3L173.0 69.2L169.9 70.8L166.7 71.1L163.6 73.2L161.2 75.7L161.2 79.2L164.4 82.2L169.9 82.5L176.2 84.9L180.1 85.1L180.9 88.6L183.2 91.4L185.6 91.1L185.6 87.0L188.7 83.8L189.5 81.3L186.4 79.2L187.9 77.3L187.1 73.4L193.4 73.6L199.7 75.7L199.7 79.2L203.6 80.1L207.6 76.8L212.3 81.3L215.4 85.4L220.1 87.8L222.2 90.3L220.1 91.2L215.4 93.2L209.1 93.2L204.4 94.3L199.7 97.5L203.6 95.4L208.3 94.8L208.3 96.7L207.6 99.2L209.1 100.0L213.0 100.3L215.4 99.2L213.8 101.3L209.1 102.7L206.0 104.0L206.0 102.4L208.3 101.1L204.4 101.6L204.4 102.2L199.7 104.0L198.6 105.6L199.7 106.9L196.6 107.8L193.4 108.7L193.4 110.5L191.4 112.1L190.3 114.6L191.1 117.3L187.9 119.1L184.8 121.0L182.4 123.0L181.8 125.1L183.7 130.8L183.7 133.5L182.4 133.8L180.9 131.6L179.8 129.1L178.5 126.4L176.9 125.9L174.6 125.4L171.4 125.4L169.1 125.6L169.6 127.4L166.7 127.0L162.8 126.4L160.5 127.2L157.3 129.1L156.8 132.4L156.2 136.4L156.1 138.4L158.1 142.9L160.5 144.4L162.0 145.0L165.2 144.4L166.7 143.7L167.5 140.8L168.3 140.2L173.0 139.7L173.0 142.1L171.9 144.9L171.1 146.2L170.2 148.6L171.4 148.9L174.6 148.7L177.7 148.9L179.0 150.2L178.3 153.4L178.2 156.7L179.3 158.3L180.9 159.9L184.0 159.6L185.6 159.1L188.1 160.4L187.3 162.8L186.4 160.9L184.8 160.1L183.5 162.7L181.3 162.0L179.3 161.1L178.2 160.6L176.2 158.3L174.9 156.8L172.2 153.6L171.8 153.0L169.1 152.6L165.9 151.8L164.7 151.0L162.0 148.4L160.5 148.4L158.1 149.1L154.2 147.6L150.2 145.8L147.1 144.9L144.0 142.1L144.3 139.7L142.6 136.9L140.0 134.0L137.8 131.2L136.1 129.3L133.8 127.5L132.2 124.3L129.5 123.1L129.5 125.9L132.2 129.1L134.5 132.4L136.4 135.3L137.7 137.1L136.4 136.4L133.8 134.3L133.3 132.1L130.6 130.4L129.1 129.5L130.3 128.0L128.0 125.9L126.5 123.0L125.8 121.8L123.7 119.4L120.3 118.6L118.2 115.2L117.3 113.3L115.2 110.5L114.3 109.1L114.6 106.5L114.8 103.2L114.9 99.7L113.8 96.1L117.3 96.7L116.5 95.1L114.9 93.5L110.2 91.9L108.6 89.4L105.5 86.2L103.9 84.6L100.8 82.2L97.7 79.7L94.5 79.7L89.8 77.8L83.5 77.3L80.4 75.7L76.5 77.3L71.7 78.4L72.5 75.7L68.6 78.1L67.8 79.7L63.9 82.2L60.8 83.8L56.8 85.1L52.9 85.7L55.3 84.3L57.6 83.8L61.5 81.3L62.6 79.4L60.0 79.6L55.3 79.4L55.3 77.3L50.5 76.3L49.0 74.5L50.5 73.1L51.3 72.1L56.8 71.6L56.8 70.0L53.7 70.0L49.0 70.0Z" fill="none"/>
<g clip-path="url(#c_samerica)">
<path d="M176.2 150.2L262.5 150.2L262.5 271.7L176.2 271.7Z" fill="#008EA0"/>
<path d="M204.1 211.4L205.5 209.8L207.2 210.3L208.6 211.4L211.2 210.5L213.0 212.2L215.4 213.4L217.8 214.7L219.2 216.0L217.6 218.7L220.9 219.1L222.0 218.9L223.9 216.0L225.1 217.8L224.0 219.1L222.0 220.3L219.2 223.4L218.5 225.5L218.2 228.0L217.9 229.6L221.7 232.8L223.2 268.5L184.0 268.5L184.0 211.4Z" fill="#8A4198"/>
<path d="M200.5 202.8L201.1 203.7L201.9 205.3L202.1 207.7L202.5 209.3L203.2 211.4L204.1 211.4L202.4 214.2L202.1 218.2L200.0 221.5L199.2 224.7L199.7 228.4L198.9 232.8L197.8 236.9L196.9 240.9L197.0 245.0L197.3 247.4L196.6 250.6L195.3 254.7L196.1 257.1L196.7 258.7L199.7 258.7L202.2 259.4L202.8 265.2L184.0 265.2L184.0 202.8Z" fill="#008EA0"/>
<path d="M225.8 229.1L226.1 227.5L224.8 226.2L223.2 225.2L221.7 224.6L219.2 223.4L218.5 225.5L218.2 228.0L217.9 229.6L218.5 232.8L226.4 232.8Z" fill="#5A9599"/>
<path d="M218.2 207.1L218.9 210.3L222.0 210.6L222.5 213.4L224.3 213.4L223.9 216.0L222.0 218.9L220.9 219.1L217.6 218.7L219.2 216.0L217.8 214.7L215.4 213.4L213.0 212.2L211.2 210.5L211.5 207.7L212.6 206.3L216.2 205.8Z" fill="#008EA0"/>
<path d="M200.5 192.3L202.8 191.8L205.2 190.5L207.1 190.4L207.2 193.1L210.7 194.9L213.0 196.4L214.6 196.9L215.1 200.7L217.9 200.9L218.2 202.8L219.2 203.7L218.5 206.6L218.2 207.1L216.2 205.8L212.6 206.3L211.5 207.7L211.2 210.5L208.6 211.4L207.2 210.3L205.5 209.8L204.1 211.4L203.2 211.4L202.5 209.3L202.1 207.7L201.9 205.3L201.1 203.7L200.5 202.8L200.3 202.5L201.0 200.7L200.5 199.6L201.3 198.0L201.6 194.8Z" fill="#FFFFFF"/>
<path d="M199.7 181.3L195.0 182.6L193.7 186.3L195.3 189.7L198.9 189.9L198.8 192.3L200.5 192.3L201.6 194.8L201.3 198.0L200.5 199.6L201.0 200.7L200.3 202.5L200.5 202.8L199.2 204.3L196.6 205.3L179.3 190.7L179.3 180.0L183.5 180.0L183.5 181.6L185.3 182.6L186.4 181.0L187.5 179.4L189.5 178.6L191.1 176.9L191.5 174.7L194.2 176.9L195.8 178.4L199.2 180.7Z" fill="#8A4198"/>
<path d="M185.9 172.2L187.9 173.7L191.1 174.5L191.5 174.7L191.1 176.9L189.5 178.6L187.5 179.4L186.4 181.0L185.3 182.6L183.5 181.6L183.5 180.0L179.3 180.0L179.3 171.3Z" fill="#5A9599"/>
<path d="M188.1 160.4L187.3 162.8L184.0 164.8L184.0 171.3L185.9 172.2L187.9 173.7L191.1 174.5L191.5 174.7L194.2 176.9L195.8 178.4L199.2 180.7L199.7 181.3L200.6 176.4L199.7 174.5L200.5 173.4L200.0 171.7L204.6 172.6L203.9 171.3L203.2 167.2L203.6 164.5L199.7 163.2L196.6 163.2L196.1 161.5L195.0 159.1L195.8 156.7L197.7 155.4L198.1 153.4L190.3 155.1Z" fill="#008EA0"/>
<path d="M197.7 155.4L195.8 156.7L195.0 159.1L196.1 161.5L196.6 163.2L199.7 163.2L203.6 164.5L203.2 167.2L203.9 171.3L204.6 172.6L206.8 173.2L209.9 171.3L209.1 170.4L209.1 168.0L212.3 168.0L214.3 166.1L213.4 163.2L215.4 160.7L217.0 158.3L212.3 153.4L198.1 153.4Z" fill="#8A4198"/>
<path d="M215.4 160.7L213.4 163.2L214.3 166.1L215.2 166.1L215.7 168.0L215.9 171.6L218.5 172.1L220.9 171.4L219.6 169.2L218.5 168.0L219.6 166.4L220.0 164.9L220.1 162.3L217.0 159.1Z" fill="#008EA0"/>
<path d="M220.0 164.9L219.6 166.4L218.5 168.0L219.6 169.2L220.9 171.4L221.7 171.4L223.9 170.8L224.8 168.8L224.0 167.2L224.8 165.1L224.8 162.3L220.1 162.3Z" fill="#008EA0"/>
<path d="M224.8 165.1L224.0 167.2L224.8 168.8L223.9 170.8L227.2 170.4L228.6 167.7L231.1 166.4L224.8 162.3Z" fill="#FFFFFF"/>
</g>
<path d="M188.1 160.4L190.3 159.1L191.1 157.3L192.2 156.7L195.0 155.9L197.3 154.4L197.7 156.7L197.0 158.3L199.7 155.9L199.7 154.7L202.1 157.0L206.0 157.3L209.1 157.8L212.3 157.2L212.6 158.3L213.8 160.7L215.7 161.1L217.8 163.2L220.1 164.8L223.2 164.8L224.8 165.1L228.0 166.7L229.5 168.0L231.1 171.6L231.1 174.5L233.5 175.3L234.2 175.6L237.4 176.1L239.7 178.6L243.7 179.0L246.8 179.0L249.2 180.5L251.5 182.3L254.2 182.9L255.0 185.8L254.7 189.1L251.5 192.3L249.2 195.6L248.4 198.8L248.4 202.8L246.8 206.9L245.2 210.1L243.7 211.8L239.7 212.1L236.6 213.4L233.5 216.6L233.1 220.7L230.3 224.7L228.0 227.2L225.6 229.6L223.4 231.2L221.4 231.0L218.1 229.6L219.8 232.0L220.1 233.6L219.3 236.1L217.0 237.4L212.3 237.7L211.8 240.4L207.6 240.9L209.7 243.4L207.1 245.0L206.8 247.4L203.6 249.0L206.0 251.4L206.3 252.3L203.6 254.7L201.3 256.3L202.2 259.2L198.1 261.7L196.6 261.2L194.2 259.6L191.8 257.1L191.1 253.9L190.9 250.6L193.4 248.2L193.9 245.0L193.7 241.7L194.2 238.5L194.2 234.8L195.8 232.0L197.2 228.0L197.3 223.1L197.7 219.9L198.8 215.8L199.1 212.6L199.4 208.5L199.2 204.3L197.3 202.5L194.2 200.7L191.1 198.3L189.7 196.4L188.4 193.9L186.4 189.9L184.3 185.8L182.0 184.2L182.0 181.8L183.5 180.0L184.0 178.6L182.4 178.1L182.7 176.1L184.0 173.7L185.6 172.1L185.9 170.9L187.9 170.3L188.2 168.0L187.9 165.6L188.1 163.2L187.3 162.8Z" fill="none"/>
<g clip-path="url(#c_africa)">
<path d="M278.2 109.7L395.9 109.7L395.9 239.3L278.2 239.3Z" fill="#C71000"/>
<path d="M299.4 115.4L306.1 116.2L306.1 117.6L306.9 119.4L307.7 121.8L304.9 123.0L303.9 124.4L301.8 125.9L299.4 126.5L295.9 128.0L295.9 129.6L288.9 129.6L286.1 127.5L292.3 122.7L293.9 118.6Z" fill="#008EA0"/>
<path d="M295.9 129.6L295.9 132.4L290.8 132.4L290.8 136.4L289.2 137.2L289.2 140.0L282.9 140.0L279.8 140.0L279.8 135.6L286.1 129.1L288.9 129.6Z" fill="#008EA0"/>
<path d="M306.1 116.2L306.1 117.6L306.9 119.4L307.7 121.8L304.9 123.0L303.9 124.4L301.8 125.9L299.4 126.5L295.9 128.0L295.9 130.3L302.1 134.0L311.5 140.3L311.5 141.0L314.6 143.6L316.2 143.4L319.0 142.9L321.4 140.8L328.4 136.4L325.3 134.8L324.5 131.9L325.1 129.1L324.5 125.6L323.7 122.7L321.5 120.7L322.6 117.8L323.1 114.7L323.1 112.9L309.6 112.9Z" fill="#008EA0"/>
<path d="M323.1 112.9L323.1 114.7L322.6 117.8L321.5 120.7L323.7 122.7L324.5 125.6L325.8 124.4L325.8 123.0L327.7 121.8L327.7 120.7L329.2 119.4L328.4 112.9Z" fill="#8A4198"/>
<path d="M327.7 120.2L327.7 121.8L325.8 123.0L325.8 124.4L324.5 125.6L325.1 129.1L324.5 131.9L325.3 134.8L328.4 136.4L331.9 137.9L333.2 137.2L347.3 142.9L347.3 142.1L348.9 142.1L348.9 138.9L348.9 120.2Z" fill="#FF95A8"/>
<path d="M348.9 120.2L348.9 138.9L367.5 138.9L369.3 135.6L366.1 125.9L364.4 126.7L363.3 123.8L363.0 120.2Z" fill="#008EA0"/>
<path d="M286.5 140.0L289.2 140.0L289.2 137.2L288.2 135.1L287.0 136.3Z" fill="#FFFFFF"/>
<path d="M279.8 140.0L289.2 140.0L289.2 137.2L290.8 136.4L290.8 132.4L295.9 132.4L295.9 130.3L302.1 134.0L299.4 134.0L301.0 147.8L301.3 148.1L300.8 149.4L295.0 149.4L292.8 149.6L291.5 149.2L290.4 150.5L289.2 149.4L286.8 147.6L283.7 148.6L279.8 148.6Z" fill="#C71000"/>
<path d="M302.1 134.0L311.5 140.3L311.5 141.0L314.6 143.6L316.2 143.4L316.2 147.3L315.1 149.6L311.0 150.4L308.8 150.2L306.5 151.5L304.9 152.3L303.3 153.0L302.5 154.2L301.3 155.4L301.0 157.7L299.9 157.3L297.0 158.0L296.6 156.7L295.5 154.4L293.1 155.1L291.7 154.4L291.7 153.4L290.4 150.5L291.5 149.2L292.8 149.6L295.0 149.4L300.8 149.4L301.3 148.1L301.0 147.8L299.4 134.0Z" fill="#FF6F00"/>
<path d="M279.8 148.6L283.7 148.6L286.8 147.6L289.2 149.4L290.4 150.5L291.7 153.4L291.7 154.4L288.1 154.1L286.1 153.9L283.4 154.4L279.8 154.4Z" fill="#C71000"/>
<path d="M279.8 152.1L286.1 152.1L287.9 152.6L286.1 153.1L279.8 153.1Z" fill="#C71000"/>
<path d="M283.4 154.4L286.1 153.9L288.1 154.1L288.1 155.5L286.1 156.7L282.9 157.5L281.3 154.4Z" fill="#C71000"/>
<path d="M286.1 156.7L288.1 155.5L288.1 154.1L291.7 154.4L293.1 155.1L295.5 154.4L296.6 156.7L297.0 158.0L297.7 159.9L296.6 162.2L294.8 162.5L294.8 160.9L293.4 160.7L293.0 159.8L292.0 158.3L290.0 158.5L288.7 159.9L286.1 160.7L283.7 157.5Z" fill="#FF6F00"/>
<path d="M288.7 159.9L290.0 158.5L292.0 158.3L293.0 159.8L293.4 160.7L291.5 163.3L290.0 164.8L286.8 160.7Z" fill="#C71000"/>
<path d="M291.5 163.3L293.4 160.7L294.8 160.9L294.8 162.5L296.6 162.2L296.3 164.0L297.8 165.1L297.8 167.4L297.8 168.8L290.8 165.6Z" fill="#008EA0"/>
<path d="M297.8 168.8L297.8 167.4L297.8 165.1L296.3 164.0L296.6 162.2L297.7 159.9L297.0 158.0L299.9 157.3L301.0 157.7L302.2 158.8L304.9 158.5L305.4 159.3L305.2 161.9L304.6 163.5L305.2 166.2L305.2 168.8Z" fill="#FFFFFF"/>
<path d="M301.0 157.7L301.3 155.4L302.5 154.2L303.3 153.0L304.9 152.3L306.5 151.5L308.8 150.2L309.9 150.4L310.2 151.8L311.2 152.8L311.2 153.8L313.1 154.4L313.4 155.2L311.8 156.0L311.0 156.7L309.4 156.5L305.2 156.7L305.2 158.8L304.9 158.5L302.2 158.8Z" fill="#FF6F00"/>
<path d="M305.2 168.8L305.2 166.2L304.6 163.5L305.2 161.9L305.4 159.3L305.2 158.8L305.2 156.7L309.4 156.5L310.1 157.8L310.4 160.2L310.5 162.5L310.4 163.5L311.5 164.6L311.5 168.0Z" fill="#C71000"/>
<path d="M311.5 168.0L311.5 164.6L310.4 163.5L310.5 162.5L310.4 160.2L310.1 157.8L309.4 156.5L311.0 156.7L310.9 157.8L312.1 159.9L312.1 164.5L312.1 168.0Z" fill="#C71000"/>
<path d="M312.1 168.0L312.1 164.5L312.1 159.9L310.9 157.8L311.0 156.7L311.8 156.0L313.4 155.2L314.0 154.4L315.3 155.5L315.6 157.5L314.0 159.9L313.8 164.1L313.8 168.0Z" fill="#C71000"/>
<path d="M313.8 168.0L313.8 164.1L314.0 159.9L315.6 157.5L315.3 155.5L315.9 152.6L318.2 152.0L320.6 153.4L323.7 153.8L325.3 153.0L328.4 153.1L331.0 152.3L331.9 154.2L332.5 155.9L331.3 156.7L330.3 159.1L328.8 160.7L328.1 163.2L326.9 163.8L325.6 163.2L324.2 164.0L323.1 166.7L323.1 169.6Z" fill="#C71000"/>
<path d="M316.2 143.4L319.0 142.9L321.4 140.8L328.4 136.4L331.9 137.9L333.2 137.2L334.7 141.6L334.1 145.3L333.9 147.1L331.0 152.3L328.4 153.1L325.3 153.0L323.7 153.8L320.6 153.4L318.2 152.0L315.9 152.6L315.3 155.5L314.0 154.4L313.1 154.4L311.2 153.8L311.2 152.8L310.2 151.8L309.9 150.4L311.0 150.4L315.1 149.6L316.2 147.3Z" fill="#FF6F00"/>
<path d="M333.2 137.2L347.3 142.9L347.3 149.1L345.6 149.4L344.8 151.8L344.1 153.9L345.6 156.0L344.9 156.8L343.7 157.3L341.6 159.8L339.4 159.9L339.3 160.6L336.3 162.0L333.9 162.3L333.3 160.7L331.6 158.6L333.9 158.3L333.2 156.7L333.2 154.9L332.5 153.9L331.9 154.2L331.0 152.3L333.9 147.1L334.1 145.3L334.7 141.6Z" fill="#FF6F00"/>
<path d="M348.9 138.9L348.9 142.1L347.3 142.1L347.3 149.1L345.6 149.4L344.8 151.8L344.1 153.9L345.6 156.0L344.9 156.8L346.8 158.8L346.5 160.1L348.5 160.2L349.6 157.8L352.0 158.9L353.6 159.3L355.9 158.3L358.0 158.8L360.3 155.5L361.7 154.7L361.4 157.0L363.0 159.1L363.5 157.5L364.6 156.7L365.3 154.2L366.4 153.4L366.9 151.3L367.7 147.0L370.0 145.3L372.4 142.1L367.5 138.9Z" fill="#C71000"/>
<path d="M346.5 160.1L348.5 160.2L349.6 157.8L352.0 158.9L353.6 159.3L355.9 158.3L358.0 158.8L360.3 155.5L361.7 154.7L361.4 157.0L363.0 159.1L361.4 161.7L362.7 160.9L364.1 163.6L365.8 165.9L366.0 167.0L363.0 167.7L362.2 168.3L359.8 168.7L358.1 168.8L355.9 167.2L354.2 167.5L352.6 166.1L351.0 164.0L349.2 162.3L348.1 161.2Z" fill="#C71000"/>
<path d="M366.9 151.3L368.5 151.5L370.0 151.0L372.4 151.0L374.0 152.6L376.2 154.2L375.2 155.9L375.2 156.7L377.0 156.8L377.9 159.3L380.2 160.4L383.4 161.5L385.0 161.5L380.2 166.4L377.9 166.6L375.5 167.9L374.0 168.2L371.6 168.8L369.3 168.7L367.5 167.4L366.0 167.0L365.8 165.9L364.1 163.6L362.7 160.9L361.4 161.7L363.0 159.1L363.5 157.5L364.6 156.7L365.3 154.2L366.4 153.4Z" fill="#C71000"/>
<path d="M370.0 145.3L367.7 147.0L366.9 151.3L368.5 151.5L370.0 151.0L372.4 151.0L374.0 152.6L376.2 154.2L377.3 153.9L378.7 153.4L372.4 143.7Z" fill="#C71000"/>
<path d="M377.3 153.9L376.2 154.2L375.2 155.9L375.2 156.7L377.0 156.8L377.6 155.9L378.7 155.1Z" fill="#C71000"/>
<path d="M377.0 156.8L377.9 159.3L380.2 160.4L383.4 161.5L385.0 161.5L380.2 166.4L377.9 166.6L375.5 167.9L374.0 168.2L374.0 175.8L374.9 177.3L375.5 179.4L392.8 166.4L392.8 153.4L378.7 155.1L377.6 155.9Z" fill="#C71000"/>
<path d="M374.9 177.3L374.0 175.8L374.0 168.2L371.6 168.8L369.3 168.7L367.5 167.4L366.0 167.0L363.0 167.7L363.8 169.6L364.6 171.7L363.1 173.9L362.8 176.1L368.6 179.4L368.8 180.2L371.1 182.1L373.2 183.4L376.3 178.6Z" fill="#C71000"/>
<path d="M358.1 168.8L359.8 168.7L362.2 168.3L363.0 167.7L363.8 169.6L364.6 171.7L363.1 173.9L362.8 176.1L357.5 176.1L356.1 176.8L356.1 175.3L356.2 173.4L358.6 170.9L358.0 170.6Z" fill="#8A4198"/>
<path d="M362.8 176.1L368.6 179.4L368.8 180.2L371.1 182.1L374.0 182.6L374.8 191.5L373.2 191.5L369.3 192.8L366.1 193.3L364.4 193.1L363.8 190.7L362.2 189.9L360.6 189.4L358.3 188.4L357.8 187.9L355.9 185.0L355.6 181.8L356.7 181.5L358.0 179.8L357.5 178.4L358.0 177.3L357.5 176.1Z" fill="#008EA0"/>
<path d="M355.1 178.9L356.1 176.8L357.5 176.1L358.0 177.3L357.5 178.4L356.4 179.0Z" fill="#C71000"/>
<path d="M355.1 178.9L356.4 179.0L357.5 178.4L358.0 179.8L356.7 181.5L355.6 181.8Z" fill="#C71000"/>
<path d="M323.1 169.6L323.1 166.7L324.2 164.0L325.6 163.2L326.9 163.8L328.1 163.2L328.8 160.7L330.3 159.1L331.3 156.7L332.5 155.9L331.9 154.2L332.5 153.9L333.2 154.9L333.2 156.7L333.9 158.3L331.6 158.6L333.3 160.7L333.9 162.3L332.4 164.8L332.7 167.0L334.4 169.6L334.9 170.9L334.9 171.7L332.4 170.9L330.5 170.9L327.3 170.9L325.0 170.8L322.9 170.8Z" fill="#008EA0"/>
<path d="M333.9 162.3L336.3 162.0L339.3 160.6L339.4 159.9L341.6 159.8L343.7 157.3L344.9 156.8L346.8 158.8L346.5 160.1L348.1 161.2L349.2 162.3L351.0 164.0L352.6 166.1L349.6 166.1L348.1 166.4L344.9 167.9L341.8 167.4L340.2 166.2L338.8 167.5L338.8 168.8L337.1 168.7L335.5 169.2L334.9 170.9L334.4 169.6L332.7 167.0L332.4 164.8Z" fill="#C71000"/>
<path d="M322.9 170.8L325.0 170.8L327.3 170.9L327.3 172.9L324.7 172.9L322.9 172.9Z" fill="#8A4198"/>
<path d="M322.2 172.9L324.7 172.9L327.3 172.9L327.3 170.9L330.5 170.9L330.3 172.4L331.9 172.2L332.4 173.7L331.4 174.5L332.2 175.3L332.2 177.6L331.7 178.4L330.0 178.2L329.2 177.7L327.8 178.4L328.3 180.2L327.0 180.8L325.3 181.8L322.2 176.1Z" fill="#8A4198"/>
<path d="M325.3 181.8L327.0 180.8L328.3 180.2L327.8 178.4L329.2 177.7L330.0 178.2L331.7 178.4L332.2 177.6L332.2 175.3L331.4 174.5L332.4 173.7L331.9 172.2L330.3 172.4L330.5 170.9L332.4 170.9L334.9 171.7L334.9 170.9L335.5 169.2L337.1 168.7L338.8 168.8L338.0 170.8L337.5 173.7L337.4 175.3L336.0 176.4L335.0 178.1L334.7 180.2L333.5 181.5L332.2 182.4L330.8 182.3L330.0 182.0L329.4 181.6L328.8 182.6L326.9 183.4Z" fill="#C71000"/>
<path d="M326.9 183.9L328.9 184.2L330.3 184.1L335.7 184.1L337.1 187.6L340.1 187.5L340.2 185.8L343.8 186.3L343.8 189.9L344.6 192.6L347.1 192.2L347.8 192.8L349.3 192.6L349.5 193.6L352.3 193.3L354.2 194.8L355.1 196.2L356.4 196.2L356.4 194.3L354.2 193.6L354.5 189.9L355.0 188.3L357.8 187.9L355.9 185.0L355.6 181.8L355.1 178.9L356.1 176.8L356.1 175.3L356.2 173.4L358.6 170.9L358.0 170.6L358.1 168.8L355.9 167.2L354.2 167.5L352.6 166.1L349.6 166.1L348.1 166.4L344.9 167.9L341.8 167.4L340.2 166.2L338.8 167.5L338.8 168.8L338.0 170.8L337.5 173.7L337.4 175.3L336.0 176.4L335.0 178.1L334.7 180.2L333.5 181.5L332.2 182.4L330.8 182.3L330.0 182.0L329.4 182.9L328.8 183.9Z" fill="#FFFFFF"/>
<path d="M326.9 202.4L328.1 202.4L330.0 202.0L331.6 202.7L338.6 202.7L342.6 203.7L346.3 203.0L344.1 200.7L344.1 195.6L347.3 195.6L347.1 192.2L344.6 192.6L343.8 189.9L343.8 186.3L340.2 185.8L340.1 187.5L337.1 187.6L335.7 184.1L330.3 184.1L328.9 184.2L326.9 184.2Z" fill="#C71000"/>
<path d="M326.9 183.9L328.8 183.9L329.4 182.9L330.0 182.0L329.4 181.6L328.8 182.6L326.9 182.9Z" fill="#C71000"/>
<path d="M347.1 192.2L347.8 192.8L349.3 192.6L349.5 193.6L352.3 193.3L354.2 194.8L355.1 196.2L356.4 196.2L356.4 194.3L354.2 193.6L354.5 189.9L355.0 188.3L357.8 187.9L358.3 188.4L360.6 189.4L362.2 189.9L361.9 192.0L361.4 194.8L360.9 196.4L361.7 197.2L357.0 198.5L357.3 199.8L355.0 200.4L352.0 203.7L349.3 203.3L346.3 203.0L344.1 200.7L344.1 195.6L347.3 195.6Z" fill="#8A4198"/>
<path d="M362.2 189.9L363.8 190.7L364.4 193.1L363.9 194.8L364.6 196.4L365.8 198.0L365.8 200.4L365.0 202.2L363.5 200.4L363.8 198.8L361.7 197.2L360.9 196.4L361.4 194.8L361.9 192.0Z" fill="#FF6348"/>
<path d="M374.8 191.5L373.2 191.5L369.3 192.8L366.1 193.3L364.4 193.1L363.9 194.8L364.6 196.4L365.8 198.0L365.8 200.4L365.0 202.2L363.5 200.4L363.8 198.8L361.7 197.2L357.0 198.5L357.3 199.8L359.8 201.2L361.4 202.0L361.1 205.3L360.6 209.0L358.7 210.8L359.8 214.2L359.8 216.5L360.0 217.9L361.3 218.1L363.0 218.2L367.7 213.4L375.5 198.8Z" fill="#C71000"/>
<path d="M349.3 203.3L352.0 203.7L355.0 200.4L357.3 199.8L359.8 201.2L361.4 202.0L361.1 205.3L360.6 209.0L358.7 210.8L355.8 210.5L353.6 209.5L353.1 207.7L350.7 206.1Z" fill="#84D7E1"/>
<path d="M349.3 203.3L350.7 206.1L353.1 207.7L353.6 209.5L355.8 210.5L353.6 211.4L352.0 212.7L350.3 214.5L349.6 216.1L345.7 215.5L343.7 217.9L342.1 218.1L341.0 214.7L341.0 210.1L342.6 210.1L342.6 204.1L346.2 203.7L348.1 203.7Z" fill="#008EA0"/>
<path d="M326.9 202.4L328.1 202.4L330.0 202.0L331.6 202.7L338.6 202.7L342.6 203.7L346.3 203.0L349.3 203.3L348.1 203.7L346.2 203.7L342.6 204.1L342.6 210.1L341.0 210.1L341.0 214.7L341.0 220.5L339.4 221.3L337.1 221.0L335.5 220.8L333.2 221.5L328.4 210.1Z" fill="#8A4198"/>
<path d="M333.2 221.5L335.5 220.8L337.1 221.0L339.4 221.3L341.0 220.5L341.0 214.7L342.1 218.1L343.7 217.9L345.7 215.5L349.6 216.1L350.3 214.5L352.0 212.7L353.6 211.4L355.8 210.5L358.7 210.8L359.8 214.2L359.8 216.5L358.7 216.3L358.0 217.9L358.7 218.7L360.0 217.9L361.3 218.1L363.0 218.2L361.4 232.8L336.3 232.8Z" fill="#5A9599"/>
<path d="M352.0 222.5L353.6 221.2L354.8 221.0L355.8 222.3L355.1 223.4L353.9 224.1L352.5 223.6Z" fill="#5A9599"/>
<path d="M359.8 216.5L358.7 216.3L358.0 217.9L358.7 218.7L360.0 217.9Z" fill="#5A9599"/>
</g>
<path d="M300.3 116.5L301.3 116.3L304.9 117.3L306.5 117.6L309.6 116.5L312.0 115.4L314.3 114.9L317.4 114.9L321.4 114.6L325.0 114.1L326.9 114.6L326.1 115.4L326.2 117.0L326.9 118.6L325.3 119.4L326.9 120.7L329.2 121.2L330.3 121.2L333.5 122.2L333.9 123.5L337.1 124.4L339.4 125.4L341.0 124.3L341.0 122.2L343.4 121.2L345.7 121.7L348.9 123.1L352.0 123.8L355.1 124.4L356.7 123.8L358.3 123.3L360.3 124.0L363.3 123.8L364.4 126.7L363.5 129.1L363.3 129.6L362.2 128.7L360.8 126.1L360.6 126.7L361.4 128.3L362.7 130.4L363.8 132.4L365.3 135.6L365.5 136.4L367.5 138.9L368.0 140.5L368.0 142.9L370.0 145.3L371.6 149.2L374.0 151.0L376.3 153.4L377.6 154.2L377.1 155.9L378.7 157.5L381.8 157.0L385.0 156.4L388.1 155.9L390.1 155.2L389.8 157.5L389.4 159.9L387.3 163.2L385.7 166.4L383.4 169.6L381.8 171.3L380.7 171.3L378.7 172.9L376.3 175.3L374.9 177.3L372.7 178.9L371.9 181.0L371.1 182.6L370.5 185.0L371.6 187.5L372.1 190.7L373.2 191.5L373.3 194.8L373.7 198.0L373.2 200.4L370.8 202.0L367.7 203.7L366.1 205.3L364.6 206.9L364.1 208.5L365.3 210.1L365.3 213.4L361.4 215.5L361.3 216.6L361.3 218.2L360.6 220.7L358.3 223.1L356.7 225.2L354.3 227.5L352.8 228.4L349.9 229.6L347.3 229.7L344.1 229.9L341.0 230.9L338.6 230.1L338.3 227.6L338.2 225.9L336.8 223.1L335.5 220.8L333.5 218.2L333.2 215.0L332.4 211.6L330.8 208.5L329.2 204.5L328.1 202.4L328.1 200.4L328.9 198.0L330.6 194.8L331.3 192.3L330.3 189.1L329.7 185.8L328.9 184.2L328.8 182.6L328.1 181.8L326.9 180.7L325.0 178.6L323.7 176.1L324.2 173.7L324.7 172.9L325.0 170.8L324.8 168.8L324.5 168.0L322.9 167.2L320.6 167.4L319.0 167.5L318.2 165.6L316.7 164.3L314.9 164.1L312.7 164.3L311.5 164.6L309.6 165.3L306.5 166.7L304.9 166.2L303.3 165.9L300.2 166.6L297.8 167.4L295.5 166.4L292.6 164.3L291.5 163.3L290.0 162.3L288.9 160.7L288.7 159.1L286.8 157.5L286.1 156.7L284.5 155.1L283.4 154.4L283.2 152.6L282.1 150.7L283.7 148.6L283.7 145.3L284.2 142.9L282.9 140.5L284.5 136.1L286.8 132.4L289.2 129.6L292.3 127.8L293.9 126.7L294.4 125.1L294.2 123.5L295.2 121.8L297.7 120.1L298.9 119.4Z" fill="none"/>
<g clip-path="url(#c_eurasia)">
<path d="M286.1 36.8L615.8 36.8L615.8 174.5L286.1 174.5Z" fill="#008EA0"/>
<path d="M446.7 95.0L447.4 94.8L452.5 101.3L459.5 102.9L460.9 105.3L468.2 105.5L474.5 107.1L479.2 105.8L485.1 103.7L485.3 101.6L488.6 101.6L491.7 99.2L497.7 98.8L494.5 97.2L490.9 96.9L492.8 93.8L496.9 93.0L499.3 90.3L498.8 88.3L503.5 87.8L507.4 89.1L509.8 93.5L515.0 95.4L521.5 96.1L518.7 101.6L515.3 101.6L515.6 104.8L514.6 105.8L513.4 104.8L510.6 106.5L508.7 106.9L504.8 109.9L504.3 112.9L509.0 125.9L502.7 138.9L485.4 143.7L479.2 139.7L477.0 138.9L477.1 137.6L474.9 136.8L472.6 137.7L470.1 138.2L469.3 138.2L468.3 139.3L465.3 138.5L464.7 135.6L462.8 134.8L464.2 132.7L464.6 129.9L462.4 128.7L460.3 126.9L457.2 127.5L454.2 129.5L451.7 128.8L450.1 128.8L449.0 129.1L447.9 129.3L444.6 129.1L441.5 127.2L438.3 125.4L436.8 125.6L433.6 124.3L432.8 121.7L433.6 118.9L431.7 117.0L428.9 116.2L427.2 114.1L427.4 112.1L425.5 110.5L425.8 109.5L429.7 108.9L432.8 107.6L435.5 106.1L435.5 105.2L436.0 101.8L438.8 100.8L439.9 98.0L443.8 98.2L444.1 96.1Z" fill="#C71000"/>
<path d="M447.4 94.8L452.5 101.3L459.5 102.9L460.9 105.3L468.2 105.5L474.5 107.1L479.2 105.8L485.1 103.7L485.3 101.6L488.6 101.6L491.7 99.2L497.7 98.8L494.5 97.2L490.9 96.9L492.8 93.8L488.6 93.2L483.9 94.6L479.2 94.3L476.8 93.0L470.1 92.7L469.7 91.2L463.9 90.6L462.7 93.8L454.0 92.4Z" fill="#C71000"/>
<path d="M504.8 109.9L508.7 106.9L510.6 106.5L513.4 104.8L514.6 105.8L516.1 106.5L513.7 111.3L511.2 112.0L508.5 113.3L505.9 113.4L504.3 112.9Z" fill="#FF6F00"/>
<path d="M511.2 112.0L508.5 113.3L505.9 113.4L505.9 119.4L513.7 119.4L514.5 112.9Z" fill="#C71000"/>
<path d="M382.6 95.9L383.4 94.3L385.7 93.5L388.9 90.7L392.8 91.4L395.9 92.4L400.7 91.9L405.4 92.2L403.8 90.3L405.4 87.0L411.7 86.4L417.9 84.9L421.1 86.7L425.0 87.3L429.7 86.7L435.2 91.9L439.9 91.9L443.8 94.1L446.7 95.0L444.1 96.1L443.8 98.2L439.9 98.0L438.8 100.8L436.0 101.8L435.5 105.2L435.5 106.1L433.6 105.2L427.4 105.0L425.0 105.6L421.1 106.0L419.5 108.1L416.4 108.1L414.0 106.5L413.2 104.8L411.5 103.7L406.9 104.0L405.4 102.6L401.4 100.8L397.5 101.6L397.5 107.6L395.6 106.5L392.8 106.5L392.0 106.8L389.7 104.8L388.1 101.6L386.5 99.5L385.7 99.0L383.4 96.7Z" fill="#C71000"/>
<path d="M397.5 107.6L397.5 101.6L401.4 100.8L405.4 102.6L406.9 104.0L411.5 103.7L413.2 104.8L414.0 106.5L416.4 108.1L419.5 108.1L421.1 106.0L422.6 107.3L424.2 108.4L422.2 109.4L420.3 108.4L420.3 109.4L417.9 109.4L417.1 110.5L415.6 110.8L416.4 112.9L416.0 114.2L414.0 113.9L411.7 112.1L407.7 109.7L406.8 107.8L403.8 106.8L403.8 106.1L401.4 105.3L399.1 107.6Z" fill="#C71000"/>
<path d="M392.0 106.8L392.8 106.5L395.6 106.5L397.5 107.6L399.1 107.6L401.4 105.3L403.8 106.1L403.8 106.8L406.8 107.8L407.7 109.7L411.7 112.1L414.0 113.9L410.9 115.7L408.5 116.5L405.7 116.8L405.4 115.2L402.7 113.8L399.6 112.6L396.7 112.9L394.4 114.1L394.2 114.1L391.2 113.8L389.7 109.7Z" fill="#FF6F00"/>
<path d="M420.3 107.3L421.1 106.0L425.0 105.6L427.4 105.0L433.6 105.2L435.5 106.1L432.8 107.6L429.7 108.9L425.8 109.5L425.5 110.5L421.9 110.5L418.7 110.3L420.3 109.4L422.2 109.4L424.2 108.4L422.6 107.3L421.1 106.0Z" fill="#FFFFFF"/>
<path d="M416.0 114.2L416.4 112.9L415.6 110.8L417.1 110.5L417.9 109.4L420.3 109.4L420.3 108.4L420.3 109.4L418.7 110.3L421.9 110.5L425.5 110.5L427.4 112.1L427.2 114.1L424.2 114.1L421.9 114.9L421.9 112.9L419.8 113.6L418.7 114.2Z" fill="#C71000"/>
<path d="M405.7 116.8L408.5 116.5L410.9 115.7L414.0 113.9L416.0 114.2L418.7 114.2L419.8 113.6L421.9 112.9L421.9 114.9L424.2 114.1L427.2 114.1L425.0 114.7L421.9 115.7L421.4 118.3L419.5 119.4L418.7 121.0L418.4 122.8L415.6 123.8L413.8 124.4L413.5 126.2L407.7 126.9L405.2 126.2L406.6 124.3L405.1 123.5L404.7 120.2Z" fill="#008EA0"/>
<path d="M431.7 117.0L433.6 118.9L432.8 121.7L433.6 124.3L436.8 125.6L435.4 125.6L435.4 127.8L440.4 130.1L443.1 131.4L447.9 131.7L447.9 129.3L449.0 129.1L449.3 130.3L449.3 131.1L454.0 131.1L454.2 129.5L457.2 127.5L460.3 126.9L462.4 128.7L460.6 130.4L458.9 131.6L458.1 133.8L457.2 135.8L456.1 135.6L456.2 138.1L455.0 139.0L454.5 136.1L453.3 137.2L452.8 135.6L454.4 135.1L454.7 134.0L450.6 133.5L450.6 132.5L448.5 131.7L447.9 132.7L448.1 134.8L449.2 136.9L449.0 138.1L449.3 139.2L449.3 142.1L438.3 166.4L419.5 166.4L413.2 138.9L416.7 136.1L417.6 135.1L421.1 135.0L420.0 132.9L419.5 131.4L421.1 129.5L424.2 126.7L426.6 124.3L427.8 122.2L425.8 121.0L425.8 118.3L430.5 117.8Z" fill="#FF6F00"/>
<path d="M406.3 133.7L406.5 131.9L408.8 131.1L409.0 130.4L408.2 128.7L405.2 126.2L407.7 126.9L413.5 126.2L413.8 124.4L415.6 123.8L418.4 122.8L418.7 121.0L419.5 119.4L421.4 118.3L421.9 115.7L425.0 114.7L427.2 114.1L428.9 116.2L431.7 117.0L430.5 117.8L425.8 118.3L425.8 121.0L427.8 122.2L426.6 124.3L424.2 126.7L421.1 129.5L419.5 131.4L420.0 132.9L421.1 135.0L417.6 135.1L416.7 136.1L413.2 138.9L406.3 137.2Z" fill="#008EA0"/>
<path d="M435.4 125.6L436.8 125.6L438.3 125.4L441.5 127.2L444.6 129.1L447.9 129.3L447.9 131.7L443.1 131.4L440.4 130.1L435.4 127.8Z" fill="#FF6F00"/>
<path d="M449.3 130.3L449.3 131.1L454.0 131.1L454.2 129.5L451.7 128.8L450.1 128.8Z" fill="#FF6F00"/>
<path d="M449.3 142.1L449.3 139.2L449.0 138.1L449.2 136.9L448.1 134.8L447.9 132.7L448.5 131.7L450.6 132.5L450.6 133.5L454.7 134.0L454.4 135.1L452.8 135.6L453.3 137.2L454.5 136.1L455.0 139.0L454.5 140.8L454.0 142.1Z" fill="#FF6F00"/>
<path d="M454.0 142.1L454.5 140.8L455.0 139.0L456.2 138.1L456.1 135.6L457.2 135.8L458.1 133.8L458.9 131.6L460.6 130.4L462.4 128.7L464.6 129.9L464.2 132.7L462.8 134.8L464.7 135.6L465.3 138.5L468.3 139.3L466.8 141.5L464.9 142.6L463.1 144.5L464.4 147.8L463.8 149.9L465.3 153.4L466.0 155.4L464.7 158.3L461.9 159.9L454.0 150.2Z" fill="#FF6F00"/>
<path d="M466.8 141.5L467.5 142.9L468.5 142.9L468.2 146.0L469.9 145.0L471.8 144.7L474.0 146.3L474.1 148.1L475.4 149.2L475.2 151.2L471.3 151.5L470.4 152.5L471.2 155.5L469.7 158.3L471.3 162.3L469.9 164.5L468.3 165.3L466.8 164.1L465.0 164.8L461.9 159.9L464.7 158.3L466.0 155.4L465.3 153.4L463.8 149.9L464.4 147.8L463.1 144.5L464.9 142.6Z" fill="#C71000"/>
<path d="M466.8 141.5L468.3 139.3L469.3 138.2L470.1 138.2L471.3 139.7L472.9 140.6L474.1 142.3L472.9 142.9L474.8 144.4L477.0 147.0L478.4 149.9L478.4 151.0L476.0 151.3L475.2 151.2L475.4 149.2L474.1 148.1L474.0 146.3L471.8 144.7L469.9 145.0L468.2 146.0L468.5 142.9L467.5 142.9Z" fill="#C71000"/>
<path d="M470.1 138.2L472.6 137.7L474.9 136.8L477.1 137.6L477.0 138.9L479.2 139.7L482.3 142.1L483.9 155.1L477.6 163.2L472.1 160.7L473.5 157.7L475.7 156.7L476.0 155.5L478.5 154.2L478.4 151.0L478.4 149.9L477.0 147.0L474.8 144.4L472.9 142.9L474.1 142.3L472.9 140.6L471.3 139.7Z" fill="#FF6F00"/>
<path d="M471.2 155.5L470.4 152.5L471.3 151.5L475.2 151.2L476.0 151.3L478.4 151.0L478.5 154.2L476.0 155.5L475.7 156.7L473.5 157.7L472.1 159.1L470.5 157.5Z" fill="#C71000"/>
<path d="M466.8 164.1L468.3 165.3L469.9 164.5L471.3 162.3L474.5 168.0L474.5 172.9L472.1 173.2L466.6 169.6L465.0 164.8Z" fill="#008EA0"/>
<path d="M379.0 110.7L379.9 110.2L382.6 111.5L385.0 110.3L386.4 112.3L387.3 112.1L389.7 112.9L393.6 112.9L394.2 114.1L394.4 114.1L396.7 112.9L399.6 112.6L402.7 113.8L405.4 115.2L405.7 116.8L404.7 120.2L405.1 123.5L406.6 124.3L405.2 126.2L408.2 128.7L409.0 130.4L408.8 131.1L406.5 131.9L406.3 133.7L406.3 137.2L398.3 133.2L392.8 133.2L387.3 127.5L385.7 125.9L384.5 124.3L384.6 122.7L381.8 121.0L381.0 119.4L382.1 117.8L381.0 116.2L379.9 114.2L379.3 112.9L379.0 111.3Z" fill="#C71000"/>
<path d="M385.7 125.9L385.0 125.9L384.5 125.7L382.6 127.4L379.8 127.2L375.5 124.3L371.1 122.5L370.5 120.4L374.0 118.8L374.3 116.2L376.2 114.4L379.9 114.2L381.0 116.2L382.1 117.8L381.0 119.4L381.8 121.0L384.6 122.7L384.5 124.3Z" fill="#8A4198"/>
<path d="M382.6 127.4L384.5 125.7L385.0 125.9L386.5 126.7L386.2 128.3L385.6 128.3L384.2 127.7Z" fill="#8A4198"/>
<path d="M365.3 116.3L366.0 116.3L366.4 116.3L367.2 114.9L369.3 114.9L372.4 114.9L376.2 114.4L374.3 116.2L374.0 118.8L370.5 120.4L367.4 122.2L365.8 121.5L365.8 120.6L366.7 119.4L366.7 118.4L366.0 118.4L365.3 118.4Z" fill="#008EA0"/>
<path d="M364.2 120.9L364.7 120.9L365.8 120.6L366.7 119.4L366.7 118.4L366.0 118.4L365.0 118.4Z" fill="#008EA0"/>
<path d="M362.7 123.8L363.3 123.8L364.4 126.7L365.2 123.8L365.3 121.8L365.8 121.5L365.8 120.6L364.7 120.9L363.8 120.9Z" fill="#008EA0"/>
<path d="M364.4 126.7L365.2 123.8L365.3 121.8L365.8 121.5L367.4 122.2L370.5 120.4L371.1 122.5L367.7 123.5L369.3 125.1L368.5 125.9L367.2 126.1L366.1 127.2L364.4 126.9Z" fill="#008EA0"/>
<path d="M363.8 126.9L364.4 126.9L366.1 127.2L367.2 126.1L368.5 125.9L369.3 125.1L367.7 123.5L371.1 122.5L375.5 124.3L379.8 127.2L382.6 127.4L384.2 127.7L385.6 128.3L387.3 128.8L389.7 131.1L389.4 134.3L390.5 135.1L392.2 137.4L396.3 137.7L396.9 138.9L395.9 142.1L391.2 143.7L386.5 144.4L385.3 145.0L383.4 147.0L380.2 146.3L377.7 146.2L377.4 147.4L376.6 147.9L374.0 148.6L366.1 134.0Z" fill="#FF6348"/>
<path d="M376.6 147.9L377.4 147.4L377.7 146.2L380.2 146.3L383.4 147.0L385.3 145.0L386.5 144.4L391.2 143.7L393.0 147.6L393.6 150.2L380.2 156.7L375.5 154.2L374.8 148.6Z" fill="#C71000"/>
<path d="M393.0 147.6L391.2 143.7L395.9 142.1L396.9 138.9L396.3 137.7L397.5 135.5L398.0 134.2L399.9 133.2L405.4 138.1L400.7 147.0L393.6 150.2Z" fill="#8A4198"/>
<path d="M390.5 135.1L392.2 137.4L396.3 137.7L397.5 135.5L398.0 134.2L399.9 133.2L398.0 130.8L394.4 133.2L390.5 134.0Z" fill="#8A4198"/>
<path d="M389.4 134.3L390.5 135.1L391.2 134.0L390.5 131.6L389.0 132.4Z" fill="#8A4198"/>
<path d="M349.6 109.7L350.4 108.4L351.0 106.9L353.6 106.0L356.7 106.5L364.6 105.2L374.8 106.5L374.8 107.3L377.9 107.9L378.2 109.5L379.9 110.2L379.0 110.7L379.0 111.3L379.3 112.9L379.9 114.2L376.2 114.4L372.4 114.9L369.3 114.9L367.2 114.9L366.4 116.3L365.3 116.3L361.4 117.0L352.0 116.5L349.6 112.9Z" fill="#FFFFFF"/>
<path d="M372.4 104.2L376.3 104.5L378.4 105.5L381.0 105.6L382.4 106.6L382.6 107.9L380.2 107.6L377.9 107.9L374.8 107.3L374.0 106.5L371.6 104.8Z" fill="#FF6F00"/>
<path d="M377.9 107.9L380.2 107.6L381.2 108.4L382.6 110.5L382.6 111.5L381.0 110.5L379.9 110.2L378.2 109.5Z" fill="#FF6F00"/>
<path d="M380.2 107.6L382.6 107.9L382.4 106.6L385.9 106.8L388.9 108.1L388.1 112.3L386.4 112.3L385.0 110.3L382.6 111.5L382.6 110.5L381.2 108.4Z" fill="#FF6F00"/>
<path d="M344.5 96.1L345.1 95.0L347.3 92.7L346.7 90.9L352.0 90.9L357.5 91.2L358.3 90.1L362.2 89.8L365.3 92.7L369.3 93.5L372.4 94.1L372.4 96.7L369.7 98.2L367.7 101.6L361.4 103.2L356.2 101.3L353.9 100.8L356.5 99.2L355.4 96.7L351.4 96.3L348.1 96.9L345.6 96.7Z" fill="#008EA0"/>
<path d="M351.4 96.3L353.7 98.7L353.9 100.8L356.5 99.2L355.4 96.7Z" fill="#008EA0"/>
<path d="M346.5 87.0L347.1 89.1L346.7 90.9L352.0 90.9L357.5 91.2L358.3 90.1L359.8 88.3L358.3 86.2L358.1 84.4L353.9 83.6L351.4 84.3L349.6 86.7Z" fill="#008EA0"/>
<path d="M342.6 84.9L342.6 83.6L348.7 83.1L351.4 84.3L349.6 86.7L346.5 87.0L345.4 86.4L345.2 85.6L341.8 84.9Z" fill="#8A4198"/>
<path d="M341.8 83.6L342.6 83.6L348.7 83.1L351.4 84.3L353.9 83.6L352.6 81.3L349.6 80.5L347.9 80.7L345.7 80.2L341.8 80.9Z" fill="#8A4198"/>
<path d="M345.7 80.2L347.9 80.7L349.6 80.5L352.6 81.3L353.1 80.5L353.6 78.1L353.6 77.3L344.9 77.6Z" fill="#8A4198"/>
<path d="M347.6 67.9L346.7 65.1L341.9 62.7L349.9 62.4L350.4 61.1L353.6 61.1L355.1 62.6L354.3 63.5L356.7 64.8L355.1 66.3L356.7 68.1L356.1 69.7L359.1 72.6L353.2 76.5L347.3 77.8L341.8 77.3L341.8 71.6Z" fill="#8A4198"/>
<path d="M347.6 67.9L346.7 65.1L341.9 62.7L341.0 63.7L337.9 63.5L334.7 66.0L332.4 67.6L330.8 70.0L328.4 71.6L328.8 74.9L329.7 75.7L328.1 77.6L327.2 78.9L326.6 80.5L328.4 85.4L332.4 85.4L340.2 78.9L339.4 74.1L344.1 70.0Z" fill="#008EA0"/>
<path d="M341.9 62.7L341.0 63.7L337.9 63.5L334.7 66.0L332.4 67.6L330.8 70.0L328.4 71.6L328.8 74.9L329.7 75.7L328.1 77.6L327.2 78.9L326.6 80.5L320.6 81.3L315.1 78.9L315.9 72.4L328.4 64.3L341.0 58.7L359.8 58.7L358.0 61.4L355.1 62.6L353.6 61.1L350.4 61.1L349.9 62.4Z" fill="#008EA0"/>
<path d="M331.9 86.2L331.9 87.2L332.5 89.4L333.2 91.9L334.7 92.5L336.3 92.9L339.1 94.3L341.0 94.8L345.1 95.0L347.3 92.7L346.7 90.9L347.1 89.1L346.5 87.0L345.4 86.4L340.7 86.4L339.4 85.4L334.7 85.4Z" fill="#008EA0"/>
<path d="M320.9 87.0L323.1 85.6L325.1 85.7L326.9 85.4L331.9 86.2L331.9 87.2L332.5 89.4L333.2 91.9L328.8 93.0L331.3 95.6L329.7 97.2L326.1 97.5L324.7 97.5L321.5 97.4L322.5 95.1L319.6 94.3L319.6 93.0L319.2 92.4L319.0 90.6L320.6 89.9L320.9 88.2Z" fill="#008EA0"/>
<path d="M323.1 85.6L325.1 85.7L327.7 85.4L327.7 80.5L321.4 80.5L321.4 85.4Z" fill="#008EA0"/>
<path d="M314.3 91.2L314.9 91.2L316.4 91.2L317.4 91.1L318.9 91.9L319.2 92.4L319.0 90.6L320.6 89.9L320.9 88.2L320.9 87.0L315.9 87.0Z" fill="#008EA0"/>
<path d="M313.5 91.7L314.9 91.2L316.4 91.2L317.4 91.1L318.9 91.9L319.2 92.4L319.6 93.0L318.7 94.3L317.1 93.3L316.2 93.5L314.3 92.4L313.2 91.4Z" fill="#008EA0"/>
<path d="M313.2 91.4L313.5 91.7L314.3 92.4L316.2 93.5L317.1 93.3L318.7 94.3L319.6 94.3L322.5 95.1L321.5 97.4L319.2 99.7L320.6 100.1L320.1 101.4L321.7 103.1L321.4 103.5L321.4 105.6L314.6 106.5L314.6 105.8L310.7 105.2L306.8 104.2L304.9 102.4L300.2 95.9L306.5 92.7Z" fill="#FFFFFF"/>
<path d="M315.1 106.5L314.6 105.8L310.7 105.2L306.8 104.2L304.9 102.4L293.9 102.4L293.9 117.0L309.6 116.5L315.9 109.7Z" fill="#008EA0"/>
<path d="M293.9 115.4L298.0 114.2L298.6 112.6L298.1 110.5L298.8 108.9L299.9 107.1L296.7 106.5L295.6 106.6L293.9 106.5Z" fill="#008EA0"/>
<path d="M319.2 99.7L321.5 97.4L324.7 97.5L326.1 98.5L325.5 99.5L323.7 100.1L320.6 100.1Z" fill="#C71000"/>
<path d="M324.7 97.5L326.1 97.5L329.7 97.2L331.3 95.6L333.2 95.1L336.3 95.4L336.4 96.7L334.9 98.7L332.4 99.3L329.1 98.8L326.1 98.5Z" fill="#008EA0"/>
<path d="M321.4 103.5L321.7 103.1L320.1 101.4L320.6 100.1L323.7 100.1L325.5 99.5L326.1 98.5L329.1 98.8L331.1 99.2L331.0 100.6L330.0 102.4L339.4 108.9L336.3 114.6L331.6 109.7L323.7 104.0Z" fill="#008EA0"/>
<path d="M328.8 93.0L333.2 91.9L334.7 92.5L336.3 92.9L339.1 94.3L336.3 95.4L333.2 95.1L331.3 95.6Z" fill="#8A4198"/>
<path d="M336.3 95.4L339.1 94.3L341.0 94.8L345.1 95.0L344.5 96.1L341.8 95.9L339.1 97.1L336.4 96.7Z" fill="#008EA0"/>
<path d="M334.9 98.7L336.4 96.7L339.1 97.1L341.8 95.9L344.5 96.1L345.6 96.7L343.4 99.7L341.5 99.8L339.1 100.1L336.3 100.0Z" fill="#8A4198"/>
<path d="M341.5 99.8L343.4 99.7L345.6 96.7L348.1 96.9L351.4 96.3L353.7 98.7L353.9 100.8L356.2 101.3L356.7 102.4L354.5 103.7L352.0 103.1L348.9 103.7L345.2 102.9L344.9 102.1L343.2 101.9Z" fill="#008EA0"/>
<path d="M345.2 102.9L348.9 103.7L352.0 103.1L354.5 103.7L355.1 104.8L353.6 106.5L351.0 106.9L348.9 107.6L345.7 107.6L344.8 106.0L344.9 104.5Z" fill="#008EA0"/>
<path d="M331.1 99.2L332.4 99.3L334.9 98.7L335.5 99.3L333.9 100.8L331.0 100.8Z" fill="#008EA0"/>
<path d="M331.0 100.8L333.9 100.8L335.5 99.3L336.3 100.0L339.1 100.1L339.7 101.6L336.3 101.3L334.7 101.9L335.5 103.2L337.4 104.8L338.6 105.8L336.3 105.6L332.4 103.2L330.3 101.6Z" fill="#008EA0"/>
<path d="M334.7 101.9L336.3 101.3L339.7 101.6L340.2 103.2L339.4 104.4L338.6 105.5L337.4 104.8L335.5 103.2Z" fill="#C71000"/>
<path d="M339.1 100.1L341.5 99.8L343.2 101.9L344.9 102.1L345.2 102.9L344.9 104.5L344.8 106.0L343.4 106.1L341.8 105.2L340.2 104.5L340.2 103.2L339.7 101.6Z" fill="#C71000"/>
<path d="M338.6 105.8L338.6 105.5L339.4 104.4L340.2 104.5L341.5 105.2L340.4 105.6L339.9 106.6L338.6 106.5Z" fill="#FF6F00"/>
<path d="M341.5 105.2L341.8 105.2L343.4 106.1L343.0 106.5L341.9 106.5L341.2 105.6Z" fill="#FFFFFF"/>
<path d="M341.8 108.1L341.9 106.5L343.0 106.5L343.4 106.1L344.8 106.0L345.7 107.6L344.9 107.9L342.6 108.2Z" fill="#FFFFFF"/>
<path d="M339.4 106.5L339.9 106.6L340.4 105.6L341.2 105.6L341.9 106.5L341.8 108.1L342.6 108.2L342.1 109.2L341.0 110.2L339.4 109.7Z" fill="#FF6F00"/>
<path d="M341.0 110.2L342.1 109.2L342.6 108.2L344.9 107.9L345.7 107.6L348.9 107.6L351.0 106.9L350.4 108.4L349.6 109.7L348.9 116.2L342.6 116.2L340.2 111.3Z" fill="#FFFFFF"/>
</g>
<path d="M295.6 114.6L294.8 111.8L295.8 108.9L295.8 106.6L295.2 104.8L297.0 103.7L301.0 103.9L304.1 104.0L306.8 104.2L307.7 102.4L307.9 100.0L306.1 98.0L302.5 96.9L302.2 96.1L304.9 95.4L307.1 95.8L306.8 94.0L307.9 94.5L309.9 94.3L312.0 93.3L312.1 92.0L313.5 91.7L315.1 91.2L316.2 90.3L317.0 88.6L318.2 88.0L320.6 88.0L322.5 87.7L323.3 87.0L323.1 85.4L322.3 84.4L322.5 82.2L324.5 81.8L326.2 81.0L325.9 83.0L326.6 83.5L325.3 84.6L324.7 85.4L325.3 86.2L326.9 86.4L326.9 87.0L328.4 86.7L330.8 86.4L331.9 87.2L334.7 86.5L338.6 85.9L340.2 86.4L341.0 86.2L342.6 85.1L342.6 83.8L342.6 82.2L343.7 81.2L344.9 81.0L346.5 82.2L347.8 81.8L347.9 80.1L346.5 79.4L346.5 78.6L348.9 78.1L353.6 78.1L356.7 77.5L354.3 76.5L352.0 76.5L348.9 77.0L345.7 77.5L343.4 76.5L343.4 74.9L343.0 73.2L344.9 71.6L348.1 69.5L349.5 69.0L347.6 67.9L344.1 68.2L342.9 70.0L339.4 72.1L337.1 74.1L336.6 76.2L339.1 77.6L337.9 78.9L335.8 81.3L335.3 82.8L334.4 83.6L332.1 84.6L330.0 84.8L329.5 83.5L328.4 81.3L327.2 78.9L326.2 78.1L324.5 79.1L322.2 80.4L320.6 80.5L318.5 79.4L317.6 77.3L317.4 74.9L317.9 73.7L320.6 72.4L323.7 71.3L326.1 70.0L328.4 68.4L330.0 66.8L332.4 65.1L333.9 63.9L337.1 62.2L339.4 61.1L343.4 60.8L346.5 59.8L349.9 59.3L353.6 59.5L358.3 60.6L355.1 61.4L358.0 61.4L361.4 62.1L366.1 62.6L374.0 65.1L374.4 66.8L372.4 67.4L369.3 67.6L363.8 66.8L361.4 66.6L363.8 69.2L364.6 70.3L368.5 71.1L369.3 70.0L373.2 70.0L372.4 68.4L375.5 66.8L378.7 67.3L378.7 64.7L377.9 63.5L381.8 64.3L381.8 66.3L386.5 64.7L392.8 63.0L395.9 63.5L400.7 62.9L403.8 63.4L404.6 61.4L410.1 62.2L414.8 63.0L417.1 63.9L414.8 61.4L414.8 59.5L417.1 56.6L419.5 55.8L423.4 56.6L423.9 59.5L422.6 62.7L425.0 65.1L422.6 67.1L425.8 66.0L425.8 63.5L425.3 61.1L426.6 57.0L428.1 57.5L430.5 57.9L432.1 59.5L435.2 57.9L436.0 55.4L444.6 54.6L446.2 53.0L454.0 51.7L463.5 50.9L473.4 48.6L477.6 49.8L485.4 50.6L487.8 52.2L482.3 54.3L487.0 54.9L493.3 55.4L496.4 56.2L502.7 55.4L509.0 55.8L512.9 58.7L518.4 58.7L524.7 58.7L529.4 57.0L538.8 57.4L545.1 58.7L548.2 59.6L556.1 59.5L560.8 60.8L563.9 61.7L571.8 61.6L576.5 61.1L578.1 62.4L585.9 61.4L592.2 62.7L596.9 63.9L603.2 65.6L608.2 67.4L603.2 70.0L595.3 68.7L593.8 67.1L590.6 69.2L588.3 69.7L591.4 73.2L584.4 74.4L579.6 76.2L577.0 77.3L570.2 77.0L566.3 77.6L567.1 79.7L564.7 80.9L566.0 83.5L563.6 85.4L560.8 88.3L558.1 90.3L555.6 91.9L554.5 88.6L553.9 85.4L554.0 82.2L556.9 79.7L560.8 76.5L565.5 74.1L567.1 73.2L560.8 74.9L556.1 74.5L553.0 78.4L548.2 78.9L542.0 78.1L534.1 78.6L529.4 81.3L524.7 85.4L523.1 87.0L526.3 87.3L530.2 87.8L531.4 89.9L530.2 93.5L529.9 96.7L526.3 100.0L522.3 103.2L518.4 105.3L516.8 104.5L514.8 106.0L513.2 108.1L510.6 109.7L509.8 111.0L511.3 112.6L512.8 114.6L512.9 116.5L512.1 117.6L509.8 118.3L508.0 118.8L508.2 116.2L508.4 114.6L507.4 113.4L505.9 112.9L506.3 110.8L504.8 109.9L501.1 111.0L500.0 111.6L501.1 108.9L499.6 108.2L496.4 110.8L494.4 111.3L495.6 112.9L496.4 114.1L499.3 113.3L501.9 114.1L499.6 115.4L497.2 117.3L497.2 118.6L498.8 120.2L500.8 123.0L500.8 124.6L498.5 125.4L501.1 126.2L500.4 128.7L498.0 131.6L497.2 133.2L494.9 134.8L492.5 136.9L488.9 138.4L487.0 138.9L483.9 139.8L482.8 140.5L482.6 141.6L482.0 139.7L479.6 139.5L477.3 140.8L475.7 143.7L476.8 146.2L479.5 148.6L481.0 151.8L481.2 154.2L480.7 155.9L477.6 157.7L476.8 159.1L474.5 160.6L474.5 158.3L473.5 157.7L472.1 157.3L471.3 155.9L470.5 154.7L468.2 153.9L467.9 152.8L466.6 153.0L466.4 155.1L465.3 157.5L465.5 159.6L466.9 160.9L467.4 162.8L469.1 163.3L470.1 164.5L471.9 166.7L472.1 170.0L473.2 172.2L472.1 172.4L470.1 170.9L468.6 169.6L467.5 167.7L467.1 165.6L466.8 164.0L465.8 162.8L464.2 161.2L463.9 159.1L464.4 157.5L464.6 155.1L463.8 151.8L463.0 149.4L462.8 147.8L461.6 147.0L459.2 148.9L457.7 148.6L458.0 145.3L456.9 142.9L455.3 141.6L454.4 140.5L453.7 138.4L451.7 138.9L449.3 139.2L447.8 139.3L446.2 140.0L445.9 141.3L443.8 142.6L441.5 144.9L438.8 147.4L436.8 148.9L435.5 150.2L435.4 152.6L434.9 155.9L434.9 157.8L433.6 159.4L432.4 160.1L431.3 161.4L429.7 159.9L429.2 158.3L428.1 155.4L427.0 153.4L426.3 150.2L425.0 147.8L423.9 143.7L423.7 140.5L423.4 138.9L422.8 140.0L420.8 140.8L417.9 138.4L419.5 137.2L417.1 136.4L415.4 135.6L414.8 134.3L414.0 133.4L410.1 133.5L406.3 133.7L402.2 133.4L399.6 132.9L398.8 130.8L395.2 131.4L392.0 129.9L389.7 127.8L388.1 125.7L386.5 125.3L385.7 125.9L385.0 126.9L385.7 128.3L387.3 130.4L388.4 131.6L389.4 133.2L390.0 132.2L390.6 134.0L390.5 135.1L392.8 135.5L395.2 135.0L396.4 133.5L397.8 132.1L398.1 134.0L399.1 135.6L401.6 136.3L403.5 138.1L401.9 141.3L400.3 143.7L399.1 145.3L396.3 146.5L394.4 147.0L391.6 148.3L388.1 150.2L385.7 151.8L381.8 153.0L380.2 153.8L377.9 153.9L377.4 152.6L376.8 150.2L376.6 147.9L375.5 146.2L374.0 143.7L371.1 139.7L370.0 136.4L368.0 134.0L366.9 131.6L365.0 129.1L364.4 126.7L363.3 123.8L364.2 122.3L364.7 120.9L365.3 119.6L366.0 118.4L365.8 117.0L366.1 116.2L366.4 115.2L365.3 115.2L363.8 115.0L362.2 116.0L360.6 116.0L358.3 114.9L357.5 115.7L355.1 115.4L353.6 115.0L352.5 114.6L352.5 112.9L351.2 112.1L351.7 110.5L350.7 109.7L350.7 109.2L350.4 108.4L348.9 108.2L347.3 108.6L347.6 109.5L346.5 109.4L345.6 108.9L345.1 109.7L345.7 110.8L346.5 112.1L347.3 112.9L346.0 112.9L346.0 113.8L345.7 115.4L344.8 115.4L343.7 114.9L342.9 113.3L343.7 112.5L342.6 112.1L342.1 111.3L341.3 110.3L340.2 108.9L340.1 107.3L339.7 106.5L338.6 105.6L337.1 104.8L334.7 104.0L333.5 102.9L332.4 101.3L331.1 101.8L331.0 100.6L329.1 101.0L328.9 102.7L330.8 103.9L331.9 105.6L334.7 106.6L334.7 107.4L337.1 108.4L338.6 109.5L337.9 110.0L336.3 108.9L335.7 110.0L336.4 111.3L335.5 112.3L334.7 113.1L334.2 112.6L334.7 110.8L333.9 109.7L332.8 108.7L331.9 108.4L330.0 107.6L328.8 106.8L326.9 105.6L325.9 104.4L325.3 103.2L323.4 102.6L321.4 103.5L319.8 104.7L317.4 104.4L315.9 104.0L314.5 104.7L314.6 105.8L314.6 106.6L313.1 107.4L310.9 108.4L309.3 110.5L309.9 111.6L308.7 112.9L307.2 114.1L306.1 114.9L302.7 115.0L301.1 116.0L299.7 115.2L298.6 114.2Z" fill="none"/>
<path d="M26.7 310.7L36.5 308.6L44.8 309.6L52.1 308.2L62.5 309.6L71.9 305.0L62.5 303.4L66.7 299.8L75.0 297.7L87.6 295.7L98.0 294.6L108.4 293.4L118.8 293.8L127.2 294.6L135.5 295.9L152.2 296.1L147.0 293.6L150.1 291.5L158.4 291.7L166.8 292.7L177.2 293.1L184.5 293.8L188.7 292.1L190.7 288.4L197.0 286.3L200.1 283.1L205.3 281.1L208.5 278.6L214.7 276.9L217.8 274.8L223.1 273.3L221.4 275.8L215.8 277.5L210.5 280.4L208.0 283.1L211.6 286.3L214.1 290.9L213.0 295.0L208.5 297.3L201.2 298.4L193.9 298.8L185.5 299.6L177.6 301.3L185.5 302.9L192.8 305.0L200.1 304.6L205.3 306.7L210.5 307.5L214.7 310.5L218.9 308.8L224.1 305.7L229.3 304.6L237.6 305.0L242.9 304.2L249.1 302.5L253.3 303.4L273.1 303.8L260.6 302.1L255.4 300.9L261.6 299.2L268.9 297.3L277.3 294.6L280.4 292.5L291.8 289.4L300.2 288.1L310.4 287.9L320.8 288.4L333.4 287.3L352.1 288.4L360.5 285.2L368.8 287.7L379.2 283.1L387.6 282.1L393.8 280.6L400.1 282.7L408.4 283.4L417.8 284.2L418.8 288.4L413.6 292.5L423.0 288.4L435.5 283.8L445.9 281.7L456.3 281.3L466.8 280.4L477.2 281.7L485.5 280.4L489.7 282.7L498.0 282.1L508.5 281.3L525.1 281.5L535.6 283.1L541.8 284.8L550.2 285.9L562.7 287.9L577.3 290.0L562.7 294.6L575.2 299.8L558.5 304.6L571.0 308.8L591.2 310.7Z" fill="#fff" style="stroke-width:0.7"/>
<ellipse cx="54.0" cy="304.5" rx="3.0" ry="0.8" fill="#fff" stroke="#000" stroke-width="0.7"/>
<ellipse cx="62.0" cy="302.0" rx="3.0" ry="0.8" fill="#fff" stroke="#000" stroke-width="0.7"/>
<ellipse cx="66.0" cy="305.5" rx="4.0" ry="1.0" fill="#fff" stroke="#000" stroke-width="0.7"/>
<ellipse cx="231.0" cy="304.0" rx="6.0" ry="2.5" fill="#fff" stroke="#000" stroke-width="0.7"/>
<circle cx="39.0" cy="196.5" r="0.7" fill="#555" stroke="none"/>
<circle cx="34.2" cy="208.4" r="0.7" fill="#555" stroke="none"/>
<circle cx="28.1" cy="203.6" r="0.7" fill="#555" stroke="none"/>
<circle cx="74.2" cy="202.5" r="0.7" fill="#555" stroke="none"/>
<circle cx="81.2" cy="200.3" r="0.7" fill="#555" stroke="none"/>
<circle cx="88.1" cy="203.2" r="0.7" fill="#555" stroke="none"/>
<circle cx="94.6" cy="203.8" r="0.7" fill="#555" stroke="none"/>
<circle cx="89.8" cy="188.9" r="0.7" fill="#555" stroke="none"/>
<circle cx="61.7" cy="170.7" r="0.7" fill="#555" stroke="none"/>
<circle cx="58.5" cy="167.5" r="0.7" fill="#555" stroke="none"/>
<circle cx="32.0" cy="245.1" r="0.7" fill="#555" stroke="none"/>
<circle cx="137.4" cy="218.1" r="0.7" fill="#555" stroke="none"/>
<circle cx="42.0" cy="199.0" r="0.7" fill="#555" stroke="none"/>
<circle cx="185.0" cy="228.5" r="0.7" fill="#555" stroke="none"/>
<path d="M185.5 130.2L189.0 132.7L192.4 136.1L195.9 138.2" fill="none" style="stroke:#666;stroke-width:0.5"/>
<path d="M203.6 144.1L208.4 143.8L211.9 145.9L213.3 149.3L213.7 152.8L213.0 155.6" fill="none" style="stroke:#666;stroke-width:0.5"/>
<path d="M355.3 107.8L353.9 107.3L353.6 106.5L353.4 105.3L354.5 104.2L354.7 103.2L356.2 101.3L356.7 100.3L357.8 99.2L359.8 99.5L362.4 100.0L360.6 101.0L362.0 102.2L363.0 102.6L365.2 101.6L366.9 101.3L368.2 101.6L370.0 102.6L372.4 104.2L374.0 104.8L374.9 106.1L374.8 107.3L372.4 108.1L369.3 108.1L366.9 107.6L364.6 106.5L361.4 106.5L358.3 107.9Z" fill="#fff"/>
<path d="M364.6 99.7L366.9 98.8L369.3 98.2L371.3 98.0L369.6 99.5L368.9 100.3L367.4 101.0L365.3 101.0Z" fill="#fff"/>
<path d="M383.4 100.8L385.7 100.0L388.1 98.8L391.2 98.7L392.8 99.2L392.8 101.1L390.5 101.3L389.7 102.4L388.6 102.7L390.5 104.5L392.0 105.6L392.3 107.3L394.4 107.3L395.2 108.1L392.8 108.9L392.8 110.5L394.4 112.1L394.4 114.1L392.8 114.9L389.7 115.0L387.3 113.9L386.5 112.5L386.8 110.8L387.3 109.2L386.5 107.3L385.0 106.0L384.2 104.8L384.2 102.4Z" fill="#fff"/>
</g>
<g class="m" transform="translate(0,328.2)">
<path d="M300.7 93.3L303.3 93.0L304.1 92.5L306.5 92.5L309.6 92.2L311.6 91.7L311.8 91.2L310.7 91.1L312.1 90.1L312.3 89.1L310.4 88.6L309.9 87.8L309.4 87.0L307.7 86.0L307.2 85.1L306.5 84.1L304.9 83.8L305.7 83.1L306.5 82.2L306.8 81.2L304.1 81.0L303.3 81.2L304.7 79.6L301.8 79.6L301.3 80.4L300.5 81.7L300.7 83.0L301.0 84.6L301.9 84.9L301.8 85.7L304.1 85.6L304.9 87.0L304.7 88.0L302.5 88.2L303.0 89.0L302.1 89.0L303.2 89.6L301.4 90.4L303.0 90.9L304.9 91.2L304.1 91.6L302.5 91.9Z" fill="#FFFFFF"/>
<path d="M300.2 89.9L299.7 88.2L300.2 86.7L298.1 86.9L296.7 86.2L298.1 84.9L296.3 85.7L296.3 86.5L293.9 86.7L294.2 88.0L295.5 88.3L294.7 89.3L293.4 90.1L293.9 90.9L296.3 90.9L298.6 90.1Z" fill="#FF6F00"/>
<path d="M300.2 86.7L301.0 86.2L299.9 85.1L298.1 84.9L296.7 86.2L298.1 86.9Z" fill="#FFFFFF"/>
<path d="M271.9 68.4L274.3 66.9L276.6 68.4L278.2 67.6L281.3 67.4L284.5 66.8L286.8 67.3L288.2 68.9L286.8 70.2L282.9 71.1L279.8 71.8L276.6 71.1L274.0 71.1L275.1 70.3L271.9 69.4L275.1 68.7Z" fill="#FF6F00"/>
<path d="M326.1 45.4L334.7 44.9L342.6 45.7L339.4 47.3L342.6 48.1L336.3 50.4L331.6 48.9L326.9 47.0Z" fill="#FF6F00"/>
<path d="M337.9 44.6L344.1 44.1L352.0 44.6L350.4 46.0L342.6 45.9Z" fill="#FF6F00"/>
<path d="M342.6 47.8L347.3 48.3L345.7 49.3L343.4 48.9Z" fill="#FF6F00"/>
<path d="M390.5 58.5L392.8 60.0L395.9 60.0L399.9 60.0L398.3 57.9L397.2 55.9L394.4 55.8L392.8 57.0L392.0 58.2Z" fill="#8A4198"/>
<path d="M394.4 55.4L398.3 55.6L400.7 54.1L404.6 53.0L411.7 51.7L417.1 50.4L417.1 49.8L411.7 50.4L403.8 51.4L399.1 52.5L395.9 54.1Z" fill="#8A4198"/>
<path d="M380.2 43.9L388.1 43.4L391.2 44.4L385.0 44.9L380.2 44.6Z" fill="#8A4198"/>
<path d="M394.4 44.1L400.7 43.3L406.9 42.5L411.7 43.3L403.8 44.4L397.5 44.9Z" fill="#8A4198"/>
<path d="M458.8 46.5L466.6 45.2L474.5 46.0L472.9 47.7L465.0 48.1Z" fill="#8A4198"/>
<path d="M454.0 44.9L458.8 43.0L463.5 43.8L461.9 44.9L455.6 45.4Z" fill="#8A4198"/>
<path d="M524.7 52.5L527.8 51.1L537.2 51.9L542.0 52.5L545.1 53.0L538.8 53.3L532.5 53.2L526.3 53.5Z" fill="#8A4198"/>
<path d="M529.4 54.8L534.1 55.3L532.5 55.9L529.4 55.6Z" fill="#8A4198"/>
<path d="M589.8 59.5L592.2 58.7L596.1 59.2L595.3 59.8L590.3 59.8Z" fill="#8A4198"/>
<path d="M385.7 61.9L388.1 62.4L387.3 63.2L385.4 62.7Z" fill="#8A4198"/>
<path d="M532.5 86.5L534.1 88.2L534.6 91.9L534.9 94.3L536.5 95.1L534.1 96.7L534.4 98.8L534.9 99.8L533.3 98.8L532.5 100.0L532.5 97.5L532.9 95.1L532.5 91.9L532.2 88.6Z" fill="#8A4198"/>
<path d="M529.4 107.3L531.0 105.6L529.9 104.4L531.8 104.4L532.1 101.0L534.1 102.6L537.7 102.7L538.0 104.4L535.7 105.0L534.6 106.5L532.1 105.5L530.2 106.5Z" fill="#8A4198"/>
<path d="M531.0 107.3L531.8 107.4L531.8 108.9L532.5 110.5L531.0 112.5L531.0 114.6L530.7 116.7L529.1 117.8L528.9 117.0L527.5 118.3L524.7 118.4L524.4 118.9L522.8 120.2L521.7 118.9L522.0 118.3L518.4 118.9L515.3 119.4L515.3 118.8L517.6 117.2L520.0 117.0L523.1 116.7L524.4 114.6L525.2 113.8L525.2 114.9L527.0 113.9L528.6 112.1L529.4 109.7L529.4 108.1Z" fill="#8A4198"/>
<path d="M515.1 119.6L516.4 120.1L516.7 121.4L515.9 123.6L514.8 124.3L514.0 123.8L514.2 121.8L513.2 121.0L513.4 120.2Z" fill="#8A4198"/>
<path d="M517.6 119.4L520.8 119.1L521.1 119.7L520.3 120.6L518.4 121.4L517.5 120.4Z" fill="#8A4198"/>
<path d="M500.4 133.5L501.1 134.0L500.4 136.4L499.3 138.9L498.2 137.2L498.5 135.6L499.6 134.0Z" fill="#FF6F00"/>
<path d="M480.3 143.2L481.5 142.1L483.4 141.9L483.9 142.7L483.1 144.0L481.7 145.0L480.3 144.5Z" fill="#FF6348"/>
<path d="M435.0 158.8L435.7 158.6L437.1 160.7L438.0 162.3L437.9 164.0L436.1 164.9L435.2 164.5L434.9 162.3L434.9 160.7Z" fill="#FF6F00"/>
<path d="M498.9 144.5L501.5 144.5L501.6 147.8L500.5 149.4L500.7 151.5L502.7 152.0L504.4 154.1L503.2 153.4L501.1 152.3L499.3 152.1L498.9 151.0L498.0 150.2L497.7 148.1L498.6 147.6Z" fill="#FF6F00"/>
<path d="M501.1 163.2L502.4 161.2L504.0 161.2L505.5 160.2L506.6 158.6L507.9 160.7L508.2 164.0L506.6 164.8L506.5 165.4L504.6 164.5L504.3 162.7L502.7 162.3Z" fill="#FF6F00"/>
<path d="M504.8 154.2L506.3 154.2L506.9 156.4L506.2 158.0L505.5 158.0L505.1 156.2Z" fill="#FF6F00"/>
<path d="M501.1 155.4L502.9 155.9L503.2 157.5L502.7 159.8L501.9 159.1L501.1 157.5Z" fill="#FF6F00"/>
<path d="M498.6 152.8L500.2 153.0L500.0 154.6L499.4 154.6Z" fill="#FF6F00"/>
<path d="M493.6 160.9L494.9 159.6L497.1 157.3L497.2 156.2L496.4 157.5L494.9 158.6L493.6 160.2Z" fill="#FF6F00"/>
<path d="M480.7 172.1L481.7 171.3L482.3 172.9L483.9 172.9L485.8 172.1L489.4 172.1L490.9 169.6L491.1 167.7L494.1 167.7L494.2 168.8L494.9 170.9L496.4 172.9L494.5 173.2L494.1 175.8L492.5 176.9L492.5 179.4L491.7 181.0L489.7 181.1L489.4 180.0L487.0 179.7L485.0 180.0L482.6 179.2L482.3 176.9L480.7 175.0Z" fill="#C71000"/>
<path d="M481.7 171.3L484.2 172.1L484.5 170.3L487.0 169.3L488.6 167.2L490.9 165.6L492.8 163.2L494.4 164.3L496.7 166.1L495.2 167.5L494.1 167.7L491.1 167.7L490.9 169.6L489.4 172.1L485.8 172.1L483.9 172.9L482.3 172.9Z" fill="#FF6F00"/>
<path d="M488.6 167.2L489.5 166.4L490.6 166.6L490.2 167.7L489.4 167.7Z" fill="#FFFFFF"/>
<path d="M459.2 165.4L462.7 166.1L464.6 168.3L467.4 170.9L469.7 172.6L472.1 174.5L472.9 176.4L474.5 178.2L476.0 179.4L475.9 181.8L475.7 183.9L473.8 183.9L472.1 182.3L470.2 180.8L468.2 178.6L467.1 176.0L465.0 173.7L464.6 171.7L462.7 170.0L461.1 168.3Z" fill="#C71000"/>
<path d="M474.8 185.5L476.2 184.1L477.6 184.1L479.9 185.0L483.1 185.2L483.9 184.9L486.4 185.7L489.4 187.0L489.4 188.6L486.2 188.1L482.3 187.5L479.9 187.1L476.8 186.5Z" fill="#C71000"/>
<path d="M497.7 173.2L499.3 172.4L502.7 172.9L505.9 171.9L506.2 172.9L504.3 173.9L499.6 173.7L498.3 174.5L498.2 175.8L500.4 176.0L503.2 175.6L503.2 176.1L500.7 177.4L501.9 179.7L503.0 181.8L501.9 183.4L500.4 182.3L499.6 178.9L498.5 179.2L498.6 182.3L498.6 183.6L497.2 183.6L497.2 180.2L496.1 178.9L496.9 176.6L497.7 174.5Z" fill="#C71000"/>
<path d="M489.5 187.8L491.2 187.8L490.9 188.8L489.8 188.4Z" fill="#C71000"/>
<path d="M491.7 187.9L493.3 187.9L496.4 187.9L496.4 188.8L493.3 189.1L491.7 188.9Z" fill="#C71000"/>
<path d="M497.7 188.1L499.6 188.1L502.7 187.8L502.7 188.6L499.6 188.9L497.7 188.8Z" fill="#C71000"/>
<path d="M496.4 189.7L499.3 190.5L498.0 191.2L496.4 190.4Z" fill="#C71000"/>
<path d="M503.5 191.2L504.9 189.6L505.9 189.1L505.9 189.9L504.8 191.0Z" fill="#C71000"/>
<path d="M505.9 189.1L509.3 188.1L509.0 188.8L505.9 189.9Z" fill="#FF6F00"/>
<path d="M509.8 171.3L510.6 172.1L511.7 172.1L510.6 173.7L511.3 175.3L510.2 175.8L509.8 173.7Z" fill="#C71000"/>
<path d="M510.6 179.2L515.0 179.4L515.0 180.2L510.6 180.2Z" fill="#C71000"/>
<path d="M507.4 179.7L509.3 179.7L509.3 180.7L507.4 180.7Z" fill="#C71000"/>
<path d="M515.3 175.8L517.6 175.1L520.0 175.8L520.3 178.6L522.3 179.8L524.7 177.7L526.3 177.1L531.0 178.7L531.0 189.2L528.6 187.6L526.3 188.1L525.9 186.3L527.5 185.8L526.3 183.4L523.1 182.0L520.0 180.8L518.4 181.0L518.1 179.8L516.8 179.0L519.7 178.4L517.3 178.1L515.3 176.8Z" fill="#C71000"/>
<path d="M531.0 178.7L534.1 180.0L536.5 180.7L538.8 183.4L541.2 184.2L540.4 185.5L542.0 187.5L543.5 189.1L545.9 191.2L544.3 191.3L542.0 190.9L540.4 189.9L538.8 187.8L536.5 187.0L534.9 188.3L534.1 189.4L531.0 189.2Z" fill="#FF6F00"/>
<path d="M542.4 183.4L545.1 182.6L548.2 181.3L548.7 182.6L545.9 184.5L542.7 184.5Z" fill="#FF6F00"/>
<path d="M546.4 178.7L549.0 180.2L550.1 182.1L549.3 181.8L547.5 179.7Z" fill="#FF6F00"/>
<path d="M552.3 183.4L554.2 185.0L553.7 185.7L552.6 184.7Z" fill="#FF6F00"/>
<path d="M555.3 185.8L557.7 187.1L560.0 188.3L559.2 188.4L556.9 187.5L555.3 186.5Z" fill="#FF6F00"/>
<path d="M560.5 189.6L562.4 190.4L563.2 191.2L561.6 190.7L560.3 190.1Z" fill="#FF6F00"/>
<path d="M571.2 198.8L572.3 199.6L572.6 201.2L571.8 200.7L571.2 199.6Z" fill="#FF6F00"/>
<path d="M567.1 207.1L569.4 208.5L571.8 210.6L571.0 210.8L568.6 209.3L567.1 207.7Z" fill="#FFFFFF"/>
<path d="M588.0 202.7L590.0 202.8L590.0 204.0L588.0 204.0Z" fill="#FF6F00"/>
<path d="M590.3 200.9L592.2 200.7L591.4 201.9L590.2 201.7Z" fill="#FF6F00"/>
<path d="M536.8 240.4L542.4 240.8L542.4 242.5L541.2 245.0L538.8 245.0L537.6 242.9Z" fill="#C71000"/>
<path d="M580.7 230.2L583.3 231.7L585.1 233.8L585.9 235.4L589.8 235.6L588.9 238.0L587.3 238.5L586.7 240.9L584.7 241.9L584.0 241.4L584.7 239.6L582.5 238.3L584.0 236.9L583.9 234.4L583.1 233.3L581.2 231.2Z" fill="#FF6F00"/>
<path d="M580.7 240.1L583.3 241.7L581.2 244.2L580.9 245.5L578.5 246.3L577.6 248.9L575.7 250.0L573.8 250.0L571.0 249.0L571.0 248.2L573.4 245.8L576.5 244.2L578.5 242.2L580.0 240.6Z" fill="#FF6F00"/>
<path d="M329.1 112.9L334.1 112.5L333.3 115.0L330.8 114.2L329.1 113.6Z" fill="#8A4198"/>
<path d="M322.5 108.1L324.7 107.8L324.8 110.8L322.9 111.5L322.8 109.7Z" fill="#8A4198"/>
<path d="M323.1 105.6L324.4 104.8L324.5 106.5L324.0 107.4L323.1 106.8Z" fill="#FFFFFF"/>
<path d="M346.5 116.8L348.1 117.0L350.9 117.3L350.7 117.8L348.1 118.0L346.5 117.5Z" fill="#FFFFFF"/>
<path d="M360.3 117.8L361.4 117.2L363.9 116.7L363.0 117.8L361.4 118.4L360.5 118.3Z" fill="#FF6F00"/>
<path d="M326.9 84.3L329.4 83.6L329.4 85.1L328.1 85.9L326.9 85.1Z" fill="#FF6F00"/>
<path d="M338.2 80.7L339.4 80.7L339.0 82.2L338.0 82.0Z" fill="#FF6F00"/>
<path d="M313.4 110.3L314.6 109.9L314.9 110.5L314.0 110.8Z" fill="#008EA0"/>
<path d="M176.3 139.0L179.3 137.2L182.4 137.1L184.8 138.1L187.9 139.2L191.1 140.8L193.1 141.8L191.8 142.3L187.6 142.3L188.7 141.1L186.4 139.7L183.2 138.9L180.9 138.1L178.5 138.5Z" fill="#FF6F00"/>
<path d="M192.8 144.7L195.0 142.3L197.0 142.4L197.0 145.5L195.8 145.0Z" fill="#FF6F00"/>
<path d="M197.0 142.4L199.7 142.6L202.2 144.4L201.3 144.7L198.9 145.0L197.3 145.8L197.0 145.5Z" fill="#FF6F00"/>
<path d="M186.7 144.7L188.7 144.5L190.0 145.3L188.4 145.7L186.7 145.2Z" fill="#FF6F00"/>
<path d="M204.1 144.5L206.6 144.7L206.5 145.3L204.1 145.3Z" fill="#FF6F00"/>
<path d="M212.6 157.2L214.0 157.0L213.8 158.1L212.6 158.1Z" fill="#FF6F00"/>
<path d="M186.7 131.2L188.4 131.4L188.7 132.1L187.1 131.7Z" fill="#FF6F00"/>
<path d="M186.8 133.8L187.6 134.6L187.6 135.6L186.8 135.0Z" fill="#FF6F00"/>
<path d="M216.5 97.4L219.3 92.4L222.5 90.9L221.7 93.5L225.6 94.6L226.9 97.5L225.6 99.0L222.5 98.5L221.7 97.4Z" fill="#008EA0"/>
<path d="M108.2 92.4L112.9 93.2L115.7 95.9L113.4 95.6Z" fill="#008EA0"/>
<path d="M100.8 86.9L102.8 87.0L103.9 89.9L101.6 88.6Z" fill="#008EA0"/>
<path d="M208.3 93.7L212.6 94.6L210.7 94.8Z" fill="#008EA0"/>
<path d="M208.6 98.7L212.3 99.3L211.5 100.0L209.1 99.5Z" fill="#008EA0"/>
<path d="M67.0 81.3L70.2 80.5L70.5 81.7L67.8 82.5Z" fill="#84D7E1"/>
<path d="M201.9 259.7L201.9 263.4L205.2 263.9L201.3 264.4L197.3 262.5L195.8 261.2L198.9 261.2L198.9 260.0Z" fill="#FF6F00"/>
<path d="M201.9 259.7L207.2 263.0L205.2 263.9L201.9 263.4Z" fill="#C71000"/>
<path d="M213.8 257.9L218.5 257.6L218.9 258.4L217.0 259.2L213.8 259.1Z" fill="#FFFFFF"/>
<path d="M193.1 242.2L194.2 242.2L194.2 244.8L192.8 244.5Z" fill="#FF6F00"/>
<path d="M173.0 68.9L176.2 67.9L179.3 69.2L183.2 71.1L179.3 72.0L175.4 71.6L173.0 70.8Z" fill="#008EA0"/>
<path d="M122.8 58.7L127.5 55.6L140.0 55.6L144.8 56.2L151.8 58.2L150.2 62.2L143.2 63.2L136.9 63.7L131.4 63.7L125.9 62.7L124.3 60.6Z" fill="#008EA0"/>
<path d="M112.6 57.9L116.5 54.3L124.3 54.3L127.5 55.8L121.2 58.7L115.7 59.2Z" fill="#008EA0"/>
<path d="M125.9 52.7L127.5 50.6L136.9 50.9L143.2 51.7L143.2 53.2L136.9 53.5L130.6 53.6Z" fill="#008EA0"/>
<path d="M149.5 56.2L152.6 54.8L157.3 55.4L157.3 57.9L154.2 59.0L149.5 57.9Z" fill="#008EA0"/>
<path d="M158.9 54.8L163.6 54.5L168.3 54.9L166.7 56.6L162.0 57.9L159.7 56.6Z" fill="#008EA0"/>
<path d="M153.4 62.2L157.3 61.4L159.7 62.7L156.5 63.5Z" fill="#008EA0"/>
<path d="M158.9 52.2L165.2 50.6L176.2 50.6L184.0 52.2L182.4 53.6L171.4 53.8L165.2 53.3Z" fill="#008EA0"/>
<path d="M146.3 52.2L152.6 50.4L157.3 51.4L155.7 53.0L151.0 53.0Z" fill="#008EA0"/>
<path d="M168.3 50.6L169.9 48.1L174.6 46.5L165.2 43.0L176.2 41.2L191.8 40.0L210.7 40.8L212.3 42.0L202.8 43.6L195.0 46.0L188.7 47.3L187.1 49.8L184.0 50.9L176.2 50.9Z" fill="#008EA0"/>
<path d="M157.3 47.8L158.9 44.6L166.7 42.8L173.8 44.4L172.2 46.8L168.3 48.0Z" fill="#008EA0"/>
<path d="M144.8 48.1L151.0 46.5L157.3 47.3L152.6 48.6Z" fill="#008EA0"/>
<path d="M116.5 51.4L122.8 49.3L127.5 49.8L122.8 51.4Z" fill="#008EA0"/>
<path d="M64.7 141.8L66.2 142.4L65.5 143.7L64.7 142.9Z" fill="#84D7E1"/>
<path d="M61.2 139.5L62.0 140.0L61.5 140.2Z" fill="#84D7E1"/>
<path d="M393.3 154.1L395.2 154.2L394.4 154.6Z" fill="#FF6F00"/>
<path d="M396.4 208.4L397.2 208.7L396.7 209.2Z" fill="#FFFFFF"/>
<path d="M399.7 206.9L400.3 207.2L399.9 207.7Z" fill="#FF6F00"/>
<path d="M377.4 193.0L377.9 193.6L377.6 193.9Z" fill="#FF6F00"/>
<path d="M283.1 128.5L284.2 128.3L283.5 129.1Z" fill="#008EA0"/>
<path d="M287.3 128.2L288.4 127.2L287.9 128.8Z" fill="#008EA0"/>
<path d="M272.2 149.9L272.9 150.2L272.5 150.4Z" fill="#FF6F00"/>
<path d="M269.1 113.3L270.0 113.3L269.6 113.4Z" fill="#FF6F00"/>
<path d="M282.6 121.4L283.4 121.5L282.9 121.7Z" fill="#FF6F00"/>
<path d="M165.9 174.8L166.7 175.3L166.4 176.1L165.8 175.6Z" fill="#FF6F00"/>
<path d="M417.9 253.9L420.3 254.2L419.5 255.0L417.9 254.7Z" fill="#FFFFFF"/>
<path d="M249.9 262.0L253.1 262.8L252.3 263.3Z" fill="#FFFFFF"/>
<path d="M298.1 73.7L299.4 73.6L298.9 74.4Z" fill="#FF6F00"/>
<path d="M307.2 76.3L308.0 76.8L307.6 77.5Z" fill="#FFFFFF"/>
<path d="M295.5 59.5L297.0 59.3L296.6 59.8Z" fill="#FF6F00"/>
<path d="M538.8 102.4L542.7 100.8L542.0 101.6L538.8 103.2Z" fill="#8A4198"/>
<path d="M545.1 100.0L548.2 98.4L547.5 99.2Z" fill="#8A4198"/>
<path d="M552.2 94.3L554.5 92.4L553.7 93.5Z" fill="#8A4198"/>
<path d="M566.3 78.9L567.9 78.9L567.1 79.7Z" fill="#8A4198"/>
<path d="M322.9 168.5L323.6 168.8L323.3 169.3Z" fill="#FF6F00"/>
<path d="M371.1 183.9L371.6 184.2L371.5 184.9Z" fill="#FF6F00"/>
<path d="M49.0 87.0L51.3 86.0L50.5 86.7Z" fill="#84D7E1"/>
<path d="M44.3 88.6L47.4 87.7L46.6 88.3Z" fill="#84D7E1"/>
<path d="M35.6 89.9L39.6 89.6L38.0 90.3Z" fill="#84D7E1"/>
<path d="M30.1 90.6L33.3 90.3L31.7 90.9Z" fill="#84D7E1"/>
<path d="M40.0 71.6L44.3 72.0L41.9 72.4Z" fill="#84D7E1"/>
<path d="M46.9 77.0L49.5 76.8L48.5 77.6Z" fill="#84D7E1"/>
<path d="M95.3 80.5L98.0 80.1L100.5 82.8L98.4 83.8Z" fill="#84D7E1"/>
<path d="M99.8 83.5L102.0 83.9L103.1 85.7L100.5 85.9Z" fill="#84D7E1"/>
<path d="M104.7 87.0L107.1 87.7L108.6 90.3L107.1 89.8L105.5 88.3Z" fill="#008EA0"/>
<path d="M461.9 172.1L463.3 173.0L462.8 173.7Z" fill="#C71000"/>
<path d="M464.4 176.1L465.5 177.3L465.0 177.7L464.2 176.8Z" fill="#C71000"/>
<path d="M466.3 178.2L467.4 179.7L466.9 179.8Z" fill="#C71000"/>
<path d="M474.9 177.1L477.1 178.7L476.3 179.4L475.2 178.1Z" fill="#C71000"/>
<path d="M497.7 166.2L499.6 164.8L501.1 163.6L499.9 165.1Z" fill="#FF6F00"/>
<path d="M504.8 156.0L505.9 156.4L505.9 158.3L505.5 158.3Z" fill="#FF6F00"/>
<path d="M503.2 157.5L504.3 156.4L504.3 158.0L503.5 158.9Z" fill="#FF6F00"/>
<path d="M504.0 158.5L505.2 158.1L504.9 158.9Z" fill="#FF6F00"/>
<path d="M503.0 154.2L504.3 154.7L503.7 155.2Z" fill="#FF6F00"/>
<path d="M536.8 152.6L537.2 152.5L536.9 153.1Z" fill="#FFFFFF"/>
<path d="M538.2 149.9L538.7 149.7L538.5 150.2Z" fill="#FFFFFF"/>
<path d="M538.2 145.3L538.7 145.0L538.5 145.7Z" fill="#FFFFFF"/>
<path d="M520.6 162.2L521.1 162.0L520.9 162.7Z" fill="#FFFFFF"/>
<path d="M526.3 158.9L526.7 158.9L526.4 159.3Z" fill="#FFFFFF"/>
<path d="M557.8 163.2L558.3 163.2L558.0 163.5Z" fill="#FFFFFF"/>
<path d="M510.1 131.1L511.0 131.1L510.1 132.2Z" fill="#8A4198"/>
<path d="M512.6 128.5L513.2 128.5L512.8 129.0Z" fill="#8A4198"/>
<path d="M507.7 120.2L508.8 120.2L508.2 120.7Z" fill="#FF6F00"/>
<path d="M455.1 152.6L455.6 153.0L455.3 155.7L454.8 155.4Z" fill="#5A9599"/>
<path d="M456.7 162.8L457.2 163.2L456.9 163.5Z" fill="#5A9599"/>
<path d="M34.4 208.7L34.9 208.8L34.5 209.2Z" fill="#FFFFFF"/>
<path d="M38.5 196.4L40.2 197.0L39.1 197.2Z" fill="#FFFFFF"/>
<path d="M74.7 202.8L75.4 203.0L75.0 203.5Z" fill="#FFFFFF"/>
<path d="M62.3 171.3L62.8 171.4L62.5 171.7Z" fill="#FFFFFF"/>
<path d="M207.7 122.0L208.2 122.0L207.9 122.3Z" fill="#FFFFFF"/>
<path d="M212.6 147.9L213.5 147.9L213.0 148.6Z" fill="#FFFFFF"/>
<path d="M213.5 150.4L214.1 150.7L213.8 151.2Z" fill="#FFFFFF"/>
<path d="M213.7 151.8L214.0 152.1L213.8 152.3Z" fill="#FFFFFF"/>
<path d="M215.9 153.0L216.3 153.1L216.0 153.4Z" fill="#FFFFFF"/>
<path d="M212.6 154.7L212.9 154.9L212.7 155.1Z" fill="#FFFFFF"/>
<path d="M213.0 149.2L213.4 149.6L213.2 149.9Z" fill="#FFFFFF"/>
<path d="M212.4 146.6L212.7 146.8L212.6 147.0Z" fill="#FFFFFF"/>
<path d="M207.7 144.7L208.2 144.7L207.9 144.9Z" fill="#FFFFFF"/>
<path d="M201.0 154.4L201.6 154.9L201.3 154.9Z" fill="#FFFFFF"/>
<path d="M189.0 133.4L190.0 133.7L190.0 134.5L189.7 134.0Z" fill="#FF6F00"/>
<path d="M190.8 134.6L191.4 135.3L191.2 135.6Z" fill="#FF6F00"/>
<path d="M193.9 140.5L195.0 140.2L194.7 140.6Z" fill="#FF6F00"/>
<path d="M181.8 143.1L182.3 143.2L182.0 143.2Z" fill="#FFFFFF"/>
<path d="M319.8 173.9L320.3 174.0L320.0 174.5Z" fill="#FFFFFF"/>
<path d="M396.6 182.0L396.9 182.1L396.7 182.3Z" fill="#FFFFFF"/>
<path d="M424.8 167.2L425.2 167.7L425.0 168.3Z" fill="#FFFFFF"/>
<path d="M213.8 275.8L218.5 274.8L219.3 275.3L215.4 276.2Z" fill="#FFFFFF"/>
<path d="M237.4 272.7L239.0 272.7L238.2 273.0Z" fill="#FFFFFF"/>
<path d="M424.7 260.4L425.5 260.5L425.0 260.7Z" fill="#C71000"/>
<path d="M314.8 262.6L315.1 262.6L314.9 262.8Z" fill="#FF6F00"/>
<path d="M290.1 234.6L290.4 234.6L290.3 234.8Z" fill="#FFFFFF"/>
<path d="M300.5 200.3L300.8 200.3L300.7 200.4Z" fill="#FFFFFF"/>
<path d="M287.0 187.3L287.1 187.3L287.1 187.5Z" fill="#FFFFFF"/>
<path d="M187.9 64.3L191.1 64.0L192.6 65.1L189.5 65.6Z" fill="#008EA0"/>
<path d="M178.5 72.6L181.6 72.6L181.2 73.9L179.3 73.7Z" fill="#008EA0"/>
<path d="M183.2 73.6L184.8 73.6L184.8 74.9L183.5 74.7Z" fill="#008EA0"/>
<path d="M180.9 88.3L183.2 88.5L182.4 89.1Z" fill="#008EA0"/>
<path d="M184.0 83.0L185.6 83.0L185.1 84.1Z" fill="#008EA0"/>
<path d="M329.2 64.7L332.4 63.5L334.7 62.9L333.9 62.2L330.8 63.5Z" fill="#FF6F00"/>
<path d="M336.3 62.4L337.9 61.7L337.1 61.6Z" fill="#FF6F00"/>
<path d="M322.5 71.6L323.7 71.3L322.9 71.1Z" fill="#FF6F00"/>
<path d="M344.0 79.7L346.2 79.6L345.4 80.5L344.0 80.4Z" fill="#FF6F00"/>
<path d="M344.5 78.9L345.7 78.9L345.2 79.4Z" fill="#FF6F00"/>
<path d="M335.3 83.3L336.4 81.7L335.7 83.3Z" fill="#FF6F00"/>
<path d="M332.7 84.9L333.3 85.2L332.8 85.4Z" fill="#FF6F00"/>
<path d="M325.0 84.6L326.6 84.6L326.4 85.2L325.3 85.2Z" fill="#FF6F00"/>
<path d="M353.1 115.5L353.9 115.5L353.4 116.3Z" fill="#FFFFFF"/>
<path d="M350.3 110.8L351.4 110.8L350.9 111.3Z" fill="#FFFFFF"/>
<path d="M346.0 111.5L347.6 112.0L348.1 112.8L346.7 112.1Z" fill="#FFFFFF"/>
<path d="M298.3 80.1L299.9 79.9L299.2 80.9L298.0 81.3Z" fill="#FFFFFF"/>
<path d="M299.2 81.2L300.5 81.2L300.2 82.0Z" fill="#FFFFFF"/>
<path d="M304.4 78.8L305.5 78.8L304.9 79.2Z" fill="#FFFFFF"/>
<path d="M302.2 86.4L302.8 86.5L302.4 86.9Z" fill="#FFFFFF"/>
<path d="M191.8 246.6L193.7 246.6L193.4 249.0L191.5 249.0Z" fill="#FF6F00"/>
<path d="M191.1 252.3L192.6 252.6L192.6 255.5L191.4 255.5Z" fill="#FF6F00"/>
<path d="M191.8 256.3L193.7 256.8L194.2 259.6L192.2 259.2Z" fill="#FF6F00"/>
<path d="M194.2 260.4L196.6 260.7L198.1 262.3L195.8 262.5L193.7 261.3Z" fill="#FF6F00"/>
<path d="M199.7 263.6L203.6 263.6L204.1 264.2L201.3 264.7Z" fill="#FF6F00"/>
<path d="M208.0 263.1L209.4 263.1L208.8 263.4Z" fill="#C71000"/>
<path d="M195.0 47.8L202.8 45.7L210.7 42.5L223.2 41.2L239.0 40.5L257.8 39.1L270.4 40.8L278.2 42.5L290.8 42.5L282.9 44.9L281.3 47.3L279.8 49.8L280.6 52.2L278.2 54.6L275.1 57.0L275.1 60.3L270.4 61.9L267.2 63.5L259.4 64.3L254.7 66.8L249.9 68.2L246.8 69.2L245.2 71.6L242.9 74.9L241.3 77.3L239.0 77.3L234.2 75.7L231.1 73.2L228.7 70.8L226.4 67.6L225.6 64.3L229.5 61.9L224.0 60.3L223.2 57.0L220.1 53.8L215.4 51.4L206.0 51.4L199.7 50.6L198.1 48.9Z" fill="#FF6F00"/>
<path d="M213.4 66.6L209.1 69.2L207.6 71.6L208.3 73.1L202.1 71.3L206.0 74.2L199.7 72.8L196.6 71.6L192.6 70.0L187.9 70.3L187.1 69.2L191.1 68.7L189.5 67.1L188.4 65.1L187.5 63.5L185.6 61.9L182.4 61.1L176.9 61.3L174.6 61.1L170.7 60.3L169.9 59.5L168.3 57.9L169.9 54.9L176.2 55.1L181.6 55.4L183.2 55.1L187.1 56.2L191.8 57.4L198.1 59.0L202.1 60.3L204.4 61.9L210.7 64.3Z" fill="#008EA0"/>
<path d="M387.0 193.9L388.6 199.6L387.3 202.0L386.2 206.1L385.0 210.9L383.7 214.7L381.0 215.8L378.7 214.7L377.7 210.9L379.2 206.9L378.7 203.7L379.5 200.9L382.3 199.9L385.0 196.4Z" fill="#FF6F00"/>
<path d="M488.1 210.9L489.4 209.3L492.8 207.9L496.4 206.9L499.6 206.1L501.5 203.7L501.6 202.0L503.5 202.5L504.3 200.9L505.9 198.8L508.2 197.2L510.6 198.5L512.9 198.6L513.7 195.6L515.0 194.6L517.6 192.8L518.4 193.5L522.3 193.9L524.7 194.3L523.1 196.4L522.3 198.8L524.7 200.4L527.8 202.5L530.7 202.8L531.8 199.6L532.1 195.6L532.5 192.3L533.3 191.8L534.9 194.8L535.4 197.7L537.7 198.8L538.5 202.0L539.3 205.3L542.7 207.2L544.3 210.1L546.4 212.1L548.2 214.2L550.1 216.6L550.6 220.2L549.8 224.7L548.6 227.5L547.0 229.6L545.4 232.8L544.9 235.2L542.0 235.9L539.3 237.8L536.5 236.5L534.9 237.4L531.0 236.4L528.9 234.4L528.6 232.5L526.6 232.2L527.0 230.9L525.9 231.5L525.8 228.0L523.1 230.9L521.9 230.4L520.3 228.0L517.6 226.3L515.3 225.5L512.1 225.9L507.4 226.8L504.3 228.0L503.5 229.4L499.6 229.3L497.2 230.2L494.9 231.2L491.7 231.0L490.2 230.1L491.1 227.2L491.2 226.0L490.2 223.1L488.9 219.1L487.5 216.6L488.3 213.4Z" fill="#C71000"/>
<g clip-path="url(#c_namerica)">
<path d="M42.7 36.8L231.1 36.8L231.1 109.7L42.7 109.7Z" fill="#008EA0"/>
<path d="M121.2 121.0L160.5 121.0L176.2 132.4L176.2 144.5L171.0 144.5L169.7 145.3L169.7 145.7L166.7 145.7L166.7 146.6L167.7 148.4L165.6 148.6L164.8 149.9L164.8 151.0L163.6 153.4L121.2 142.1Z" fill="#008EA0"/>
<path d="M105.5 95.1L116.0 95.1L160.1 95.1L160.8 94.6L165.2 95.9L169.1 96.7L170.7 96.3L176.5 98.7L178.5 100.0L180.1 101.1L180.2 104.8L179.3 106.1L180.1 106.9L185.6 105.2L185.6 104.0L189.5 103.2L191.8 101.6L197.3 101.6L198.9 100.0L201.0 97.7L202.8 97.9L203.2 100.5L204.4 101.9L215.4 106.5L191.8 142.1L158.9 135.6L157.2 132.5L153.4 129.9L151.0 126.7L148.7 126.2L147.6 127.5L145.5 126.4L142.4 123.0L139.7 123.0L139.7 123.8L135.3 123.8L129.4 121.8L125.8 121.8L105.5 122.7Z" fill="#84D7E1"/>
<path d="M88.2 57.9L88.2 76.8L91.4 77.3L93.7 78.9L96.9 77.8L100.0 79.7L102.4 82.2L105.5 83.8L105.5 85.9L97.7 88.6L34.9 93.5L34.9 57.9Z" fill="#84D7E1"/>
<path d="M164.8 151.0L164.8 149.9L165.6 148.6L167.7 148.4L166.7 146.6L166.7 145.7L169.7 145.7L169.6 148.7L171.1 149.1L169.4 151.2L168.1 152.3L166.7 154.2L163.6 152.6Z" fill="#FF6F00"/>
<path d="M169.7 145.7L169.7 145.3L171.0 144.5L173.0 144.5L172.2 148.7L169.6 148.7Z" fill="#FF6F00"/>
<path d="M169.4 151.2L171.1 149.1L171.4 147.0L179.3 147.0L180.1 150.2L176.9 150.7L175.1 152.0L173.5 153.0L172.5 153.4L171.9 153.0L171.4 152.0Z" fill="#FF6F00"/>
<path d="M168.1 152.3L169.4 151.2L171.4 152.0L171.9 153.0L171.4 154.2L167.5 153.8Z" fill="#FF6F00"/>
<path d="M171.9 153.0L172.5 153.4L173.5 153.0L175.1 152.0L176.9 150.7L180.1 150.2L180.1 156.8L178.2 156.8L176.6 156.7L175.1 156.5L173.8 157.5L170.7 154.2Z" fill="#FF6F00"/>
<path d="M175.1 156.5L176.6 156.7L178.2 156.8L180.1 156.8L180.1 158.9L179.4 159.1L179.4 161.4L179.3 162.3L173.8 159.1Z" fill="#FF6F00"/>
<path d="M180.1 158.9L179.4 159.1L179.4 161.4L179.3 162.3L184.0 164.0L187.3 162.8L188.1 160.4L188.7 158.3L180.9 158.3Z" fill="#FF6F00"/>
</g>
<path d="M45.8 68.2L49.0 67.3L52.9 67.4L55.6 66.9L52.1 65.1L47.7 63.9L49.0 62.9L53.7 61.9L59.2 60.0L63.9 59.0L71.0 59.8L77.2 60.5L83.5 61.1L88.2 61.7L94.5 62.9L99.2 61.9L107.1 61.1L108.6 60.3L113.4 62.1L119.6 61.4L125.9 62.7L129.1 64.5L136.9 64.7L140.0 64.0L144.8 64.3L151.0 64.8L155.7 63.9L158.9 64.7L159.7 62.7L158.4 59.5L160.5 58.0L163.6 59.5L165.2 61.1L167.5 63.0L171.4 65.1L173.8 64.3L175.4 61.9L177.7 61.4L180.9 62.2L182.0 64.3L180.9 66.8L176.2 67.3L173.0 69.2L169.9 70.8L166.7 71.1L163.6 73.2L161.2 75.7L161.2 79.2L164.4 82.2L169.9 82.5L176.2 84.9L180.1 85.1L180.9 88.6L183.2 91.4L185.6 91.1L185.6 87.0L188.7 83.8L189.5 81.3L186.4 79.2L187.9 77.3L187.1 73.4L193.4 73.6L199.7 75.7L199.7 79.2L203.6 80.1L207.6 76.8L212.3 81.3L215.4 85.4L220.1 87.8L222.2 90.3L220.1 91.2L215.4 93.2L209.1 93.2L204.4 94.3L199.7 97.5L203.6 95.4L208.3 94.8L208.3 96.7L207.6 99.2L209.1 100.0L213.0 100.3L215.4 99.2L213.8 101.3L209.1 102.7L206.0 104.0L206.0 102.4L208.3 101.1L204.4 101.6L204.4 102.2L199.7 104.0L198.6 105.6L199.7 106.9L196.6 107.8L193.4 108.7L193.4 110.5L191.4 112.1L190.3 114.6L191.1 117.3L187.9 119.1L184.8 121.0L182.4 123.0L181.8 125.1L183.7 130.8L183.7 133.5L182.4 133.8L180.9 131.6L179.8 129.1L178.5 126.4L176.9 125.9L174.6 125.4L171.4 125.4L169.1 125.6L169.6 127.4L166.7 127.0L162.8 126.4L160.5 127.2L157.3 129.1L156.8 132.4L156.2 136.4L156.1 138.4L158.1 142.9L160.5 144.4L162.0 145.0L165.2 144.4L166.7 143.7L167.5 140.8L168.3 140.2L173.0 139.7L173.0 142.1L171.9 144.9L171.1 146.2L170.2 148.6L171.4 148.9L174.6 148.7L177.7 148.9L179.0 150.2L178.3 153.4L178.2 156.7L179.3 158.3L180.9 159.9L184.0 159.6L185.6 159.1L188.1 160.4L187.3 162.8L186.4 160.9L184.8 160.1L183.5 162.7L181.3 162.0L179.3 161.1L178.2 160.6L176.2 158.3L174.9 156.8L172.2 153.6L171.8 153.0L169.1 152.6L165.9 151.8L164.7 151.0L162.0 148.4L160.5 148.4L158.1 149.1L154.2 147.6L150.2 145.8L147.1 144.9L144.0 142.1L144.3 139.7L142.6 136.9L140.0 134.0L137.8 131.2L136.1 129.3L133.8 127.5L132.2 124.3L129.5 123.1L129.5 125.9L132.2 129.1L134.5 132.4L136.4 135.3L137.7 137.1L136.4 136.4L133.8 134.3L133.3 132.1L130.6 130.4L129.1 129.5L130.3 128.0L128.0 125.9L126.5 123.0L125.8 121.8L123.7 119.4L120.3 118.6L118.2 115.2L117.3 113.3L115.2 110.5L114.3 109.1L114.6 106.5L114.8 103.2L114.9 99.7L113.8 96.1L117.3 96.7L116.5 95.1L114.9 93.5L110.2 91.9L108.6 89.4L105.5 86.2L103.9 84.6L100.8 82.2L97.7 79.7L94.5 79.7L89.8 77.8L83.5 77.3L80.4 75.7L76.5 77.3L71.7 78.4L72.5 75.7L68.6 78.1L67.8 79.7L63.9 82.2L60.8 83.8L56.8 85.1L52.9 85.7L55.3 84.3L57.6 83.8L61.5 81.3L62.6 79.4L60.0 79.6L55.3 79.4L55.3 77.3L50.5 76.3L49.0 74.5L50.5 73.1L51.3 72.1L56.8 71.6L56.8 70.0L53.7 70.0L49.0 70.0Z" fill="none"/>
<g clip-path="url(#c_samerica)">
<path d="M176.2 150.2L262.5 150.2L262.5 271.7L176.2 271.7Z" fill="#8A4198"/>
<path d="M204.1 211.4L205.5 209.8L207.2 210.3L208.6 211.4L211.2 210.5L213.0 212.2L215.4 213.4L217.8 214.7L219.2 216.0L217.6 218.7L220.9 219.1L222.0 218.9L223.9 216.0L225.1 217.8L224.0 219.1L222.0 220.3L219.2 223.4L218.5 225.5L218.2 228.0L217.9 229.6L221.7 232.8L223.2 268.5L184.0 268.5L184.0 211.4Z" fill="#C71000"/>
<path d="M200.5 202.8L201.1 203.7L201.9 205.3L202.1 207.7L202.5 209.3L203.2 211.4L204.1 211.4L202.4 214.2L202.1 218.2L200.0 221.5L199.2 224.7L199.7 228.4L198.9 232.8L197.8 236.9L196.9 240.9L197.0 245.0L197.3 247.4L196.6 250.6L195.3 254.7L196.1 257.1L196.7 258.7L199.7 258.7L202.2 259.4L202.8 265.2L184.0 265.2L184.0 202.8Z" fill="#FF6F00"/>
<path d="M225.8 229.1L226.1 227.5L224.8 226.2L223.2 225.2L221.7 224.6L219.2 223.4L218.5 225.5L218.2 228.0L217.9 229.6L218.5 232.8L226.4 232.8Z" fill="#FF6F00"/>
<path d="M218.2 207.1L218.9 210.3L222.0 210.6L222.5 213.4L224.3 213.4L223.9 216.0L222.0 218.9L220.9 219.1L217.6 218.7L219.2 216.0L217.8 214.7L215.4 213.4L213.0 212.2L211.2 210.5L211.5 207.7L212.6 206.3L216.2 205.8Z" fill="#FF6F00"/>
<path d="M200.5 192.3L202.8 191.8L205.2 190.5L207.1 190.4L207.2 193.1L210.7 194.9L213.0 196.4L214.6 196.9L215.1 200.7L217.9 200.9L218.2 202.8L219.2 203.7L218.5 206.6L218.2 207.1L216.2 205.8L212.6 206.3L211.5 207.7L211.2 210.5L208.6 211.4L207.2 210.3L205.5 209.8L204.1 211.4L203.2 211.4L202.5 209.3L202.1 207.7L201.9 205.3L201.1 203.7L200.5 202.8L200.3 202.5L201.0 200.7L200.5 199.6L201.3 198.0L201.6 194.8Z" fill="#FFFFFF"/>
<path d="M199.7 181.3L195.0 182.6L193.7 186.3L195.3 189.7L198.9 189.9L198.8 192.3L200.5 192.3L201.6 194.8L201.3 198.0L200.5 199.6L201.0 200.7L200.3 202.5L200.5 202.8L199.2 204.3L196.6 205.3L179.3 190.7L179.3 180.0L183.5 180.0L183.5 181.6L185.3 182.6L186.4 181.0L187.5 179.4L189.5 178.6L191.1 176.9L191.5 174.7L194.2 176.9L195.8 178.4L199.2 180.7Z" fill="#FF6F00"/>
<path d="M185.9 172.2L187.9 173.7L191.1 174.5L191.5 174.7L191.1 176.9L189.5 178.6L187.5 179.4L186.4 181.0L185.3 182.6L183.5 181.6L183.5 180.0L179.3 180.0L179.3 171.3Z" fill="#FF6F00"/>
<path d="M188.1 160.4L187.3 162.8L184.0 164.8L184.0 171.3L185.9 172.2L187.9 173.7L191.1 174.5L191.5 174.7L194.2 176.9L195.8 178.4L199.2 180.7L199.7 181.3L200.6 176.4L199.7 174.5L200.5 173.4L200.0 171.7L204.6 172.6L203.9 171.3L203.2 167.2L203.6 164.5L199.7 163.2L196.6 163.2L196.1 161.5L195.0 159.1L195.8 156.7L197.7 155.4L198.1 153.4L190.3 155.1Z" fill="#C71000"/>
<path d="M197.7 155.4L195.8 156.7L195.0 159.1L196.1 161.5L196.6 163.2L199.7 163.2L203.6 164.5L203.2 167.2L203.9 171.3L204.6 172.6L206.8 173.2L209.9 171.3L209.1 170.4L209.1 168.0L212.3 168.0L214.3 166.1L213.4 163.2L215.4 160.7L217.0 158.3L212.3 153.4L198.1 153.4Z" fill="#FF6F00"/>
<path d="M215.4 160.7L213.4 163.2L214.3 166.1L215.2 166.1L215.7 168.0L215.9 171.6L218.5 172.1L220.9 171.4L219.6 169.2L218.5 168.0L219.6 166.4L220.0 164.9L220.1 162.3L217.0 159.1Z" fill="#FF6F00"/>
<path d="M220.0 164.9L219.6 166.4L218.5 168.0L219.6 169.2L220.9 171.4L221.7 171.4L223.9 170.8L224.8 168.8L224.0 167.2L224.8 165.1L224.8 162.3L220.1 162.3Z" fill="#FF6F00"/>
<path d="M224.8 165.1L224.0 167.2L224.8 168.8L223.9 170.8L227.2 170.4L228.6 167.7L231.1 166.4L224.8 162.3Z" fill="#FFFFFF"/>
</g>
<path d="M188.1 160.4L190.3 159.1L191.1 157.3L192.2 156.7L195.0 155.9L197.3 154.4L197.7 156.7L197.0 158.3L199.7 155.9L199.7 154.7L202.1 157.0L206.0 157.3L209.1 157.8L212.3 157.2L212.6 158.3L213.8 160.7L215.7 161.1L217.8 163.2L220.1 164.8L223.2 164.8L224.8 165.1L228.0 166.7L229.5 168.0L231.1 171.6L231.1 174.5L233.5 175.3L234.2 175.6L237.4 176.1L239.7 178.6L243.7 179.0L246.8 179.0L249.2 180.5L251.5 182.3L254.2 182.9L255.0 185.8L254.7 189.1L251.5 192.3L249.2 195.6L248.4 198.8L248.4 202.8L246.8 206.9L245.2 210.1L243.7 211.8L239.7 212.1L236.6 213.4L233.5 216.6L233.1 220.7L230.3 224.7L228.0 227.2L225.6 229.6L223.4 231.2L221.4 231.0L218.1 229.6L219.8 232.0L220.1 233.6L219.3 236.1L217.0 237.4L212.3 237.7L211.8 240.4L207.6 240.9L209.7 243.4L207.1 245.0L206.8 247.4L203.6 249.0L206.0 251.4L206.3 252.3L203.6 254.7L201.3 256.3L202.2 259.2L198.1 261.7L196.6 261.2L194.2 259.6L191.8 257.1L191.1 253.9L190.9 250.6L193.4 248.2L193.9 245.0L193.7 241.7L194.2 238.5L194.2 234.8L195.8 232.0L197.2 228.0L197.3 223.1L197.7 219.9L198.8 215.8L199.1 212.6L199.4 208.5L199.2 204.3L197.3 202.5L194.2 200.7L191.1 198.3L189.7 196.4L188.4 193.9L186.4 189.9L184.3 185.8L182.0 184.2L182.0 181.8L183.5 180.0L184.0 178.6L182.4 178.1L182.7 176.1L184.0 173.7L185.6 172.1L185.9 170.9L187.9 170.3L188.2 168.0L187.9 165.6L188.1 163.2L187.3 162.8Z" fill="none"/>
<g clip-path="url(#c_africa)">
<path d="M278.2 109.7L395.9 109.7L395.9 239.3L278.2 239.3Z" fill="#FF6F00"/>
<path d="M299.4 115.4L306.1 116.2L306.1 117.6L306.9 119.4L307.7 121.8L304.9 123.0L303.9 124.4L301.8 125.9L299.4 126.5L295.9 128.0L295.9 129.6L288.9 129.6L286.1 127.5L292.3 122.7L293.9 118.6Z" fill="#FF6F00"/>
<path d="M295.9 129.6L295.9 132.4L290.8 132.4L290.8 136.4L289.2 137.2L289.2 140.0L282.9 140.0L279.8 140.0L279.8 135.6L286.1 129.1L288.9 129.6Z" fill="#FF6F00"/>
<path d="M306.1 116.2L306.1 117.6L306.9 119.4L307.7 121.8L304.9 123.0L303.9 124.4L301.8 125.9L299.4 126.5L295.9 128.0L295.9 130.3L302.1 134.0L311.5 140.3L311.5 141.0L314.6 143.6L316.2 143.4L319.0 142.9L321.4 140.8L328.4 136.4L325.3 134.8L324.5 131.9L325.1 129.1L324.5 125.6L323.7 122.7L321.5 120.7L322.6 117.8L323.1 114.7L323.1 112.9L309.6 112.9Z" fill="#FF6F00"/>
<path d="M323.1 112.9L323.1 114.7L322.6 117.8L321.5 120.7L323.7 122.7L324.5 125.6L325.8 124.4L325.8 123.0L327.7 121.8L327.7 120.7L329.2 119.4L328.4 112.9Z" fill="#FF6F00"/>
<path d="M327.7 120.2L327.7 121.8L325.8 123.0L325.8 124.4L324.5 125.6L325.1 129.1L324.5 131.9L325.3 134.8L328.4 136.4L331.9 137.9L333.2 137.2L347.3 142.9L347.3 142.1L348.9 142.1L348.9 138.9L348.9 120.2Z" fill="#FF6F00"/>
<path d="M348.9 120.2L348.9 138.9L367.5 138.9L369.3 135.6L366.1 125.9L364.4 126.7L363.3 123.8L363.0 120.2Z" fill="#C71000"/>
<path d="M286.5 140.0L289.2 140.0L289.2 137.2L288.2 135.1L287.0 136.3Z" fill="#FFFFFF"/>
<path d="M279.8 140.0L289.2 140.0L289.2 137.2L290.8 136.4L290.8 132.4L295.9 132.4L295.9 130.3L302.1 134.0L299.4 134.0L301.0 147.8L301.3 148.1L300.8 149.4L295.0 149.4L292.8 149.6L291.5 149.2L290.4 150.5L289.2 149.4L286.8 147.6L283.7 148.6L279.8 148.6Z" fill="#FF6F00"/>
<path d="M302.1 134.0L311.5 140.3L311.5 141.0L314.6 143.6L316.2 143.4L316.2 147.3L315.1 149.6L311.0 150.4L308.8 150.2L306.5 151.5L304.9 152.3L303.3 153.0L302.5 154.2L301.3 155.4L301.0 157.7L299.9 157.3L297.0 158.0L296.6 156.7L295.5 154.4L293.1 155.1L291.7 154.4L291.7 153.4L290.4 150.5L291.5 149.2L292.8 149.6L295.0 149.4L300.8 149.4L301.3 148.1L301.0 147.8L299.4 134.0Z" fill="#FF6F00"/>
<path d="M279.8 148.6L283.7 148.6L286.8 147.6L289.2 149.4L290.4 150.5L291.7 153.4L291.7 154.4L288.1 154.1L286.1 153.9L283.4 154.4L279.8 154.4Z" fill="#FF6F00"/>
<path d="M279.8 152.1L286.1 152.1L287.9 152.6L286.1 153.1L279.8 153.1Z" fill="#FF6F00"/>
<path d="M283.4 154.4L286.1 153.9L288.1 154.1L288.1 155.5L286.1 156.7L282.9 157.5L281.3 154.4Z" fill="#FF6F00"/>
<path d="M286.1 156.7L288.1 155.5L288.1 154.1L291.7 154.4L293.1 155.1L295.5 154.4L296.6 156.7L297.0 158.0L297.7 159.9L296.6 162.2L294.8 162.5L294.8 160.9L293.4 160.7L293.0 159.8L292.0 158.3L290.0 158.5L288.7 159.9L286.1 160.7L283.7 157.5Z" fill="#FF6F00"/>
<path d="M288.7 159.9L290.0 158.5L292.0 158.3L293.0 159.8L293.4 160.7L291.5 163.3L290.0 164.8L286.8 160.7Z" fill="#FF6F00"/>
<path d="M291.5 163.3L293.4 160.7L294.8 160.9L294.8 162.5L296.6 162.2L296.3 164.0L297.8 165.1L297.8 167.4L297.8 168.8L290.8 165.6Z" fill="#FF6F00"/>
<path d="M297.8 168.8L297.8 167.4L297.8 165.1L296.3 164.0L296.6 162.2L297.7 159.9L297.0 158.0L299.9 157.3L301.0 157.7L302.2 158.8L304.9 158.5L305.4 159.3L305.2 161.9L304.6 163.5L305.2 166.2L305.2 168.8Z" fill="#FFFFFF"/>
<path d="M301.0 157.7L301.3 155.4L302.5 154.2L303.3 153.0L304.9 152.3L306.5 151.5L308.8 150.2L309.9 150.4L310.2 151.8L311.2 152.8L311.2 153.8L313.1 154.4L313.4 155.2L311.8 156.0L311.0 156.7L309.4 156.5L305.2 156.7L305.2 158.8L304.9 158.5L302.2 158.8Z" fill="#FF6F00"/>
<path d="M305.2 168.8L305.2 166.2L304.6 163.5L305.2 161.9L305.4 159.3L305.2 158.8L305.2 156.7L309.4 156.5L310.1 157.8L310.4 160.2L310.5 162.5L310.4 163.5L311.5 164.6L311.5 168.0Z" fill="#FF6F00"/>
<path d="M311.5 168.0L311.5 164.6L310.4 163.5L310.5 162.5L310.4 160.2L310.1 157.8L309.4 156.5L311.0 156.7L310.9 157.8L312.1 159.9L312.1 164.5L312.1 168.0Z" fill="#FF6F00"/>
<path d="M312.1 168.0L312.1 164.5L312.1 159.9L310.9 157.8L311.0 156.7L311.8 156.0L313.4 155.2L314.0 154.4L315.3 155.5L315.6 157.5L314.0 159.9L313.8 164.1L313.8 168.0Z" fill="#FF6F00"/>
<path d="M313.8 168.0L313.8 164.1L314.0 159.9L315.6 157.5L315.3 155.5L315.9 152.6L318.2 152.0L320.6 153.4L323.7 153.8L325.3 153.0L328.4 153.1L331.0 152.3L331.9 154.2L332.5 155.9L331.3 156.7L330.3 159.1L328.8 160.7L328.1 163.2L326.9 163.8L325.6 163.2L324.2 164.0L323.1 166.7L323.1 169.6Z" fill="#C71000"/>
<path d="M316.2 143.4L319.0 142.9L321.4 140.8L328.4 136.4L331.9 137.9L333.2 137.2L334.7 141.6L334.1 145.3L333.9 147.1L331.0 152.3L328.4 153.1L325.3 153.0L323.7 153.8L320.6 153.4L318.2 152.0L315.9 152.6L315.3 155.5L314.0 154.4L313.1 154.4L311.2 153.8L311.2 152.8L310.2 151.8L309.9 150.4L311.0 150.4L315.1 149.6L316.2 147.3Z" fill="#FF6F00"/>
<path d="M333.2 137.2L347.3 142.9L347.3 149.1L345.6 149.4L344.8 151.8L344.1 153.9L345.6 156.0L344.9 156.8L343.7 157.3L341.6 159.8L339.4 159.9L339.3 160.6L336.3 162.0L333.9 162.3L333.3 160.7L331.6 158.6L333.9 158.3L333.2 156.7L333.2 154.9L332.5 153.9L331.9 154.2L331.0 152.3L333.9 147.1L334.1 145.3L334.7 141.6Z" fill="#FF6F00"/>
<path d="M348.9 138.9L348.9 142.1L347.3 142.1L347.3 149.1L345.6 149.4L344.8 151.8L344.1 153.9L345.6 156.0L344.9 156.8L346.8 158.8L346.5 160.1L348.5 160.2L349.6 157.8L352.0 158.9L353.6 159.3L355.9 158.3L358.0 158.8L360.3 155.5L361.7 154.7L361.4 157.0L363.0 159.1L363.5 157.5L364.6 156.7L365.3 154.2L366.4 153.4L366.9 151.3L367.7 147.0L370.0 145.3L372.4 142.1L367.5 138.9Z" fill="#FF6F00"/>
<path d="M346.5 160.1L348.5 160.2L349.6 157.8L352.0 158.9L353.6 159.3L355.9 158.3L358.0 158.8L360.3 155.5L361.7 154.7L361.4 157.0L363.0 159.1L361.4 161.7L362.7 160.9L364.1 163.6L365.8 165.9L366.0 167.0L363.0 167.7L362.2 168.3L359.8 168.7L358.1 168.8L355.9 167.2L354.2 167.5L352.6 166.1L351.0 164.0L349.2 162.3L348.1 161.2Z" fill="#FF6F00"/>
<path d="M366.9 151.3L368.5 151.5L370.0 151.0L372.4 151.0L374.0 152.6L376.2 154.2L375.2 155.9L375.2 156.7L377.0 156.8L377.9 159.3L380.2 160.4L383.4 161.5L385.0 161.5L380.2 166.4L377.9 166.6L375.5 167.9L374.0 168.2L371.6 168.8L369.3 168.7L367.5 167.4L366.0 167.0L365.8 165.9L364.1 163.6L362.7 160.9L361.4 161.7L363.0 159.1L363.5 157.5L364.6 156.7L365.3 154.2L366.4 153.4Z" fill="#FF6F00"/>
<path d="M370.0 145.3L367.7 147.0L366.9 151.3L368.5 151.5L370.0 151.0L372.4 151.0L374.0 152.6L376.2 154.2L377.3 153.9L378.7 153.4L372.4 143.7Z" fill="#FF6F00"/>
<path d="M377.3 153.9L376.2 154.2L375.2 155.9L375.2 156.7L377.0 156.8L377.6 155.9L378.7 155.1Z" fill="#FF6F00"/>
<path d="M377.0 156.8L377.9 159.3L380.2 160.4L383.4 161.5L385.0 161.5L380.2 166.4L377.9 166.6L375.5 167.9L374.0 168.2L374.0 175.8L374.9 177.3L375.5 179.4L392.8 166.4L392.8 153.4L378.7 155.1L377.6 155.9Z" fill="#FF6F00"/>
<path d="M374.9 177.3L374.0 175.8L374.0 168.2L371.6 168.8L369.3 168.7L367.5 167.4L366.0 167.0L363.0 167.7L363.8 169.6L364.6 171.7L363.1 173.9L362.8 176.1L368.6 179.4L368.8 180.2L371.1 182.1L373.2 183.4L376.3 178.6Z" fill="#FF6F00"/>
<path d="M358.1 168.8L359.8 168.7L362.2 168.3L363.0 167.7L363.8 169.6L364.6 171.7L363.1 173.9L362.8 176.1L357.5 176.1L356.1 176.8L356.1 175.3L356.2 173.4L358.6 170.9L358.0 170.6Z" fill="#FF6F00"/>
<path d="M362.8 176.1L368.6 179.4L368.8 180.2L371.1 182.1L374.0 182.6L374.8 191.5L373.2 191.5L369.3 192.8L366.1 193.3L364.4 193.1L363.8 190.7L362.2 189.9L360.6 189.4L358.3 188.4L357.8 187.9L355.9 185.0L355.6 181.8L356.7 181.5L358.0 179.8L357.5 178.4L358.0 177.3L357.5 176.1Z" fill="#FF6F00"/>
<path d="M355.1 178.9L356.1 176.8L357.5 176.1L358.0 177.3L357.5 178.4L356.4 179.0Z" fill="#FF6F00"/>
<path d="M355.1 178.9L356.4 179.0L357.5 178.4L358.0 179.8L356.7 181.5L355.6 181.8Z" fill="#FF6F00"/>
<path d="M323.1 169.6L323.1 166.7L324.2 164.0L325.6 163.2L326.9 163.8L328.1 163.2L328.8 160.7L330.3 159.1L331.3 156.7L332.5 155.9L331.9 154.2L332.5 153.9L333.2 154.9L333.2 156.7L333.9 158.3L331.6 158.6L333.3 160.7L333.9 162.3L332.4 164.8L332.7 167.0L334.4 169.6L334.9 170.9L334.9 171.7L332.4 170.9L330.5 170.9L327.3 170.9L325.0 170.8L322.9 170.8Z" fill="#FF6F00"/>
<path d="M333.9 162.3L336.3 162.0L339.3 160.6L339.4 159.9L341.6 159.8L343.7 157.3L344.9 156.8L346.8 158.8L346.5 160.1L348.1 161.2L349.2 162.3L351.0 164.0L352.6 166.1L349.6 166.1L348.1 166.4L344.9 167.9L341.8 167.4L340.2 166.2L338.8 167.5L338.8 168.8L337.1 168.7L335.5 169.2L334.9 170.9L334.4 169.6L332.7 167.0L332.4 164.8Z" fill="#FF6F00"/>
<path d="M322.9 170.8L325.0 170.8L327.3 170.9L327.3 172.9L324.7 172.9L322.9 172.9Z" fill="#FF6F00"/>
<path d="M322.2 172.9L324.7 172.9L327.3 172.9L327.3 170.9L330.5 170.9L330.3 172.4L331.9 172.2L332.4 173.7L331.4 174.5L332.2 175.3L332.2 177.6L331.7 178.4L330.0 178.2L329.2 177.7L327.8 178.4L328.3 180.2L327.0 180.8L325.3 181.8L322.2 176.1Z" fill="#FF6F00"/>
<path d="M325.3 181.8L327.0 180.8L328.3 180.2L327.8 178.4L329.2 177.7L330.0 178.2L331.7 178.4L332.2 177.6L332.2 175.3L331.4 174.5L332.4 173.7L331.9 172.2L330.3 172.4L330.5 170.9L332.4 170.9L334.9 171.7L334.9 170.9L335.5 169.2L337.1 168.7L338.8 168.8L338.0 170.8L337.5 173.7L337.4 175.3L336.0 176.4L335.0 178.1L334.7 180.2L333.5 181.5L332.2 182.4L330.8 182.3L330.0 182.0L329.4 181.6L328.8 182.6L326.9 183.4Z" fill="#FF6F00"/>
<path d="M326.9 183.9L328.9 184.2L330.3 184.1L335.7 184.1L337.1 187.6L340.1 187.5L340.2 185.8L343.8 186.3L343.8 189.9L344.6 192.6L347.1 192.2L347.8 192.8L349.3 192.6L349.5 193.6L352.3 193.3L354.2 194.8L355.1 196.2L356.4 196.2L356.4 194.3L354.2 193.6L354.5 189.9L355.0 188.3L357.8 187.9L355.9 185.0L355.6 181.8L355.1 178.9L356.1 176.8L356.1 175.3L356.2 173.4L358.6 170.9L358.0 170.6L358.1 168.8L355.9 167.2L354.2 167.5L352.6 166.1L349.6 166.1L348.1 166.4L344.9 167.9L341.8 167.4L340.2 166.2L338.8 167.5L338.8 168.8L338.0 170.8L337.5 173.7L337.4 175.3L336.0 176.4L335.0 178.1L334.7 180.2L333.5 181.5L332.2 182.4L330.8 182.3L330.0 182.0L329.4 182.9L328.8 183.9Z" fill="#FFFFFF"/>
<path d="M326.9 202.4L328.1 202.4L330.0 202.0L331.6 202.7L338.6 202.7L342.6 203.7L346.3 203.0L344.1 200.7L344.1 195.6L347.3 195.6L347.1 192.2L344.6 192.6L343.8 189.9L343.8 186.3L340.2 185.8L340.1 187.5L337.1 187.6L335.7 184.1L330.3 184.1L328.9 184.2L326.9 184.2Z" fill="#FF6F00"/>
<path d="M326.9 183.9L328.8 183.9L329.4 182.9L330.0 182.0L329.4 181.6L328.8 182.6L326.9 182.9Z" fill="#FF6F00"/>
<path d="M347.1 192.2L347.8 192.8L349.3 192.6L349.5 193.6L352.3 193.3L354.2 194.8L355.1 196.2L356.4 196.2L356.4 194.3L354.2 193.6L354.5 189.9L355.0 188.3L357.8 187.9L358.3 188.4L360.6 189.4L362.2 189.9L361.9 192.0L361.4 194.8L360.9 196.4L361.7 197.2L357.0 198.5L357.3 199.8L355.0 200.4L352.0 203.7L349.3 203.3L346.3 203.0L344.1 200.7L344.1 195.6L347.3 195.6Z" fill="#FF6F00"/>
<path d="M362.2 189.9L363.8 190.7L364.4 193.1L363.9 194.8L364.6 196.4L365.8 198.0L365.8 200.4L365.0 202.2L363.5 200.4L363.8 198.8L361.7 197.2L360.9 196.4L361.4 194.8L361.9 192.0Z" fill="#FF6F00"/>
<path d="M374.8 191.5L373.2 191.5L369.3 192.8L366.1 193.3L364.4 193.1L363.9 194.8L364.6 196.4L365.8 198.0L365.8 200.4L365.0 202.2L363.5 200.4L363.8 198.8L361.7 197.2L357.0 198.5L357.3 199.8L359.8 201.2L361.4 202.0L361.1 205.3L360.6 209.0L358.7 210.8L359.8 214.2L359.8 216.5L360.0 217.9L361.3 218.1L363.0 218.2L367.7 213.4L375.5 198.8Z" fill="#FF6F00"/>
<path d="M349.3 203.3L352.0 203.7L355.0 200.4L357.3 199.8L359.8 201.2L361.4 202.0L361.1 205.3L360.6 209.0L358.7 210.8L355.8 210.5L353.6 209.5L353.1 207.7L350.7 206.1Z" fill="#FF6F00"/>
<path d="M349.3 203.3L350.7 206.1L353.1 207.7L353.6 209.5L355.8 210.5L353.6 211.4L352.0 212.7L350.3 214.5L349.6 216.1L345.7 215.5L343.7 217.9L342.1 218.1L341.0 214.7L341.0 210.1L342.6 210.1L342.6 204.1L346.2 203.7L348.1 203.7Z" fill="#FF6F00"/>
<path d="M326.9 202.4L328.1 202.4L330.0 202.0L331.6 202.7L338.6 202.7L342.6 203.7L346.3 203.0L349.3 203.3L348.1 203.7L346.2 203.7L342.6 204.1L342.6 210.1L341.0 210.1L341.0 214.7L341.0 220.5L339.4 221.3L337.1 221.0L335.5 220.8L333.2 221.5L328.4 210.1Z" fill="#FF6F00"/>
<path d="M333.2 221.5L335.5 220.8L337.1 221.0L339.4 221.3L341.0 220.5L341.0 214.7L342.1 218.1L343.7 217.9L345.7 215.5L349.6 216.1L350.3 214.5L352.0 212.7L353.6 211.4L355.8 210.5L358.7 210.8L359.8 214.2L359.8 216.5L358.7 216.3L358.0 217.9L358.7 218.7L360.0 217.9L361.3 218.1L363.0 218.2L361.4 232.8L336.3 232.8Z" fill="#C71000"/>
<path d="M352.0 222.5L353.6 221.2L354.8 221.0L355.8 222.3L355.1 223.4L353.9 224.1L352.5 223.6Z" fill="#C71000"/>
<path d="M359.8 216.5L358.7 216.3L358.0 217.9L358.7 218.7L360.0 217.9Z" fill="#FF6F00"/>
</g>
<path d="M300.3 116.5L301.3 116.3L304.9 117.3L306.5 117.6L309.6 116.5L312.0 115.4L314.3 114.9L317.4 114.9L321.4 114.6L325.0 114.1L326.9 114.6L326.1 115.4L326.2 117.0L326.9 118.6L325.3 119.4L326.9 120.7L329.2 121.2L330.3 121.2L333.5 122.2L333.9 123.5L337.1 124.4L339.4 125.4L341.0 124.3L341.0 122.2L343.4 121.2L345.7 121.7L348.9 123.1L352.0 123.8L355.1 124.4L356.7 123.8L358.3 123.3L360.3 124.0L363.3 123.8L364.4 126.7L363.5 129.1L363.3 129.6L362.2 128.7L360.8 126.1L360.6 126.7L361.4 128.3L362.7 130.4L363.8 132.4L365.3 135.6L365.5 136.4L367.5 138.9L368.0 140.5L368.0 142.9L370.0 145.3L371.6 149.2L374.0 151.0L376.3 153.4L377.6 154.2L377.1 155.9L378.7 157.5L381.8 157.0L385.0 156.4L388.1 155.9L390.1 155.2L389.8 157.5L389.4 159.9L387.3 163.2L385.7 166.4L383.4 169.6L381.8 171.3L380.7 171.3L378.7 172.9L376.3 175.3L374.9 177.3L372.7 178.9L371.9 181.0L371.1 182.6L370.5 185.0L371.6 187.5L372.1 190.7L373.2 191.5L373.3 194.8L373.7 198.0L373.2 200.4L370.8 202.0L367.7 203.7L366.1 205.3L364.6 206.9L364.1 208.5L365.3 210.1L365.3 213.4L361.4 215.5L361.3 216.6L361.3 218.2L360.6 220.7L358.3 223.1L356.7 225.2L354.3 227.5L352.8 228.4L349.9 229.6L347.3 229.7L344.1 229.9L341.0 230.9L338.6 230.1L338.3 227.6L338.2 225.9L336.8 223.1L335.5 220.8L333.5 218.2L333.2 215.0L332.4 211.6L330.8 208.5L329.2 204.5L328.1 202.4L328.1 200.4L328.9 198.0L330.6 194.8L331.3 192.3L330.3 189.1L329.7 185.8L328.9 184.2L328.8 182.6L328.1 181.8L326.9 180.7L325.0 178.6L323.7 176.1L324.2 173.7L324.7 172.9L325.0 170.8L324.8 168.8L324.5 168.0L322.9 167.2L320.6 167.4L319.0 167.5L318.2 165.6L316.7 164.3L314.9 164.1L312.7 164.3L311.5 164.6L309.6 165.3L306.5 166.7L304.9 166.2L303.3 165.9L300.2 166.6L297.8 167.4L295.5 166.4L292.6 164.3L291.5 163.3L290.0 162.3L288.9 160.7L288.7 159.1L286.8 157.5L286.1 156.7L284.5 155.1L283.4 154.4L283.2 152.6L282.1 150.7L283.7 148.6L283.7 145.3L284.2 142.9L282.9 140.5L284.5 136.1L286.8 132.4L289.2 129.6L292.3 127.8L293.9 126.7L294.4 125.1L294.2 123.5L295.2 121.8L297.7 120.1L298.9 119.4Z" fill="none"/>
<g clip-path="url(#c_eurasia)">
<path d="M286.1 36.8L615.8 36.8L615.8 174.5L286.1 174.5Z" fill="#8A4198"/>
<path d="M446.7 95.0L447.4 94.8L452.5 101.3L459.5 102.9L460.9 105.3L468.2 105.5L474.5 107.1L479.2 105.8L485.1 103.7L485.3 101.6L488.6 101.6L491.7 99.2L497.7 98.8L494.5 97.2L490.9 96.9L492.8 93.8L496.9 93.0L499.3 90.3L498.8 88.3L503.5 87.8L507.4 89.1L509.8 93.5L515.0 95.4L521.5 96.1L518.7 101.6L515.3 101.6L515.6 104.8L514.6 105.8L513.4 104.8L510.6 106.5L508.7 106.9L504.8 109.9L504.3 112.9L509.0 125.9L502.7 138.9L485.4 143.7L479.2 139.7L477.0 138.9L477.1 137.6L474.9 136.8L472.6 137.7L470.1 138.2L469.3 138.2L468.3 139.3L465.3 138.5L464.7 135.6L462.8 134.8L464.2 132.7L464.6 129.9L462.4 128.7L460.3 126.9L457.2 127.5L454.2 129.5L451.7 128.8L450.1 128.8L449.0 129.1L447.9 129.3L444.6 129.1L441.5 127.2L438.3 125.4L436.8 125.6L433.6 124.3L432.8 121.7L433.6 118.9L431.7 117.0L428.9 116.2L427.2 114.1L427.4 112.1L425.5 110.5L425.8 109.5L429.7 108.9L432.8 107.6L435.5 106.1L435.5 105.2L436.0 101.8L438.8 100.8L439.9 98.0L443.8 98.2L444.1 96.1Z" fill="#FF6348"/>
<path d="M447.4 94.8L452.5 101.3L459.5 102.9L460.9 105.3L468.2 105.5L474.5 107.1L479.2 105.8L485.1 103.7L485.3 101.6L488.6 101.6L491.7 99.2L497.7 98.8L494.5 97.2L490.9 96.9L492.8 93.8L488.6 93.2L483.9 94.6L479.2 94.3L476.8 93.0L470.1 92.7L469.7 91.2L463.9 90.6L462.7 93.8L454.0 92.4Z" fill="#FF6F00"/>
<path d="M504.8 109.9L508.7 106.9L510.6 106.5L513.4 104.8L514.6 105.8L516.1 106.5L513.7 111.3L511.2 112.0L508.5 113.3L505.9 113.4L504.3 112.9Z" fill="#FF6F00"/>
<path d="M511.2 112.0L508.5 113.3L505.9 113.4L505.9 119.4L513.7 119.4L514.5 112.9Z" fill="#FF6F00"/>
<path d="M382.6 95.9L383.4 94.3L385.7 93.5L388.9 90.7L392.8 91.4L395.9 92.4L400.7 91.9L405.4 92.2L403.8 90.3L405.4 87.0L411.7 86.4L417.9 84.9L421.1 86.7L425.0 87.3L429.7 86.7L435.2 91.9L439.9 91.9L443.8 94.1L446.7 95.0L444.1 96.1L443.8 98.2L439.9 98.0L438.8 100.8L436.0 101.8L435.5 105.2L435.5 106.1L433.6 105.2L427.4 105.0L425.0 105.6L421.1 106.0L419.5 108.1L416.4 108.1L414.0 106.5L413.2 104.8L411.5 103.7L406.9 104.0L405.4 102.6L401.4 100.8L397.5 101.6L397.5 107.6L395.6 106.5L392.8 106.5L392.0 106.8L389.7 104.8L388.1 101.6L386.5 99.5L385.7 99.0L383.4 96.7Z" fill="#FF6F00"/>
<path d="M397.5 107.6L397.5 101.6L401.4 100.8L405.4 102.6L406.9 104.0L411.5 103.7L413.2 104.8L414.0 106.5L416.4 108.1L419.5 108.1L421.1 106.0L422.6 107.3L424.2 108.4L422.2 109.4L420.3 108.4L420.3 109.4L417.9 109.4L417.1 110.5L415.6 110.8L416.4 112.9L416.0 114.2L414.0 113.9L411.7 112.1L407.7 109.7L406.8 107.8L403.8 106.8L403.8 106.1L401.4 105.3L399.1 107.6Z" fill="#FF6F00"/>
<path d="M392.0 106.8L392.8 106.5L395.6 106.5L397.5 107.6L399.1 107.6L401.4 105.3L403.8 106.1L403.8 106.8L406.8 107.8L407.7 109.7L411.7 112.1L414.0 113.9L410.9 115.7L408.5 116.5L405.7 116.8L405.4 115.2L402.7 113.8L399.6 112.6L396.7 112.9L394.4 114.1L394.2 114.1L391.2 113.8L389.7 109.7Z" fill="#FF6F00"/>
<path d="M420.3 107.3L421.1 106.0L425.0 105.6L427.4 105.0L433.6 105.2L435.5 106.1L432.8 107.6L429.7 108.9L425.8 109.5L425.5 110.5L421.9 110.5L418.7 110.3L420.3 109.4L422.2 109.4L424.2 108.4L422.6 107.3L421.1 106.0Z" fill="#FFFFFF"/>
<path d="M416.0 114.2L416.4 112.9L415.6 110.8L417.1 110.5L417.9 109.4L420.3 109.4L420.3 108.4L420.3 109.4L418.7 110.3L421.9 110.5L425.5 110.5L427.4 112.1L427.2 114.1L424.2 114.1L421.9 114.9L421.9 112.9L419.8 113.6L418.7 114.2Z" fill="#FF6F00"/>
<path d="M405.7 116.8L408.5 116.5L410.9 115.7L414.0 113.9L416.0 114.2L418.7 114.2L419.8 113.6L421.9 112.9L421.9 114.9L424.2 114.1L427.2 114.1L425.0 114.7L421.9 115.7L421.4 118.3L419.5 119.4L418.7 121.0L418.4 122.8L415.6 123.8L413.8 124.4L413.5 126.2L407.7 126.9L405.2 126.2L406.6 124.3L405.1 123.5L404.7 120.2Z" fill="#FF6F00"/>
<path d="M431.7 117.0L433.6 118.9L432.8 121.7L433.6 124.3L436.8 125.6L435.4 125.6L435.4 127.8L440.4 130.1L443.1 131.4L447.9 131.7L447.9 129.3L449.0 129.1L449.3 130.3L449.3 131.1L454.0 131.1L454.2 129.5L457.2 127.5L460.3 126.9L462.4 128.7L460.6 130.4L458.9 131.6L458.1 133.8L457.2 135.8L456.1 135.6L456.2 138.1L455.0 139.0L454.5 136.1L453.3 137.2L452.8 135.6L454.4 135.1L454.7 134.0L450.6 133.5L450.6 132.5L448.5 131.7L447.9 132.7L448.1 134.8L449.2 136.9L449.0 138.1L449.3 139.2L449.3 142.1L438.3 166.4L419.5 166.4L413.2 138.9L416.7 136.1L417.6 135.1L421.1 135.0L420.0 132.9L419.5 131.4L421.1 129.5L424.2 126.7L426.6 124.3L427.8 122.2L425.8 121.0L425.8 118.3L430.5 117.8Z" fill="#5A9599"/>
<path d="M406.3 133.7L406.5 131.9L408.8 131.1L409.0 130.4L408.2 128.7L405.2 126.2L407.7 126.9L413.5 126.2L413.8 124.4L415.6 123.8L418.4 122.8L418.7 121.0L419.5 119.4L421.4 118.3L421.9 115.7L425.0 114.7L427.2 114.1L428.9 116.2L431.7 117.0L430.5 117.8L425.8 118.3L425.8 121.0L427.8 122.2L426.6 124.3L424.2 126.7L421.1 129.5L419.5 131.4L420.0 132.9L421.1 135.0L417.6 135.1L416.7 136.1L413.2 138.9L406.3 137.2Z" fill="#008EA0"/>
<path d="M435.4 125.6L436.8 125.6L438.3 125.4L441.5 127.2L444.6 129.1L447.9 129.3L447.9 131.7L443.1 131.4L440.4 130.1L435.4 127.8Z" fill="#FF6F00"/>
<path d="M449.3 130.3L449.3 131.1L454.0 131.1L454.2 129.5L451.7 128.8L450.1 128.8Z" fill="#FF6F00"/>
<path d="M449.3 142.1L449.3 139.2L449.0 138.1L449.2 136.9L448.1 134.8L447.9 132.7L448.5 131.7L450.6 132.5L450.6 133.5L454.7 134.0L454.4 135.1L452.8 135.6L453.3 137.2L454.5 136.1L455.0 139.0L454.5 140.8L454.0 142.1Z" fill="#FF6F00"/>
<path d="M454.0 142.1L454.5 140.8L455.0 139.0L456.2 138.1L456.1 135.6L457.2 135.8L458.1 133.8L458.9 131.6L460.6 130.4L462.4 128.7L464.6 129.9L464.2 132.7L462.8 134.8L464.7 135.6L465.3 138.5L468.3 139.3L466.8 141.5L464.9 142.6L463.1 144.5L464.4 147.8L463.8 149.9L465.3 153.4L466.0 155.4L464.7 158.3L461.9 159.9L454.0 150.2Z" fill="#FF6F00"/>
<path d="M466.8 141.5L467.5 142.9L468.5 142.9L468.2 146.0L469.9 145.0L471.8 144.7L474.0 146.3L474.1 148.1L475.4 149.2L475.2 151.2L471.3 151.5L470.4 152.5L471.2 155.5L469.7 158.3L471.3 162.3L469.9 164.5L468.3 165.3L466.8 164.1L465.0 164.8L461.9 159.9L464.7 158.3L466.0 155.4L465.3 153.4L463.8 149.9L464.4 147.8L463.1 144.5L464.9 142.6Z" fill="#C71000"/>
<path d="M466.8 141.5L468.3 139.3L469.3 138.2L470.1 138.2L471.3 139.7L472.9 140.6L474.1 142.3L472.9 142.9L474.8 144.4L477.0 147.0L478.4 149.9L478.4 151.0L476.0 151.3L475.2 151.2L475.4 149.2L474.1 148.1L474.0 146.3L471.8 144.7L469.9 145.0L468.2 146.0L468.5 142.9L467.5 142.9Z" fill="#FF6F00"/>
<path d="M470.1 138.2L472.6 137.7L474.9 136.8L477.1 137.6L477.0 138.9L479.2 139.7L482.3 142.1L483.9 155.1L477.6 163.2L472.1 160.7L473.5 157.7L475.7 156.7L476.0 155.5L478.5 154.2L478.4 151.0L478.4 149.9L477.0 147.0L474.8 144.4L472.9 142.9L474.1 142.3L472.9 140.6L471.3 139.7Z" fill="#FF6F00"/>
<path d="M471.2 155.5L470.4 152.5L471.3 151.5L475.2 151.2L476.0 151.3L478.4 151.0L478.5 154.2L476.0 155.5L475.7 156.7L473.5 157.7L472.1 159.1L470.5 157.5Z" fill="#FF6F00"/>
<path d="M466.8 164.1L468.3 165.3L469.9 164.5L471.3 162.3L474.5 168.0L474.5 172.9L472.1 173.2L466.6 169.6L465.0 164.8Z" fill="#FF6F00"/>
<path d="M379.0 110.7L379.9 110.2L382.6 111.5L385.0 110.3L386.4 112.3L387.3 112.1L389.7 112.9L393.6 112.9L394.2 114.1L394.4 114.1L396.7 112.9L399.6 112.6L402.7 113.8L405.4 115.2L405.7 116.8L404.7 120.2L405.1 123.5L406.6 124.3L405.2 126.2L408.2 128.7L409.0 130.4L408.8 131.1L406.5 131.9L406.3 133.7L406.3 137.2L398.3 133.2L392.8 133.2L387.3 127.5L385.7 125.9L384.5 124.3L384.6 122.7L381.8 121.0L381.0 119.4L382.1 117.8L381.0 116.2L379.9 114.2L379.3 112.9L379.0 111.3Z" fill="#FF6F00"/>
<path d="M385.7 125.9L385.0 125.9L384.5 125.7L382.6 127.4L379.8 127.2L375.5 124.3L371.1 122.5L370.5 120.4L374.0 118.8L374.3 116.2L376.2 114.4L379.9 114.2L381.0 116.2L382.1 117.8L381.0 119.4L381.8 121.0L384.6 122.7L384.5 124.3Z" fill="#FF6F00"/>
<path d="M382.6 127.4L384.5 125.7L385.0 125.9L386.5 126.7L386.2 128.3L385.6 128.3L384.2 127.7Z" fill="#FF6F00"/>
<path d="M365.3 116.3L366.0 116.3L366.4 116.3L367.2 114.9L369.3 114.9L372.4 114.9L376.2 114.4L374.3 116.2L374.0 118.8L370.5 120.4L367.4 122.2L365.8 121.5L365.8 120.6L366.7 119.4L366.7 118.4L366.0 118.4L365.3 118.4Z" fill="#FF6F00"/>
<path d="M364.2 120.9L364.7 120.9L365.8 120.6L366.7 119.4L366.7 118.4L366.0 118.4L365.0 118.4Z" fill="#FF6F00"/>
<path d="M362.7 123.8L363.3 123.8L364.4 126.7L365.2 123.8L365.3 121.8L365.8 121.5L365.8 120.6L364.7 120.9L363.8 120.9Z" fill="#FF6F00"/>
<path d="M364.4 126.7L365.2 123.8L365.3 121.8L365.8 121.5L367.4 122.2L370.5 120.4L371.1 122.5L367.7 123.5L369.3 125.1L368.5 125.9L367.2 126.1L366.1 127.2L364.4 126.9Z" fill="#FF6F00"/>
<path d="M363.8 126.9L364.4 126.9L366.1 127.2L367.2 126.1L368.5 125.9L369.3 125.1L367.7 123.5L371.1 122.5L375.5 124.3L379.8 127.2L382.6 127.4L384.2 127.7L385.6 128.3L387.3 128.8L389.7 131.1L389.4 134.3L390.5 135.1L392.2 137.4L396.3 137.7L396.9 138.9L395.9 142.1L391.2 143.7L386.5 144.4L385.3 145.0L383.4 147.0L380.2 146.3L377.7 146.2L377.4 147.4L376.6 147.9L374.0 148.6L366.1 134.0Z" fill="#FF6F00"/>
<path d="M376.6 147.9L377.4 147.4L377.7 146.2L380.2 146.3L383.4 147.0L385.3 145.0L386.5 144.4L391.2 143.7L393.0 147.6L393.6 150.2L380.2 156.7L375.5 154.2L374.8 148.6Z" fill="#FF6F00"/>
<path d="M393.0 147.6L391.2 143.7L395.9 142.1L396.9 138.9L396.3 137.7L397.5 135.5L398.0 134.2L399.9 133.2L405.4 138.1L400.7 147.0L393.6 150.2Z" fill="#FF6F00"/>
<path d="M390.5 135.1L392.2 137.4L396.3 137.7L397.5 135.5L398.0 134.2L399.9 133.2L398.0 130.8L394.4 133.2L390.5 134.0Z" fill="#FF6F00"/>
<path d="M389.4 134.3L390.5 135.1L391.2 134.0L390.5 131.6L389.0 132.4Z" fill="#FF6F00"/>
<path d="M349.6 109.7L350.4 108.4L351.0 106.9L353.6 106.0L356.7 106.5L364.6 105.2L374.8 106.5L374.8 107.3L377.9 107.9L378.2 109.5L379.9 110.2L379.0 110.7L379.0 111.3L379.3 112.9L379.9 114.2L376.2 114.4L372.4 114.9L369.3 114.9L367.2 114.9L366.4 116.3L365.3 116.3L361.4 117.0L352.0 116.5L349.6 112.9Z" fill="#FFFFFF"/>
<path d="M372.4 104.2L376.3 104.5L378.4 105.5L381.0 105.6L382.4 106.6L382.6 107.9L380.2 107.6L377.9 107.9L374.8 107.3L374.0 106.5L371.6 104.8Z" fill="#FF6F00"/>
<path d="M377.9 107.9L380.2 107.6L381.2 108.4L382.6 110.5L382.6 111.5L381.0 110.5L379.9 110.2L378.2 109.5Z" fill="#FF6F00"/>
<path d="M380.2 107.6L382.6 107.9L382.4 106.6L385.9 106.8L388.9 108.1L388.1 112.3L386.4 112.3L385.0 110.3L382.6 111.5L382.6 110.5L381.2 108.4Z" fill="#FF6F00"/>
<path d="M344.5 96.1L345.1 95.0L347.3 92.7L346.7 90.9L352.0 90.9L357.5 91.2L358.3 90.1L362.2 89.8L365.3 92.7L369.3 93.5L372.4 94.1L372.4 96.7L369.7 98.2L367.7 101.6L361.4 103.2L356.2 101.3L353.9 100.8L356.5 99.2L355.4 96.7L351.4 96.3L348.1 96.9L345.6 96.7Z" fill="#C71000"/>
<path d="M351.4 96.3L353.7 98.7L353.9 100.8L356.5 99.2L355.4 96.7Z" fill="#FF6F00"/>
<path d="M346.5 87.0L347.1 89.1L346.7 90.9L352.0 90.9L357.5 91.2L358.3 90.1L359.8 88.3L358.3 86.2L358.1 84.4L353.9 83.6L351.4 84.3L349.6 86.7Z" fill="#FF6F00"/>
<path d="M342.6 84.9L342.6 83.6L348.7 83.1L351.4 84.3L349.6 86.7L346.5 87.0L345.4 86.4L345.2 85.6L341.8 84.9Z" fill="#FF6F00"/>
<path d="M341.8 83.6L342.6 83.6L348.7 83.1L351.4 84.3L353.9 83.6L352.6 81.3L349.6 80.5L347.9 80.7L345.7 80.2L341.8 80.9Z" fill="#FF6F00"/>
<path d="M345.7 80.2L347.9 80.7L349.6 80.5L352.6 81.3L353.1 80.5L353.6 78.1L353.6 77.3L344.9 77.6Z" fill="#FF6F00"/>
<path d="M347.6 67.9L346.7 65.1L341.9 62.7L349.9 62.4L350.4 61.1L353.6 61.1L355.1 62.6L354.3 63.5L356.7 64.8L355.1 66.3L356.7 68.1L356.1 69.7L359.1 72.6L353.2 76.5L347.3 77.8L341.8 77.3L341.8 71.6Z" fill="#FF6F00"/>
<path d="M347.6 67.9L346.7 65.1L341.9 62.7L341.0 63.7L337.9 63.5L334.7 66.0L332.4 67.6L330.8 70.0L328.4 71.6L328.8 74.9L329.7 75.7L328.1 77.6L327.2 78.9L326.6 80.5L328.4 85.4L332.4 85.4L340.2 78.9L339.4 74.1L344.1 70.0Z" fill="#FF6F00"/>
<path d="M341.9 62.7L341.0 63.7L337.9 63.5L334.7 66.0L332.4 67.6L330.8 70.0L328.4 71.6L328.8 74.9L329.7 75.7L328.1 77.6L327.2 78.9L326.6 80.5L320.6 81.3L315.1 78.9L315.9 72.4L328.4 64.3L341.0 58.7L359.8 58.7L358.0 61.4L355.1 62.6L353.6 61.1L350.4 61.1L349.9 62.4Z" fill="#FF6F00"/>
<path d="M331.9 86.2L331.9 87.2L332.5 89.4L333.2 91.9L334.7 92.5L336.3 92.9L339.1 94.3L341.0 94.8L345.1 95.0L347.3 92.7L346.7 90.9L347.1 89.1L346.5 87.0L345.4 86.4L340.7 86.4L339.4 85.4L334.7 85.4Z" fill="#C71000"/>
<path d="M320.9 87.0L323.1 85.6L325.1 85.7L326.9 85.4L331.9 86.2L331.9 87.2L332.5 89.4L333.2 91.9L328.8 93.0L331.3 95.6L329.7 97.2L326.1 97.5L324.7 97.5L321.5 97.4L322.5 95.1L319.6 94.3L319.6 93.0L319.2 92.4L319.0 90.6L320.6 89.9L320.9 88.2Z" fill="#8A4198"/>
<path d="M323.1 85.6L325.1 85.7L327.7 85.4L327.7 80.5L321.4 80.5L321.4 85.4Z" fill="#FF6F00"/>
<path d="M314.3 91.2L314.9 91.2L316.4 91.2L317.4 91.1L318.9 91.9L319.2 92.4L319.0 90.6L320.6 89.9L320.9 88.2L320.9 87.0L315.9 87.0Z" fill="#FF6F00"/>
<path d="M313.5 91.7L314.9 91.2L316.4 91.2L317.4 91.1L318.9 91.9L319.2 92.4L319.6 93.0L318.7 94.3L317.1 93.3L316.2 93.5L314.3 92.4L313.2 91.4Z" fill="#FF6F00"/>
<path d="M313.2 91.4L313.5 91.7L314.3 92.4L316.2 93.5L317.1 93.3L318.7 94.3L319.6 94.3L322.5 95.1L321.5 97.4L319.2 99.7L320.6 100.1L320.1 101.4L321.7 103.1L321.4 103.5L321.4 105.6L314.6 106.5L314.6 105.8L310.7 105.2L306.8 104.2L304.9 102.4L300.2 95.9L306.5 92.7Z" fill="#FFFFFF"/>
<path d="M315.1 106.5L314.6 105.8L310.7 105.2L306.8 104.2L304.9 102.4L293.9 102.4L293.9 117.0L309.6 116.5L315.9 109.7Z" fill="#008EA0"/>
<path d="M293.9 115.4L298.0 114.2L298.6 112.6L298.1 110.5L298.8 108.9L299.9 107.1L296.7 106.5L295.6 106.6L293.9 106.5Z" fill="#FF6F00"/>
<path d="M319.2 99.7L321.5 97.4L324.7 97.5L326.1 98.5L325.5 99.5L323.7 100.1L320.6 100.1Z" fill="#FF6F00"/>
<path d="M324.7 97.5L326.1 97.5L329.7 97.2L331.3 95.6L333.2 95.1L336.3 95.4L336.4 96.7L334.9 98.7L332.4 99.3L329.1 98.8L326.1 98.5Z" fill="#FF6F00"/>
<path d="M321.4 103.5L321.7 103.1L320.1 101.4L320.6 100.1L323.7 100.1L325.5 99.5L326.1 98.5L329.1 98.8L331.1 99.2L331.0 100.6L330.0 102.4L339.4 108.9L336.3 114.6L331.6 109.7L323.7 104.0Z" fill="#8A4198"/>
<path d="M328.8 93.0L333.2 91.9L334.7 92.5L336.3 92.9L339.1 94.3L336.3 95.4L333.2 95.1L331.3 95.6Z" fill="#FF6F00"/>
<path d="M336.3 95.4L339.1 94.3L341.0 94.8L345.1 95.0L344.5 96.1L341.8 95.9L339.1 97.1L336.4 96.7Z" fill="#FF6F00"/>
<path d="M334.9 98.7L336.4 96.7L339.1 97.1L341.8 95.9L344.5 96.1L345.6 96.7L343.4 99.7L341.5 99.8L339.1 100.1L336.3 100.0Z" fill="#FF6F00"/>
<path d="M341.5 99.8L343.4 99.7L345.6 96.7L348.1 96.9L351.4 96.3L353.7 98.7L353.9 100.8L356.2 101.3L356.7 102.4L354.5 103.7L352.0 103.1L348.9 103.7L345.2 102.9L344.9 102.1L343.2 101.9Z" fill="#FF6F00"/>
<path d="M345.2 102.9L348.9 103.7L352.0 103.1L354.5 103.7L355.1 104.8L353.6 106.5L351.0 106.9L348.9 107.6L345.7 107.6L344.8 106.0L344.9 104.5Z" fill="#FF6F00"/>
<path d="M331.1 99.2L332.4 99.3L334.9 98.7L335.5 99.3L333.9 100.8L331.0 100.8Z" fill="#FF6F00"/>
<path d="M331.0 100.8L333.9 100.8L335.5 99.3L336.3 100.0L339.1 100.1L339.7 101.6L336.3 101.3L334.7 101.9L335.5 103.2L337.4 104.8L338.6 105.8L336.3 105.6L332.4 103.2L330.3 101.6Z" fill="#FF6F00"/>
<path d="M334.7 101.9L336.3 101.3L339.7 101.6L340.2 103.2L339.4 104.4L338.6 105.5L337.4 104.8L335.5 103.2Z" fill="#FF6F00"/>
<path d="M339.1 100.1L341.5 99.8L343.2 101.9L344.9 102.1L345.2 102.9L344.9 104.5L344.8 106.0L343.4 106.1L341.8 105.2L340.2 104.5L340.2 103.2L339.7 101.6Z" fill="#FF6F00"/>
<path d="M338.6 105.8L338.6 105.5L339.4 104.4L340.2 104.5L341.5 105.2L340.4 105.6L339.9 106.6L338.6 106.5Z" fill="#FF6F00"/>
<path d="M341.5 105.2L341.8 105.2L343.4 106.1L343.0 106.5L341.9 106.5L341.2 105.6Z" fill="#FFFFFF"/>
<path d="M341.8 108.1L341.9 106.5L343.0 106.5L343.4 106.1L344.8 106.0L345.7 107.6L344.9 107.9L342.6 108.2Z" fill="#FFFFFF"/>
<path d="M339.4 106.5L339.9 106.6L340.4 105.6L341.2 105.6L341.9 106.5L341.8 108.1L342.6 108.2L342.1 109.2L341.0 110.2L339.4 109.7Z" fill="#FF6F00"/>
<path d="M341.0 110.2L342.1 109.2L342.6 108.2L344.9 107.9L345.7 107.6L348.9 107.6L351.0 106.9L350.4 108.4L349.6 109.7L348.9 116.2L342.6 116.2L340.2 111.3Z" fill="#FFFFFF"/>
</g>
<path d="M295.6 114.6L294.8 111.8L295.8 108.9L295.8 106.6L295.2 104.8L297.0 103.7L301.0 103.9L304.1 104.0L306.8 104.2L307.7 102.4L307.9 100.0L306.1 98.0L302.5 96.9L302.2 96.1L304.9 95.4L307.1 95.8L306.8 94.0L307.9 94.5L309.9 94.3L312.0 93.3L312.1 92.0L313.5 91.7L315.1 91.2L316.2 90.3L317.0 88.6L318.2 88.0L320.6 88.0L322.5 87.7L323.3 87.0L323.1 85.4L322.3 84.4L322.5 82.2L324.5 81.8L326.2 81.0L325.9 83.0L326.6 83.5L325.3 84.6L324.7 85.4L325.3 86.2L326.9 86.4L326.9 87.0L328.4 86.7L330.8 86.4L331.9 87.2L334.7 86.5L338.6 85.9L340.2 86.4L341.0 86.2L342.6 85.1L342.6 83.8L342.6 82.2L343.7 81.2L344.9 81.0L346.5 82.2L347.8 81.8L347.9 80.1L346.5 79.4L346.5 78.6L348.9 78.1L353.6 78.1L356.7 77.5L354.3 76.5L352.0 76.5L348.9 77.0L345.7 77.5L343.4 76.5L343.4 74.9L343.0 73.2L344.9 71.6L348.1 69.5L349.5 69.0L347.6 67.9L344.1 68.2L342.9 70.0L339.4 72.1L337.1 74.1L336.6 76.2L339.1 77.6L337.9 78.9L335.8 81.3L335.3 82.8L334.4 83.6L332.1 84.6L330.0 84.8L329.5 83.5L328.4 81.3L327.2 78.9L326.2 78.1L324.5 79.1L322.2 80.4L320.6 80.5L318.5 79.4L317.6 77.3L317.4 74.9L317.9 73.7L320.6 72.4L323.7 71.3L326.1 70.0L328.4 68.4L330.0 66.8L332.4 65.1L333.9 63.9L337.1 62.2L339.4 61.1L343.4 60.8L346.5 59.8L349.9 59.3L353.6 59.5L358.3 60.6L355.1 61.4L358.0 61.4L361.4 62.1L366.1 62.6L374.0 65.1L374.4 66.8L372.4 67.4L369.3 67.6L363.8 66.8L361.4 66.6L363.8 69.2L364.6 70.3L368.5 71.1L369.3 70.0L373.2 70.0L372.4 68.4L375.5 66.8L378.7 67.3L378.7 64.7L377.9 63.5L381.8 64.3L381.8 66.3L386.5 64.7L392.8 63.0L395.9 63.5L400.7 62.9L403.8 63.4L404.6 61.4L410.1 62.2L414.8 63.0L417.1 63.9L414.8 61.4L414.8 59.5L417.1 56.6L419.5 55.8L423.4 56.6L423.9 59.5L422.6 62.7L425.0 65.1L422.6 67.1L425.8 66.0L425.8 63.5L425.3 61.1L426.6 57.0L428.1 57.5L430.5 57.9L432.1 59.5L435.2 57.9L436.0 55.4L444.6 54.6L446.2 53.0L454.0 51.7L463.5 50.9L473.4 48.6L477.6 49.8L485.4 50.6L487.8 52.2L482.3 54.3L487.0 54.9L493.3 55.4L496.4 56.2L502.7 55.4L509.0 55.8L512.9 58.7L518.4 58.7L524.7 58.7L529.4 57.0L538.8 57.4L545.1 58.7L548.2 59.6L556.1 59.5L560.8 60.8L563.9 61.7L571.8 61.6L576.5 61.1L578.1 62.4L585.9 61.4L592.2 62.7L596.9 63.9L603.2 65.6L608.2 67.4L603.2 70.0L595.3 68.7L593.8 67.1L590.6 69.2L588.3 69.7L591.4 73.2L584.4 74.4L579.6 76.2L577.0 77.3L570.2 77.0L566.3 77.6L567.1 79.7L564.7 80.9L566.0 83.5L563.6 85.4L560.8 88.3L558.1 90.3L555.6 91.9L554.5 88.6L553.9 85.4L554.0 82.2L556.9 79.7L560.8 76.5L565.5 74.1L567.1 73.2L560.8 74.9L556.1 74.5L553.0 78.4L548.2 78.9L542.0 78.1L534.1 78.6L529.4 81.3L524.7 85.4L523.1 87.0L526.3 87.3L530.2 87.8L531.4 89.9L530.2 93.5L529.9 96.7L526.3 100.0L522.3 103.2L518.4 105.3L516.8 104.5L514.8 106.0L513.2 108.1L510.6 109.7L509.8 111.0L511.3 112.6L512.8 114.6L512.9 116.5L512.1 117.6L509.8 118.3L508.0 118.8L508.2 116.2L508.4 114.6L507.4 113.4L505.9 112.9L506.3 110.8L504.8 109.9L501.1 111.0L500.0 111.6L501.1 108.9L499.6 108.2L496.4 110.8L494.4 111.3L495.6 112.9L496.4 114.1L499.3 113.3L501.9 114.1L499.6 115.4L497.2 117.3L497.2 118.6L498.8 120.2L500.8 123.0L500.8 124.6L498.5 125.4L501.1 126.2L500.4 128.7L498.0 131.6L497.2 133.2L494.9 134.8L492.5 136.9L488.9 138.4L487.0 138.9L483.9 139.8L482.8 140.5L482.6 141.6L482.0 139.7L479.6 139.5L477.3 140.8L475.7 143.7L476.8 146.2L479.5 148.6L481.0 151.8L481.2 154.2L480.7 155.9L477.6 157.7L476.8 159.1L474.5 160.6L474.5 158.3L473.5 157.7L472.1 157.3L471.3 155.9L470.5 154.7L468.2 153.9L467.9 152.8L466.6 153.0L466.4 155.1L465.3 157.5L465.5 159.6L466.9 160.9L467.4 162.8L469.1 163.3L470.1 164.5L471.9 166.7L472.1 170.0L473.2 172.2L472.1 172.4L470.1 170.9L468.6 169.6L467.5 167.7L467.1 165.6L466.8 164.0L465.8 162.8L464.2 161.2L463.9 159.1L464.4 157.5L464.6 155.1L463.8 151.8L463.0 149.4L462.8 147.8L461.6 147.0L459.2 148.9L457.7 148.6L458.0 145.3L456.9 142.9L455.3 141.6L454.4 140.5L453.7 138.4L451.7 138.9L449.3 139.2L447.8 139.3L446.2 140.0L445.9 141.3L443.8 142.6L441.5 144.9L438.8 147.4L436.8 148.9L435.5 150.2L435.4 152.6L434.9 155.9L434.9 157.8L433.6 159.4L432.4 160.1L431.3 161.4L429.7 159.9L429.2 158.3L428.1 155.4L427.0 153.4L426.3 150.2L425.0 147.8L423.9 143.7L423.7 140.5L423.4 138.9L422.8 140.0L420.8 140.8L417.9 138.4L419.5 137.2L417.1 136.4L415.4 135.6L414.8 134.3L414.0 133.4L410.1 133.5L406.3 133.7L402.2 133.4L399.6 132.9L398.8 130.8L395.2 131.4L392.0 129.9L389.7 127.8L388.1 125.7L386.5 125.3L385.7 125.9L385.0 126.9L385.7 128.3L387.3 130.4L388.4 131.6L389.4 133.2L390.0 132.2L390.6 134.0L390.5 135.1L392.8 135.5L395.2 135.0L396.4 133.5L397.8 132.1L398.1 134.0L399.1 135.6L401.6 136.3L403.5 138.1L401.9 141.3L400.3 143.7L399.1 145.3L396.3 146.5L394.4 147.0L391.6 148.3L388.1 150.2L385.7 151.8L381.8 153.0L380.2 153.8L377.9 153.9L377.4 152.6L376.8 150.2L376.6 147.9L375.5 146.2L374.0 143.7L371.1 139.7L370.0 136.4L368.0 134.0L366.9 131.6L365.0 129.1L364.4 126.7L363.3 123.8L364.2 122.3L364.7 120.9L365.3 119.6L366.0 118.4L365.8 117.0L366.1 116.2L366.4 115.2L365.3 115.2L363.8 115.0L362.2 116.0L360.6 116.0L358.3 114.9L357.5 115.7L355.1 115.4L353.6 115.0L352.5 114.6L352.5 112.9L351.2 112.1L351.7 110.5L350.7 109.7L350.7 109.2L350.4 108.4L348.9 108.2L347.3 108.6L347.6 109.5L346.5 109.4L345.6 108.9L345.1 109.7L345.7 110.8L346.5 112.1L347.3 112.9L346.0 112.9L346.0 113.8L345.7 115.4L344.8 115.4L343.7 114.9L342.9 113.3L343.7 112.5L342.6 112.1L342.1 111.3L341.3 110.3L340.2 108.9L340.1 107.3L339.7 106.5L338.6 105.6L337.1 104.8L334.7 104.0L333.5 102.9L332.4 101.3L331.1 101.8L331.0 100.6L329.1 101.0L328.9 102.7L330.8 103.9L331.9 105.6L334.7 106.6L334.7 107.4L337.1 108.4L338.6 109.5L337.9 110.0L336.3 108.9L335.7 110.0L336.4 111.3L335.5 112.3L334.7 113.1L334.2 112.6L334.7 110.8L333.9 109.7L332.8 108.7L331.9 108.4L330.0 107.6L328.8 106.8L326.9 105.6L325.9 104.4L325.3 103.2L323.4 102.6L321.4 103.5L319.8 104.7L317.4 104.4L315.9 104.0L314.5 104.7L314.6 105.8L314.6 106.6L313.1 107.4L310.9 108.4L309.3 110.5L309.9 111.6L308.7 112.9L307.2 114.1L306.1 114.9L302.7 115.0L301.1 116.0L299.7 115.2L298.6 114.2Z" fill="none"/>
<path d="M26.7 310.7L36.5 308.6L44.8 309.6L52.1 308.2L62.5 309.6L71.9 305.0L62.5 303.4L66.7 299.8L75.0 297.7L87.6 295.7L98.0 294.6L108.4 293.4L118.8 293.8L127.2 294.6L135.5 295.9L152.2 296.1L147.0 293.6L150.1 291.5L158.4 291.7L166.8 292.7L177.2 293.1L184.5 293.8L188.7 292.1L190.7 288.4L197.0 286.3L200.1 283.1L205.3 281.1L208.5 278.6L214.7 276.9L217.8 274.8L223.1 273.3L221.4 275.8L215.8 277.5L210.5 280.4L208.0 283.1L211.6 286.3L214.1 290.9L213.0 295.0L208.5 297.3L201.2 298.4L193.9 298.8L185.5 299.6L177.6 301.3L185.5 302.9L192.8 305.0L200.1 304.6L205.3 306.7L210.5 307.5L214.7 310.5L218.9 308.8L224.1 305.7L229.3 304.6L237.6 305.0L242.9 304.2L249.1 302.5L253.3 303.4L273.1 303.8L260.6 302.1L255.4 300.9L261.6 299.2L268.9 297.3L277.3 294.6L280.4 292.5L291.8 289.4L300.2 288.1L310.4 287.9L320.8 288.4L333.4 287.3L352.1 288.4L360.5 285.2L368.8 287.7L379.2 283.1L387.6 282.1L393.8 280.6L400.1 282.7L408.4 283.4L417.8 284.2L418.8 288.4L413.6 292.5L423.0 288.4L435.5 283.8L445.9 281.7L456.3 281.3L466.8 280.4L477.2 281.7L485.5 280.4L489.7 282.7L498.0 282.1L508.5 281.3L525.1 281.5L535.6 283.1L541.8 284.8L550.2 285.9L562.7 287.9L577.3 290.0L562.7 294.6L575.2 299.8L558.5 304.6L571.0 308.8L591.2 310.7Z" fill="#fff" style="stroke-width:0.7"/>
<ellipse cx="54.0" cy="304.5" rx="3.0" ry="0.8" fill="#fff" stroke="#000" stroke-width="0.7"/>
<ellipse cx="62.0" cy="302.0" rx="3.0" ry="0.8" fill="#fff" stroke="#000" stroke-width="0.7"/>
<ellipse cx="66.0" cy="305.5" rx="4.0" ry="1.0" fill="#fff" stroke="#000" stroke-width="0.7"/>
<ellipse cx="231.0" cy="304.0" rx="6.0" ry="2.5" fill="#fff" stroke="#000" stroke-width="0.7"/>
<circle cx="39.0" cy="196.5" r="0.7" fill="#555" stroke="none"/>
<circle cx="34.2" cy="208.4" r="0.7" fill="#555" stroke="none"/>
<circle cx="28.1" cy="203.6" r="0.7" fill="#555" stroke="none"/>
<circle cx="74.2" cy="202.5" r="0.7" fill="#555" stroke="none"/>
<circle cx="81.2" cy="200.3" r="0.7" fill="#555" stroke="none"/>
<circle cx="88.1" cy="203.2" r="0.7" fill="#555" stroke="none"/>
<circle cx="94.6" cy="203.8" r="0.7" fill="#555" stroke="none"/>
<circle cx="89.8" cy="188.9" r="0.7" fill="#555" stroke="none"/>
<circle cx="61.7" cy="170.7" r="0.7" fill="#555" stroke="none"/>
<circle cx="58.5" cy="167.5" r="0.7" fill="#555" stroke="none"/>
<circle cx="32.0" cy="245.1" r="0.7" fill="#555" stroke="none"/>
<circle cx="137.4" cy="218.1" r="0.7" fill="#555" stroke="none"/>
<circle cx="42.0" cy="199.0" r="0.7" fill="#555" stroke="none"/>
<circle cx="185.0" cy="228.5" r="0.7" fill="#555" stroke="none"/>
<path d="M185.5 130.2L189.0 132.7L192.4 136.1L195.9 138.2" fill="none" style="stroke:#666;stroke-width:0.5"/>
<path d="M203.6 144.1L208.4 143.8L211.9 145.9L213.3 149.3L213.7 152.8L213.0 155.6" fill="none" style="stroke:#666;stroke-width:0.5"/>
<path d="M355.3 107.8L353.9 107.3L353.6 106.5L353.4 105.3L354.5 104.2L354.7 103.2L356.2 101.3L356.7 100.3L357.8 99.2L359.8 99.5L362.4 100.0L360.6 101.0L362.0 102.2L363.0 102.6L365.2 101.6L366.9 101.3L368.2 101.6L370.0 102.6L372.4 104.2L374.0 104.8L374.9 106.1L374.8 107.3L372.4 108.1L369.3 108.1L366.9 107.6L364.6 106.5L361.4 106.5L358.3 107.9Z" fill="#fff"/>
<path d="M364.6 99.7L366.9 98.8L369.3 98.2L371.3 98.0L369.6 99.5L368.9 100.3L367.4 101.0L365.3 101.0Z" fill="#fff"/>
<path d="M383.4 100.8L385.7 100.0L388.1 98.8L391.2 98.7L392.8 99.2L392.8 101.1L390.5 101.3L389.7 102.4L388.6 102.7L390.5 104.5L392.0 105.6L392.3 107.3L394.4 107.3L395.2 108.1L392.8 108.9L392.8 110.5L394.4 112.1L394.4 114.1L392.8 114.9L389.7 115.0L387.3 113.9L386.5 112.5L386.8 110.8L387.3 109.2L386.5 107.3L385.0 106.0L384.2 104.8L384.2 102.4Z" fill="#fff"/>
</g>
<g class="m" transform="translate(767,328.2)">
<path d="M300.7 93.3L303.3 93.0L304.1 92.5L306.5 92.5L309.6 92.2L311.6 91.7L311.8 91.2L310.7 91.1L312.1 90.1L312.3 89.1L310.4 88.6L309.9 87.8L309.4 87.0L307.7 86.0L307.2 85.1L306.5 84.1L304.9 83.8L305.7 83.1L306.5 82.2L306.8 81.2L304.1 81.0L303.3 81.2L304.7 79.6L301.8 79.6L301.3 80.4L300.5 81.7L300.7 83.0L301.0 84.6L301.9 84.9L301.8 85.7L304.1 85.6L304.9 87.0L304.7 88.0L302.5 88.2L303.0 89.0L302.1 89.0L303.2 89.6L301.4 90.4L303.0 90.9L304.9 91.2L304.1 91.6L302.5 91.9Z" fill="#FFFFFF"/>
<path d="M300.2 89.9L299.7 88.2L300.2 86.7L298.1 86.9L296.7 86.2L298.1 84.9L296.3 85.7L296.3 86.5L293.9 86.7L294.2 88.0L295.5 88.3L294.7 89.3L293.4 90.1L293.9 90.9L296.3 90.9L298.6 90.1Z" fill="#FF6F00"/>
<path d="M300.2 86.7L301.0 86.2L299.9 85.1L298.1 84.9L296.7 86.2L298.1 86.9Z" fill="#FFFFFF"/>
<path d="M271.9 68.4L274.3 66.9L276.6 68.4L278.2 67.6L281.3 67.4L284.5 66.8L286.8 67.3L288.2 68.9L286.8 70.2L282.9 71.1L279.8 71.8L276.6 71.1L274.0 71.1L275.1 70.3L271.9 69.4L275.1 68.7Z" fill="#FF6F00"/>
<path d="M326.1 45.4L334.7 44.9L342.6 45.7L339.4 47.3L342.6 48.1L336.3 50.4L331.6 48.9L326.9 47.0Z" fill="#FF6F00"/>
<path d="M337.9 44.6L344.1 44.1L352.0 44.6L350.4 46.0L342.6 45.9Z" fill="#FF6F00"/>
<path d="M342.6 47.8L347.3 48.3L345.7 49.3L343.4 48.9Z" fill="#FF6F00"/>
<path d="M390.5 58.5L392.8 60.0L395.9 60.0L399.9 60.0L398.3 57.9L397.2 55.9L394.4 55.8L392.8 57.0L392.0 58.2Z" fill="#FF6348"/>
<path d="M394.4 55.4L398.3 55.6L400.7 54.1L404.6 53.0L411.7 51.7L417.1 50.4L417.1 49.8L411.7 50.4L403.8 51.4L399.1 52.5L395.9 54.1Z" fill="#FF6348"/>
<path d="M380.2 43.9L388.1 43.4L391.2 44.4L385.0 44.9L380.2 44.6Z" fill="#FF6348"/>
<path d="M394.4 44.1L400.7 43.3L406.9 42.5L411.7 43.3L403.8 44.4L397.5 44.9Z" fill="#FF6348"/>
<path d="M458.8 46.5L466.6 45.2L474.5 46.0L472.9 47.7L465.0 48.1Z" fill="#FF6348"/>
<path d="M454.0 44.9L458.8 43.0L463.5 43.8L461.9 44.9L455.6 45.4Z" fill="#FF6348"/>
<path d="M524.7 52.5L527.8 51.1L537.2 51.9L542.0 52.5L545.1 53.0L538.8 53.3L532.5 53.2L526.3 53.5Z" fill="#FF6348"/>
<path d="M529.4 54.8L534.1 55.3L532.5 55.9L529.4 55.6Z" fill="#FF6348"/>
<path d="M589.8 59.5L592.2 58.7L596.1 59.2L595.3 59.8L590.3 59.8Z" fill="#FF6348"/>
<path d="M385.7 61.9L388.1 62.4L387.3 63.2L385.4 62.7Z" fill="#FF6348"/>
<path d="M532.5 86.5L534.1 88.2L534.6 91.9L534.9 94.3L536.5 95.1L534.1 96.7L534.4 98.8L534.9 99.8L533.3 98.8L532.5 100.0L532.5 97.5L532.9 95.1L532.5 91.9L532.2 88.6Z" fill="#FF6348"/>
<path d="M529.4 107.3L531.0 105.6L529.9 104.4L531.8 104.4L532.1 101.0L534.1 102.6L537.7 102.7L538.0 104.4L535.7 105.0L534.6 106.5L532.1 105.5L530.2 106.5Z" fill="#008EA0"/>
<path d="M531.0 107.3L531.8 107.4L531.8 108.9L532.5 110.5L531.0 112.5L531.0 114.6L530.7 116.7L529.1 117.8L528.9 117.0L527.5 118.3L524.7 118.4L524.4 118.9L522.8 120.2L521.7 118.9L522.0 118.3L518.4 118.9L515.3 119.4L515.3 118.8L517.6 117.2L520.0 117.0L523.1 116.7L524.4 114.6L525.2 113.8L525.2 114.9L527.0 113.9L528.6 112.1L529.4 109.7L529.4 108.1Z" fill="#008EA0"/>
<path d="M515.1 119.6L516.4 120.1L516.7 121.4L515.9 123.6L514.8 124.3L514.0 123.8L514.2 121.8L513.2 121.0L513.4 120.2Z" fill="#008EA0"/>
<path d="M517.6 119.4L520.8 119.1L521.1 119.7L520.3 120.6L518.4 121.4L517.5 120.4Z" fill="#008EA0"/>
<path d="M500.4 133.5L501.1 134.0L500.4 136.4L499.3 138.9L498.2 137.2L498.5 135.6L499.6 134.0Z" fill="#FF6F00"/>
<path d="M480.3 143.2L481.5 142.1L483.4 141.9L483.9 142.7L483.1 144.0L481.7 145.0L480.3 144.5Z" fill="#FF95A8"/>
<path d="M435.0 158.8L435.7 158.6L437.1 160.7L438.0 162.3L437.9 164.0L436.1 164.9L435.2 164.5L434.9 162.3L434.9 160.7Z" fill="#FF6F00"/>
<path d="M498.9 144.5L501.5 144.5L501.6 147.8L500.5 149.4L500.7 151.5L502.7 152.0L504.4 154.1L503.2 153.4L501.1 152.3L499.3 152.1L498.9 151.0L498.0 150.2L497.7 148.1L498.6 147.6Z" fill="#C71000"/>
<path d="M501.1 163.2L502.4 161.2L504.0 161.2L505.5 160.2L506.6 158.6L507.9 160.7L508.2 164.0L506.6 164.8L506.5 165.4L504.6 164.5L504.3 162.7L502.7 162.3Z" fill="#C71000"/>
<path d="M504.8 154.2L506.3 154.2L506.9 156.4L506.2 158.0L505.5 158.0L505.1 156.2Z" fill="#C71000"/>
<path d="M501.1 155.4L502.9 155.9L503.2 157.5L502.7 159.8L501.9 159.1L501.1 157.5Z" fill="#C71000"/>
<path d="M498.6 152.8L500.2 153.0L500.0 154.6L499.4 154.6Z" fill="#C71000"/>
<path d="M493.6 160.9L494.9 159.6L497.1 157.3L497.2 156.2L496.4 157.5L494.9 158.6L493.6 160.2Z" fill="#C71000"/>
<path d="M480.7 172.1L481.7 171.3L482.3 172.9L483.9 172.9L485.8 172.1L489.4 172.1L490.9 169.6L491.1 167.7L494.1 167.7L494.2 168.8L494.9 170.9L496.4 172.9L494.5 173.2L494.1 175.8L492.5 176.9L492.5 179.4L491.7 181.0L489.7 181.1L489.4 180.0L487.0 179.7L485.0 180.0L482.6 179.2L482.3 176.9L480.7 175.0Z" fill="#008EA0"/>
<path d="M481.7 171.3L484.2 172.1L484.5 170.3L487.0 169.3L488.6 167.2L490.9 165.6L492.8 163.2L494.4 164.3L496.7 166.1L495.2 167.5L494.1 167.7L491.1 167.7L490.9 169.6L489.4 172.1L485.8 172.1L483.9 172.9L482.3 172.9Z" fill="#FF6F00"/>
<path d="M488.6 167.2L489.5 166.4L490.6 166.6L490.2 167.7L489.4 167.7Z" fill="#FFFFFF"/>
<path d="M459.2 165.4L462.7 166.1L464.6 168.3L467.4 170.9L469.7 172.6L472.1 174.5L472.9 176.4L474.5 178.2L476.0 179.4L475.9 181.8L475.7 183.9L473.8 183.9L472.1 182.3L470.2 180.8L468.2 178.6L467.1 176.0L465.0 173.7L464.6 171.7L462.7 170.0L461.1 168.3Z" fill="#008EA0"/>
<path d="M474.8 185.5L476.2 184.1L477.6 184.1L479.9 185.0L483.1 185.2L483.9 184.9L486.4 185.7L489.4 187.0L489.4 188.6L486.2 188.1L482.3 187.5L479.9 187.1L476.8 186.5Z" fill="#008EA0"/>
<path d="M497.7 173.2L499.3 172.4L502.7 172.9L505.9 171.9L506.2 172.9L504.3 173.9L499.6 173.7L498.3 174.5L498.2 175.8L500.4 176.0L503.2 175.6L503.2 176.1L500.7 177.4L501.9 179.7L503.0 181.8L501.9 183.4L500.4 182.3L499.6 178.9L498.5 179.2L498.6 182.3L498.6 183.6L497.2 183.6L497.2 180.2L496.1 178.9L496.9 176.6L497.7 174.5Z" fill="#008EA0"/>
<path d="M489.5 187.8L491.2 187.8L490.9 188.8L489.8 188.4Z" fill="#008EA0"/>
<path d="M491.7 187.9L493.3 187.9L496.4 187.9L496.4 188.8L493.3 189.1L491.7 188.9Z" fill="#008EA0"/>
<path d="M497.7 188.1L499.6 188.1L502.7 187.8L502.7 188.6L499.6 188.9L497.7 188.8Z" fill="#008EA0"/>
<path d="M496.4 189.7L499.3 190.5L498.0 191.2L496.4 190.4Z" fill="#008EA0"/>
<path d="M503.5 191.2L504.9 189.6L505.9 189.1L505.9 189.9L504.8 191.0Z" fill="#008EA0"/>
<path d="M505.9 189.1L509.3 188.1L509.0 188.8L505.9 189.9Z" fill="#FF6F00"/>
<path d="M509.8 171.3L510.6 172.1L511.7 172.1L510.6 173.7L511.3 175.3L510.2 175.8L509.8 173.7Z" fill="#008EA0"/>
<path d="M510.6 179.2L515.0 179.4L515.0 180.2L510.6 180.2Z" fill="#008EA0"/>
<path d="M507.4 179.7L509.3 179.7L509.3 180.7L507.4 180.7Z" fill="#008EA0"/>
<path d="M515.3 175.8L517.6 175.1L520.0 175.8L520.3 178.6L522.3 179.8L524.7 177.7L526.3 177.1L531.0 178.7L531.0 189.2L528.6 187.6L526.3 188.1L525.9 186.3L527.5 185.8L526.3 183.4L523.1 182.0L520.0 180.8L518.4 181.0L518.1 179.8L516.8 179.0L519.7 178.4L517.3 178.1L515.3 176.8Z" fill="#008EA0"/>
<path d="M531.0 178.7L534.1 180.0L536.5 180.7L538.8 183.4L541.2 184.2L540.4 185.5L542.0 187.5L543.5 189.1L545.9 191.2L544.3 191.3L542.0 190.9L540.4 189.9L538.8 187.8L536.5 187.0L534.9 188.3L534.1 189.4L531.0 189.2Z" fill="#FF6F00"/>
<path d="M542.4 183.4L545.1 182.6L548.2 181.3L548.7 182.6L545.9 184.5L542.7 184.5Z" fill="#FF6F00"/>
<path d="M546.4 178.7L549.0 180.2L550.1 182.1L549.3 181.8L547.5 179.7Z" fill="#FF6F00"/>
<path d="M552.3 183.4L554.2 185.0L553.7 185.7L552.6 184.7Z" fill="#FF6F00"/>
<path d="M555.3 185.8L557.7 187.1L560.0 188.3L559.2 188.4L556.9 187.5L555.3 186.5Z" fill="#FF6F00"/>
<path d="M560.5 189.6L562.4 190.4L563.2 191.2L561.6 190.7L560.3 190.1Z" fill="#FF6F00"/>
<path d="M571.2 198.8L572.3 199.6L572.6 201.2L571.8 200.7L571.2 199.6Z" fill="#FF6F00"/>
<path d="M567.1 207.1L569.4 208.5L571.8 210.6L571.0 210.8L568.6 209.3L567.1 207.7Z" fill="#FFFFFF"/>
<path d="M588.0 202.7L590.0 202.8L590.0 204.0L588.0 204.0Z" fill="#FF6F00"/>
<path d="M590.3 200.9L592.2 200.7L591.4 201.9L590.2 201.7Z" fill="#FF6F00"/>
<path d="M536.8 240.4L542.4 240.8L542.4 242.5L541.2 245.0L538.8 245.0L537.6 242.9Z" fill="#C71000"/>
<path d="M580.7 230.2L583.3 231.7L585.1 233.8L585.9 235.4L589.8 235.6L588.9 238.0L587.3 238.5L586.7 240.9L584.7 241.9L584.0 241.4L584.7 239.6L582.5 238.3L584.0 236.9L583.9 234.4L583.1 233.3L581.2 231.2Z" fill="#FF6F00"/>
<path d="M580.7 240.1L583.3 241.7L581.2 244.2L580.9 245.5L578.5 246.3L577.6 248.9L575.7 250.0L573.8 250.0L571.0 249.0L571.0 248.2L573.4 245.8L576.5 244.2L578.5 242.2L580.0 240.6Z" fill="#FF6F00"/>
<path d="M329.1 112.9L334.1 112.5L333.3 115.0L330.8 114.2L329.1 113.6Z" fill="#8A4198"/>
<path d="M322.5 108.1L324.7 107.8L324.8 110.8L322.9 111.5L322.8 109.7Z" fill="#8A4198"/>
<path d="M323.1 105.6L324.4 104.8L324.5 106.5L324.0 107.4L323.1 106.8Z" fill="#FFFFFF"/>
<path d="M346.5 116.8L348.1 117.0L350.9 117.3L350.7 117.8L348.1 118.0L346.5 117.5Z" fill="#FFFFFF"/>
<path d="M360.3 117.8L361.4 117.2L363.9 116.7L363.0 117.8L361.4 118.4L360.5 118.3Z" fill="#FF6F00"/>
<path d="M326.9 84.3L329.4 83.6L329.4 85.1L328.1 85.9L326.9 85.1Z" fill="#FF6F00"/>
<path d="M338.2 80.7L339.4 80.7L339.0 82.2L338.0 82.0Z" fill="#FF6F00"/>
<path d="M313.4 110.3L314.6 109.9L314.9 110.5L314.0 110.8Z" fill="#008EA0"/>
<path d="M176.3 139.0L179.3 137.2L182.4 137.1L184.8 138.1L187.9 139.2L191.1 140.8L193.1 141.8L191.8 142.3L187.6 142.3L188.7 141.1L186.4 139.7L183.2 138.9L180.9 138.1L178.5 138.5Z" fill="#FF6F00"/>
<path d="M192.8 144.7L195.0 142.3L197.0 142.4L197.0 145.5L195.8 145.0Z" fill="#FF6F00"/>
<path d="M197.0 142.4L199.7 142.6L202.2 144.4L201.3 144.7L198.9 145.0L197.3 145.8L197.0 145.5Z" fill="#FF6F00"/>
<path d="M186.7 144.7L188.7 144.5L190.0 145.3L188.4 145.7L186.7 145.2Z" fill="#FF6F00"/>
<path d="M204.1 144.5L206.6 144.7L206.5 145.3L204.1 145.3Z" fill="#FF6F00"/>
<path d="M212.6 157.2L214.0 157.0L213.8 158.1L212.6 158.1Z" fill="#FF6F00"/>
<path d="M186.7 131.2L188.4 131.4L188.7 132.1L187.1 131.7Z" fill="#FF6F00"/>
<path d="M186.8 133.8L187.6 134.6L187.6 135.6L186.8 135.0Z" fill="#FF6F00"/>
<path d="M216.5 97.4L219.3 92.4L222.5 90.9L221.7 93.5L225.6 94.6L226.9 97.5L225.6 99.0L222.5 98.5L221.7 97.4Z" fill="#008EA0"/>
<path d="M108.2 92.4L112.9 93.2L115.7 95.9L113.4 95.6Z" fill="#008EA0"/>
<path d="M100.8 86.9L102.8 87.0L103.9 89.9L101.6 88.6Z" fill="#008EA0"/>
<path d="M208.3 93.7L212.6 94.6L210.7 94.8Z" fill="#008EA0"/>
<path d="M208.6 98.7L212.3 99.3L211.5 100.0L209.1 99.5Z" fill="#008EA0"/>
<path d="M67.0 81.3L70.2 80.5L70.5 81.7L67.8 82.5Z" fill="#84D7E1"/>
<path d="M201.9 259.7L201.9 263.4L205.2 263.9L201.3 264.4L197.3 262.5L195.8 261.2L198.9 261.2L198.9 260.0Z" fill="#FF6F00"/>
<path d="M201.9 259.7L207.2 263.0L205.2 263.9L201.9 263.4Z" fill="#C71000"/>
<path d="M213.8 257.9L218.5 257.6L218.9 258.4L217.0 259.2L213.8 259.1Z" fill="#FFFFFF"/>
<path d="M193.1 242.2L194.2 242.2L194.2 244.8L192.8 244.5Z" fill="#FF6F00"/>
<path d="M173.0 68.9L176.2 67.9L179.3 69.2L183.2 71.1L179.3 72.0L175.4 71.6L173.0 70.8Z" fill="#008EA0"/>
<path d="M122.8 58.7L127.5 55.6L140.0 55.6L144.8 56.2L151.8 58.2L150.2 62.2L143.2 63.2L136.9 63.7L131.4 63.7L125.9 62.7L124.3 60.6Z" fill="#008EA0"/>
<path d="M112.6 57.9L116.5 54.3L124.3 54.3L127.5 55.8L121.2 58.7L115.7 59.2Z" fill="#008EA0"/>
<path d="M125.9 52.7L127.5 50.6L136.9 50.9L143.2 51.7L143.2 53.2L136.9 53.5L130.6 53.6Z" fill="#008EA0"/>
<path d="M149.5 56.2L152.6 54.8L157.3 55.4L157.3 57.9L154.2 59.0L149.5 57.9Z" fill="#008EA0"/>
<path d="M158.9 54.8L163.6 54.5L168.3 54.9L166.7 56.6L162.0 57.9L159.7 56.6Z" fill="#008EA0"/>
<path d="M153.4 62.2L157.3 61.4L159.7 62.7L156.5 63.5Z" fill="#008EA0"/>
<path d="M158.9 52.2L165.2 50.6L176.2 50.6L184.0 52.2L182.4 53.6L171.4 53.8L165.2 53.3Z" fill="#008EA0"/>
<path d="M146.3 52.2L152.6 50.4L157.3 51.4L155.7 53.0L151.0 53.0Z" fill="#008EA0"/>
<path d="M168.3 50.6L169.9 48.1L174.6 46.5L165.2 43.0L176.2 41.2L191.8 40.0L210.7 40.8L212.3 42.0L202.8 43.6L195.0 46.0L188.7 47.3L187.1 49.8L184.0 50.9L176.2 50.9Z" fill="#008EA0"/>
<path d="M157.3 47.8L158.9 44.6L166.7 42.8L173.8 44.4L172.2 46.8L168.3 48.0Z" fill="#008EA0"/>
<path d="M144.8 48.1L151.0 46.5L157.3 47.3L152.6 48.6Z" fill="#008EA0"/>
<path d="M116.5 51.4L122.8 49.3L127.5 49.8L122.8 51.4Z" fill="#008EA0"/>
<path d="M64.7 141.8L66.2 142.4L65.5 143.7L64.7 142.9Z" fill="#84D7E1"/>
<path d="M61.2 139.5L62.0 140.0L61.5 140.2Z" fill="#84D7E1"/>
<path d="M393.3 154.1L395.2 154.2L394.4 154.6Z" fill="#FF6F00"/>
<path d="M396.4 208.4L397.2 208.7L396.7 209.2Z" fill="#FFFFFF"/>
<path d="M399.7 206.9L400.3 207.2L399.9 207.7Z" fill="#FF6F00"/>
<path d="M377.4 193.0L377.9 193.6L377.6 193.9Z" fill="#FF6F00"/>
<path d="M283.1 128.5L284.2 128.3L283.5 129.1Z" fill="#008EA0"/>
<path d="M287.3 128.2L288.4 127.2L287.9 128.8Z" fill="#008EA0"/>
<path d="M272.2 149.9L272.9 150.2L272.5 150.4Z" fill="#FF6F00"/>
<path d="M269.1 113.3L270.0 113.3L269.6 113.4Z" fill="#FF6F00"/>
<path d="M282.6 121.4L283.4 121.5L282.9 121.7Z" fill="#FF6F00"/>
<path d="M165.9 174.8L166.7 175.3L166.4 176.1L165.8 175.6Z" fill="#FF6F00"/>
<path d="M417.9 253.9L420.3 254.2L419.5 255.0L417.9 254.7Z" fill="#FFFFFF"/>
<path d="M249.9 262.0L253.1 262.8L252.3 263.3Z" fill="#FFFFFF"/>
<path d="M298.1 73.7L299.4 73.6L298.9 74.4Z" fill="#FF6F00"/>
<path d="M307.2 76.3L308.0 76.8L307.6 77.5Z" fill="#FFFFFF"/>
<path d="M295.5 59.5L297.0 59.3L296.6 59.8Z" fill="#FF6F00"/>
<path d="M538.8 102.4L542.7 100.8L542.0 101.6L538.8 103.2Z" fill="#FF6348"/>
<path d="M545.1 100.0L548.2 98.4L547.5 99.2Z" fill="#FF6348"/>
<path d="M552.2 94.3L554.5 92.4L553.7 93.5Z" fill="#FF6348"/>
<path d="M566.3 78.9L567.9 78.9L567.1 79.7Z" fill="#FF6348"/>
<path d="M322.9 168.5L323.6 168.8L323.3 169.3Z" fill="#FF6F00"/>
<path d="M371.1 183.9L371.6 184.2L371.5 184.9Z" fill="#FF6F00"/>
<path d="M49.0 87.0L51.3 86.0L50.5 86.7Z" fill="#84D7E1"/>
<path d="M44.3 88.6L47.4 87.7L46.6 88.3Z" fill="#84D7E1"/>
<path d="M35.6 89.9L39.6 89.6L38.0 90.3Z" fill="#84D7E1"/>
<path d="M30.1 90.6L33.3 90.3L31.7 90.9Z" fill="#84D7E1"/>
<path d="M40.0 71.6L44.3 72.0L41.9 72.4Z" fill="#84D7E1"/>
<path d="M46.9 77.0L49.5 76.8L48.5 77.6Z" fill="#84D7E1"/>
<path d="M95.3 80.5L98.0 80.1L100.5 82.8L98.4 83.8Z" fill="#84D7E1"/>
<path d="M99.8 83.5L102.0 83.9L103.1 85.7L100.5 85.9Z" fill="#84D7E1"/>
<path d="M104.7 87.0L107.1 87.7L108.6 90.3L107.1 89.8L105.5 88.3Z" fill="#008EA0"/>
<path d="M461.9 172.1L463.3 173.0L462.8 173.7Z" fill="#008EA0"/>
<path d="M464.4 176.1L465.5 177.3L465.0 177.7L464.2 176.8Z" fill="#008EA0"/>
<path d="M466.3 178.2L467.4 179.7L466.9 179.8Z" fill="#008EA0"/>
<path d="M474.9 177.1L477.1 178.7L476.3 179.4L475.2 178.1Z" fill="#008EA0"/>
<path d="M497.7 166.2L499.6 164.8L501.1 163.6L499.9 165.1Z" fill="#C71000"/>
<path d="M504.8 156.0L505.9 156.4L505.9 158.3L505.5 158.3Z" fill="#C71000"/>
<path d="M503.2 157.5L504.3 156.4L504.3 158.0L503.5 158.9Z" fill="#C71000"/>
<path d="M504.0 158.5L505.2 158.1L504.9 158.9Z" fill="#C71000"/>
<path d="M503.0 154.2L504.3 154.7L503.7 155.2Z" fill="#C71000"/>
<path d="M536.8 152.6L537.2 152.5L536.9 153.1Z" fill="#FFFFFF"/>
<path d="M538.2 149.9L538.7 149.7L538.5 150.2Z" fill="#FFFFFF"/>
<path d="M538.2 145.3L538.7 145.0L538.5 145.7Z" fill="#FFFFFF"/>
<path d="M520.6 162.2L521.1 162.0L520.9 162.7Z" fill="#FFFFFF"/>
<path d="M526.3 158.9L526.7 158.9L526.4 159.3Z" fill="#FFFFFF"/>
<path d="M557.8 163.2L558.3 163.2L558.0 163.5Z" fill="#FFFFFF"/>
<path d="M510.1 131.1L511.0 131.1L510.1 132.2Z" fill="#008EA0"/>
<path d="M512.6 128.5L513.2 128.5L512.8 129.0Z" fill="#008EA0"/>
<path d="M507.7 120.2L508.8 120.2L508.2 120.7Z" fill="#FF6F00"/>
<path d="M455.1 152.6L455.6 153.0L455.3 155.7L454.8 155.4Z" fill="#FF6348"/>
<path d="M456.7 162.8L457.2 163.2L456.9 163.5Z" fill="#FF6348"/>
<path d="M34.4 208.7L34.9 208.8L34.5 209.2Z" fill="#FFFFFF"/>
<path d="M38.5 196.4L40.2 197.0L39.1 197.2Z" fill="#FFFFFF"/>
<path d="M74.7 202.8L75.4 203.0L75.0 203.5Z" fill="#FFFFFF"/>
<path d="M62.3 171.3L62.8 171.4L62.5 171.7Z" fill="#FFFFFF"/>
<path d="M207.7 122.0L208.2 122.0L207.9 122.3Z" fill="#FFFFFF"/>
<path d="M212.6 147.9L213.5 147.9L213.0 148.6Z" fill="#FFFFFF"/>
<path d="M213.5 150.4L214.1 150.7L213.8 151.2Z" fill="#FFFFFF"/>
<path d="M213.7 151.8L214.0 152.1L213.8 152.3Z" fill="#FFFFFF"/>
<path d="M215.9 153.0L216.3 153.1L216.0 153.4Z" fill="#FFFFFF"/>
<path d="M212.6 154.7L212.9 154.9L212.7 155.1Z" fill="#FFFFFF"/>
<path d="M213.0 149.2L213.4 149.6L213.2 149.9Z" fill="#FFFFFF"/>
<path d="M212.4 146.6L212.7 146.8L212.6 147.0Z" fill="#FFFFFF"/>
<path d="M207.7 144.7L208.2 144.7L207.9 144.9Z" fill="#FFFFFF"/>
<path d="M201.0 154.4L201.6 154.9L201.3 154.9Z" fill="#FFFFFF"/>
<path d="M189.0 133.4L190.0 133.7L190.0 134.5L189.7 134.0Z" fill="#FF6F00"/>
<path d="M190.8 134.6L191.4 135.3L191.2 135.6Z" fill="#FF6F00"/>
<path d="M193.9 140.5L195.0 140.2L194.7 140.6Z" fill="#FF6F00"/>
<path d="M181.8 143.1L182.3 143.2L182.0 143.2Z" fill="#FFFFFF"/>
<path d="M319.8 173.9L320.3 174.0L320.0 174.5Z" fill="#FFFFFF"/>
<path d="M396.6 182.0L396.9 182.1L396.7 182.3Z" fill="#FFFFFF"/>
<path d="M424.8 167.2L425.2 167.7L425.0 168.3Z" fill="#FFFFFF"/>
<path d="M213.8 275.8L218.5 274.8L219.3 275.3L215.4 276.2Z" fill="#FFFFFF"/>
<path d="M237.4 272.7L239.0 272.7L238.2 273.0Z" fill="#FFFFFF"/>
<path d="M424.7 260.4L425.5 260.5L425.0 260.7Z" fill="#C71000"/>
<path d="M314.8 262.6L315.1 262.6L314.9 262.8Z" fill="#FF6F00"/>
<path d="M290.1 234.6L290.4 234.6L290.3 234.8Z" fill="#FFFFFF"/>
<path d="M300.5 200.3L300.8 200.3L300.7 200.4Z" fill="#FFFFFF"/>
<path d="M287.0 187.3L287.1 187.3L287.1 187.5Z" fill="#FFFFFF"/>
<path d="M187.9 64.3L191.1 64.0L192.6 65.1L189.5 65.6Z" fill="#008EA0"/>
<path d="M178.5 72.6L181.6 72.6L181.2 73.9L179.3 73.7Z" fill="#008EA0"/>
<path d="M183.2 73.6L184.8 73.6L184.8 74.9L183.5 74.7Z" fill="#008EA0"/>
<path d="M180.9 88.3L183.2 88.5L182.4 89.1Z" fill="#008EA0"/>
<path d="M184.0 83.0L185.6 83.0L185.1 84.1Z" fill="#008EA0"/>
<path d="M329.2 64.7L332.4 63.5L334.7 62.9L333.9 62.2L330.8 63.5Z" fill="#FF6F00"/>
<path d="M336.3 62.4L337.9 61.7L337.1 61.6Z" fill="#FF6F00"/>
<path d="M322.5 71.6L323.7 71.3L322.9 71.1Z" fill="#FF6F00"/>
<path d="M344.0 79.7L346.2 79.6L345.4 80.5L344.0 80.4Z" fill="#FF6F00"/>
<path d="M344.5 78.9L345.7 78.9L345.2 79.4Z" fill="#FF6F00"/>
<path d="M335.3 83.3L336.4 81.7L335.7 83.3Z" fill="#FF6F00"/>
<path d="M332.7 84.9L333.3 85.2L332.8 85.4Z" fill="#FF6F00"/>
<path d="M325.0 84.6L326.6 84.6L326.4 85.2L325.3 85.2Z" fill="#FF6F00"/>
<path d="M353.1 115.5L353.9 115.5L353.4 116.3Z" fill="#FFFFFF"/>
<path d="M350.3 110.8L351.4 110.8L350.9 111.3Z" fill="#FFFFFF"/>
<path d="M346.0 111.5L347.6 112.0L348.1 112.8L346.7 112.1Z" fill="#FFFFFF"/>
<path d="M298.3 80.1L299.9 79.9L299.2 80.9L298.0 81.3Z" fill="#FFFFFF"/>
<path d="M299.2 81.2L300.5 81.2L300.2 82.0Z" fill="#FFFFFF"/>
<path d="M304.4 78.8L305.5 78.8L304.9 79.2Z" fill="#FFFFFF"/>
<path d="M302.2 86.4L302.8 86.5L302.4 86.9Z" fill="#FFFFFF"/>
<path d="M191.8 246.6L193.7 246.6L193.4 249.0L191.5 249.0Z" fill="#FF6F00"/>
<path d="M191.1 252.3L192.6 252.6L192.6 255.5L191.4 255.5Z" fill="#FF6F00"/>
<path d="M191.8 256.3L193.7 256.8L194.2 259.6L192.2 259.2Z" fill="#FF6F00"/>
<path d="M194.2 260.4L196.6 260.7L198.1 262.3L195.8 262.5L193.7 261.3Z" fill="#FF6F00"/>
<path d="M199.7 263.6L203.6 263.6L204.1 264.2L201.3 264.7Z" fill="#FF6F00"/>
<path d="M208.0 263.1L209.4 263.1L208.8 263.4Z" fill="#C71000"/>
<path d="M195.0 47.8L202.8 45.7L210.7 42.5L223.2 41.2L239.0 40.5L257.8 39.1L270.4 40.8L278.2 42.5L290.8 42.5L282.9 44.9L281.3 47.3L279.8 49.8L280.6 52.2L278.2 54.6L275.1 57.0L275.1 60.3L270.4 61.9L267.2 63.5L259.4 64.3L254.7 66.8L249.9 68.2L246.8 69.2L245.2 71.6L242.9 74.9L241.3 77.3L239.0 77.3L234.2 75.7L231.1 73.2L228.7 70.8L226.4 67.6L225.6 64.3L229.5 61.9L224.0 60.3L223.2 57.0L220.1 53.8L215.4 51.4L206.0 51.4L199.7 50.6L198.1 48.9Z" fill="#FF6F00"/>
<path d="M213.4 66.6L209.1 69.2L207.6 71.6L208.3 73.1L202.1 71.3L206.0 74.2L199.7 72.8L196.6 71.6L192.6 70.0L187.9 70.3L187.1 69.2L191.1 68.7L189.5 67.1L188.4 65.1L187.5 63.5L185.6 61.9L182.4 61.1L176.9 61.3L174.6 61.1L170.7 60.3L169.9 59.5L168.3 57.9L169.9 54.9L176.2 55.1L181.6 55.4L183.2 55.1L187.1 56.2L191.8 57.4L198.1 59.0L202.1 60.3L204.4 61.9L210.7 64.3Z" fill="#008EA0"/>
<path d="M387.0 193.9L388.6 199.6L387.3 202.0L386.2 206.1L385.0 210.9L383.7 214.7L381.0 215.8L378.7 214.7L377.7 210.9L379.2 206.9L378.7 203.7L379.5 200.9L382.3 199.9L385.0 196.4Z" fill="#FF6F00"/>
<path d="M488.1 210.9L489.4 209.3L492.8 207.9L496.4 206.9L499.6 206.1L501.5 203.7L501.6 202.0L503.5 202.5L504.3 200.9L505.9 198.8L508.2 197.2L510.6 198.5L512.9 198.6L513.7 195.6L515.0 194.6L517.6 192.8L518.4 193.5L522.3 193.9L524.7 194.3L523.1 196.4L522.3 198.8L524.7 200.4L527.8 202.5L530.7 202.8L531.8 199.6L532.1 195.6L532.5 192.3L533.3 191.8L534.9 194.8L535.4 197.7L537.7 198.8L538.5 202.0L539.3 205.3L542.7 207.2L544.3 210.1L546.4 212.1L548.2 214.2L550.1 216.6L550.6 220.2L549.8 224.7L548.6 227.5L547.0 229.6L545.4 232.8L544.9 235.2L542.0 235.9L539.3 237.8L536.5 236.5L534.9 237.4L531.0 236.4L528.9 234.4L528.6 232.5L526.6 232.2L527.0 230.9L525.9 231.5L525.8 228.0L523.1 230.9L521.9 230.4L520.3 228.0L517.6 226.3L515.3 225.5L512.1 225.9L507.4 226.8L504.3 228.0L503.5 229.4L499.6 229.3L497.2 230.2L494.9 231.2L491.7 231.0L490.2 230.1L491.1 227.2L491.2 226.0L490.2 223.1L488.9 219.1L487.5 216.6L488.3 213.4Z" fill="#C71000"/>
<g clip-path="url(#c_namerica)">
<path d="M42.7 36.8L231.1 36.8L231.1 109.7L42.7 109.7Z" fill="#008EA0"/>
<path d="M121.2 121.0L160.5 121.0L176.2 132.4L176.2 144.5L171.0 144.5L169.7 145.3L169.7 145.7L166.7 145.7L166.7 146.6L167.7 148.4L165.6 148.6L164.8 149.9L164.8 151.0L163.6 153.4L121.2 142.1Z" fill="#5A9599"/>
<path d="M105.5 95.1L116.0 95.1L160.1 95.1L160.8 94.6L165.2 95.9L169.1 96.7L170.7 96.3L176.5 98.7L178.5 100.0L180.1 101.1L180.2 104.8L179.3 106.1L180.1 106.9L185.6 105.2L185.6 104.0L189.5 103.2L191.8 101.6L197.3 101.6L198.9 100.0L201.0 97.7L202.8 97.9L203.2 100.5L204.4 101.9L215.4 106.5L191.8 142.1L158.9 135.6L157.2 132.5L153.4 129.9L151.0 126.7L148.7 126.2L147.6 127.5L145.5 126.4L142.4 123.0L139.7 123.0L139.7 123.8L135.3 123.8L129.4 121.8L125.8 121.8L105.5 122.7Z" fill="#84D7E1"/>
<path d="M88.2 57.9L88.2 76.8L91.4 77.3L93.7 78.9L96.9 77.8L100.0 79.7L102.4 82.2L105.5 83.8L105.5 85.9L97.7 88.6L34.9 93.5L34.9 57.9Z" fill="#84D7E1"/>
<path d="M164.8 151.0L164.8 149.9L165.6 148.6L167.7 148.4L166.7 146.6L166.7 145.7L169.7 145.7L169.6 148.7L171.1 149.1L169.4 151.2L168.1 152.3L166.7 154.2L163.6 152.6Z" fill="#FF6F00"/>
<path d="M169.7 145.7L169.7 145.3L171.0 144.5L173.0 144.5L172.2 148.7L169.6 148.7Z" fill="#FF6F00"/>
<path d="M169.4 151.2L171.1 149.1L171.4 147.0L179.3 147.0L180.1 150.2L176.9 150.7L175.1 152.0L173.5 153.0L172.5 153.4L171.9 153.0L171.4 152.0Z" fill="#FF6F00"/>
<path d="M168.1 152.3L169.4 151.2L171.4 152.0L171.9 153.0L171.4 154.2L167.5 153.8Z" fill="#FF6F00"/>
<path d="M171.9 153.0L172.5 153.4L173.5 153.0L175.1 152.0L176.9 150.7L180.1 150.2L180.1 156.8L178.2 156.8L176.6 156.7L175.1 156.5L173.8 157.5L170.7 154.2Z" fill="#FF6F00"/>
<path d="M175.1 156.5L176.6 156.7L178.2 156.8L180.1 156.8L180.1 158.9L179.4 159.1L179.4 161.4L179.3 162.3L173.8 159.1Z" fill="#FF6F00"/>
<path d="M180.1 158.9L179.4 159.1L179.4 161.4L179.3 162.3L184.0 164.0L187.3 162.8L188.1 160.4L188.7 158.3L180.9 158.3Z" fill="#FF6F00"/>
</g>
<path d="M45.8 68.2L49.0 67.3L52.9 67.4L55.6 66.9L52.1 65.1L47.7 63.9L49.0 62.9L53.7 61.9L59.2 60.0L63.9 59.0L71.0 59.8L77.2 60.5L83.5 61.1L88.2 61.7L94.5 62.9L99.2 61.9L107.1 61.1L108.6 60.3L113.4 62.1L119.6 61.4L125.9 62.7L129.1 64.5L136.9 64.7L140.0 64.0L144.8 64.3L151.0 64.8L155.7 63.9L158.9 64.7L159.7 62.7L158.4 59.5L160.5 58.0L163.6 59.5L165.2 61.1L167.5 63.0L171.4 65.1L173.8 64.3L175.4 61.9L177.7 61.4L180.9 62.2L182.0 64.3L180.9 66.8L176.2 67.3L173.0 69.2L169.9 70.8L166.7 71.1L163.6 73.2L161.2 75.7L161.2 79.2L164.4 82.2L169.9 82.5L176.2 84.9L180.1 85.1L180.9 88.6L183.2 91.4L185.6 91.1L185.6 87.0L188.7 83.8L189.5 81.3L186.4 79.2L187.9 77.3L187.1 73.4L193.4 73.6L199.7 75.7L199.7 79.2L203.6 80.1L207.6 76.8L212.3 81.3L215.4 85.4L220.1 87.8L222.2 90.3L220.1 91.2L215.4 93.2L209.1 93.2L204.4 94.3L199.7 97.5L203.6 95.4L208.3 94.8L208.3 96.7L207.6 99.2L209.1 100.0L213.0 100.3L215.4 99.2L213.8 101.3L209.1 102.7L206.0 104.0L206.0 102.4L208.3 101.1L204.4 101.6L204.4 102.2L199.7 104.0L198.6 105.6L199.7 106.9L196.6 107.8L193.4 108.7L193.4 110.5L191.4 112.1L190.3 114.6L191.1 117.3L187.9 119.1L184.8 121.0L182.4 123.0L181.8 125.1L183.7 130.8L183.7 133.5L182.4 133.8L180.9 131.6L179.8 129.1L178.5 126.4L176.9 125.9L174.6 125.4L171.4 125.4L169.1 125.6L169.6 127.4L166.7 127.0L162.8 126.4L160.5 127.2L157.3 129.1L156.8 132.4L156.2 136.4L156.1 138.4L158.1 142.9L160.5 144.4L162.0 145.0L165.2 144.4L166.7 143.7L167.5 140.8L168.3 140.2L173.0 139.7L173.0 142.1L171.9 144.9L171.1 146.2L170.2 148.6L171.4 148.9L174.6 148.7L177.7 148.9L179.0 150.2L178.3 153.4L178.2 156.7L179.3 158.3L180.9 159.9L184.0 159.6L185.6 159.1L188.1 160.4L187.3 162.8L186.4 160.9L184.8 160.1L183.5 162.7L181.3 162.0L179.3 161.1L178.2 160.6L176.2 158.3L174.9 156.8L172.2 153.6L171.8 153.0L169.1 152.6L165.9 151.8L164.7 151.0L162.0 148.4L160.5 148.4L158.1 149.1L154.2 147.6L150.2 145.8L147.1 144.9L144.0 142.1L144.3 139.7L142.6 136.9L140.0 134.0L137.8 131.2L136.1 129.3L133.8 127.5L132.2 124.3L129.5 123.1L129.5 125.9L132.2 129.1L134.5 132.4L136.4 135.3L137.7 137.1L136.4 136.4L133.8 134.3L133.3 132.1L130.6 130.4L129.1 129.5L130.3 128.0L128.0 125.9L126.5 123.0L125.8 121.8L123.7 119.4L120.3 118.6L118.2 115.2L117.3 113.3L115.2 110.5L114.3 109.1L114.6 106.5L114.8 103.2L114.9 99.7L113.8 96.1L117.3 96.7L116.5 95.1L114.9 93.5L110.2 91.9L108.6 89.4L105.5 86.2L103.9 84.6L100.8 82.2L97.7 79.7L94.5 79.7L89.8 77.8L83.5 77.3L80.4 75.7L76.5 77.3L71.7 78.4L72.5 75.7L68.6 78.1L67.8 79.7L63.9 82.2L60.8 83.8L56.8 85.1L52.9 85.7L55.3 84.3L57.6 83.8L61.5 81.3L62.6 79.4L60.0 79.6L55.3 79.4L55.3 77.3L50.5 76.3L49.0 74.5L50.5 73.1L51.3 72.1L56.8 71.6L56.8 70.0L53.7 70.0L49.0 70.0Z" fill="none"/>
<g clip-path="url(#c_samerica)">
<path d="M176.2 150.2L262.5 150.2L262.5 271.7L176.2 271.7Z" fill="#FF6348"/>
<path d="M204.1 211.4L205.5 209.8L207.2 210.3L208.6 211.4L211.2 210.5L213.0 212.2L215.4 213.4L217.8 214.7L219.2 216.0L217.6 218.7L220.9 219.1L222.0 218.9L223.9 216.0L225.1 217.8L224.0 219.1L222.0 220.3L219.2 223.4L218.5 225.5L218.2 228.0L217.9 229.6L221.7 232.8L223.2 268.5L184.0 268.5L184.0 211.4Z" fill="#C71000"/>
<path d="M200.5 202.8L201.1 203.7L201.9 205.3L202.1 207.7L202.5 209.3L203.2 211.4L204.1 211.4L202.4 214.2L202.1 218.2L200.0 221.5L199.2 224.7L199.7 228.4L198.9 232.8L197.8 236.9L196.9 240.9L197.0 245.0L197.3 247.4L196.6 250.6L195.3 254.7L196.1 257.1L196.7 258.7L199.7 258.7L202.2 259.4L202.8 265.2L184.0 265.2L184.0 202.8Z" fill="#FF6F00"/>
<path d="M225.8 229.1L226.1 227.5L224.8 226.2L223.2 225.2L221.7 224.6L219.2 223.4L218.5 225.5L218.2 228.0L217.9 229.6L218.5 232.8L226.4 232.8Z" fill="#FF6F00"/>
<path d="M218.2 207.1L218.9 210.3L222.0 210.6L222.5 213.4L224.3 213.4L223.9 216.0L222.0 218.9L220.9 219.1L217.6 218.7L219.2 216.0L217.8 214.7L215.4 213.4L213.0 212.2L211.2 210.5L211.5 207.7L212.6 206.3L216.2 205.8Z" fill="#FF6F00"/>
<path d="M200.5 192.3L202.8 191.8L205.2 190.5L207.1 190.4L207.2 193.1L210.7 194.9L213.0 196.4L214.6 196.9L215.1 200.7L217.9 200.9L218.2 202.8L219.2 203.7L218.5 206.6L218.2 207.1L216.2 205.8L212.6 206.3L211.5 207.7L211.2 210.5L208.6 211.4L207.2 210.3L205.5 209.8L204.1 211.4L203.2 211.4L202.5 209.3L202.1 207.7L201.9 205.3L201.1 203.7L200.5 202.8L200.3 202.5L201.0 200.7L200.5 199.6L201.3 198.0L201.6 194.8Z" fill="#FFFFFF"/>
<path d="M199.7 181.3L195.0 182.6L193.7 186.3L195.3 189.7L198.9 189.9L198.8 192.3L200.5 192.3L201.6 194.8L201.3 198.0L200.5 199.6L201.0 200.7L200.3 202.5L200.5 202.8L199.2 204.3L196.6 205.3L179.3 190.7L179.3 180.0L183.5 180.0L183.5 181.6L185.3 182.6L186.4 181.0L187.5 179.4L189.5 178.6L191.1 176.9L191.5 174.7L194.2 176.9L195.8 178.4L199.2 180.7Z" fill="#C71000"/>
<path d="M185.9 172.2L187.9 173.7L191.1 174.5L191.5 174.7L191.1 176.9L189.5 178.6L187.5 179.4L186.4 181.0L185.3 182.6L183.5 181.6L183.5 180.0L179.3 180.0L179.3 171.3Z" fill="#FF6F00"/>
<path d="M188.1 160.4L187.3 162.8L184.0 164.8L184.0 171.3L185.9 172.2L187.9 173.7L191.1 174.5L191.5 174.7L194.2 176.9L195.8 178.4L199.2 180.7L199.7 181.3L200.6 176.4L199.7 174.5L200.5 173.4L200.0 171.7L204.6 172.6L203.9 171.3L203.2 167.2L203.6 164.5L199.7 163.2L196.6 163.2L196.1 161.5L195.0 159.1L195.8 156.7L197.7 155.4L198.1 153.4L190.3 155.1Z" fill="#C71000"/>
<path d="M197.7 155.4L195.8 156.7L195.0 159.1L196.1 161.5L196.6 163.2L199.7 163.2L203.6 164.5L203.2 167.2L203.9 171.3L204.6 172.6L206.8 173.2L209.9 171.3L209.1 170.4L209.1 168.0L212.3 168.0L214.3 166.1L213.4 163.2L215.4 160.7L217.0 158.3L212.3 153.4L198.1 153.4Z" fill="#C71000"/>
<path d="M215.4 160.7L213.4 163.2L214.3 166.1L215.2 166.1L215.7 168.0L215.9 171.6L218.5 172.1L220.9 171.4L219.6 169.2L218.5 168.0L219.6 166.4L220.0 164.9L220.1 162.3L217.0 159.1Z" fill="#FF6F00"/>
<path d="M220.0 164.9L219.6 166.4L218.5 168.0L219.6 169.2L220.9 171.4L221.7 171.4L223.9 170.8L224.8 168.8L224.0 167.2L224.8 165.1L224.8 162.3L220.1 162.3Z" fill="#FF6F00"/>
<path d="M224.8 165.1L224.0 167.2L224.8 168.8L223.9 170.8L227.2 170.4L228.6 167.7L231.1 166.4L224.8 162.3Z" fill="#FFFFFF"/>
</g>
<path d="M188.1 160.4L190.3 159.1L191.1 157.3L192.2 156.7L195.0 155.9L197.3 154.4L197.7 156.7L197.0 158.3L199.7 155.9L199.7 154.7L202.1 157.0L206.0 157.3L209.1 157.8L212.3 157.2L212.6 158.3L213.8 160.7L215.7 161.1L217.8 163.2L220.1 164.8L223.2 164.8L224.8 165.1L228.0 166.7L229.5 168.0L231.1 171.6L231.1 174.5L233.5 175.3L234.2 175.6L237.4 176.1L239.7 178.6L243.7 179.0L246.8 179.0L249.2 180.5L251.5 182.3L254.2 182.9L255.0 185.8L254.7 189.1L251.5 192.3L249.2 195.6L248.4 198.8L248.4 202.8L246.8 206.9L245.2 210.1L243.7 211.8L239.7 212.1L236.6 213.4L233.5 216.6L233.1 220.7L230.3 224.7L228.0 227.2L225.6 229.6L223.4 231.2L221.4 231.0L218.1 229.6L219.8 232.0L220.1 233.6L219.3 236.1L217.0 237.4L212.3 237.7L211.8 240.4L207.6 240.9L209.7 243.4L207.1 245.0L206.8 247.4L203.6 249.0L206.0 251.4L206.3 252.3L203.6 254.7L201.3 256.3L202.2 259.2L198.1 261.7L196.6 261.2L194.2 259.6L191.8 257.1L191.1 253.9L190.9 250.6L193.4 248.2L193.9 245.0L193.7 241.7L194.2 238.5L194.2 234.8L195.8 232.0L197.2 228.0L197.3 223.1L197.7 219.9L198.8 215.8L199.1 212.6L199.4 208.5L199.2 204.3L197.3 202.5L194.2 200.7L191.1 198.3L189.7 196.4L188.4 193.9L186.4 189.9L184.3 185.8L182.0 184.2L182.0 181.8L183.5 180.0L184.0 178.6L182.4 178.1L182.7 176.1L184.0 173.7L185.6 172.1L185.9 170.9L187.9 170.3L188.2 168.0L187.9 165.6L188.1 163.2L187.3 162.8Z" fill="none"/>
<g clip-path="url(#c_africa)">
<path d="M278.2 109.7L395.9 109.7L395.9 239.3L278.2 239.3Z" fill="#FF6F00"/>
<path d="M299.4 115.4L306.1 116.2L306.1 117.6L306.9 119.4L307.7 121.8L304.9 123.0L303.9 124.4L301.8 125.9L299.4 126.5L295.9 128.0L295.9 129.6L288.9 129.6L286.1 127.5L292.3 122.7L293.9 118.6Z" fill="#FF6F00"/>
<path d="M295.9 129.6L295.9 132.4L290.8 132.4L290.8 136.4L289.2 137.2L289.2 140.0L282.9 140.0L279.8 140.0L279.8 135.6L286.1 129.1L288.9 129.6Z" fill="#FF6F00"/>
<path d="M306.1 116.2L306.1 117.6L306.9 119.4L307.7 121.8L304.9 123.0L303.9 124.4L301.8 125.9L299.4 126.5L295.9 128.0L295.9 130.3L302.1 134.0L311.5 140.3L311.5 141.0L314.6 143.6L316.2 143.4L319.0 142.9L321.4 140.8L328.4 136.4L325.3 134.8L324.5 131.9L325.1 129.1L324.5 125.6L323.7 122.7L321.5 120.7L322.6 117.8L323.1 114.7L323.1 112.9L309.6 112.9Z" fill="#FF6F00"/>
<path d="M323.1 112.9L323.1 114.7L322.6 117.8L321.5 120.7L323.7 122.7L324.5 125.6L325.8 124.4L325.8 123.0L327.7 121.8L327.7 120.7L329.2 119.4L328.4 112.9Z" fill="#FF6F00"/>
<path d="M327.7 120.2L327.7 121.8L325.8 123.0L325.8 124.4L324.5 125.6L325.1 129.1L324.5 131.9L325.3 134.8L328.4 136.4L331.9 137.9L333.2 137.2L347.3 142.9L347.3 142.1L348.9 142.1L348.9 138.9L348.9 120.2Z" fill="#FF6F00"/>
<path d="M348.9 120.2L348.9 138.9L367.5 138.9L369.3 135.6L366.1 125.9L364.4 126.7L363.3 123.8L363.0 120.2Z" fill="#C71000"/>
<path d="M286.5 140.0L289.2 140.0L289.2 137.2L288.2 135.1L287.0 136.3Z" fill="#FFFFFF"/>
<path d="M279.8 140.0L289.2 140.0L289.2 137.2L290.8 136.4L290.8 132.4L295.9 132.4L295.9 130.3L302.1 134.0L299.4 134.0L301.0 147.8L301.3 148.1L300.8 149.4L295.0 149.4L292.8 149.6L291.5 149.2L290.4 150.5L289.2 149.4L286.8 147.6L283.7 148.6L279.8 148.6Z" fill="#FF6F00"/>
<path d="M302.1 134.0L311.5 140.3L311.5 141.0L314.6 143.6L316.2 143.4L316.2 147.3L315.1 149.6L311.0 150.4L308.8 150.2L306.5 151.5L304.9 152.3L303.3 153.0L302.5 154.2L301.3 155.4L301.0 157.7L299.9 157.3L297.0 158.0L296.6 156.7L295.5 154.4L293.1 155.1L291.7 154.4L291.7 153.4L290.4 150.5L291.5 149.2L292.8 149.6L295.0 149.4L300.8 149.4L301.3 148.1L301.0 147.8L299.4 134.0Z" fill="#FF6F00"/>
<path d="M279.8 148.6L283.7 148.6L286.8 147.6L289.2 149.4L290.4 150.5L291.7 153.4L291.7 154.4L288.1 154.1L286.1 153.9L283.4 154.4L279.8 154.4Z" fill="#FF6F00"/>
<path d="M279.8 152.1L286.1 152.1L287.9 152.6L286.1 153.1L279.8 153.1Z" fill="#FF6F00"/>
<path d="M283.4 154.4L286.1 153.9L288.1 154.1L288.1 155.5L286.1 156.7L282.9 157.5L281.3 154.4Z" fill="#FF6F00"/>
<path d="M286.1 156.7L288.1 155.5L288.1 154.1L291.7 154.4L293.1 155.1L295.5 154.4L296.6 156.7L297.0 158.0L297.7 159.9L296.6 162.2L294.8 162.5L294.8 160.9L293.4 160.7L293.0 159.8L292.0 158.3L290.0 158.5L288.7 159.9L286.1 160.7L283.7 157.5Z" fill="#FF6F00"/>
<path d="M288.7 159.9L290.0 158.5L292.0 158.3L293.0 159.8L293.4 160.7L291.5 163.3L290.0 164.8L286.8 160.7Z" fill="#FF6F00"/>
<path d="M291.5 163.3L293.4 160.7L294.8 160.9L294.8 162.5L296.6 162.2L296.3 164.0L297.8 165.1L297.8 167.4L297.8 168.8L290.8 165.6Z" fill="#FF6F00"/>
<path d="M297.8 168.8L297.8 167.4L297.8 165.1L296.3 164.0L296.6 162.2L297.7 159.9L297.0 158.0L299.9 157.3L301.0 157.7L302.2 158.8L304.9 158.5L305.4 159.3L305.2 161.9L304.6 163.5L305.2 166.2L305.2 168.8Z" fill="#FFFFFF"/>
<path d="M301.0 157.7L301.3 155.4L302.5 154.2L303.3 153.0L304.9 152.3L306.5 151.5L308.8 150.2L309.9 150.4L310.2 151.8L311.2 152.8L311.2 153.8L313.1 154.4L313.4 155.2L311.8 156.0L311.0 156.7L309.4 156.5L305.2 156.7L305.2 158.8L304.9 158.5L302.2 158.8Z" fill="#FF6F00"/>
<path d="M305.2 168.8L305.2 166.2L304.6 163.5L305.2 161.9L305.4 159.3L305.2 158.8L305.2 156.7L309.4 156.5L310.1 157.8L310.4 160.2L310.5 162.5L310.4 163.5L311.5 164.6L311.5 168.0Z" fill="#FF6F00"/>
<path d="M311.5 168.0L311.5 164.6L310.4 163.5L310.5 162.5L310.4 160.2L310.1 157.8L309.4 156.5L311.0 156.7L310.9 157.8L312.1 159.9L312.1 164.5L312.1 168.0Z" fill="#FF6F00"/>
<path d="M312.1 168.0L312.1 164.5L312.1 159.9L310.9 157.8L311.0 156.7L311.8 156.0L313.4 155.2L314.0 154.4L315.3 155.5L315.6 157.5L314.0 159.9L313.8 164.1L313.8 168.0Z" fill="#FF6F00"/>
<path d="M313.8 168.0L313.8 164.1L314.0 159.9L315.6 157.5L315.3 155.5L315.9 152.6L318.2 152.0L320.6 153.4L323.7 153.8L325.3 153.0L328.4 153.1L331.0 152.3L331.9 154.2L332.5 155.9L331.3 156.7L330.3 159.1L328.8 160.7L328.1 163.2L326.9 163.8L325.6 163.2L324.2 164.0L323.1 166.7L323.1 169.6Z" fill="#C71000"/>
<path d="M316.2 143.4L319.0 142.9L321.4 140.8L328.4 136.4L331.9 137.9L333.2 137.2L334.7 141.6L334.1 145.3L333.9 147.1L331.0 152.3L328.4 153.1L325.3 153.0L323.7 153.8L320.6 153.4L318.2 152.0L315.9 152.6L315.3 155.5L314.0 154.4L313.1 154.4L311.2 153.8L311.2 152.8L310.2 151.8L309.9 150.4L311.0 150.4L315.1 149.6L316.2 147.3Z" fill="#FF6F00"/>
<path d="M333.2 137.2L347.3 142.9L347.3 149.1L345.6 149.4L344.8 151.8L344.1 153.9L345.6 156.0L344.9 156.8L343.7 157.3L341.6 159.8L339.4 159.9L339.3 160.6L336.3 162.0L333.9 162.3L333.3 160.7L331.6 158.6L333.9 158.3L333.2 156.7L333.2 154.9L332.5 153.9L331.9 154.2L331.0 152.3L333.9 147.1L334.1 145.3L334.7 141.6Z" fill="#FF6F00"/>
<path d="M348.9 138.9L348.9 142.1L347.3 142.1L347.3 149.1L345.6 149.4L344.8 151.8L344.1 153.9L345.6 156.0L344.9 156.8L346.8 158.8L346.5 160.1L348.5 160.2L349.6 157.8L352.0 158.9L353.6 159.3L355.9 158.3L358.0 158.8L360.3 155.5L361.7 154.7L361.4 157.0L363.0 159.1L363.5 157.5L364.6 156.7L365.3 154.2L366.4 153.4L366.9 151.3L367.7 147.0L370.0 145.3L372.4 142.1L367.5 138.9Z" fill="#FF6F00"/>
<path d="M346.5 160.1L348.5 160.2L349.6 157.8L352.0 158.9L353.6 159.3L355.9 158.3L358.0 158.8L360.3 155.5L361.7 154.7L361.4 157.0L363.0 159.1L361.4 161.7L362.7 160.9L364.1 163.6L365.8 165.9L366.0 167.0L363.0 167.7L362.2 168.3L359.8 168.7L358.1 168.8L355.9 167.2L354.2 167.5L352.6 166.1L351.0 164.0L349.2 162.3L348.1 161.2Z" fill="#FF6F00"/>
<path d="M366.9 151.3L368.5 151.5L370.0 151.0L372.4 151.0L374.0 152.6L376.2 154.2L375.2 155.9L375.2 156.7L377.0 156.8L377.9 159.3L380.2 160.4L383.4 161.5L385.0 161.5L380.2 166.4L377.9 166.6L375.5 167.9L374.0 168.2L371.6 168.8L369.3 168.7L367.5 167.4L366.0 167.0L365.8 165.9L364.1 163.6L362.7 160.9L361.4 161.7L363.0 159.1L363.5 157.5L364.6 156.7L365.3 154.2L366.4 153.4Z" fill="#FF6F00"/>
<path d="M370.0 145.3L367.7 147.0L366.9 151.3L368.5 151.5L370.0 151.0L372.4 151.0L374.0 152.6L376.2 154.2L377.3 153.9L378.7 153.4L372.4 143.7Z" fill="#FF6F00"/>
<path d="M377.3 153.9L376.2 154.2L375.2 155.9L375.2 156.7L377.0 156.8L377.6 155.9L378.7 155.1Z" fill="#FF6F00"/>
<path d="M377.0 156.8L377.9 159.3L380.2 160.4L383.4 161.5L385.0 161.5L380.2 166.4L377.9 166.6L375.5 167.9L374.0 168.2L374.0 175.8L374.9 177.3L375.5 179.4L392.8 166.4L392.8 153.4L378.7 155.1L377.6 155.9Z" fill="#FF6F00"/>
<path d="M374.9 177.3L374.0 175.8L374.0 168.2L371.6 168.8L369.3 168.7L367.5 167.4L366.0 167.0L363.0 167.7L363.8 169.6L364.6 171.7L363.1 173.9L362.8 176.1L368.6 179.4L368.8 180.2L371.1 182.1L373.2 183.4L376.3 178.6Z" fill="#FF6F00"/>
<path d="M358.1 168.8L359.8 168.7L362.2 168.3L363.0 167.7L363.8 169.6L364.6 171.7L363.1 173.9L362.8 176.1L357.5 176.1L356.1 176.8L356.1 175.3L356.2 173.4L358.6 170.9L358.0 170.6Z" fill="#FF6F00"/>
<path d="M362.8 176.1L368.6 179.4L368.8 180.2L371.1 182.1L374.0 182.6L374.8 191.5L373.2 191.5L369.3 192.8L366.1 193.3L364.4 193.1L363.8 190.7L362.2 189.9L360.6 189.4L358.3 188.4L357.8 187.9L355.9 185.0L355.6 181.8L356.7 181.5L358.0 179.8L357.5 178.4L358.0 177.3L357.5 176.1Z" fill="#FF6F00"/>
<path d="M355.1 178.9L356.1 176.8L357.5 176.1L358.0 177.3L357.5 178.4L356.4 179.0Z" fill="#FF6F00"/>
<path d="M355.1 178.9L356.4 179.0L357.5 178.4L358.0 179.8L356.7 181.5L355.6 181.8Z" fill="#FF6F00"/>
<path d="M323.1 169.6L323.1 166.7L324.2 164.0L325.6 163.2L326.9 163.8L328.1 163.2L328.8 160.7L330.3 159.1L331.3 156.7L332.5 155.9L331.9 154.2L332.5 153.9L333.2 154.9L333.2 156.7L333.9 158.3L331.6 158.6L333.3 160.7L333.9 162.3L332.4 164.8L332.7 167.0L334.4 169.6L334.9 170.9L334.9 171.7L332.4 170.9L330.5 170.9L327.3 170.9L325.0 170.8L322.9 170.8Z" fill="#FF6F00"/>
<path d="M333.9 162.3L336.3 162.0L339.3 160.6L339.4 159.9L341.6 159.8L343.7 157.3L344.9 156.8L346.8 158.8L346.5 160.1L348.1 161.2L349.2 162.3L351.0 164.0L352.6 166.1L349.6 166.1L348.1 166.4L344.9 167.9L341.8 167.4L340.2 166.2L338.8 167.5L338.8 168.8L337.1 168.7L335.5 169.2L334.9 170.9L334.4 169.6L332.7 167.0L332.4 164.8Z" fill="#FF6F00"/>
<path d="M322.9 170.8L325.0 170.8L327.3 170.9L327.3 172.9L324.7 172.9L322.9 172.9Z" fill="#FF6F00"/>
<path d="M322.2 172.9L324.7 172.9L327.3 172.9L327.3 170.9L330.5 170.9L330.3 172.4L331.9 172.2L332.4 173.7L331.4 174.5L332.2 175.3L332.2 177.6L331.7 178.4L330.0 178.2L329.2 177.7L327.8 178.4L328.3 180.2L327.0 180.8L325.3 181.8L322.2 176.1Z" fill="#FF6F00"/>
<path d="M325.3 181.8L327.0 180.8L328.3 180.2L327.8 178.4L329.2 177.7L330.0 178.2L331.7 178.4L332.2 177.6L332.2 175.3L331.4 174.5L332.4 173.7L331.9 172.2L330.3 172.4L330.5 170.9L332.4 170.9L334.9 171.7L334.9 170.9L335.5 169.2L337.1 168.7L338.8 168.8L338.0 170.8L337.5 173.7L337.4 175.3L336.0 176.4L335.0 178.1L334.7 180.2L333.5 181.5L332.2 182.4L330.8 182.3L330.0 182.0L329.4 181.6L328.8 182.6L326.9 183.4Z" fill="#FF6F00"/>
<path d="M326.9 183.9L328.9 184.2L330.3 184.1L335.7 184.1L337.1 187.6L340.1 187.5L340.2 185.8L343.8 186.3L343.8 189.9L344.6 192.6L347.1 192.2L347.8 192.8L349.3 192.6L349.5 193.6L352.3 193.3L354.2 194.8L355.1 196.2L356.4 196.2L356.4 194.3L354.2 193.6L354.5 189.9L355.0 188.3L357.8 187.9L355.9 185.0L355.6 181.8L355.1 178.9L356.1 176.8L356.1 175.3L356.2 173.4L358.6 170.9L358.0 170.6L358.1 168.8L355.9 167.2L354.2 167.5L352.6 166.1L349.6 166.1L348.1 166.4L344.9 167.9L341.8 167.4L340.2 166.2L338.8 167.5L338.8 168.8L338.0 170.8L337.5 173.7L337.4 175.3L336.0 176.4L335.0 178.1L334.7 180.2L333.5 181.5L332.2 182.4L330.8 182.3L330.0 182.0L329.4 182.9L328.8 183.9Z" fill="#FFFFFF"/>
<path d="M326.9 202.4L328.1 202.4L330.0 202.0L331.6 202.7L338.6 202.7L342.6 203.7L346.3 203.0L344.1 200.7L344.1 195.6L347.3 195.6L347.1 192.2L344.6 192.6L343.8 189.9L343.8 186.3L340.2 185.8L340.1 187.5L337.1 187.6L335.7 184.1L330.3 184.1L328.9 184.2L326.9 184.2Z" fill="#FF6F00"/>
<path d="M326.9 183.9L328.8 183.9L329.4 182.9L330.0 182.0L329.4 181.6L328.8 182.6L326.9 182.9Z" fill="#FF6F00"/>
<path d="M347.1 192.2L347.8 192.8L349.3 192.6L349.5 193.6L352.3 193.3L354.2 194.8L355.1 196.2L356.4 196.2L356.4 194.3L354.2 193.6L354.5 189.9L355.0 188.3L357.8 187.9L358.3 188.4L360.6 189.4L362.2 189.9L361.9 192.0L361.4 194.8L360.9 196.4L361.7 197.2L357.0 198.5L357.3 199.8L355.0 200.4L352.0 203.7L349.3 203.3L346.3 203.0L344.1 200.7L344.1 195.6L347.3 195.6Z" fill="#FF6F00"/>
<path d="M362.2 189.9L363.8 190.7L364.4 193.1L363.9 194.8L364.6 196.4L365.8 198.0L365.8 200.4L365.0 202.2L363.5 200.4L363.8 198.8L361.7 197.2L360.9 196.4L361.4 194.8L361.9 192.0Z" fill="#FF6F00"/>
<path d="M374.8 191.5L373.2 191.5L369.3 192.8L366.1 193.3L364.4 193.1L363.9 194.8L364.6 196.4L365.8 198.0L365.8 200.4L365.0 202.2L363.5 200.4L363.8 198.8L361.7 197.2L357.0 198.5L357.3 199.8L359.8 201.2L361.4 202.0L361.1 205.3L360.6 209.0L358.7 210.8L359.8 214.2L359.8 216.5L360.0 217.9L361.3 218.1L363.0 218.2L367.7 213.4L375.5 198.8Z" fill="#FF6F00"/>
<path d="M349.3 203.3L352.0 203.7L355.0 200.4L357.3 199.8L359.8 201.2L361.4 202.0L361.1 205.3L360.6 209.0L358.7 210.8L355.8 210.5L353.6 209.5L353.1 207.7L350.7 206.1Z" fill="#FF6F00"/>
<path d="M349.3 203.3L350.7 206.1L353.1 207.7L353.6 209.5L355.8 210.5L353.6 211.4L352.0 212.7L350.3 214.5L349.6 216.1L345.7 215.5L343.7 217.9L342.1 218.1L341.0 214.7L341.0 210.1L342.6 210.1L342.6 204.1L346.2 203.7L348.1 203.7Z" fill="#FF6F00"/>
<path d="M326.9 202.4L328.1 202.4L330.0 202.0L331.6 202.7L338.6 202.7L342.6 203.7L346.3 203.0L349.3 203.3L348.1 203.7L346.2 203.7L342.6 204.1L342.6 210.1L341.0 210.1L341.0 214.7L341.0 220.5L339.4 221.3L337.1 221.0L335.5 220.8L333.2 221.5L328.4 210.1Z" fill="#FF6F00"/>
<path d="M333.2 221.5L335.5 220.8L337.1 221.0L339.4 221.3L341.0 220.5L341.0 214.7L342.1 218.1L343.7 217.9L345.7 215.5L349.6 216.1L350.3 214.5L352.0 212.7L353.6 211.4L355.8 210.5L358.7 210.8L359.8 214.2L359.8 216.5L358.7 216.3L358.0 217.9L358.7 218.7L360.0 217.9L361.3 218.1L363.0 218.2L361.4 232.8L336.3 232.8Z" fill="#008EA0"/>
<path d="M352.0 222.5L353.6 221.2L354.8 221.0L355.8 222.3L355.1 223.4L353.9 224.1L352.5 223.6Z" fill="#008EA0"/>
<path d="M359.8 216.5L358.7 216.3L358.0 217.9L358.7 218.7L360.0 217.9Z" fill="#FF6F00"/>
</g>
<path d="M300.3 116.5L301.3 116.3L304.9 117.3L306.5 117.6L309.6 116.5L312.0 115.4L314.3 114.9L317.4 114.9L321.4 114.6L325.0 114.1L326.9 114.6L326.1 115.4L326.2 117.0L326.9 118.6L325.3 119.4L326.9 120.7L329.2 121.2L330.3 121.2L333.5 122.2L333.9 123.5L337.1 124.4L339.4 125.4L341.0 124.3L341.0 122.2L343.4 121.2L345.7 121.7L348.9 123.1L352.0 123.8L355.1 124.4L356.7 123.8L358.3 123.3L360.3 124.0L363.3 123.8L364.4 126.7L363.5 129.1L363.3 129.6L362.2 128.7L360.8 126.1L360.6 126.7L361.4 128.3L362.7 130.4L363.8 132.4L365.3 135.6L365.5 136.4L367.5 138.9L368.0 140.5L368.0 142.9L370.0 145.3L371.6 149.2L374.0 151.0L376.3 153.4L377.6 154.2L377.1 155.9L378.7 157.5L381.8 157.0L385.0 156.4L388.1 155.9L390.1 155.2L389.8 157.5L389.4 159.9L387.3 163.2L385.7 166.4L383.4 169.6L381.8 171.3L380.7 171.3L378.7 172.9L376.3 175.3L374.9 177.3L372.7 178.9L371.9 181.0L371.1 182.6L370.5 185.0L371.6 187.5L372.1 190.7L373.2 191.5L373.3 194.8L373.7 198.0L373.2 200.4L370.8 202.0L367.7 203.7L366.1 205.3L364.6 206.9L364.1 208.5L365.3 210.1L365.3 213.4L361.4 215.5L361.3 216.6L361.3 218.2L360.6 220.7L358.3 223.1L356.7 225.2L354.3 227.5L352.8 228.4L349.9 229.6L347.3 229.7L344.1 229.9L341.0 230.9L338.6 230.1L338.3 227.6L338.2 225.9L336.8 223.1L335.5 220.8L333.5 218.2L333.2 215.0L332.4 211.6L330.8 208.5L329.2 204.5L328.1 202.4L328.1 200.4L328.9 198.0L330.6 194.8L331.3 192.3L330.3 189.1L329.7 185.8L328.9 184.2L328.8 182.6L328.1 181.8L326.9 180.7L325.0 178.6L323.7 176.1L324.2 173.7L324.7 172.9L325.0 170.8L324.8 168.8L324.5 168.0L322.9 167.2L320.6 167.4L319.0 167.5L318.2 165.6L316.7 164.3L314.9 164.1L312.7 164.3L311.5 164.6L309.6 165.3L306.5 166.7L304.9 166.2L303.3 165.9L300.2 166.6L297.8 167.4L295.5 166.4L292.6 164.3L291.5 163.3L290.0 162.3L288.9 160.7L288.7 159.1L286.8 157.5L286.1 156.7L284.5 155.1L283.4 154.4L283.2 152.6L282.1 150.7L283.7 148.6L283.7 145.3L284.2 142.9L282.9 140.5L284.5 136.1L286.8 132.4L289.2 129.6L292.3 127.8L293.9 126.7L294.4 125.1L294.2 123.5L295.2 121.8L297.7 120.1L298.9 119.4Z" fill="none"/>
<g clip-path="url(#c_eurasia)">
<path d="M286.1 36.8L615.8 36.8L615.8 174.5L286.1 174.5Z" fill="#FF6348"/>
<path d="M446.7 95.0L447.4 94.8L452.5 101.3L459.5 102.9L460.9 105.3L468.2 105.5L474.5 107.1L479.2 105.8L485.1 103.7L485.3 101.6L488.6 101.6L491.7 99.2L497.7 98.8L494.5 97.2L490.9 96.9L492.8 93.8L496.9 93.0L499.3 90.3L498.8 88.3L503.5 87.8L507.4 89.1L509.8 93.5L515.0 95.4L521.5 96.1L518.7 101.6L515.3 101.6L515.6 104.8L514.6 105.8L513.4 104.8L510.6 106.5L508.7 106.9L504.8 109.9L504.3 112.9L509.0 125.9L502.7 138.9L485.4 143.7L479.2 139.7L477.0 138.9L477.1 137.6L474.9 136.8L472.6 137.7L470.1 138.2L469.3 138.2L468.3 139.3L465.3 138.5L464.7 135.6L462.8 134.8L464.2 132.7L464.6 129.9L462.4 128.7L460.3 126.9L457.2 127.5L454.2 129.5L451.7 128.8L450.1 128.8L449.0 129.1L447.9 129.3L444.6 129.1L441.5 127.2L438.3 125.4L436.8 125.6L433.6 124.3L432.8 121.7L433.6 118.9L431.7 117.0L428.9 116.2L427.2 114.1L427.4 112.1L425.5 110.5L425.8 109.5L429.7 108.9L432.8 107.6L435.5 106.1L435.5 105.2L436.0 101.8L438.8 100.8L439.9 98.0L443.8 98.2L444.1 96.1Z" fill="#FF95A8"/>
<path d="M447.4 94.8L452.5 101.3L459.5 102.9L460.9 105.3L468.2 105.5L474.5 107.1L479.2 105.8L485.1 103.7L485.3 101.6L488.6 101.6L491.7 99.2L497.7 98.8L494.5 97.2L490.9 96.9L492.8 93.8L488.6 93.2L483.9 94.6L479.2 94.3L476.8 93.0L470.1 92.7L469.7 91.2L463.9 90.6L462.7 93.8L454.0 92.4Z" fill="#FF6F00"/>
<path d="M504.8 109.9L508.7 106.9L510.6 106.5L513.4 104.8L514.6 105.8L516.1 106.5L513.7 111.3L511.2 112.0L508.5 113.3L505.9 113.4L504.3 112.9Z" fill="#FF6F00"/>
<path d="M511.2 112.0L508.5 113.3L505.9 113.4L505.9 119.4L513.7 119.4L514.5 112.9Z" fill="#FF6F00"/>
<path d="M382.6 95.9L383.4 94.3L385.7 93.5L388.9 90.7L392.8 91.4L395.9 92.4L400.7 91.9L405.4 92.2L403.8 90.3L405.4 87.0L411.7 86.4L417.9 84.9L421.1 86.7L425.0 87.3L429.7 86.7L435.2 91.9L439.9 91.9L443.8 94.1L446.7 95.0L444.1 96.1L443.8 98.2L439.9 98.0L438.8 100.8L436.0 101.8L435.5 105.2L435.5 106.1L433.6 105.2L427.4 105.0L425.0 105.6L421.1 106.0L419.5 108.1L416.4 108.1L414.0 106.5L413.2 104.8L411.5 103.7L406.9 104.0L405.4 102.6L401.4 100.8L397.5 101.6L397.5 107.6L395.6 106.5L392.8 106.5L392.0 106.8L389.7 104.8L388.1 101.6L386.5 99.5L385.7 99.0L383.4 96.7Z" fill="#FF6F00"/>
<path d="M397.5 107.6L397.5 101.6L401.4 100.8L405.4 102.6L406.9 104.0L411.5 103.7L413.2 104.8L414.0 106.5L416.4 108.1L419.5 108.1L421.1 106.0L422.6 107.3L424.2 108.4L422.2 109.4L420.3 108.4L420.3 109.4L417.9 109.4L417.1 110.5L415.6 110.8L416.4 112.9L416.0 114.2L414.0 113.9L411.7 112.1L407.7 109.7L406.8 107.8L403.8 106.8L403.8 106.1L401.4 105.3L399.1 107.6Z" fill="#FF6F00"/>
<path d="M392.0 106.8L392.8 106.5L395.6 106.5L397.5 107.6L399.1 107.6L401.4 105.3L403.8 106.1L403.8 106.8L406.8 107.8L407.7 109.7L411.7 112.1L414.0 113.9L410.9 115.7L408.5 116.5L405.7 116.8L405.4 115.2L402.7 113.8L399.6 112.6L396.7 112.9L394.4 114.1L394.2 114.1L391.2 113.8L389.7 109.7Z" fill="#FF6F00"/>
<path d="M420.3 107.3L421.1 106.0L425.0 105.6L427.4 105.0L433.6 105.2L435.5 106.1L432.8 107.6L429.7 108.9L425.8 109.5L425.5 110.5L421.9 110.5L418.7 110.3L420.3 109.4L422.2 109.4L424.2 108.4L422.6 107.3L421.1 106.0Z" fill="#FFFFFF"/>
<path d="M416.0 114.2L416.4 112.9L415.6 110.8L417.1 110.5L417.9 109.4L420.3 109.4L420.3 108.4L420.3 109.4L418.7 110.3L421.9 110.5L425.5 110.5L427.4 112.1L427.2 114.1L424.2 114.1L421.9 114.9L421.9 112.9L419.8 113.6L418.7 114.2Z" fill="#FF6F00"/>
<path d="M405.7 116.8L408.5 116.5L410.9 115.7L414.0 113.9L416.0 114.2L418.7 114.2L419.8 113.6L421.9 112.9L421.9 114.9L424.2 114.1L427.2 114.1L425.0 114.7L421.9 115.7L421.4 118.3L419.5 119.4L418.7 121.0L418.4 122.8L415.6 123.8L413.8 124.4L413.5 126.2L407.7 126.9L405.2 126.2L406.6 124.3L405.1 123.5L404.7 120.2Z" fill="#FF6F00"/>
<path d="M431.7 117.0L433.6 118.9L432.8 121.7L433.6 124.3L436.8 125.6L435.4 125.6L435.4 127.8L440.4 130.1L443.1 131.4L447.9 131.7L447.9 129.3L449.0 129.1L449.3 130.3L449.3 131.1L454.0 131.1L454.2 129.5L457.2 127.5L460.3 126.9L462.4 128.7L460.6 130.4L458.9 131.6L458.1 133.8L457.2 135.8L456.1 135.6L456.2 138.1L455.0 139.0L454.5 136.1L453.3 137.2L452.8 135.6L454.4 135.1L454.7 134.0L450.6 133.5L450.6 132.5L448.5 131.7L447.9 132.7L448.1 134.8L449.2 136.9L449.0 138.1L449.3 139.2L449.3 142.1L438.3 166.4L419.5 166.4L413.2 138.9L416.7 136.1L417.6 135.1L421.1 135.0L420.0 132.9L419.5 131.4L421.1 129.5L424.2 126.7L426.6 124.3L427.8 122.2L425.8 121.0L425.8 118.3L430.5 117.8Z" fill="#FF6348"/>
<path d="M406.3 133.7L406.5 131.9L408.8 131.1L409.0 130.4L408.2 128.7L405.2 126.2L407.7 126.9L413.5 126.2L413.8 124.4L415.6 123.8L418.4 122.8L418.7 121.0L419.5 119.4L421.4 118.3L421.9 115.7L425.0 114.7L427.2 114.1L428.9 116.2L431.7 117.0L430.5 117.8L425.8 118.3L425.8 121.0L427.8 122.2L426.6 124.3L424.2 126.7L421.1 129.5L419.5 131.4L420.0 132.9L421.1 135.0L417.6 135.1L416.7 136.1L413.2 138.9L406.3 137.2Z" fill="#5A9599"/>
<path d="M435.4 125.6L436.8 125.6L438.3 125.4L441.5 127.2L444.6 129.1L447.9 129.3L447.9 131.7L443.1 131.4L440.4 130.1L435.4 127.8Z" fill="#FF6F00"/>
<path d="M449.3 130.3L449.3 131.1L454.0 131.1L454.2 129.5L451.7 128.8L450.1 128.8Z" fill="#FF6F00"/>
<path d="M449.3 142.1L449.3 139.2L449.0 138.1L449.2 136.9L448.1 134.8L447.9 132.7L448.5 131.7L450.6 132.5L450.6 133.5L454.7 134.0L454.4 135.1L452.8 135.6L453.3 137.2L454.5 136.1L455.0 139.0L454.5 140.8L454.0 142.1Z" fill="#FF6F00"/>
<path d="M454.0 142.1L454.5 140.8L455.0 139.0L456.2 138.1L456.1 135.6L457.2 135.8L458.1 133.8L458.9 131.6L460.6 130.4L462.4 128.7L464.6 129.9L464.2 132.7L462.8 134.8L464.7 135.6L465.3 138.5L468.3 139.3L466.8 141.5L464.9 142.6L463.1 144.5L464.4 147.8L463.8 149.9L465.3 153.4L466.0 155.4L464.7 158.3L461.9 159.9L454.0 150.2Z" fill="#FF6F00"/>
<path d="M466.8 141.5L467.5 142.9L468.5 142.9L468.2 146.0L469.9 145.0L471.8 144.7L474.0 146.3L474.1 148.1L475.4 149.2L475.2 151.2L471.3 151.5L470.4 152.5L471.2 155.5L469.7 158.3L471.3 162.3L469.9 164.5L468.3 165.3L466.8 164.1L465.0 164.8L461.9 159.9L464.7 158.3L466.0 155.4L465.3 153.4L463.8 149.9L464.4 147.8L463.1 144.5L464.9 142.6Z" fill="#C71000"/>
<path d="M466.8 141.5L468.3 139.3L469.3 138.2L470.1 138.2L471.3 139.7L472.9 140.6L474.1 142.3L472.9 142.9L474.8 144.4L477.0 147.0L478.4 149.9L478.4 151.0L476.0 151.3L475.2 151.2L475.4 149.2L474.1 148.1L474.0 146.3L471.8 144.7L469.9 145.0L468.2 146.0L468.5 142.9L467.5 142.9Z" fill="#FF6F00"/>
<path d="M470.1 138.2L472.6 137.7L474.9 136.8L477.1 137.6L477.0 138.9L479.2 139.7L482.3 142.1L483.9 155.1L477.6 163.2L472.1 160.7L473.5 157.7L475.7 156.7L476.0 155.5L478.5 154.2L478.4 151.0L478.4 149.9L477.0 147.0L474.8 144.4L472.9 142.9L474.1 142.3L472.9 140.6L471.3 139.7Z" fill="#FF6F00"/>
<path d="M471.2 155.5L470.4 152.5L471.3 151.5L475.2 151.2L476.0 151.3L478.4 151.0L478.5 154.2L476.0 155.5L475.7 156.7L473.5 157.7L472.1 159.1L470.5 157.5Z" fill="#FF6F00"/>
<path d="M466.8 164.1L468.3 165.3L469.9 164.5L471.3 162.3L474.5 168.0L474.5 172.9L472.1 173.2L466.6 169.6L465.0 164.8Z" fill="#FF6F00"/>
<path d="M379.0 110.7L379.9 110.2L382.6 111.5L385.0 110.3L386.4 112.3L387.3 112.1L389.7 112.9L393.6 112.9L394.2 114.1L394.4 114.1L396.7 112.9L399.6 112.6L402.7 113.8L405.4 115.2L405.7 116.8L404.7 120.2L405.1 123.5L406.6 124.3L405.2 126.2L408.2 128.7L409.0 130.4L408.8 131.1L406.5 131.9L406.3 133.7L406.3 137.2L398.3 133.2L392.8 133.2L387.3 127.5L385.7 125.9L384.5 124.3L384.6 122.7L381.8 121.0L381.0 119.4L382.1 117.8L381.0 116.2L379.9 114.2L379.3 112.9L379.0 111.3Z" fill="#C71000"/>
<path d="M385.7 125.9L385.0 125.9L384.5 125.7L382.6 127.4L379.8 127.2L375.5 124.3L371.1 122.5L370.5 120.4L374.0 118.8L374.3 116.2L376.2 114.4L379.9 114.2L381.0 116.2L382.1 117.8L381.0 119.4L381.8 121.0L384.6 122.7L384.5 124.3Z" fill="#C71000"/>
<path d="M382.6 127.4L384.5 125.7L385.0 125.9L386.5 126.7L386.2 128.3L385.6 128.3L384.2 127.7Z" fill="#FF6F00"/>
<path d="M365.3 116.3L366.0 116.3L366.4 116.3L367.2 114.9L369.3 114.9L372.4 114.9L376.2 114.4L374.3 116.2L374.0 118.8L370.5 120.4L367.4 122.2L365.8 121.5L365.8 120.6L366.7 119.4L366.7 118.4L366.0 118.4L365.3 118.4Z" fill="#FF6F00"/>
<path d="M364.2 120.9L364.7 120.9L365.8 120.6L366.7 119.4L366.7 118.4L366.0 118.4L365.0 118.4Z" fill="#FF6F00"/>
<path d="M362.7 123.8L363.3 123.8L364.4 126.7L365.2 123.8L365.3 121.8L365.8 121.5L365.8 120.6L364.7 120.9L363.8 120.9Z" fill="#FF6F00"/>
<path d="M364.4 126.7L365.2 123.8L365.3 121.8L365.8 121.5L367.4 122.2L370.5 120.4L371.1 122.5L367.7 123.5L369.3 125.1L368.5 125.9L367.2 126.1L366.1 127.2L364.4 126.9Z" fill="#FF6F00"/>
<path d="M363.8 126.9L364.4 126.9L366.1 127.2L367.2 126.1L368.5 125.9L369.3 125.1L367.7 123.5L371.1 122.5L375.5 124.3L379.8 127.2L382.6 127.4L384.2 127.7L385.6 128.3L387.3 128.8L389.7 131.1L389.4 134.3L390.5 135.1L392.2 137.4L396.3 137.7L396.9 138.9L395.9 142.1L391.2 143.7L386.5 144.4L385.3 145.0L383.4 147.0L380.2 146.3L377.7 146.2L377.4 147.4L376.6 147.9L374.0 148.6L366.1 134.0Z" fill="#C71000"/>
<path d="M376.6 147.9L377.4 147.4L377.7 146.2L380.2 146.3L383.4 147.0L385.3 145.0L386.5 144.4L391.2 143.7L393.0 147.6L393.6 150.2L380.2 156.7L375.5 154.2L374.8 148.6Z" fill="#FF6F00"/>
<path d="M393.0 147.6L391.2 143.7L395.9 142.1L396.9 138.9L396.3 137.7L397.5 135.5L398.0 134.2L399.9 133.2L405.4 138.1L400.7 147.0L393.6 150.2Z" fill="#FF6F00"/>
<path d="M390.5 135.1L392.2 137.4L396.3 137.7L397.5 135.5L398.0 134.2L399.9 133.2L398.0 130.8L394.4 133.2L390.5 134.0Z" fill="#FF6F00"/>
<path d="M389.4 134.3L390.5 135.1L391.2 134.0L390.5 131.6L389.0 132.4Z" fill="#FF6F00"/>
<path d="M349.6 109.7L350.4 108.4L351.0 106.9L353.6 106.0L356.7 106.5L364.6 105.2L374.8 106.5L374.8 107.3L377.9 107.9L378.2 109.5L379.9 110.2L379.0 110.7L379.0 111.3L379.3 112.9L379.9 114.2L376.2 114.4L372.4 114.9L369.3 114.9L367.2 114.9L366.4 116.3L365.3 116.3L361.4 117.0L352.0 116.5L349.6 112.9Z" fill="#FFFFFF"/>
<path d="M372.4 104.2L376.3 104.5L378.4 105.5L381.0 105.6L382.4 106.6L382.6 107.9L380.2 107.6L377.9 107.9L374.8 107.3L374.0 106.5L371.6 104.8Z" fill="#FF6F00"/>
<path d="M377.9 107.9L380.2 107.6L381.2 108.4L382.6 110.5L382.6 111.5L381.0 110.5L379.9 110.2L378.2 109.5Z" fill="#FF6F00"/>
<path d="M380.2 107.6L382.6 107.9L382.4 106.6L385.9 106.8L388.9 108.1L388.1 112.3L386.4 112.3L385.0 110.3L382.6 111.5L382.6 110.5L381.2 108.4Z" fill="#FF6F00"/>
<path d="M344.5 96.1L345.1 95.0L347.3 92.7L346.7 90.9L352.0 90.9L357.5 91.2L358.3 90.1L362.2 89.8L365.3 92.7L369.3 93.5L372.4 94.1L372.4 96.7L369.7 98.2L367.7 101.6L361.4 103.2L356.2 101.3L353.9 100.8L356.5 99.2L355.4 96.7L351.4 96.3L348.1 96.9L345.6 96.7Z" fill="#C71000"/>
<path d="M351.4 96.3L353.7 98.7L353.9 100.8L356.5 99.2L355.4 96.7Z" fill="#FF6F00"/>
<path d="M346.5 87.0L347.1 89.1L346.7 90.9L352.0 90.9L357.5 91.2L358.3 90.1L359.8 88.3L358.3 86.2L358.1 84.4L353.9 83.6L351.4 84.3L349.6 86.7Z" fill="#FF6F00"/>
<path d="M342.6 84.9L342.6 83.6L348.7 83.1L351.4 84.3L349.6 86.7L346.5 87.0L345.4 86.4L345.2 85.6L341.8 84.9Z" fill="#FF6F00"/>
<path d="M341.8 83.6L342.6 83.6L348.7 83.1L351.4 84.3L353.9 83.6L352.6 81.3L349.6 80.5L347.9 80.7L345.7 80.2L341.8 80.9Z" fill="#FF6F00"/>
<path d="M345.7 80.2L347.9 80.7L349.6 80.5L352.6 81.3L353.1 80.5L353.6 78.1L353.6 77.3L344.9 77.6Z" fill="#FF6F00"/>
<path d="M347.6 67.9L346.7 65.1L341.9 62.7L349.9 62.4L350.4 61.1L353.6 61.1L355.1 62.6L354.3 63.5L356.7 64.8L355.1 66.3L356.7 68.1L356.1 69.7L359.1 72.6L353.2 76.5L347.3 77.8L341.8 77.3L341.8 71.6Z" fill="#FF6F00"/>
<path d="M347.6 67.9L346.7 65.1L341.9 62.7L341.0 63.7L337.9 63.5L334.7 66.0L332.4 67.6L330.8 70.0L328.4 71.6L328.8 74.9L329.7 75.7L328.1 77.6L327.2 78.9L326.6 80.5L328.4 85.4L332.4 85.4L340.2 78.9L339.4 74.1L344.1 70.0Z" fill="#FF6F00"/>
<path d="M341.9 62.7L341.0 63.7L337.9 63.5L334.7 66.0L332.4 67.6L330.8 70.0L328.4 71.6L328.8 74.9L329.7 75.7L328.1 77.6L327.2 78.9L326.6 80.5L320.6 81.3L315.1 78.9L315.9 72.4L328.4 64.3L341.0 58.7L359.8 58.7L358.0 61.4L355.1 62.6L353.6 61.1L350.4 61.1L349.9 62.4Z" fill="#FF6F00"/>
<path d="M331.9 86.2L331.9 87.2L332.5 89.4L333.2 91.9L334.7 92.5L336.3 92.9L339.1 94.3L341.0 94.8L345.1 95.0L347.3 92.7L346.7 90.9L347.1 89.1L346.5 87.0L345.4 86.4L340.7 86.4L339.4 85.4L334.7 85.4Z" fill="#C71000"/>
<path d="M320.9 87.0L323.1 85.6L325.1 85.7L326.9 85.4L331.9 86.2L331.9 87.2L332.5 89.4L333.2 91.9L328.8 93.0L331.3 95.6L329.7 97.2L326.1 97.5L324.7 97.5L321.5 97.4L322.5 95.1L319.6 94.3L319.6 93.0L319.2 92.4L319.0 90.6L320.6 89.9L320.9 88.2Z" fill="#5A9599"/>
<path d="M323.1 85.6L325.1 85.7L327.7 85.4L327.7 80.5L321.4 80.5L321.4 85.4Z" fill="#FF6F00"/>
<path d="M314.3 91.2L314.9 91.2L316.4 91.2L317.4 91.1L318.9 91.9L319.2 92.4L319.0 90.6L320.6 89.9L320.9 88.2L320.9 87.0L315.9 87.0Z" fill="#FF6F00"/>
<path d="M313.5 91.7L314.9 91.2L316.4 91.2L317.4 91.1L318.9 91.9L319.2 92.4L319.6 93.0L318.7 94.3L317.1 93.3L316.2 93.5L314.3 92.4L313.2 91.4Z" fill="#FF6F00"/>
<path d="M313.2 91.4L313.5 91.7L314.3 92.4L316.2 93.5L317.1 93.3L318.7 94.3L319.6 94.3L322.5 95.1L321.5 97.4L319.2 99.7L320.6 100.1L320.1 101.4L321.7 103.1L321.4 103.5L321.4 105.6L314.6 106.5L314.6 105.8L310.7 105.2L306.8 104.2L304.9 102.4L300.2 95.9L306.5 92.7Z" fill="#FFFFFF"/>
<path d="M315.1 106.5L314.6 105.8L310.7 105.2L306.8 104.2L304.9 102.4L293.9 102.4L293.9 117.0L309.6 116.5L315.9 109.7Z" fill="#008EA0"/>
<path d="M293.9 115.4L298.0 114.2L298.6 112.6L298.1 110.5L298.8 108.9L299.9 107.1L296.7 106.5L295.6 106.6L293.9 106.5Z" fill="#FF6F00"/>
<path d="M319.2 99.7L321.5 97.4L324.7 97.5L326.1 98.5L325.5 99.5L323.7 100.1L320.6 100.1Z" fill="#FF6F00"/>
<path d="M324.7 97.5L326.1 97.5L329.7 97.2L331.3 95.6L333.2 95.1L336.3 95.4L336.4 96.7L334.9 98.7L332.4 99.3L329.1 98.8L326.1 98.5Z" fill="#FF6F00"/>
<path d="M321.4 103.5L321.7 103.1L320.1 101.4L320.6 100.1L323.7 100.1L325.5 99.5L326.1 98.5L329.1 98.8L331.1 99.2L331.0 100.6L330.0 102.4L339.4 108.9L336.3 114.6L331.6 109.7L323.7 104.0Z" fill="#8A4198"/>
<path d="M328.8 93.0L333.2 91.9L334.7 92.5L336.3 92.9L339.1 94.3L336.3 95.4L333.2 95.1L331.3 95.6Z" fill="#FF6F00"/>
<path d="M336.3 95.4L339.1 94.3L341.0 94.8L345.1 95.0L344.5 96.1L341.8 95.9L339.1 97.1L336.4 96.7Z" fill="#FF6F00"/>
<path d="M334.9 98.7L336.4 96.7L339.1 97.1L341.8 95.9L344.5 96.1L345.6 96.7L343.4 99.7L341.5 99.8L339.1 100.1L336.3 100.0Z" fill="#FF6F00"/>
<path d="M341.5 99.8L343.4 99.7L345.6 96.7L348.1 96.9L351.4 96.3L353.7 98.7L353.9 100.8L356.2 101.3L356.7 102.4L354.5 103.7L352.0 103.1L348.9 103.7L345.2 102.9L344.9 102.1L343.2 101.9Z" fill="#FF6F00"/>
<path d="M345.2 102.9L348.9 103.7L352.0 103.1L354.5 103.7L355.1 104.8L353.6 106.5L351.0 106.9L348.9 107.6L345.7 107.6L344.8 106.0L344.9 104.5Z" fill="#FF6F00"/>
<path d="M331.1 99.2L332.4 99.3L334.9 98.7L335.5 99.3L333.9 100.8L331.0 100.8Z" fill="#FF6F00"/>
<path d="M331.0 100.8L333.9 100.8L335.5 99.3L336.3 100.0L339.1 100.1L339.7 101.6L336.3 101.3L334.7 101.9L335.5 103.2L337.4 104.8L338.6 105.8L336.3 105.6L332.4 103.2L330.3 101.6Z" fill="#FF6F00"/>
<path d="M334.7 101.9L336.3 101.3L339.7 101.6L340.2 103.2L339.4 104.4L338.6 105.5L337.4 104.8L335.5 103.2Z" fill="#FF6F00"/>
<path d="M339.1 100.1L341.5 99.8L343.2 101.9L344.9 102.1L345.2 102.9L344.9 104.5L344.8 106.0L343.4 106.1L341.8 105.2L340.2 104.5L340.2 103.2L339.7 101.6Z" fill="#FF6F00"/>
<path d="M338.6 105.8L338.6 105.5L339.4 104.4L340.2 104.5L341.5 105.2L340.4 105.6L339.9 106.6L338.6 106.5Z" fill="#FF6F00"/>
<path d="M341.5 105.2L341.8 105.2L343.4 106.1L343.0 106.5L341.9 106.5L341.2 105.6Z" fill="#FFFFFF"/>
<path d="M341.8 108.1L341.9 106.5L343.0 106.5L343.4 106.1L344.8 106.0L345.7 107.6L344.9 107.9L342.6 108.2Z" fill="#FFFFFF"/>
<path d="M339.4 106.5L339.9 106.6L340.4 105.6L341.2 105.6L341.9 106.5L341.8 108.1L342.6 108.2L342.1 109.2L341.0 110.2L339.4 109.7Z" fill="#FF6F00"/>
<path d="M341.0 110.2L342.1 109.2L342.6 108.2L344.9 107.9L345.7 107.6L348.9 107.6L351.0 106.9L350.4 108.4L349.6 109.7L348.9 116.2L342.6 116.2L340.2 111.3Z" fill="#FFFFFF"/>
</g>
<path d="M295.6 114.6L294.8 111.8L295.8 108.9L295.8 106.6L295.2 104.8L297.0 103.7L301.0 103.9L304.1 104.0L306.8 104.2L307.7 102.4L307.9 100.0L306.1 98.0L302.5 96.9L302.2 96.1L304.9 95.4L307.1 95.8L306.8 94.0L307.9 94.5L309.9 94.3L312.0 93.3L312.1 92.0L313.5 91.7L315.1 91.2L316.2 90.3L317.0 88.6L318.2 88.0L320.6 88.0L322.5 87.7L323.3 87.0L323.1 85.4L322.3 84.4L322.5 82.2L324.5 81.8L326.2 81.0L325.9 83.0L326.6 83.5L325.3 84.6L324.7 85.4L325.3 86.2L326.9 86.4L326.9 87.0L328.4 86.7L330.8 86.4L331.9 87.2L334.7 86.5L338.6 85.9L340.2 86.4L341.0 86.2L342.6 85.1L342.6 83.8L342.6 82.2L343.7 81.2L344.9 81.0L346.5 82.2L347.8 81.8L347.9 80.1L346.5 79.4L346.5 78.6L348.9 78.1L353.6 78.1L356.7 77.5L354.3 76.5L352.0 76.5L348.9 77.0L345.7 77.5L343.4 76.5L343.4 74.9L343.0 73.2L344.9 71.6L348.1 69.5L349.5 69.0L347.6 67.9L344.1 68.2L342.9 70.0L339.4 72.1L337.1 74.1L336.6 76.2L339.1 77.6L337.9 78.9L335.8 81.3L335.3 82.8L334.4 83.6L332.1 84.6L330.0 84.8L329.5 83.5L328.4 81.3L327.2 78.9L326.2 78.1L324.5 79.1L322.2 80.4L320.6 80.5L318.5 79.4L317.6 77.3L317.4 74.9L317.9 73.7L320.6 72.4L323.7 71.3L326.1 70.0L328.4 68.4L330.0 66.8L332.4 65.1L333.9 63.9L337.1 62.2L339.4 61.1L343.4 60.8L346.5 59.8L349.9 59.3L353.6 59.5L358.3 60.6L355.1 61.4L358.0 61.4L361.4 62.1L366.1 62.6L374.0 65.1L374.4 66.8L372.4 67.4L369.3 67.6L363.8 66.8L361.4 66.6L363.8 69.2L364.6 70.3L368.5 71.1L369.3 70.0L373.2 70.0L372.4 68.4L375.5 66.8L378.7 67.3L378.7 64.7L377.9 63.5L381.8 64.3L381.8 66.3L386.5 64.7L392.8 63.0L395.9 63.5L400.7 62.9L403.8 63.4L404.6 61.4L410.1 62.2L414.8 63.0L417.1 63.9L414.8 61.4L414.8 59.5L417.1 56.6L419.5 55.8L423.4 56.6L423.9 59.5L422.6 62.7L425.0 65.1L422.6 67.1L425.8 66.0L425.8 63.5L425.3 61.1L426.6 57.0L428.1 57.5L430.5 57.9L432.1 59.5L435.2 57.9L436.0 55.4L444.6 54.6L446.2 53.0L454.0 51.7L463.5 50.9L473.4 48.6L477.6 49.8L485.4 50.6L487.8 52.2L482.3 54.3L487.0 54.9L493.3 55.4L496.4 56.2L502.7 55.4L509.0 55.8L512.9 58.7L518.4 58.7L524.7 58.7L529.4 57.0L538.8 57.4L545.1 58.7L548.2 59.6L556.1 59.5L560.8 60.8L563.9 61.7L571.8 61.6L576.5 61.1L578.1 62.4L585.9 61.4L592.2 62.7L596.9 63.9L603.2 65.6L608.2 67.4L603.2 70.0L595.3 68.7L593.8 67.1L590.6 69.2L588.3 69.7L591.4 73.2L584.4 74.4L579.6 76.2L577.0 77.3L570.2 77.0L566.3 77.6L567.1 79.7L564.7 80.9L566.0 83.5L563.6 85.4L560.8 88.3L558.1 90.3L555.6 91.9L554.5 88.6L553.9 85.4L554.0 82.2L556.9 79.7L560.8 76.5L565.5 74.1L567.1 73.2L560.8 74.9L556.1 74.5L553.0 78.4L548.2 78.9L542.0 78.1L534.1 78.6L529.4 81.3L524.7 85.4L523.1 87.0L526.3 87.3L530.2 87.8L531.4 89.9L530.2 93.5L529.9 96.7L526.3 100.0L522.3 103.2L518.4 105.3L516.8 104.5L514.8 106.0L513.2 108.1L510.6 109.7L509.8 111.0L511.3 112.6L512.8 114.6L512.9 116.5L512.1 117.6L509.8 118.3L508.0 118.8L508.2 116.2L508.4 114.6L507.4 113.4L505.9 112.9L506.3 110.8L504.8 109.9L501.1 111.0L500.0 111.6L501.1 108.9L499.6 108.2L496.4 110.8L494.4 111.3L495.6 112.9L496.4 114.1L499.3 113.3L501.9 114.1L499.6 115.4L497.2 117.3L497.2 118.6L498.8 120.2L500.8 123.0L500.8 124.6L498.5 125.4L501.1 126.2L500.4 128.7L498.0 131.6L497.2 133.2L494.9 134.8L492.5 136.9L488.9 138.4L487.0 138.9L483.9 139.8L482.8 140.5L482.6 141.6L482.0 139.7L479.6 139.5L477.3 140.8L475.7 143.7L476.8 146.2L479.5 148.6L481.0 151.8L481.2 154.2L480.7 155.9L477.6 157.7L476.8 159.1L474.5 160.6L474.5 158.3L473.5 157.7L472.1 157.3L471.3 155.9L470.5 154.7L468.2 153.9L467.9 152.8L466.6 153.0L466.4 155.1L465.3 157.5L465.5 159.6L466.9 160.9L467.4 162.8L469.1 163.3L470.1 164.5L471.9 166.7L472.1 170.0L473.2 172.2L472.1 172.4L470.1 170.9L468.6 169.6L467.5 167.7L467.1 165.6L466.8 164.0L465.8 162.8L464.2 161.2L463.9 159.1L464.4 157.5L464.6 155.1L463.8 151.8L463.0 149.4L462.8 147.8L461.6 147.0L459.2 148.9L457.7 148.6L458.0 145.3L456.9 142.9L455.3 141.6L454.4 140.5L453.7 138.4L451.7 138.9L449.3 139.2L447.8 139.3L446.2 140.0L445.9 141.3L443.8 142.6L441.5 144.9L438.8 147.4L436.8 148.9L435.5 150.2L435.4 152.6L434.9 155.9L434.9 157.8L433.6 159.4L432.4 160.1L431.3 161.4L429.7 159.9L429.2 158.3L428.1 155.4L427.0 153.4L426.3 150.2L425.0 147.8L423.9 143.7L423.7 140.5L423.4 138.9L422.8 140.0L420.8 140.8L417.9 138.4L419.5 137.2L417.1 136.4L415.4 135.6L414.8 134.3L414.0 133.4L410.1 133.5L406.3 133.7L402.2 133.4L399.6 132.9L398.8 130.8L395.2 131.4L392.0 129.9L389.7 127.8L388.1 125.7L386.5 125.3L385.7 125.9L385.0 126.9L385.7 128.3L387.3 130.4L388.4 131.6L389.4 133.2L390.0 132.2L390.6 134.0L390.5 135.1L392.8 135.5L395.2 135.0L396.4 133.5L397.8 132.1L398.1 134.0L399.1 135.6L401.6 136.3L403.5 138.1L401.9 141.3L400.3 143.7L399.1 145.3L396.3 146.5L394.4 147.0L391.6 148.3L388.1 150.2L385.7 151.8L381.8 153.0L380.2 153.8L377.9 153.9L377.4 152.6L376.8 150.2L376.6 147.9L375.5 146.2L374.0 143.7L371.1 139.7L370.0 136.4L368.0 134.0L366.9 131.6L365.0 129.1L364.4 126.7L363.3 123.8L364.2 122.3L364.7 120.9L365.3 119.6L366.0 118.4L365.8 117.0L366.1 116.2L366.4 115.2L365.3 115.2L363.8 115.0L362.2 116.0L360.6 116.0L358.3 114.9L357.5 115.7L355.1 115.4L353.6 115.0L352.5 114.6L352.5 112.9L351.2 112.1L351.7 110.5L350.7 109.7L350.7 109.2L350.4 108.4L348.9 108.2L347.3 108.6L347.6 109.5L346.5 109.4L345.6 108.9L345.1 109.7L345.7 110.8L346.5 112.1L347.3 112.9L346.0 112.9L346.0 113.8L345.7 115.4L344.8 115.4L343.7 114.9L342.9 113.3L343.7 112.5L342.6 112.1L342.1 111.3L341.3 110.3L340.2 108.9L340.1 107.3L339.7 106.5L338.6 105.6L337.1 104.8L334.7 104.0L333.5 102.9L332.4 101.3L331.1 101.8L331.0 100.6L329.1 101.0L328.9 102.7L330.8 103.9L331.9 105.6L334.7 106.6L334.7 107.4L337.1 108.4L338.6 109.5L337.9 110.0L336.3 108.9L335.7 110.0L336.4 111.3L335.5 112.3L334.7 113.1L334.2 112.6L334.7 110.8L333.9 109.7L332.8 108.7L331.9 108.4L330.0 107.6L328.8 106.8L326.9 105.6L325.9 104.4L325.3 103.2L323.4 102.6L321.4 103.5L319.8 104.7L317.4 104.4L315.9 104.0L314.5 104.7L314.6 105.8L314.6 106.6L313.1 107.4L310.9 108.4L309.3 110.5L309.9 111.6L308.7 112.9L307.2 114.1L306.1 114.9L302.7 115.0L301.1 116.0L299.7 115.2L298.6 114.2Z" fill="none"/>
<path d="M26.7 310.7L36.5 308.6L44.8 309.6L52.1 308.2L62.5 309.6L71.9 305.0L62.5 303.4L66.7 299.8L75.0 297.7L87.6 295.7L98.0 294.6L108.4 293.4L118.8 293.8L127.2 294.6L135.5 295.9L152.2 296.1L147.0 293.6L150.1 291.5L158.4 291.7L166.8 292.7L177.2 293.1L184.5 293.8L188.7 292.1L190.7 288.4L197.0 286.3L200.1 283.1L205.3 281.1L208.5 278.6L214.7 276.9L217.8 274.8L223.1 273.3L221.4 275.8L215.8 277.5L210.5 280.4L208.0 283.1L211.6 286.3L214.1 290.9L213.0 295.0L208.5 297.3L201.2 298.4L193.9 298.8L185.5 299.6L177.6 301.3L185.5 302.9L192.8 305.0L200.1 304.6L205.3 306.7L210.5 307.5L214.7 310.5L218.9 308.8L224.1 305.7L229.3 304.6L237.6 305.0L242.9 304.2L249.1 302.5L253.3 303.4L273.1 303.8L260.6 302.1L255.4 300.9L261.6 299.2L268.9 297.3L277.3 294.6L280.4 292.5L291.8 289.4L300.2 288.1L310.4 287.9L320.8 288.4L333.4 287.3L352.1 288.4L360.5 285.2L368.8 287.7L379.2 283.1L387.6 282.1L393.8 280.6L400.1 282.7L408.4 283.4L417.8 284.2L418.8 288.4L413.6 292.5L423.0 288.4L435.5 283.8L445.9 281.7L456.3 281.3L466.8 280.4L477.2 281.7L485.5 280.4L489.7 282.7L498.0 282.1L508.5 281.3L525.1 281.5L535.6 283.1L541.8 284.8L550.2 285.9L562.7 287.9L577.3 290.0L562.7 294.6L575.2 299.8L558.5 304.6L571.0 308.8L591.2 310.7Z" fill="#fff" style="stroke-width:0.7"/>
<ellipse cx="54.0" cy="304.5" rx="3.0" ry="0.8" fill="#fff" stroke="#000" stroke-width="0.7"/>
<ellipse cx="62.0" cy="302.0" rx="3.0" ry="0.8" fill="#fff" stroke="#000" stroke-width="0.7"/>
<ellipse cx="66.0" cy="305.5" rx="4.0" ry="1.0" fill="#fff" stroke="#000" stroke-width="0.7"/>
<ellipse cx="231.0" cy="304.0" rx="6.0" ry="2.5" fill="#fff" stroke="#000" stroke-width="0.7"/>
<circle cx="39.0" cy="196.5" r="0.7" fill="#555" stroke="none"/>
<circle cx="34.2" cy="208.4" r="0.7" fill="#555" stroke="none"/>
<circle cx="28.1" cy="203.6" r="0.7" fill="#555" stroke="none"/>
<circle cx="74.2" cy="202.5" r="0.7" fill="#555" stroke="none"/>
<circle cx="81.2" cy="200.3" r="0.7" fill="#555" stroke="none"/>
<circle cx="88.1" cy="203.2" r="0.7" fill="#555" stroke="none"/>
<circle cx="94.6" cy="203.8" r="0.7" fill="#555" stroke="none"/>
<circle cx="89.8" cy="188.9" r="0.7" fill="#555" stroke="none"/>
<circle cx="61.7" cy="170.7" r="0.7" fill="#555" stroke="none"/>
<circle cx="58.5" cy="167.5" r="0.7" fill="#555" stroke="none"/>
<circle cx="32.0" cy="245.1" r="0.7" fill="#555" stroke="none"/>
<circle cx="137.4" cy="218.1" r="0.7" fill="#555" stroke="none"/>
<circle cx="42.0" cy="199.0" r="0.7" fill="#555" stroke="none"/>
<circle cx="185.0" cy="228.5" r="0.7" fill="#555" stroke="none"/>
<path d="M185.5 130.2L189.0 132.7L192.4 136.1L195.9 138.2" fill="none" style="stroke:#666;stroke-width:0.5"/>
<path d="M203.6 144.1L208.4 143.8L211.9 145.9L213.3 149.3L213.7 152.8L213.0 155.6" fill="none" style="stroke:#666;stroke-width:0.5"/>
<path d="M355.3 107.8L353.9 107.3L353.6 106.5L353.4 105.3L354.5 104.2L354.7 103.2L356.2 101.3L356.7 100.3L357.8 99.2L359.8 99.5L362.4 100.0L360.6 101.0L362.0 102.2L363.0 102.6L365.2 101.6L366.9 101.3L368.2 101.6L370.0 102.6L372.4 104.2L374.0 104.8L374.9 106.1L374.8 107.3L372.4 108.1L369.3 108.1L366.9 107.6L364.6 106.5L361.4 106.5L358.3 107.9Z" fill="#fff"/>
<path d="M364.6 99.7L366.9 98.8L369.3 98.2L371.3 98.0L369.6 99.5L368.9 100.3L367.4 101.0L365.3 101.0Z" fill="#fff"/>
<path d="M383.4 100.8L385.7 100.0L388.1 98.8L391.2 98.7L392.8 99.2L392.8 101.1L390.5 101.3L389.7 102.4L388.6 102.7L390.5 104.5L392.0 105.6L392.3 107.3L394.4 107.3L395.2 108.1L392.8 108.9L392.8 110.5L394.4 112.1L394.4 114.1L392.8 114.9L389.7 115.0L387.3 113.9L386.5 112.5L386.8 110.8L387.3 109.2L386.5 107.3L385.0 106.0L384.2 104.8L384.2 102.4Z" fill="#fff"/>
</g>
<text class="t" x="5.1" y="20.4"><tspan class="b">A</tspan></text>
<text class="t" x="24.6" y="20.4">Age-standardized deaths rate</text>
<text class="t" x="772.1" y="20.4"><tspan class="b">B</tspan></text>
<text class="t" x="791.6" y="20.4">Age-standardized DALYs rate</text>
<text class="t" x="5.1" y="348.6"><tspan class="b">C</tspan></text>
<text class="t" x="24.6" y="348.6">Number of deaths cases</text>
<text class="t" x="772.1" y="348.6"><tspan class="b">D</tspan></text>
<text class="t" x="791.6" y="348.6">Number of DALYs cases</text>
<g class="lg">
<rect x="665.0" y="83.4" width="26.0" height="26.1" fill="#FF6F00" stroke="#2a1c14" stroke-width="0.7"/>
<text class="l" x="699.3" y="101.4">0~0.1</text>
<rect x="665.0" y="109.6" width="26.0" height="26.1" fill="#C71000" stroke="#2a1c14" stroke-width="0.7"/>
<text class="l" x="699.3" y="127.5">0.1~0.2</text>
<rect x="665.0" y="135.7" width="26.0" height="26.1" fill="#008EA0" stroke="#2a1c14" stroke-width="0.7"/>
<text class="l" x="699.3" y="153.7">0.2~0.3</text>
<rect x="665.0" y="161.8" width="26.0" height="26.1" fill="#8A4198" stroke="#2a1c14" stroke-width="0.7"/>
<text class="l" x="699.3" y="179.8">0.3~0.4</text>
<rect x="665.0" y="188.0" width="26.0" height="26.1" fill="#5A9599" stroke="#2a1c14" stroke-width="0.7"/>
<text class="l" x="699.3" y="206.0">0.4~0.5</text>
<rect x="665.0" y="214.2" width="26.0" height="26.1" fill="#FF6348" stroke="#2a1c14" stroke-width="0.7"/>
<text class="l" x="699.3" y="232.1">0.5~0.6</text>
</g>
<g class="lg">
<rect x="1435.6" y="44.2" width="26.0" height="26.1" fill="#FF6F00" stroke="#2a1c14" stroke-width="0.7"/>
<text class="l" x="1470.2" y="62.2">0~2</text>
<rect x="1435.6" y="70.3" width="26.0" height="26.1" fill="#C71000" stroke="#2a1c14" stroke-width="0.7"/>
<text class="l" x="1470.2" y="88.3">2~4</text>
<rect x="1435.6" y="96.5" width="26.0" height="26.1" fill="#008EA0" stroke="#2a1c14" stroke-width="0.7"/>
<text class="l" x="1470.2" y="114.5">4~6</text>
<rect x="1435.6" y="122.6" width="26.0" height="26.1" fill="#8A4198" stroke="#2a1c14" stroke-width="0.7"/>
<text class="l" x="1470.2" y="140.6">6~8</text>
<rect x="1435.6" y="148.8" width="26.0" height="26.1" fill="#5A9599" stroke="#2a1c14" stroke-width="0.7"/>
<text class="l" x="1470.2" y="166.8">8~10</text>
<rect x="1435.6" y="174.9" width="26.0" height="26.1" fill="#FF6348" stroke="#2a1c14" stroke-width="0.7"/>
<text class="l" x="1470.2" y="192.9">10~12</text>
<rect x="1435.6" y="201.1" width="26.0" height="26.1" fill="#84D7E1" stroke="#2a1c14" stroke-width="0.7"/>
<text class="l" x="1470.2" y="219.1">12~14</text>
<rect x="1435.6" y="227.2" width="26.0" height="26.1" fill="#FF95A8" stroke="#2a1c14" stroke-width="0.7"/>
<text class="l" x="1470.2" y="245.2">14~16</text>
<rect x="1435.6" y="253.4" width="26.0" height="26.1" fill="#3D3B25" stroke="#2a1c14" stroke-width="0.7"/>
<text class="l" x="1470.2" y="271.4">16~18</text>
</g>
<g class="lg">
<rect x="653.3" y="399.2" width="26.0" height="26.1" fill="#FF6F00" stroke="#2a1c14" stroke-width="0.7"/>
<text class="l" x="688.0" y="417.2">0~100</text>
<rect x="653.3" y="425.3" width="26.0" height="26.1" fill="#C71000" stroke="#2a1c14" stroke-width="0.7"/>
<text class="l" x="688.0" y="443.3">100~200</text>
<rect x="653.3" y="451.5" width="26.0" height="26.1" fill="#008EA0" stroke="#2a1c14" stroke-width="0.7"/>
<text class="l" x="688.0" y="469.5">200~300</text>
<rect x="653.3" y="477.6" width="26.0" height="26.1" fill="#8A4198" stroke="#2a1c14" stroke-width="0.7"/>
<text class="l" x="688.0" y="495.6">300~600</text>
<rect x="653.3" y="503.8" width="26.0" height="26.1" fill="#5A9599" stroke="#2a1c14" stroke-width="0.7"/>
<text class="l" x="688.0" y="521.8">600~900</text>
<rect x="653.3" y="530.0" width="26.0" height="26.1" fill="#FF6348" stroke="#2a1c14" stroke-width="0.7"/>
<text class="l" x="688.0" y="547.9">1500~1800</text>
<rect x="653.3" y="556.1" width="26.0" height="26.1" fill="#84D7E1" stroke="#2a1c14" stroke-width="0.7"/>
<text class="l" x="688.0" y="574.1">2100~2400</text>
</g>
<g class="lg">
<rect x="1412.6" y="385.9" width="26.0" height="26.1" fill="#FF6F00" stroke="#2a1c14" stroke-width="0.7"/>
<text class="l" x="1447.4" y="403.9">0~2000</text>
<rect x="1412.6" y="412.0" width="26.0" height="26.1" fill="#C71000" stroke="#2a1c14" stroke-width="0.7"/>
<text class="l" x="1447.4" y="430.0">2000~4000</text>
<rect x="1412.6" y="438.2" width="26.0" height="26.1" fill="#008EA0" stroke="#2a1c14" stroke-width="0.7"/>
<text class="l" x="1447.4" y="456.2">4000~6000</text>
<rect x="1412.6" y="464.3" width="26.0" height="26.1" fill="#8A4198" stroke="#2a1c14" stroke-width="0.7"/>
<text class="l" x="1447.4" y="482.3">6000~8000</text>
<rect x="1412.6" y="490.5" width="26.0" height="26.1" fill="#5A9599" stroke="#2a1c14" stroke-width="0.7"/>
<text class="l" x="1447.4" y="508.5">8000~10000</text>
<rect x="1412.6" y="516.6" width="26.0" height="26.1" fill="#FF6348" stroke="#2a1c14" stroke-width="0.7"/>
<text class="l" x="1447.4" y="534.6">10000~20000</text>
<rect x="1412.6" y="542.8" width="26.0" height="26.1" fill="#84D7E1" stroke="#2a1c14" stroke-width="0.7"/>
<text class="l" x="1447.4" y="560.8">40000~50000</text>
<rect x="1412.6" y="568.9" width="26.0" height="26.1" fill="#FF95A8" stroke="#2a1c14" stroke-width="0.7"/>
<text class="l" x="1447.4" y="586.9">50000~60000</text>
</g>
</svg></body></html>
